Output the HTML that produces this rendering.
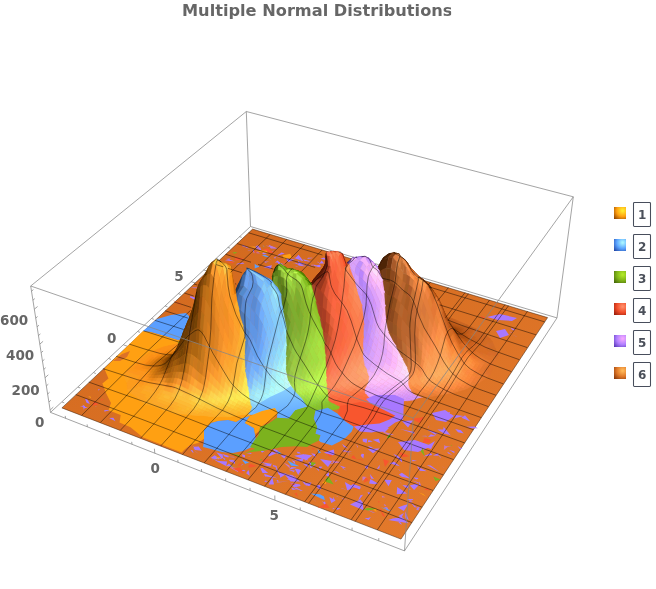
<!DOCTYPE html>
<html><head><meta charset="utf-8"><title>Multiple Normal Distributions</title>
<style>
html,body{margin:0;padding:0;background:#fff}
svg{display:block}
text{font-family:"DejaVu Sans","Liberation Sans",sans-serif;font-weight:bold;fill:#666}
.m{fill:none;stroke:#000;stroke-opacity:.75;stroke-width:.6;stroke-linejoin:round}
.b{fill:none;stroke:#858585;stroke-width:.75}
.s path{stroke-width:.5;stroke-linejoin:round}
</style></head><body>
<svg width="656" height="589" viewBox="0 0 656 589">
<rect width="656" height="589" fill="#fff"/>
<path class="b" d="M50.5 412.4 L404.5 550.9 M404.5 550.9 L557.0 317.9 M557.0 317.9 L250.5 226.5 M250.5 226.5 L50.5 412.4 M50.5 412.4 L30.7 286.0 M250.5 226.5 L246.3 111.5 M557.0 317.9 L573.3 196.8 M30.7 286.0 L246.3 111.5 M246.3 111.5 L573.3 196.8"/>
<path class="b" d="M65.6 418.4 l-0.4 -2.5 M62.0 402.0 l2.3 0.9 M87.4 426.9 l-0.3 -2.5 M78.0 387.1 l2.3 0.9 M109.5 435.6 l-0.3 -2.5 M93.5 372.6 l2.3 0.9 M132.0 444.3 l-0.3 -2.5 M108.6 358.5 l2.4 0.9 M154.8 453.3 l-0.4 -4.6 M123.3 344.8 l4.3 1.5 M178.0 462.3 l-0.2 -2.5 M137.6 331.5 l2.4 0.8 M201.6 471.5 l-0.2 -2.5 M151.5 318.5 l2.4 0.8 M225.7 480.9 l-0.1 -2.5 M165.0 305.9 l2.4 0.8 M250.1 490.4 l-0.1 -2.5 M178.2 293.6 l2.4 0.8 M274.9 500.1 l-0.1 -4.6 M191.0 281.6 l4.4 1.4 M300.2 510.0 l-0.0 -2.5 M203.6 269.9 l2.4 0.8 M325.9 520.0 l0.0 -2.5 M215.8 258.5 l2.4 0.7 M352.0 530.2 l0.1 -2.5 M227.7 247.4 l2.4 0.7 M378.7 540.6 l0.1 -2.5 M239.3 236.6 l2.4 0.7 M50.2 410.0 l3.1 -2.9 M49.0 402.0 l1.8 -1.7 M47.7 394.0 l1.8 -1.7 M46.4 385.9 l1.9 -1.7 M45.1 377.7 l3.2 -2.9 M43.8 369.4 l1.9 -1.7 M42.5 361.1 l1.9 -1.7 M41.2 352.6 l1.9 -1.6 M39.8 344.1 l3.3 -2.8 M38.5 335.5 l1.9 -1.6 M37.1 326.8 l1.9 -1.6 M35.7 318.1 l1.9 -1.6 M34.3 309.2 l3.3 -2.7 M32.9 300.2 l1.9 -1.6 M31.5 291.2 l1.9 -1.6"/>
<defs><linearGradient id="fg" gradientUnits="userSpaceOnUse" x1="252" y1="229" x2="400" y2="540"><stop offset="0" stop-color="#d36a1f"/><stop offset="1" stop-color="#e3792b"/></linearGradient></defs><path fill="url(#fg)" stroke="#3a1c06" stroke-width=".5" stroke-linejoin="round" d="M61.9 407.9 401.0 539.1 547.6 317.6 252.6 229.1 Z"/>
<path fill="#a878ff" d="M333.3 496.7 333.1 501.0 335.2 500.7ZM419.5 507.5 419.1 506.5 416.0 509.2 418.3 510.5ZM400.1 482.0 400.0 482.3 402.4 484.9ZM334.9 508.3 332.8 507.9 332.7 509.6ZM315.9 464.0 308.4 461.8 310.7 468.4ZM288.4 466.5 288.2 466.0 287.6 465.9 285.1 464.5ZM416.9 466.3 419.8 470.7 426.8 471.3ZM271.8 463.6 262.7 464.9 270.6 466.5ZM411.2 489.7 408.4 488.3 409.0 489.6ZM363.1 494.8 360.4 495.2 358.2 500.2 360.2 498.6ZM337.4 496.1 336.1 496.0 337.9 496.8 338.6 498.6ZM387.1 507.3 383.9 507.2 386.2 508.8 388.4 509.5ZM413.2 501.6 409.6 501.2 408.1 503.2ZM477.9 428.2 474.4 426.6 466.4 426.7 471.9 428.2ZM355.9 443.9 358.0 446.8 357.9 448.0ZM414.6 433.7 413.9 431.7 408.0 430.7 399.4 428.8ZM321.5 488.3 319.9 487.0 316.8 487.8ZM400.3 522.3 397.5 521.2 400.7 524.2 402.1 524.6ZM371.2 493.0 367.4 492.0 367.8 492.8 368.7 494.4ZM378.0 483.6 370.3 479.0 369.1 483.4 374.6 484.3ZM335.7 500.4 329.2 497.1 331.0 502.3 331.4 503.0ZM329.0 472.1 325.7 475.1 328.8 477.1ZM339.6 460.1 340.9 460.4 342.8 461.1ZM399.9 466.3 394.3 461.7 389.3 463.3ZM384.9 504.2 383.6 505.0 386.2 506.3ZM391.8 480.1 384.2 479.7 388.5 486.3ZM368.5 464.8 364.6 467.1 367.3 469.3ZM438.3 453.0 433.0 455.4 438.7 455.3ZM342.0 443.8 343.9 447.1 348.2 448.4ZM408.6 523.2 402.2 517.3 392.7 518.5 388.2 519.9ZM267.7 481.4 265.8 480.5 264.4 481.2 265.0 481.9ZM377.5 460.0 376.9 459.6 378.1 461.1ZM322.7 466.8 319.8 466.6 318.7 466.9 320.2 469.1ZM317.0 496.6 322.4 498.8 323.3 499.5ZM454.5 451.5 448.9 449.7 455.6 454.0 454.4 453.2ZM403.9 513.1 398.4 516.0 401.4 518.1ZM407.1 493.6 397.2 487.0 396.7 494.3ZM300.6 485.9 300.0 484.6 290.0 482.8 294.2 487.4ZM429.7 424.6 428.4 427.5 427.7 428.1ZM410.7 502.2 414.5 507.3 417.5 506.9 419.1 508.9ZM365.3 508.9 372.7 512.4 375.5 512.9ZM462.5 449.1 458.9 446.8 457.5 446.0 459.6 448.8ZM353.8 487.0 344.8 482.1 347.2 490.2 351.6 488.7ZM405.3 511.3 405.4 517.3 405.6 518.3 408.8 519.9ZM413.4 499.7 412.6 498.9 406.6 499.1 410.3 500.7ZM437.9 454.5 439.1 455.4 440.5 457.0 440.9 458.6ZM442.3 425.3 443.6 427.0 442.8 432.1 450.8 435.5ZM362.8 502.6 360.3 499.5 350.0 504.4 363.6 510.2ZM348.3 451.5 348.4 455.0 348.8 455.7ZM448.5 452.2 447.2 452.1 448.2 453.5 452.2 455.1ZM432.4 455.0 430.6 453.1 423.3 456.5ZM305.2 482.7 305.0 482.3 301.9 481.0 306.8 486.5ZM401.9 472.7 398.8 474.4 401.8 476.8 410.8 478.7ZM272.2 477.3 268.5 484.5 273.7 484.4 273.9 483.8ZM382.6 449.5 382.9 450.2 382.3 450.5ZM264.5 451.0 260.8 451.1 262.0 452.8ZM228.5 455.8 222.4 454.1 224.5 456.4 228.5 457.4ZM448.9 433.5 448.1 432.0 442.5 432.9 447.5 434.5ZM330.2 463.8 331.6 463.3 333.3 463.5ZM465.0 415.3 464.4 415.7 461.5 417.7 470.3 421.6ZM326.0 504.1 321.9 501.1 326.1 506.8ZM298.2 483.4 288.1 479.1 286.5 479.1ZM302.7 490.3 299.9 489.8 299.7 490.8ZM341.8 450.4 343.7 450.5 352.5 454.0ZM427.3 436.5 426.0 435.7 421.0 435.9ZM364.0 454.0 361.7 453.7 360.7 455.8 363.4 458.4ZM247.3 460.3 246.6 459.4 245.8 459.4ZM337.7 480.5 335.3 480.5 335.2 481.7ZM352.1 451.9 347.7 451.3 343.9 449.9 343.3 452.0ZM378.8 438.8 372.6 439.8 380.2 443.3ZM325.1 501.6 324.5 501.4 323.8 503.6 326.0 505.3ZM409.1 485.7 402.3 484.9 406.5 488.2 407.8 487.8ZM444.4 467.6 444.2 467.3 441.3 466.4ZM340.7 508.4 336.4 507.5 336.7 510.0ZM417.8 479.0 418.5 477.9 412.9 477.3 416.2 479.4ZM417.1 460.9 412.1 459.7 412.7 460.0 411.6 461.3ZM369.9 473.9 371.0 478.6 374.0 479.0ZM346.8 470.7 342.0 468.2 346.2 467.6 339.5 465.6ZM245.1 455.2 242.1 454.2 242.5 456.6 244.9 457.6ZM304.3 454.1 294.0 455.8 303.3 459.2 308.2 460.4ZM397.6 468.4 398.1 469.0 399.4 470.6 400.3 470.6ZM419.6 481.2 419.0 484.6 421.1 486.6ZM373.1 447.4 367.8 445.7 370.0 448.1 371.3 447.9ZM233.8 467.7 231.4 465.4 226.1 466.0ZM333.8 449.5 323.9 452.4 330.9 455.8 334.6 454.6ZM227.2 461.4 215.9 460.7 226.1 466.1ZM291.2 487.5 292.7 490.0 295.7 489.4 295.4 489.1ZM276.4 453.3 272.0 451.8 268.1 455.0 268.9 456.4ZM264.5 456.8 263.4 456.5 270.8 459.6ZM320.0 485.1 316.5 485.6 317.3 488.0 320.9 489.4ZM401.9 459.5 397.4 455.5 393.3 454.1 402.2 462.5ZM288.3 481.5 276.0 482.1 277.6 482.6ZM385.9 501.8 385.7 501.4 385.3 502.2ZM430.7 465.5 426.8 465.1 440.0 472.3ZM412.3 480.4 419.0 483.4 418.3 482.3ZM348.1 490.8 341.9 487.9 340.9 487.9ZM273.0 465.0 272.9 466.2 276.7 467.3 276.7 466.1ZM437.6 435.8 434.2 435.3 432.4 435.2ZM296.2 487.4 294.8 488.7 302.9 490.9ZM367.3 438.8 362.6 438.7 362.8 441.5 366.6 442.9ZM333.5 507.0 335.5 506.9 337.4 506.4ZM370.9 517.0 367.9 518.1 364.5 518.0 368.7 519.9ZM286.9 456.5 282.8 455.8 283.0 456.5 284.2 456.8ZM435.4 436.0 430.9 434.2 428.0 437.1ZM372.8 441.6 371.6 440.9 368.5 440.0 367.7 442.2ZM439.5 433.8 426.7 429.4 436.5 435.6 435.0 433.6ZM220.2 459.1 214.7 455.3 210.6 457.9 215.7 459.3ZM346.9 499.8 345.6 499.4 346.3 499.9ZM408.1 504.3 404.0 505.3 397.8 507.4 403.8 511.1ZM311.5 482.6 303.3 483.7 308.4 485.9 310.0 485.8ZM315.1 500.8 311.4 497.8 316.9 502.5ZM340.3 474.1 337.0 471.5 336.0 471.4 332.9 471.2ZM360.8 486.7 353.2 484.0 350.1 486.0 359.9 489.4ZM451.3 446.5 445.5 446.0 447.4 447.6 444.5 447.1ZM279.5 481.1 278.0 480.9 270.8 480.4ZM460.9 430.2 455.2 428.9 458.0 432.3 463.8 433.6ZM418.9 485.0 416.3 483.7 409.9 485.4 414.1 490.1ZM286.7 455.1 280.5 455.5 284.3 458.4ZM445.2 432.8 443.7 429.4 437.3 429.4 444.8 433.9ZM463.9 416.1 454.6 415.1 455.6 416.9 452.4 418.7ZM346.2 500.1 344.1 499.1 342.9 498.3 341.6 498.4ZM379.8 464.8 376.7 469.3 379.4 468.3ZM278.3 480.6 277.2 480.0 276.6 480.5 278.5 482.8ZM292.6 475.3 284.3 474.1 290.7 481.6 300.1 481.5ZM237.6 265.1 238.0 265.6 241.2 267.5 242.7 268.8ZM230.1 258.9 231.0 258.8 224.0 257.4ZM269.1 261.3 266.0 261.7 263.6 261.0 265.6 262.7ZM229.3 280.5 228.6 279.6 225.3 277.5 220.2 279.5ZM277.7 248.5 268.4 244.8 270.8 248.5ZM302.2 263.8 300.6 263.2 297.9 266.2ZM207.9 281.0 205.5 280.1 200.7 281.2ZM291.3 264.3 294.4 265.5 297.0 267.1 298.0 267.1ZM235.2 261.5 229.7 259.7 229.3 258.9 225.0 260.3ZM243.1 245.3 241.6 246.1 247.3 247.2ZM268.1 266.7 266.0 266.4 264.6 266.4 271.2 268.8ZM190.4 296.2 189.8 297.2 195.4 300.0 197.2 298.9ZM320.3 264.8 313.5 265.8 319.8 267.3 320.6 267.1ZM277.3 260.4 277.6 262.5 278.2 263.8 284.9 266.2ZM201.2 287.5 190.8 287.6 194.6 288.3ZM270.9 267.3 272.1 265.3 263.2 266.9 270.1 268.8ZM272.1 260.4 270.1 259.0 267.9 257.9ZM201.0 293.4 202.0 293.4 200.2 294.9ZM325.1 268.5 324.9 267.4 323.1 267.6ZM327.4 260.2 324.0 257.4 320.4 258.8ZM275.8 256.5 273.5 258.0 275.4 258.4ZM297.8 260.6 298.9 264.5 302.0 264.2ZM317.3 261.6 319.3 262.8 317.9 262.7ZM189.9 296.1 191.1 297.5 195.7 297.6ZM277.4 260.5 275.0 262.7 278.0 262.2ZM271.7 266.4 270.7 267.3 270.0 267.7 270.9 268.5ZM306.7 264.2 299.9 262.5 299.0 263.6 301.4 264.5ZM251.5 250.3 247.2 250.6 248.9 250.8ZM244.6 263.5 242.9 262.5 237.0 263.7 235.9 264.4ZM228.8 275.4 223.0 274.6 227.8 276.0ZM284.9 264.0 281.8 263.0 278.9 262.7ZM299.2 263.7 295.7 264.3 299.2 264.5ZM294.4 262.4 299.6 265.8 306.7 266.4ZM260.5 248.0 256.1 248.6 257.7 249.3 261.3 250.3ZM254.6 252.4 253.8 249.7 252.7 250.1 254.0 253.5ZM272.7 259.5 275.3 260.5 277.3 261.3ZM246.4 246.8 245.3 247.3 249.7 248.8ZM295.0 259.3 286.5 258.9 287.2 260.4 288.4 262.0ZM280.7 257.8 277.5 256.7 275.7 256.7ZM319.2 267.6 315.1 265.0 312.0 264.8ZM309.5 266.3 306.2 264.0 306.1 264.7 310.8 267.3ZM300.5 264.1 298.8 263.5 291.8 264.0ZM284.9 256.7 286.9 259.7 292.7 261.4ZM324.2 263.5 321.7 260.4 318.5 264.5 320.4 263.6ZM260.0 253.5 257.3 251.8 257.1 251.5 255.8 253.1ZM267.1 254.0 263.5 252.2 262.1 254.1ZM298.5 254.7 295.6 257.7 293.2 257.7 303.5 261.2ZM284.7 253.4 281.6 252.6 276.4 256.1ZM300.1 259.8 298.9 257.6 302.3 262.5ZM274.2 250.4 273.5 250.8 272.6 251.0 270.2 253.0ZM258.8 246.1 257.2 245.4 255.0 247.3 258.6 247.7ZM311.6 261.6 303.1 259.3 304.5 261.0ZM312.7 257.9 312.2 257.8 308.1 257.8 307.2 259.1ZM260.0 248.3 261.1 247.7 255.4 247.0 253.2 246.8ZM306.7 260.7 307.6 261.6 314.1 264.3 316.9 265.7ZM256.9 249.6 257.1 248.5 255.7 248.7 254.7 248.1ZM258.1 249.1 259.2 248.4 257.9 248.4ZM113.3 417.7 109.1 418.0 115.5 421.3ZM87.4 399.6 85.1 398.9 86.6 402.7 89.9 403.9ZM96.4 405.9 95.1 406.3 96.1 406.5ZM85.2 406.3 82.6 404.8 83.9 410.1ZM111.3 409.7 104.2 410.2 104.5 411.5 104.0 411.8ZM100.2 389.4 98.2 389.2 97.9 390.6ZM75.6 404.2 76.0 403.7 75.2 404.9ZM88.5 408.2 82.9 405.8 79.8 405.9ZM193.2 446.1 194.8 450.1 200.0 450.6ZM220.5 462.2 211.4 458.0 218.8 462.6ZM198.7 446.5 194.1 446.7 193.5 448.5 201.9 450.9ZM212.4 456.6 212.2 457.8 212.8 462.0ZM192.2 449.9 190.6 450.2 192.9 452.7 193.6 452.4ZM196.7 452.6 191.6 447.9 199.1 454.3ZM231.2 465.8 229.0 463.5 225.8 466.3ZM221.3 458.5 221.5 457.3 217.9 460.0ZM245.5 470.6 243.1 469.8 241.7 470.8 244.7 471.3ZM286.8 473.8 279.2 472.5 280.2 477.8ZM265.8 452.9 262.2 450.7 256.0 447.8ZM269.6 463.5 260.5 462.1 261.4 462.4 270.2 465.6ZM315.1 453.9 311.2 453.3 313.8 456.0 315.9 456.9ZM303.4 458.5 293.5 460.1 298.4 460.9 302.4 461.7ZM268.6 468.4 265.3 468.9 266.0 469.2ZM264.1 473.8 265.0 476.5 265.9 476.5 277.5 478.2ZM319.3 471.5 318.3 468.7 316.0 468.3ZM235.1 457.5 233.4 456.8 232.1 456.7 226.6 456.8ZM262.6 467.9 260.3 468.3 262.6 473.0 268.1 473.0ZM222.6 454.6 216.3 452.2 221.9 458.7 223.0 457.3ZM251.0 456.9 249.2 456.5 247.0 456.5ZM251.3 454.1 251.3 453.1 246.3 452.8 246.1 453.1ZM294.6 461.2 291.5 460.3 295.5 464.4ZM277.6 450.3 272.0 448.6 277.9 454.6ZM300.9 453.5 299.2 452.0 296.7 451.8 297.7 453.5ZM288.5 469.7 293.8 471.9 294.9 470.5ZM308.2 464.9 306.8 464.2 303.1 464.1 308.6 467.7ZM275.9 465.4 275.6 467.5 278.7 474.5 280.3 475.4ZM249.2 471.8 248.3 470.1 246.2 473.3 249.6 475.7ZM225.5 459.1 221.5 456.4 224.6 460.0ZM301.0 470.3 298.1 469.0 294.7 468.7 298.2 475.1ZM312.4 455.6 304.9 454.2 305.2 460.8ZM243.8 464.6 241.6 464.4 241.2 465.4ZM296.8 467.5 291.5 467.0 289.2 469.3 291.0 469.3ZM312.5 456.6 313.2 458.4 314.1 459.1ZM235.2 460.0 229.3 459.7 228.9 460.3 230.9 462.0ZM235.1 460.9 231.2 461.8 232.5 462.2 234.8 464.0ZM499.0 320.3 497.0 320.7 497.1 321.5 497.8 321.5ZM515.6 329.8 511.5 328.1 510.6 328.3 513.2 330.4ZM484.0 390.5 483.6 390.9 483.6 391.4ZM517.5 336.4 515.9 335.9 512.1 335.5ZM487.0 317.0 500.0 314.0 517.0 318.0 512.0 321.0 498.0 320.0ZM496.0 331.0 505.0 329.0 509.0 335.0 500.0 338.0ZM432.0 413.0 445.0 410.0 454.0 416.0 446.0 422.0 436.0 420.0ZM398.0 442.0 415.0 440.0 432.0 446.0 418.0 452.0 404.0 450.0ZM402.0 421.0 413.0 420.6 408.0 427.6ZM425.0 447.0 435.0 441.0 431.0 449.0ZM443.0 414.0 450.0 412.0 449.0 420.0ZM367.6 449.0 379.5 448.4 373.0 453.3ZM320.0 459.0 332.0 461.0 328.0 467.0ZM359.6 424.6 389.0 428.0 385.0 432.0 360.0 431.0Z"/>
<path fill="#c878c0" d="M289.7 474.0 293.4 477.0 295.6 475.9 295.9 477.0ZM447.5 446.9 444.1 444.9 444.3 445.8 443.8 450.0ZM366.9 477.1 362.4 476.5 362.5 480.7 362.1 481.3ZM394.0 434.4 380.9 430.9 388.9 435.6ZM283.4 462.5 289.5 465.5 290.0 468.4ZM385.5 497.3 382.8 496.1 381.9 495.7 382.0 497.5ZM239.8 468.2 229.3 467.2 237.9 472.1ZM266.2 250.1 265.7 249.7 263.4 251.7 264.7 252.1ZM272.8 248.0 275.9 248.2 272.0 246.6 265.3 245.5ZM238.4 258.6 237.2 258.5 235.8 258.5ZM245.9 245.5 243.8 245.2 241.8 244.7ZM311.7 262.7 312.0 263.7 311.3 265.9 312.7 266.5ZM191.5 446.8 184.9 445.9 184.4 446.4ZM264.4 474.5 264.1 476.2 263.5 476.4ZM341.3 462.3 331.8 460.2 333.5 462.3 330.3 463.8ZM509.1 331.9 510.2 331.8 514.1 332.9ZM494.2 317.2 493.2 317.0 493.2 317.2 497.9 319.4Z"/>
<path fill="#7cb21e" d="M273.1 473.0 272.8 472.9 271.0 473.1ZM450.7 445.5 451.1 444.8 452.6 445.5ZM422.8 447.7 420.7 451.2 424.7 456.3ZM390.5 433.4 388.2 435.5 386.8 438.2 389.6 438.1ZM240.4 456.8 238.4 454.8 229.1 453.0ZM440.7 479.5 433.2 476.6 435.5 480.9ZM377.2 508.8 367.7 507.7 363.4 509.5 368.1 510.5ZM328.4 476.2 324.0 481.2 333.7 484.4ZM237.5 252.3 232.3 252.3 234.6 253.7ZM232.6 465.4 230.9 466.0 232.5 467.3ZM316.1 462.8 310.7 461.9 311.6 467.1 312.8 465.9ZM263.7 459.7 261.1 458.9 258.8 461.0Z"/>
<path fill="#f8562e" d="M430.4 490.6 426.2 487.7 424.3 489.8ZM363.1 460.4 363.4 460.0 361.8 459.5 353.4 458.4ZM382.1 509.4 379.7 509.2 380.0 511.8ZM332.5 455.0 326.3 453.4 330.8 457.6 330.5 457.3ZM256.8 466.0 250.0 463.7 248.1 466.3 249.4 467.7ZM398.7 431.4 394.4 428.1 394.2 428.6ZM379.9 502.1 378.3 500.9 378.1 502.4 378.9 502.2ZM312.9 448.0 311.8 448.0 312.7 449.6 314.9 450.3ZM353.4 454.9 351.1 457.4 352.8 458.5 356.5 458.9ZM430.9 439.5 424.5 438.1 422.8 443.1 429.7 442.7ZM296.2 492.0 296.1 493.3 294.4 493.5 298.0 496.9ZM414.0 434.2 412.1 433.4 412.5 435.6 413.6 435.8ZM419.1 442.1 419.1 442.4 419.5 442.5ZM379.6 507.9 382.5 515.5 385.8 517.5ZM358.1 482.2 351.7 483.3 353.1 483.7ZM326.3 503.5 317.5 507.5 329.5 507.9ZM369.0 480.2 365.9 477.0 363.6 482.7 366.5 481.5ZM412.4 504.9 413.6 505.3 414.5 506.1 417.6 506.5ZM361.5 489.7 354.9 488.3 352.4 489.0ZM288.7 483.1 293.4 485.3 295.4 483.9ZM367.5 476.0 369.7 478.8 370.8 478.3ZM409.3 456.2 398.7 451.6 398.7 451.8 402.2 457.3ZM259.7 253.6 257.2 252.3 254.2 250.9 253.6 252.0ZM246.8 269.5 245.0 268.6 245.4 268.0 244.3 268.1ZM233.5 263.5 233.2 262.5 234.7 262.1 223.7 261.4ZM244.3 258.8 235.0 257.0 235.6 260.6ZM172.2 300.1 180.1 303.6 181.4 305.2ZM285.9 261.8 285.2 261.4 281.0 261.5 285.2 262.9ZM243.8 270.9 242.2 270.5 242.1 270.0ZM227.1 274.8 223.7 276.2 227.1 278.9ZM267.6 248.3 261.7 249.9 267.1 252.3 274.4 253.5ZM98.8 404.3 93.8 401.5 92.4 405.7ZM86.2 389.3 87.4 390.6 88.6 391.8ZM113.3 400.9 113.0 401.0 111.3 401.6 113.4 402.1ZM108.4 389.0 109.7 388.5 105.9 389.8ZM103.6 399.4 102.1 398.9 101.8 398.8 100.8 400.7ZM216.5 462.2 211.0 459.9 210.1 460.0ZM239.9 467.4 232.5 468.4 244.0 473.9ZM270.7 459.4 261.3 459.2 264.5 461.9 264.1 462.4ZM241.8 464.5 239.6 463.2 237.7 466.1ZM215.3 454.1 216.6 453.8 209.9 450.8ZM291.3 464.6 291.4 464.2 291.7 464.9ZM269.1 450.6 268.3 449.8 263.8 448.8 263.3 449.0ZM300.4 461.2 299.9 467.0 299.3 465.8ZM480.9 315.8 481.4 317.3 484.5 318.4 486.9 318.5ZM411.0 419.0 424.0 417.0 420.0 423.0ZM383.0 459.0 389.0 461.0 385.0 467.0Z"/>
<path fill="#ffa012" d="M376.1 508.7 373.2 509.6 376.5 512.1ZM426.2 496.7 423.1 494.1 418.5 492.3ZM315.6 465.4 308.1 465.1 308.8 465.9ZM278.8 481.4 278.8 481.9 280.5 482.2ZM326.0 479.7 322.1 483.1 326.1 483.9ZM255.8 247.7 255.1 246.7 254.4 246.6 247.6 247.0ZM291.7 257.7 290.3 253.8 282.5 255.4 283.9 259.0ZM268.1 253.2 266.7 250.8 262.1 250.5 256.8 251.3ZM90.9 396.9 90.1 396.6 88.1 396.6 90.8 398.0ZM225.5 466.9 228.8 466.4 230.7 467.0 232.3 466.8ZM162.1 438.3 152.6 441.0 160.5 442.2 161.3 442.7ZM221.8 456.7 215.9 457.5 217.3 458.8ZM497.8 322.0 494.9 322.1 494.7 323.5Z"/>
<path fill="#5b9fff" d="M317.7 449.0 318.1 453.3 321.1 452.8ZM324.0 496.4 320.0 494.2 310.5 493.6 324.8 500.3ZM380.5 506.9 388.1 510.7 391.6 510.5ZM287.3 460.6 291.2 465.8 299.4 466.3ZM259.8 266.5 256.2 265.0 254.7 263.8 254.7 268.4ZM263.0 246.2 264.2 246.3 261.8 244.6 264.7 247.1ZM326.2 271.2 322.6 269.6 324.2 272.1ZM216.1 269.5 211.6 270.6 211.4 270.9ZM265.1 254.7 261.9 255.1 264.7 256.4 270.0 257.5ZM241.6 459.2 244.9 463.4 244.9 464.0 249.1 462.6ZM281.8 453.5 277.2 450.8 278.5 453.9Z"/>
<path fill="#ffa012" d="M105.0 368.0 143.0 331.0 151.0 332.0 165.0 336.0 178.0 340.0 230.0 360.0 262.0 400.0 250.0 416.0 243.0 418.0 236.0 422.0 228.0 420.0 218.0 421.0 211.0 423.0 204.0 430.0 205.0 438.0 198.0 443.0 190.0 445.0 184.0 450.0 181.7 452.5 142.7 437.3 130.5 427.3 119.5 422.4 120.7 415.0 108.5 410.2 111.0 402.9 106.0 393.0 102.4 383.4 108.5 378.5 104.9 370.0 Z"/>
<path fill="#dc7228" d="M113.0 361.0 122.0 354.0 130.0 351.0 127.0 357.0 120.0 361.0 Z"/>
<path fill="#5b9fff" d="M143.0 331.0 157.0 319.0 171.0 315.0 186.0 313.0 190.0 317.0 192.0 330.0 186.0 338.0 178.0 340.0 165.0 336.0 151.0 332.0 Z"/>
<path fill="#5b9fff" d="M262.0 395.0 330.0 395.0 328.0 408.0 315.5 410.2 307.0 407.0 295.0 410.0 289.0 418.6 277.0 417.7 278.0 413.0 275.0 408.0 262.0 411.0 Z"/>

<g class="s">
<path fill="#c0601e" stroke="#c0601e" d="M442.8 316.9 445.9 317.8 446.5 316.9 443.2 316.4ZM445.9 317.8 448.9 318.7 449.6 317.7 446.5 316.9ZM448.9 318.7 451.9 319.7 452.6 318.7 449.6 317.7Z"/>
<path fill="#c6601e" stroke="#c6601e" d="M451.9 319.7 454.8 320.8 455.5 319.8 452.6 318.7Z"/>
<path fill="#c66624" stroke="#c66624" d="M454.8 320.8 457.7 321.9 458.4 321 455.5 319.8Z"/>
<path fill="#cc6624" stroke="#cc6624" d="M457.7 321.9 460.7 322.9 461.2 322.2 458.4 321ZM460.7 322.9 463.6 323.9 463.9 323.5 461.2 322.2ZM463.6 323.9 466.6 324.9 466.7 324.8 463.9 323.5Z"/>
<path fill="#c66624" stroke="#c66624" d="M466.6 324.9 467.9 325.4 466.7 324.8Z"/>
<path fill="#c05a1e" stroke="#c05a1e" d="M442 318.1 445.1 319 445.9 317.8 442.8 316.9ZM445.1 319 448.2 319.9 448.9 318.7 445.9 317.8Z"/>
<path fill="#c0601e" stroke="#c0601e" d="M448.2 319.9 451.1 320.9 451.9 319.7 448.9 318.7Z"/>
<path fill="#c6601e" stroke="#c6601e" d="M451.1 320.9 454 322 454.8 320.8 451.9 319.7ZM454 322 456.8 323.2 457.7 321.9 454.8 320.8Z"/>
<path fill="#c66624" stroke="#c66624" d="M456.8 323.2 459.7 324.3 460.7 322.9 457.7 321.9ZM459.7 324.3 462.6 325.4 463.6 323.9 460.7 322.9ZM462.6 325.4 465.6 326.4 466.6 324.9 463.6 323.9Z"/>
<path fill="#c6601e" stroke="#c6601e" d="M465.6 326.4 468.6 327.4 469.5 326.1 467.9 325.4 466.6 324.9ZM468.6 327.4 471.6 328.4 472.4 327.3 469.5 326.1Z"/>
<path fill="#c66624" stroke="#c66624" d="M471.6 328.4 474.5 329.5 475.3 328.5 472.4 327.3Z"/>
<path fill="#cc6624" stroke="#cc6624" d="M474.5 329.5 477.5 330.5 478.2 329.7 475.3 328.5ZM477.5 330.5 480.6 331.6 480.9 331.2 478.2 329.7ZM480.6 331.6 482.1 332.1 480.9 331.2Z"/>
<path fill="#ba5a18" stroke="#ba5a18" d="M444.6 320 447.5 321 448.2 319.9 445.1 319Z"/>
<path fill="#ba5a1e" stroke="#ba5a1e" d="M447.5 321 450.4 322 451.1 320.9 448.2 319.9Z"/>
<path fill="#c0601e" stroke="#c0601e" d="M450.4 322 453.3 323.1 454 322 451.1 320.9Z"/>
<path fill="#c6601e" stroke="#c6601e" d="M453.3 323.1 456.1 324.4 456.8 323.2 454 322ZM456.1 324.4 458.8 325.6 459.7 324.3 456.8 323.2ZM458.8 325.6 461.7 326.7 462.6 325.4 459.7 324.3Z"/>
<path fill="#c0601e" stroke="#c0601e" d="M461.7 326.7 464.6 327.7 465.6 326.4 462.6 325.4ZM464.6 327.7 467.6 328.7 468.6 327.4 465.6 326.4Z"/>
<path fill="#c6601e" stroke="#c6601e" d="M467.6 328.7 470.5 329.8 471.6 328.4 468.6 327.4ZM470.5 329.8 473.5 330.9 474.5 329.5 471.6 328.4Z"/>
<path fill="#cc6624" stroke="#cc6624" d="M473.5 330.9 476.4 332.1 477.5 330.5 474.5 329.5ZM476.4 332.1 479.4 333.2 480.6 331.6 477.5 330.5ZM479.4 333.2 482.4 334.3 483.3 333 482.1 332.1 480.6 331.6ZM482.4 334.3 485.4 335.3 485.7 335 483.3 333ZM485.4 335.3 486.5 335.7 485.7 335Z"/>
<path fill="#ba5a18" stroke="#ba5a18" d="M446.4 322.1 449.3 323.2 450.4 322 447.5 321ZM449.3 323.2 452.2 324.3 453.3 323.1 450.4 322Z"/>
<path fill="#c05a18" stroke="#c05a18" d="M452.2 324.3 455.1 325.5 456.1 324.4 453.3 323.1ZM455.1 325.5 458 326.7 458.8 325.6 456.1 324.4Z"/>
<path fill="#ba5a18" stroke="#ba5a18" d="M458 326.7 460.9 327.8 461.7 326.7 458.8 325.6ZM460.9 327.8 463.8 328.9 464.6 327.7 461.7 326.7Z"/>
<path fill="#c05a1e" stroke="#c05a1e" d="M463.8 328.9 466.7 330 467.6 328.7 464.6 327.7Z"/>
<path fill="#c0601e" stroke="#c0601e" d="M466.7 330 469.6 331.1 470.5 329.8 467.6 328.7Z"/>
<path fill="#c6601e" stroke="#c6601e" d="M469.6 331.1 472.5 332.3 473.5 330.9 470.5 329.8Z"/>
<path fill="#cc6624" stroke="#cc6624" d="M472.5 332.3 475.3 333.5 476.4 332.1 473.5 330.9ZM475.3 333.5 478.2 334.8 479.4 333.2 476.4 332.1ZM478.2 334.8 481.2 335.9 482.4 334.3 479.4 333.2ZM481.2 335.9 484.2 337 485.4 335.3 482.4 334.3ZM484.2 337 487.3 338.1 488.1 337 486.5 335.7 485.4 335.3Z"/>
<path fill="#d26624" stroke="#d26624" d="M487.3 338.1 490.4 339.2 490.4 339.1 488.1 337ZM490.4 339.2 490.5 339.2 490.4 339.1Z"/>
<path fill="#b45418" stroke="#b45418" d="M448.1 324.2 451 325.4 452.2 324.3 449.3 323.2ZM451 325.4 453.9 326.5 455.1 325.5 452.2 324.3Z"/>
<path fill="#b45412" stroke="#b45412" d="M453.9 326.5 456.8 327.6 458 326.7 455.1 325.5ZM456.8 327.6 459.7 328.8 460.9 327.8 458 326.7Z"/>
<path fill="#b45418" stroke="#b45418" d="M459.7 328.8 462.6 330 463.8 328.9 460.9 327.8Z"/>
<path fill="#ba5a18" stroke="#ba5a18" d="M462.6 330 465.6 331.2 466.7 330 463.8 328.9Z"/>
<path fill="#c05a1e" stroke="#c05a1e" d="M465.6 331.2 468.5 332.4 469.6 331.1 466.7 330Z"/>
<path fill="#c6601e" stroke="#c6601e" d="M468.5 332.4 471.4 333.6 472.5 332.3 469.6 331.1Z"/>
<path fill="#cc661e" stroke="#cc661e" d="M471.4 333.6 474.3 334.9 475.3 333.5 472.5 332.3Z"/>
<path fill="#cc6624" stroke="#cc6624" d="M474.3 334.9 477.1 336.2 478.2 334.8 475.3 333.5ZM477.1 336.2 480.1 337.4 481.2 335.9 478.2 334.8ZM480.1 337.4 483 338.6 484.2 337 481.2 335.9ZM483 338.6 486.1 339.7 487.3 338.1 484.2 337Z"/>
<path fill="#d26624" stroke="#d26624" d="M486.1 339.7 489.1 340.8 490.4 339.2 487.3 338.1Z"/>
<path fill="#d26c24" stroke="#d26c24" d="M489.1 340.8 492.2 342 492.4 341.7 490.5 339.2 490.4 339.2ZM492.2 342 492.5 342.1 492.4 341.7Z"/>
<path fill="#a84e12" stroke="#a84e12" d="M449.9 326.1 452.8 327.2 453.9 326.5 451 325.4ZM452.8 327.2 455.7 328.3 456.8 327.6 453.9 326.5ZM455.7 328.3 458.6 329.5 459.7 328.8 456.8 327.6Z"/>
<path fill="#ae4e12" stroke="#ae4e12" d="M458.6 329.5 461.5 330.8 462.6 330 459.7 328.8Z"/>
<path fill="#b45418" stroke="#b45418" d="M461.5 330.8 464.4 332.2 465.6 331.2 462.6 330Z"/>
<path fill="#c05a18" stroke="#c05a18" d="M464.4 332.2 467.3 333.6 468.5 332.4 465.6 331.2Z"/>
<path fill="#c6601e" stroke="#c6601e" d="M467.3 333.6 470.2 335 471.4 333.6 468.5 332.4Z"/>
<path fill="#cc661e" stroke="#cc661e" d="M470.2 335 473.1 336.3 474.3 334.9 471.4 333.6ZM473.1 336.3 476.1 337.6 477.1 336.2 474.3 334.9Z"/>
<path fill="#cc6624" stroke="#cc6624" d="M476.1 337.6 479 338.9 480.1 337.4 477.1 336.2ZM479 338.9 481.9 340.2 483 338.6 480.1 337.4ZM481.9 340.2 484.9 341.3 486.1 339.7 483 338.6Z"/>
<path fill="#d26c24" stroke="#d26c24" d="M484.9 341.3 487.9 342.5 489.1 340.8 486.1 339.7ZM487.9 342.5 491 343.6 492.2 342 489.1 340.8Z"/>
<path fill="#d26c2a" stroke="#d26c2a" d="M491 343.6 493.6 344.7 492.5 342.1 492.2 342Z"/>
<path fill="#96420c" stroke="#96420c" d="M448.7 326.4 451.7 327.5 452.8 327.2 449.9 326.1ZM451.7 327.5 454.6 328.6 455.7 328.3 452.8 327.2Z"/>
<path fill="#9c480c" stroke="#9c480c" d="M454.6 328.6 457.5 329.9 458.6 329.5 455.7 328.3Z"/>
<path fill="#a84e12" stroke="#a84e12" d="M457.5 329.9 460.4 331.4 461.5 330.8 458.6 329.5Z"/>
<path fill="#b45412" stroke="#b45412" d="M460.4 331.4 463.3 333 464.4 332.2 461.5 330.8Z"/>
<path fill="#ba5a18" stroke="#ba5a18" d="M463.3 333 466.1 334.7 467.3 333.6 464.4 332.2Z"/>
<path fill="#c6601e" stroke="#c6601e" d="M466.1 334.7 469 336.2 470.2 335 467.3 333.6ZM469 336.2 471.9 337.6 473.1 336.3 470.2 335ZM471.9 337.6 474.9 338.9 476.1 337.6 473.1 336.3Z"/>
<path fill="#cc661e" stroke="#cc661e" d="M474.9 338.9 477.8 340.3 479 338.9 476.1 337.6Z"/>
<path fill="#cc6624" stroke="#cc6624" d="M477.8 340.3 480.8 341.6 481.9 340.2 479 338.9Z"/>
<path fill="#d26624" stroke="#d26624" d="M480.8 341.6 483.7 342.9 484.9 341.3 481.9 340.2Z"/>
<path fill="#d26c24" stroke="#d26c24" d="M483.7 342.9 486.7 344.2 487.9 342.5 484.9 341.3Z"/>
<path fill="#d26c2a" stroke="#d26c2a" d="M486.7 344.2 489.7 345.3 491 343.6 487.9 342.5ZM489.7 345.3 492.8 346.5 493.8 345.2 493.6 344.7 491 343.6ZM492.8 346.5 494.6 347.2 493.8 345.2Z"/>
<path fill="#8a3c0c" stroke="#8a3c0c" d="M450.5 327.3 453.5 328.6 454.6 328.6 451.7 327.5Z"/>
<path fill="#96420c" stroke="#96420c" d="M453.5 328.6 456.4 330 457.5 329.9 454.6 328.6Z"/>
<path fill="#a2480c" stroke="#a2480c" d="M456.4 330 459.3 331.7 460.4 331.4 457.5 329.9Z"/>
<path fill="#ae4e12" stroke="#ae4e12" d="M459.3 331.7 462.1 333.6 463.3 333 460.4 331.4Z"/>
<path fill="#ba5412" stroke="#ba5412" d="M462.1 333.6 465 335.4 466.1 334.7 463.3 333Z"/>
<path fill="#c05a18" stroke="#c05a18" d="M465 335.4 467.9 337.2 469 336.2 466.1 334.7Z"/>
<path fill="#c6601e" stroke="#c6601e" d="M467.9 337.2 470.8 338.7 471.9 337.6 469 336.2ZM470.8 338.7 473.7 340.2 474.9 338.9 471.9 337.6ZM473.7 340.2 476.6 341.6 477.8 340.3 474.9 338.9Z"/>
<path fill="#cc661e" stroke="#cc661e" d="M476.6 341.6 479.6 343 480.8 341.6 477.8 340.3Z"/>
<path fill="#d26624" stroke="#d26624" d="M479.6 343 482.5 344.5 483.7 342.9 480.8 341.6Z"/>
<path fill="#d26c24" stroke="#d26c24" d="M482.5 344.5 485.4 345.8 486.7 344.2 483.7 342.9Z"/>
<path fill="#d86c2a" stroke="#d86c2a" d="M485.4 345.8 488.5 347.1 489.7 345.3 486.7 344.2Z"/>
<path fill="#d26c2a" stroke="#d26c2a" d="M488.5 347.1 491.5 348.3 492.8 346.5 489.7 345.3Z"/>
<path fill="#d26c24" stroke="#d26c24" d="M491.5 348.3 494.7 349.4 495.3 348.6 494.6 347.2 492.8 346.5ZM494.7 349.4 496.1 349.9 495.3 348.6Z"/>
<path fill="#843c0c" stroke="#843c0c" d="M449.4 326.5 452.3 328.2 453.5 328.6 450.5 327.3Z"/>
<path fill="#90420c" stroke="#90420c" d="M452.3 328.2 455.2 330 456.4 330 453.5 328.6Z"/>
<path fill="#a2480c" stroke="#a2480c" d="M455.2 330 458.1 331.8 459.3 331.7 456.4 330Z"/>
<path fill="#ae4e12" stroke="#ae4e12" d="M458.1 331.8 461 333.8 462.1 333.6 459.3 331.7Z"/>
<path fill="#b45412" stroke="#b45412" d="M461 333.8 463.9 335.9 465 335.4 462.1 333.6Z"/>
<path fill="#ba5412" stroke="#ba5412" d="M463.9 335.9 466.7 337.9 467.9 337.2 465 335.4Z"/>
<path fill="#c05a18" stroke="#c05a18" d="M466.7 337.9 469.6 339.7 470.8 338.7 467.9 337.2Z"/>
<path fill="#c66018" stroke="#c66018" d="M469.6 339.7 472.5 341.3 473.7 340.2 470.8 338.7Z"/>
<path fill="#c6601e" stroke="#c6601e" d="M472.5 341.3 475.4 342.9 476.6 341.6 473.7 340.2Z"/>
<path fill="#cc661e" stroke="#cc661e" d="M475.4 342.9 478.4 344.4 479.6 343 476.6 341.6Z"/>
<path fill="#d26c24" stroke="#d26c24" d="M478.4 344.4 481.3 346 482.5 344.5 479.6 343Z"/>
<path fill="#d86c24" stroke="#d86c24" d="M481.3 346 484.3 347.4 485.4 345.8 482.5 344.5Z"/>
<path fill="#d86c2a" stroke="#d86c2a" d="M484.3 347.4 487.2 348.8 488.5 347.1 485.4 345.8Z"/>
<path fill="#d26c2a" stroke="#d26c2a" d="M487.2 348.8 490.3 350 491.5 348.3 488.5 347.1Z"/>
<path fill="#d26c24" stroke="#d26c24" d="M490.3 350 493.4 351.1 494.7 349.4 491.5 348.3ZM493.4 351.1 496.5 352.3 497 351.6 496.1 349.9 494.7 349.4ZM496.5 352.3 497.6 352.7 497 351.6Z"/>
<path fill="#90420c" stroke="#90420c" d="M451.2 327.2 454.1 329.6 455.2 330 452.3 328.2Z"/>
<path fill="#a2480c" stroke="#a2480c" d="M454.1 329.6 457 331.8 458.1 331.8 455.2 330Z"/>
<path fill="#a84e12" stroke="#a84e12" d="M457 331.8 459.9 334 461 333.8 458.1 331.8Z"/>
<path fill="#ae4e12" stroke="#ae4e12" d="M459.9 334 462.8 336.2 463.9 335.9 461 333.8ZM462.8 336.2 465.6 338.3 466.7 337.9 463.9 335.9Z"/>
<path fill="#b45412" stroke="#b45412" d="M465.6 338.3 468.5 340.4 469.6 339.7 466.7 337.9Z"/>
<path fill="#c05a18" stroke="#c05a18" d="M468.5 340.4 471.3 342.3 472.5 341.3 469.6 339.7Z"/>
<path fill="#cc601e" stroke="#cc601e" d="M471.3 342.3 474.2 344.1 475.4 342.9 472.5 341.3Z"/>
<path fill="#d26624" stroke="#d26624" d="M474.2 344.1 477.2 345.7 478.4 344.4 475.4 342.9Z"/>
<path fill="#d26c24" stroke="#d26c24" d="M477.2 345.7 480.1 347.4 481.3 346 478.4 344.4Z"/>
<path fill="#d86c24" stroke="#d86c24" d="M480.1 347.4 483.1 349 484.3 347.4 481.3 346ZM483.1 349 486 350.4 487.2 348.8 484.3 347.4Z"/>
<path fill="#d26c24" stroke="#d26c24" d="M486 350.4 489 351.7 490.3 350 487.2 348.8ZM489 351.7 492.1 352.9 493.4 351.1 490.3 350Z"/>
<path fill="#d26c2a" stroke="#d26c2a" d="M492.1 352.9 495.3 354.1 496.5 352.3 493.4 351.1ZM495.3 354.1 498.2 355.2 497.6 352.7 496.5 352.3Z"/>
<path fill="#90420c" stroke="#90420c" d="M450.1 325.7 453 328.8 454.1 329.6 451.2 327.2Z"/>
<path fill="#9c480c" stroke="#9c480c" d="M453 328.8 455.9 331.6 457 331.8 454.1 329.6Z"/>
<path fill="#a84e12" stroke="#a84e12" d="M455.9 331.6 458.8 334 459.9 334 457 331.8ZM458.8 334 461.6 336.2 462.8 336.2 459.9 334Z"/>
<path fill="#ae4e12" stroke="#ae4e12" d="M461.6 336.2 464.5 338.5 465.6 338.3 462.8 336.2Z"/>
<path fill="#b45412" stroke="#b45412" d="M464.5 338.5 467.3 340.8 468.5 340.4 465.6 338.3Z"/>
<path fill="#c05a18" stroke="#c05a18" d="M467.3 340.8 470.2 343.1 471.3 342.3 468.5 340.4Z"/>
<path fill="#cc601e" stroke="#cc601e" d="M470.2 343.1 473.1 345.2 474.2 344.1 471.3 342.3Z"/>
<path fill="#d26624" stroke="#d26624" d="M473.1 345.2 475.9 347.1 477.2 345.7 474.2 344.1Z"/>
<path fill="#d86c24" stroke="#d86c24" d="M475.9 347.1 478.9 348.8 480.1 347.4 477.2 345.7ZM478.9 348.8 481.8 350.4 483.1 349 480.1 347.4ZM481.8 350.4 484.8 352 486 350.4 483.1 349ZM484.8 352 487.8 353.4 489 351.7 486 350.4Z"/>
<path fill="#d86c2a" stroke="#d86c2a" d="M487.8 353.4 490.9 354.7 492.1 352.9 489 351.7ZM490.9 354.7 494 355.9 495.3 354.1 492.1 352.9ZM494 355.9 497.2 357.1 498.1 355.8 498.2 355.2 495.3 354.1Z"/>
<path fill="#d8722a" stroke="#d8722a" d="M497.2 357.1 497.8 357.3 498.1 355.8Z"/>
<path fill="#96420c" stroke="#96420c" d="M451.9 327.5 454.8 330.8 455.9 331.6 453 328.8Z"/>
<path fill="#a2480c" stroke="#a2480c" d="M454.8 330.8 457.7 333.6 458.8 334 455.9 331.6Z"/>
<path fill="#a84812" stroke="#a84812" d="M457.7 333.6 460.5 336.1 461.6 336.2 458.8 334Z"/>
<path fill="#a84e12" stroke="#a84e12" d="M460.5 336.1 463.4 338.5 464.5 338.5 461.6 336.2Z"/>
<path fill="#b45412" stroke="#b45412" d="M463.4 338.5 466.2 341.1 467.3 340.8 464.5 338.5Z"/>
<path fill="#ba5a18" stroke="#ba5a18" d="M466.2 341.1 469 343.7 470.2 343.1 467.3 340.8Z"/>
<path fill="#cc601e" stroke="#cc601e" d="M469 343.7 471.9 346.2 473.1 345.2 470.2 343.1Z"/>
<path fill="#d86c24" stroke="#d86c24" d="M471.9 346.2 474.7 348.3 475.9 347.1 473.1 345.2ZM474.7 348.3 477.6 350.2 478.9 348.8 475.9 347.1ZM477.6 350.2 480.6 351.9 481.8 350.4 478.9 348.8ZM480.6 351.9 483.6 353.5 484.8 352 481.8 350.4ZM483.6 353.5 486.6 355 487.8 353.4 484.8 352Z"/>
<path fill="#d86c2a" stroke="#d86c2a" d="M486.6 355 489.6 356.4 490.9 354.7 487.8 353.4Z"/>
<path fill="#d8722a" stroke="#d8722a" d="M489.6 356.4 492.7 357.7 494 355.9 490.9 354.7ZM492.7 357.7 495.9 359 497.2 357.1 494 355.9ZM495.9 359 496.7 359.3 497.8 357.3 497.2 357.1Z"/>
<path fill="#90420c" stroke="#90420c" d="M450.8 325.8 453.7 329.5 454.8 330.8 451.9 327.5Z"/>
<path fill="#96420c" stroke="#96420c" d="M453.7 329.5 456.6 332.8 457.7 333.6 454.8 330.8Z"/>
<path fill="#a2480c" stroke="#a2480c" d="M456.6 332.8 459.4 335.8 460.5 336.1 457.7 333.6Z"/>
<path fill="#ae4e12" stroke="#ae4e12" d="M459.4 335.8 462.3 338.6 463.4 338.5 460.5 336.1Z"/>
<path fill="#ba5412" stroke="#ba5412" d="M462.3 338.6 465.1 341.4 466.2 341.1 463.4 338.5Z"/>
<path fill="#c05a18" stroke="#c05a18" d="M465.1 341.4 467.9 344.3 469 343.7 466.2 341.1Z"/>
<path fill="#cc601e" stroke="#cc601e" d="M467.9 344.3 470.7 347.1 471.9 346.2 469 343.7Z"/>
<path fill="#d26624" stroke="#d26624" d="M470.7 347.1 473.5 349.5 474.7 348.3 471.9 346.2Z"/>
<path fill="#d86c24" stroke="#d86c24" d="M473.5 349.5 476.4 351.6 477.6 350.2 474.7 348.3ZM476.4 351.6 479.4 353.4 480.6 351.9 477.6 350.2Z"/>
<path fill="#d86c2a" stroke="#d86c2a" d="M479.4 353.4 482.3 355 483.6 353.5 480.6 351.9Z"/>
<path fill="#d8722a" stroke="#d8722a" d="M482.3 355 485.3 356.6 486.6 355 483.6 353.5Z"/>
<path fill="#de722a" stroke="#de722a" d="M485.3 356.6 488.3 358.1 489.6 356.4 486.6 355ZM488.3 358.1 491.4 359.6 492.7 357.7 489.6 356.4ZM491.4 359.6 494.6 360.9 495.9 359 492.7 357.7ZM494.6 360.9 495.2 361.1 496.7 359.3 495.9 359Z"/>
<path fill="#8a3c0c" stroke="#8a3c0c" d="M449.7 323.8 452.6 327.6 453.7 329.5 450.8 325.8Z"/>
<path fill="#90420c" stroke="#90420c" d="M452.6 327.6 455.5 331.5 456.6 332.8 453.7 329.5Z"/>
<path fill="#9c480c" stroke="#9c480c" d="M455.5 331.5 458.3 335.2 459.4 335.8 456.6 332.8Z"/>
<path fill="#ae4e12" stroke="#ae4e12" d="M458.3 335.2 461.2 338.6 462.3 338.6 459.4 335.8Z"/>
<path fill="#c05a18" stroke="#c05a18" d="M461.2 338.6 464 341.8 465.1 341.4 462.3 338.6Z"/>
<path fill="#cc601e" stroke="#cc601e" d="M464 341.8 466.7 344.9 467.9 344.3 465.1 341.4Z"/>
<path fill="#cc661e" stroke="#cc661e" d="M466.7 344.9 469.5 347.9 470.7 347.1 467.9 344.3Z"/>
<path fill="#d2661e" stroke="#d2661e" d="M469.5 347.9 472.3 350.6 473.5 349.5 470.7 347.1Z"/>
<path fill="#d86c24" stroke="#d86c24" d="M472.3 350.6 475.2 352.9 476.4 351.6 473.5 349.5Z"/>
<path fill="#de722a" stroke="#de722a" d="M475.2 352.9 478.1 354.9 479.4 353.4 476.4 351.6ZM478.1 354.9 481.1 356.6 482.3 355 479.4 353.4ZM481.1 356.6 484.1 358.3 485.3 356.6 482.3 355ZM484.1 358.3 487.1 359.9 488.3 358.1 485.3 356.6ZM487.1 359.9 490.1 361.4 491.4 359.6 488.3 358.1ZM490.1 361.4 493.3 362.8 494.6 360.9 491.4 359.6ZM493.3 362.8 493.8 363 495.2 361.1 494.6 360.9Z"/>
<path fill="#8a3c0c" stroke="#8a3c0c" d="M448.6 321.7 451.5 325.6 452.6 327.6 449.7 323.8Z"/>
<path fill="#90420c" stroke="#90420c" d="M451.5 325.6 454.4 329.9 455.5 331.5 452.6 327.6Z"/>
<path fill="#9c480c" stroke="#9c480c" d="M454.4 329.9 457.3 334.5 458.3 335.2 455.5 331.5Z"/>
<path fill="#b45412" stroke="#b45412" d="M457.3 334.5 460 338.7 461.2 338.6 458.3 335.2Z"/>
<path fill="#c66018" stroke="#c66018" d="M460 338.7 462.8 342.5 464 341.8 461.2 338.6Z"/>
<path fill="#d8661e" stroke="#d8661e" d="M462.8 342.5 465.6 345.8 466.7 344.9 464 341.8Z"/>
<path fill="#d86c24" stroke="#d86c24" d="M465.6 345.8 468.4 348.8 469.5 347.9 466.7 344.9ZM468.4 348.8 471.2 351.6 472.3 350.6 469.5 347.9Z"/>
<path fill="#de6c24" stroke="#de6c24" d="M471.2 351.6 474 354.2 475.2 352.9 472.3 350.6Z"/>
<path fill="#de722a" stroke="#de722a" d="M474 354.2 476.9 356.4 478.1 354.9 475.2 352.9Z"/>
<path fill="#e4782a" stroke="#e4782a" d="M476.9 356.4 479.8 358.3 481.1 356.6 478.1 354.9Z"/>
<path fill="#e47830" stroke="#e47830" d="M479.8 358.3 482.8 360 484.1 358.3 481.1 356.6ZM482.8 360 485.8 361.7 487.1 359.9 484.1 358.3ZM485.8 361.7 488.8 363.2 490.1 361.4 487.1 359.9Z"/>
<path fill="#de722a" stroke="#de722a" d="M488.8 363.2 492 364.6 493.3 362.8 490.1 361.4ZM492 364.6 492.9 365 493.8 363 493.3 362.8Z"/>
<path fill="#843c0c" stroke="#843c0c" d="M444.4 314.5 447.4 319.3 448.6 321.7 445.6 317.7Z"/>
<path fill="#8a3c0c" stroke="#8a3c0c" d="M447.4 319.3 450.4 323.7 451.5 325.6 448.6 321.7Z"/>
<path fill="#96420c" stroke="#96420c" d="M450.4 323.7 453.3 328.4 454.4 329.9 451.5 325.6Z"/>
<path fill="#a2480c" stroke="#a2480c" d="M453.3 328.4 456.2 333.7 457.3 334.5 454.4 329.9Z"/>
<path fill="#b45412" stroke="#b45412" d="M456.2 333.7 458.9 338.8 460 338.7 457.3 334.5Z"/>
<path fill="#cc601e" stroke="#cc601e" d="M458.9 338.8 461.6 343.2 462.8 342.5 460 338.7Z"/>
<path fill="#de6c24" stroke="#de6c24" d="M461.6 343.2 464.4 346.8 465.6 345.8 462.8 342.5Z"/>
<path fill="#e4722a" stroke="#e4722a" d="M464.4 346.8 467.2 349.9 468.4 348.8 465.6 345.8Z"/>
<path fill="#de7224" stroke="#de7224" d="M467.2 349.9 469.9 352.8 471.2 351.6 468.4 348.8ZM469.9 352.8 472.8 355.4 474 354.2 471.2 351.6Z"/>
<path fill="#e4782a" stroke="#e4782a" d="M472.8 355.4 475.6 357.9 476.9 356.4 474 354.2Z"/>
<path fill="#ea7830" stroke="#ea7830" d="M475.6 357.9 478.5 360 479.8 358.3 476.9 356.4Z"/>
<path fill="#ea7e30" stroke="#ea7e30" d="M478.5 360 481.5 361.8 482.8 360 479.8 358.3Z"/>
<path fill="#ea7830" stroke="#ea7830" d="M481.5 361.8 484.5 363.5 485.8 361.7 482.8 360Z"/>
<path fill="#e47830" stroke="#e47830" d="M484.5 363.5 487.5 365.1 488.8 363.2 485.8 361.7Z"/>
<path fill="#de722a" stroke="#de722a" d="M487.5 365.1 490.7 366.5 492 364.6 488.8 363.2ZM490.7 366.5 492.4 367.2 492.9 365 492 364.6Z"/>
<path fill="#723006" stroke="#723006" d="M426.7 283 430.8 287.6 432.2 290.8 428.9 287.1Z"/>
<path fill="#843c0c" stroke="#843c0c" d="M430.8 287.6 434.1 292.5 435.3 295.8 432.2 290.8Z"/>
<path fill="#7e360c" stroke="#7e360c" d="M434.1 292.5 437.2 298 438.4 302 435.3 295.8ZM443.3 310.6 446.3 316.6 447.4 319.3 444.4 314.5Z"/>
<path fill="#90420c" stroke="#90420c" d="M446.3 316.6 449.3 322.2 450.4 323.7 447.4 319.3Z"/>
<path fill="#a24812" stroke="#a24812" d="M449.3 322.2 452.2 327.6 453.3 328.4 450.4 323.7Z"/>
<path fill="#ae5412" stroke="#ae5412" d="M452.2 327.6 455 333.3 456.2 333.7 453.3 328.4Z"/>
<path fill="#ba5418" stroke="#ba5418" d="M455 333.3 457.8 338.9 458.9 338.8 456.2 333.7Z"/>
<path fill="#c6601e" stroke="#c6601e" d="M457.8 338.9 460.5 343.9 461.6 343.2 458.9 338.8Z"/>
<path fill="#de6c24" stroke="#de6c24" d="M460.5 343.9 463.2 348 464.4 346.8 461.6 343.2Z"/>
<path fill="#ea782a" stroke="#ea782a" d="M463.2 348 465.9 351.3 467.2 349.9 464.4 346.8Z"/>
<path fill="#ea7830" stroke="#ea7830" d="M465.9 351.3 468.7 354.1 469.9 352.8 467.2 349.9ZM468.7 354.1 471.5 356.9 472.8 355.4 469.9 352.8Z"/>
<path fill="#f07830" stroke="#f07830" d="M471.5 356.9 474.4 359.4 475.6 357.9 472.8 355.4Z"/>
<path fill="#f07e30" stroke="#f07e30" d="M474.4 359.4 477.3 361.7 478.5 360 475.6 357.9Z"/>
<path fill="#f07e36" stroke="#f07e36" d="M477.3 361.7 480.2 363.7 481.5 361.8 478.5 360Z"/>
<path fill="#ea7e36" stroke="#ea7e36" d="M480.2 363.7 483.2 365.4 484.5 363.5 481.5 361.8Z"/>
<path fill="#e47830" stroke="#e47830" d="M483.2 365.4 486.2 366.9 487.5 365.1 484.5 363.5Z"/>
<path fill="#de722a" stroke="#de722a" d="M486.2 366.9 489.4 368.3 490.7 366.5 487.5 365.1ZM489.4 368.3 492 369.4 492.4 367.2 490.7 366.5Z"/>
<path fill="#723006" stroke="#723006" d="M417.9 276.2 424 280.1 426.7 283 421.9 279.4Z"/>
<path fill="#843c0c" stroke="#843c0c" d="M424 280.1 429.1 285.2 430.8 287.6 426.7 283Z"/>
<path fill="#90420c" stroke="#90420c" d="M429.1 285.2 432.8 290.3 434.1 292.5 430.8 287.6Z"/>
<path fill="#8a3c0c" stroke="#8a3c0c" d="M432.8 290.3 435.9 295 437.2 298 434.1 292.5Z"/>
<path fill="#7e360c" stroke="#7e360c" d="M435.9 295 439 300.1 440.2 304.1 437.2 298ZM439 300.1 442.1 306.6 443.3 310.6 440.2 304.1Z"/>
<path fill="#843c0c" stroke="#843c0c" d="M442.1 306.6 445.1 313.9 446.3 316.6 443.3 310.6Z"/>
<path fill="#96420c" stroke="#96420c" d="M445.1 313.9 448.1 321 449.3 322.2 446.3 316.6Z"/>
<path fill="#b45412" stroke="#b45412" d="M448.1 321 451 327.5 452.2 327.6 449.3 322.2Z"/>
<path fill="#c05a18" stroke="#c05a18" d="M451 327.5 453.9 333.6 455 333.3 452.2 327.6Z"/>
<path fill="#c6601e" stroke="#c6601e" d="M453.9 333.6 456.6 339.4 457.8 338.9 455 333.3Z"/>
<path fill="#cc601e" stroke="#cc601e" d="M456.6 339.4 459.3 344.6 460.5 343.9 457.8 338.9Z"/>
<path fill="#d86c24" stroke="#d86c24" d="M459.3 344.6 462 349.1 463.2 348 460.5 343.9Z"/>
<path fill="#ea7830" stroke="#ea7830" d="M462 349.1 464.7 352.7 465.9 351.3 463.2 348Z"/>
<path fill="#f68436" stroke="#f68436" d="M464.7 352.7 467.4 355.8 468.7 354.1 465.9 351.3Z"/>
<path fill="#fc8436" stroke="#fc8436" d="M467.4 355.8 470.2 358.5 471.5 356.9 468.7 354.1Z"/>
<path fill="#f68436" stroke="#f68436" d="M470.2 358.5 473.1 361.1 474.4 359.4 471.5 356.9ZM473.1 361.1 476 363.5 477.3 361.7 474.4 359.4ZM476 363.5 478.9 365.6 480.2 363.7 477.3 361.7Z"/>
<path fill="#f07e36" stroke="#f07e36" d="M478.9 365.6 481.9 367.3 483.2 365.4 480.2 363.7Z"/>
<path fill="#e47830" stroke="#e47830" d="M481.9 367.3 484.9 368.8 486.2 366.9 483.2 365.4Z"/>
<path fill="#de722a" stroke="#de722a" d="M484.9 368.8 488.1 370.2 489.4 368.3 486.2 366.9ZM488.1 370.2 491.2 371.5 491.7 370.9 492 369.4 489.4 368.3Z"/>
<path fill="#d8722a" stroke="#d8722a" d="M491.2 371.5 491.6 371.6 491.7 370.9Z"/>
<path fill="#5a2406" stroke="#5a2406" d="M409.9 267.1 412.5 269.5 414.4 272.5 412.2 271.3Z"/>
<path fill="#78360c" stroke="#78360c" d="M412.5 269.5 416 273.6 417.9 276.2 414.4 272.5Z"/>
<path fill="#8a3c0c" stroke="#8a3c0c" d="M416 273.6 421.2 278.3 424 280.1 417.9 276.2Z"/>
<path fill="#90420c" stroke="#90420c" d="M421.2 278.3 427.3 283 429.1 285.2 424 280.1Z"/>
<path fill="#96420c" stroke="#96420c" d="M427.3 283 431.4 288.4 432.8 290.3 429.1 285.2ZM431.4 288.4 434.7 293 435.9 295 432.8 290.3Z"/>
<path fill="#90420c" stroke="#90420c" d="M434.7 293 437.8 297.7 439 300.1 435.9 295ZM437.8 297.7 440.9 303.8 442.1 306.6 439 300.1Z"/>
<path fill="#96420c" stroke="#96420c" d="M440.9 303.8 443.9 311.8 445.1 313.9 442.1 306.6Z"/>
<path fill="#a24812" stroke="#a24812" d="M443.9 311.8 446.9 320.3 448.1 321 445.1 313.9Z"/>
<path fill="#ba5a18" stroke="#ba5a18" d="M446.9 320.3 449.8 328.1 451 327.5 448.1 321Z"/>
<path fill="#d26624" stroke="#d26624" d="M449.8 328.1 452.7 334.7 453.9 333.6 451 327.5Z"/>
<path fill="#d86c24" stroke="#d86c24" d="M452.7 334.7 455.4 340.4 456.6 339.4 453.9 333.6ZM455.4 340.4 458.1 345.6 459.3 344.6 456.6 339.4ZM458.1 345.6 460.8 350.2 462 349.1 459.3 344.6Z"/>
<path fill="#ea782a" stroke="#ea782a" d="M460.8 350.2 463.4 354.2 464.7 352.7 462 349.1Z"/>
<path fill="#fc8436" stroke="#fc8436" d="M463.4 354.2 466.2 357.6 467.4 355.8 464.7 352.7Z"/>
<path fill="#fc903c" stroke="#fc903c" d="M466.2 357.6 468.9 360.5 470.2 358.5 467.4 355.8ZM468.9 360.5 471.8 363.1 473.1 361.1 470.2 358.5Z"/>
<path fill="#fc8a3c" stroke="#fc8a3c" d="M471.8 363.1 474.7 365.4 476 363.5 473.1 361.1Z"/>
<path fill="#f68436" stroke="#f68436" d="M474.7 365.4 477.6 367.4 478.9 365.6 476 363.5Z"/>
<path fill="#f07e36" stroke="#f07e36" d="M477.6 367.4 480.6 369.2 481.9 367.3 478.9 365.6Z"/>
<path fill="#e47830" stroke="#e47830" d="M480.6 369.2 483.6 370.7 484.9 368.8 481.9 367.3Z"/>
<path fill="#de7230" stroke="#de7230" d="M483.6 370.7 486.8 372.1 488.1 370.2 484.9 368.8Z"/>
<path fill="#de722a" stroke="#de722a" d="M486.8 372.1 489.9 373.4 491.2 371.5 488.1 370.2ZM489.9 373.4 490.7 373.7 491.6 371.6 491.2 371.5Z"/>
<path fill="#542406" stroke="#542406" d="M405.4 260.3 408.3 264.2 409.9 267.1 408 265.7Z"/>
<path fill="#8a3c0c" stroke="#8a3c0c" d="M408.3 264.2 411.4 268.6 412.5 269.5 409.9 267.1Z"/>
<path fill="#c05a18" stroke="#c05a18" d="M411.4 268.6 415 273.2 416 273.6 412.5 269.5Z"/>
<path fill="#ae4e12" stroke="#ae4e12" d="M415 273.2 419.3 277.4 421.2 278.3 416 273.6Z"/>
<path fill="#9c480c" stroke="#9c480c" d="M419.3 277.4 425.3 281.3 427.3 283 421.2 278.3Z"/>
<path fill="#90420c" stroke="#90420c" d="M425.3 281.3 429.9 286.5 431.4 288.4 427.3 283Z"/>
<path fill="#9c480c" stroke="#9c480c" d="M429.9 286.5 433.4 291.9 434.7 293 431.4 288.4Z"/>
<path fill="#ae4e12" stroke="#ae4e12" d="M433.4 291.9 436.5 297.1 437.8 297.7 434.7 293Z"/>
<path fill="#b45418" stroke="#b45418" d="M436.5 297.1 439.6 303.4 440.9 303.8 437.8 297.7ZM439.6 303.4 442.7 311.4 443.9 311.8 440.9 303.8ZM442.7 311.4 445.7 320.5 446.9 320.3 443.9 311.8Z"/>
<path fill="#c05a1e" stroke="#c05a1e" d="M445.7 320.5 448.6 329.1 449.8 328.1 446.9 320.3Z"/>
<path fill="#d26c24" stroke="#d26c24" d="M448.6 329.1 451.5 336.3 452.7 334.7 449.8 328.1Z"/>
<path fill="#e4782a" stroke="#e4782a" d="M451.5 336.3 454.2 342 455.4 340.4 452.7 334.7Z"/>
<path fill="#ea7830" stroke="#ea7830" d="M454.2 342 456.9 347 458.1 345.6 455.4 340.4Z"/>
<path fill="#e4782a" stroke="#e4782a" d="M456.9 347 459.5 351.6 460.8 350.2 458.1 345.6Z"/>
<path fill="#ea7830" stroke="#ea7830" d="M459.5 351.6 462.2 355.9 463.4 354.2 460.8 350.2Z"/>
<path fill="#fc8436" stroke="#fc8436" d="M462.2 355.9 464.8 359.5 466.2 357.6 463.4 354.2Z"/>
<path fill="#fc9042" stroke="#fc9042" d="M464.8 359.5 467.6 362.6 468.9 360.5 466.2 357.6Z"/>
<path fill="#fc9642" stroke="#fc9642" d="M467.6 362.6 470.4 365.1 471.8 363.1 468.9 360.5Z"/>
<path fill="#fc9042" stroke="#fc9042" d="M470.4 365.1 473.3 367.3 474.7 365.4 471.8 363.1Z"/>
<path fill="#f68436" stroke="#f68436" d="M473.3 367.3 476.3 369.3 477.6 367.4 474.7 365.4Z"/>
<path fill="#f07e36" stroke="#f07e36" d="M476.3 369.3 479.3 371.1 480.6 369.2 477.6 367.4Z"/>
<path fill="#e47830" stroke="#e47830" d="M479.3 371.1 482.3 372.6 483.6 370.7 480.6 369.2ZM482.3 372.6 485.4 374 486.8 372.1 483.6 370.7Z"/>
<path fill="#de7230" stroke="#de7230" d="M485.4 374 488.6 375.4 489.9 373.4 486.8 372.1ZM488.6 375.4 489.2 375.6 490.7 373.7 489.9 373.4Z"/>
<path fill="#421e06" stroke="#421e06" d="M398 254.3 394.5 253.1 401.5 257.6 401.2 257.7Z"/>
<path fill="#5a2406" stroke="#5a2406" d="M394.5 253.1 400.4 256.3 405.4 260.3 401.5 257.6Z"/>
<path fill="#7e3606" stroke="#7e3606" d="M400.4 256.3 407.1 262.4 408.3 264.2 405.4 260.3Z"/>
<path fill="#ae5412" stroke="#ae5412" d="M407.1 262.4 410.9 268.9 411.4 268.6 408.3 264.2Z"/>
<path fill="#ea7830" stroke="#ea7830" d="M410.9 268.9 414.7 274.1 415 273.2 411.4 268.6ZM414.7 274.1 418.6 277.5 419.3 277.4 415 273.2Z"/>
<path fill="#ba5418" stroke="#ba5418" d="M418.6 277.5 423.6 280.5 425.3 281.3 419.3 277.4Z"/>
<path fill="#9c480c" stroke="#9c480c" d="M423.6 280.5 428.4 285.1 429.9 286.5 425.3 281.3Z"/>
<path fill="#a84e12" stroke="#a84e12" d="M428.4 285.1 432.1 291.4 433.4 291.9 429.9 286.5Z"/>
<path fill="#c6601e" stroke="#c6601e" d="M432.1 291.4 435.3 298.3 436.5 297.1 433.4 291.9Z"/>
<path fill="#e47830" stroke="#e47830" d="M435.3 298.3 438.3 305.5 439.6 303.4 436.5 297.1Z"/>
<path fill="#d8722a" stroke="#d8722a" d="M438.3 305.5 441.4 313.4 442.7 311.4 439.6 303.4Z"/>
<path fill="#cc6624" stroke="#cc6624" d="M441.4 313.4 444.4 322.1 445.7 320.5 442.7 311.4ZM444.4 322.1 447.4 330.6 448.6 329.1 445.7 320.5Z"/>
<path fill="#d26c24" stroke="#d26c24" d="M447.4 330.6 450.2 338.1 451.5 336.3 448.6 329.1Z"/>
<path fill="#ea7830" stroke="#ea7830" d="M450.2 338.1 453 344 454.2 342 451.5 336.3Z"/>
<path fill="#f68436" stroke="#f68436" d="M453 344 455.6 349 456.9 347 454.2 342ZM455.6 349 458.2 353.5 459.5 351.6 456.9 347ZM458.2 353.5 460.9 357.7 462.2 355.9 459.5 351.6Z"/>
<path fill="#fc8a3c" stroke="#fc8a3c" d="M460.9 357.7 463.5 361.5 464.8 359.5 462.2 355.9Z"/>
<path fill="#fc9042" stroke="#fc9042" d="M463.5 361.5 466.2 364.7 467.6 362.6 464.8 359.5Z"/>
<path fill="#fc9648" stroke="#fc9648" d="M466.2 364.7 469.1 367.3 470.4 365.1 467.6 362.6Z"/>
<path fill="#fc9042" stroke="#fc9042" d="M469.1 367.3 472 369.4 473.3 367.3 470.4 365.1Z"/>
<path fill="#fc843c" stroke="#fc843c" d="M472 369.4 475 371.3 476.3 369.3 473.3 367.3Z"/>
<path fill="#f07e36" stroke="#f07e36" d="M475 371.3 478 373 479.3 371.1 476.3 369.3Z"/>
<path fill="#ea7830" stroke="#ea7830" d="M478 373 481 374.6 482.3 372.6 479.3 371.1Z"/>
<path fill="#e47830" stroke="#e47830" d="M481 374.6 484.1 376 485.4 374 482.3 372.6ZM484.1 376 487 377.3 487.8 376.6 488.6 375.4 485.4 374Z"/>
<path fill="#de7230" stroke="#de7230" d="M489.2 375.6 488.6 375.4 487.8 376.6Z"/>
<path fill="#421e06" stroke="#421e06" d="M399 254.4 399.1 253.9 398 254.3 399.8 256.1Z"/>
<path fill="#602a06" stroke="#602a06" d="M399.1 253.9 394.1 252.8 394.5 253.1 398 254.3Z"/>
<path fill="#ae4e12" stroke="#ae4e12" d="M394.1 252.8 398.9 255.7 400.4 256.3 394.5 253.1ZM398.9 255.7 406.4 262 407.1 262.4 400.4 256.3Z"/>
<path fill="#b45a18" stroke="#b45a18" d="M406.4 262 410.4 269.4 410.9 268.9 407.1 262.4Z"/>
<path fill="#de722a" stroke="#de722a" d="M410.4 269.4 414.6 275.1 414.7 274.1 410.9 268.9Z"/>
<path fill="#fc9648" stroke="#fc9648" d="M414.6 275.1 418.8 278.2 418.6 277.5 414.7 274.1Z"/>
<path fill="#fc843c" stroke="#fc843c" d="M418.8 278.2 422.8 281 423.6 280.5 418.6 277.5Z"/>
<path fill="#cc601e" stroke="#cc601e" d="M422.8 281 427.2 285.3 428.4 285.1 423.6 280.5Z"/>
<path fill="#c0601e" stroke="#c0601e" d="M427.2 285.3 430.9 292.3 432.1 291.4 428.4 285.1Z"/>
<path fill="#d26c24" stroke="#d26c24" d="M430.9 292.3 434 301 435.3 298.3 432.1 291.4Z"/>
<path fill="#ea7e36" stroke="#ea7e36" d="M434 301 437 309.6 438.3 305.5 435.3 298.3Z"/>
<path fill="#f0843c" stroke="#f0843c" d="M437 309.6 440.1 317.7 441.4 313.4 438.3 305.5Z"/>
<path fill="#ea7e36" stroke="#ea7e36" d="M440.1 317.7 443.2 325.4 444.4 322.1 441.4 313.4Z"/>
<path fill="#de7230" stroke="#de7230" d="M443.2 325.4 446.2 333 447.4 330.6 444.4 322.1Z"/>
<path fill="#de722a" stroke="#de722a" d="M446.2 333 449 340.1 450.2 338.1 447.4 330.6Z"/>
<path fill="#ea7830" stroke="#ea7830" d="M449 340.1 451.7 346.3 453 344 450.2 338.1Z"/>
<path fill="#fc8a3c" stroke="#fc8a3c" d="M451.7 346.3 454.3 351.4 455.6 349 453 344Z"/>
<path fill="#fc9042" stroke="#fc9042" d="M454.3 351.4 456.9 355.8 458.2 353.5 455.6 349ZM456.9 355.8 459.5 359.9 460.9 357.7 458.2 353.5ZM459.5 359.9 462.1 363.7 463.5 361.5 460.9 357.7ZM462.1 363.7 464.9 366.9 466.2 364.7 463.5 361.5Z"/>
<path fill="#fc9642" stroke="#fc9642" d="M464.9 366.9 467.7 369.4 469.1 367.3 466.2 364.7Z"/>
<path fill="#fc9042" stroke="#fc9042" d="M467.7 369.4 470.6 371.5 472 369.4 469.1 367.3Z"/>
<path fill="#fc8a3c" stroke="#fc8a3c" d="M470.6 371.5 473.6 373.3 475 371.3 472 369.4Z"/>
<path fill="#f07e36" stroke="#f07e36" d="M473.6 373.3 476.7 375 478 373 475 371.3Z"/>
<path fill="#ea7e36" stroke="#ea7e36" d="M476.7 375 479.7 376.5 481 374.6 478 373Z"/>
<path fill="#e47830" stroke="#e47830" d="M479.7 376.5 482.8 378 484.1 376 481 374.6ZM482.8 378 484.8 378.9 487 377.3 484.1 376Z"/>
<path fill="#361800" stroke="#361800" d="M377.8 269.7 379.6 264.9 381.3 263.6 378.9 272.2 378 271.8Z"/>
<path fill="#3c1800" stroke="#3c1800" d="M379.6 264.9 383.7 257.4 385.7 256.9 381.3 263.6ZM383.7 257.4 389.4 253.6 391 254.6 385.7 256.9Z"/>
<path fill="#421e00" stroke="#421e00" d="M389.4 253.6 394.2 252.8 395.6 254.3 391 254.6Z"/>
<path fill="#4e2406" stroke="#4e2406" d="M394.2 252.8 397.8 253.7 399 254.4 395.6 254.3Z"/>
<path fill="#6c3006" stroke="#6c3006" d="M397.8 253.7 399.9 255 399.1 253.9 399 254.4Z"/>
<path fill="#ae6024" stroke="#ae6024" d="M399.9 255 399.9 256.2 394.1 252.8 399.1 253.9Z"/>
<path fill="#fca25a" stroke="#fca25a" d="M399.9 256.2 402.6 258.8 398.9 255.7 394.1 252.8Z"/>
<path fill="#f0843c" stroke="#f0843c" d="M402.6 258.8 406.4 263.7 406.4 262 398.9 255.7Z"/>
<path fill="#cc6624" stroke="#cc6624" d="M406.4 263.7 410 270.3 410.4 269.4 406.4 262Z"/>
<path fill="#d26624" stroke="#d26624" d="M410 270.3 414.5 275.9 414.6 275.1 410.4 269.4Z"/>
<path fill="#fc8a42" stroke="#fc8a42" d="M414.5 275.9 418.9 279.7 418.8 278.2 414.6 275.1Z"/>
<path fill="#fcae5a" stroke="#fcae5a" d="M418.9 279.7 422.6 283.4 422.8 281 418.8 278.2Z"/>
<path fill="#fc9c4e" stroke="#fc9c4e" d="M422.6 283.4 426.3 288.1 427.2 285.3 422.8 281Z"/>
<path fill="#ea7e36" stroke="#ea7e36" d="M426.3 288.1 429.6 295.6 430.9 292.3 427.2 285.3Z"/>
<path fill="#de7230" stroke="#de7230" d="M429.6 295.6 432.6 305.2 434 301 430.9 292.3Z"/>
<path fill="#e47836" stroke="#e47836" d="M432.6 305.2 435.6 314.9 437 309.6 434 301Z"/>
<path fill="#f0843c" stroke="#f0843c" d="M435.6 314.9 438.8 323.2 440.1 317.7 437 309.6Z"/>
<path fill="#f68a42" stroke="#f68a42" d="M438.8 323.2 441.9 330.1 443.2 325.4 440.1 317.7ZM441.9 330.1 444.9 336.5 446.2 333 443.2 325.4Z"/>
<path fill="#f07e36" stroke="#f07e36" d="M444.9 336.5 447.7 342.8 449 340.1 446.2 333ZM447.7 342.8 450.4 348.8 451.7 346.3 449 340.1Z"/>
<path fill="#fc8a3c" stroke="#fc8a3c" d="M450.4 348.8 452.9 354.1 454.3 351.4 451.7 346.3Z"/>
<path fill="#fc9648" stroke="#fc9648" d="M452.9 354.1 455.5 358.6 456.9 355.8 454.3 351.4Z"/>
<path fill="#fc9c4e" stroke="#fc9c4e" d="M455.5 358.6 458.1 362.5 459.5 359.9 456.9 355.8Z"/>
<path fill="#fc9c48" stroke="#fc9c48" d="M458.1 362.5 460.7 366 462.1 363.7 459.5 359.9Z"/>
<path fill="#fc9648" stroke="#fc9648" d="M460.7 366 463.5 369 464.9 366.9 462.1 363.7Z"/>
<path fill="#fc9042" stroke="#fc9042" d="M463.5 369 466.3 371.5 467.7 369.4 464.9 366.9Z"/>
<path fill="#fc8a42" stroke="#fc8a42" d="M466.3 371.5 469.3 373.6 470.6 371.5 467.7 369.4Z"/>
<path fill="#fc8a3c" stroke="#fc8a3c" d="M469.3 373.6 472.3 375.4 473.6 373.3 470.6 371.5Z"/>
<path fill="#f08436" stroke="#f08436" d="M472.3 375.4 475.3 377.1 476.7 375 473.6 373.3Z"/>
<path fill="#f07e36" stroke="#f07e36" d="M475.3 377.1 478.3 378.6 479.7 376.5 476.7 375Z"/>
<path fill="#ea7e30" stroke="#ea7e30" d="M478.3 378.6 481.4 380.1 482.8 378 479.7 376.5Z"/>
<path fill="#e47830" stroke="#e47830" d="M481.4 380.1 482.5 380.6 484.8 378.9 482.8 378Z"/>
<path fill="#604284" stroke="#604284" d="M374 264.4 375.8 265.2 376.7 268.1 374.3 267.4Z"/>
<path fill="#7854ae" stroke="#7854ae" d="M375.8 265.2 378 267.4 377.7 269.3 376.7 268.1Z"/>
<path fill="#3c1800" stroke="#3c1800" d="M378 267.5 378.2 267.2 379.6 264.9 377.8 269.7ZM378.2 267.2 381.5 260.7 383.7 257.4 379.6 264.9Z"/>
<path fill="#421e00" stroke="#421e00" d="M381.5 260.7 386.8 255 389.4 253.6 383.7 257.4Z"/>
<path fill="#481e06" stroke="#481e06" d="M386.8 255 392 253.3 394.2 252.8 389.4 253.6Z"/>
<path fill="#7e3c0c" stroke="#7e3c0c" d="M392 253.3 396 254.3 397.8 253.7 394.2 252.8Z"/>
<path fill="#fc9654" stroke="#fc9654" d="M396 254.3 398.8 257.1 399.9 255 397.8 253.7Z"/>
<path fill="#de7e42" stroke="#de7e42" d="M398.8 257.1 401.3 260.8 399.9 256.2 399.9 255Z"/>
<path fill="#cc7236" stroke="#cc7236" d="M401.3 260.8 404 264.4 402.6 258.8 399.9 256.2Z"/>
<path fill="#ea8a48" stroke="#ea8a48" d="M404 264.4 406.7 268.1 406.4 263.7 402.6 258.8Z"/>
<path fill="#fc9048" stroke="#fc9048" d="M406.7 268.1 410 272.6 410 270.3 406.4 263.7Z"/>
<path fill="#e47830" stroke="#e47830" d="M410 272.6 414.2 277.2 414.5 275.9 410 270.3Z"/>
<path fill="#f08436" stroke="#f08436" d="M414.2 277.2 418.4 282.3 418.9 279.7 414.5 275.9Z"/>
<path fill="#fc9c54" stroke="#fc9c54" d="M418.4 282.3 421.9 288 422.6 283.4 418.9 279.7Z"/>
<path fill="#fc964e" stroke="#fc964e" d="M421.9 288 425.1 294.1 426.3 288.1 422.6 283.4Z"/>
<path fill="#f08442" stroke="#f08442" d="M425.1 294.1 428.1 301.8 429.6 295.6 426.3 288.1Z"/>
<path fill="#e47e36" stroke="#e47e36" d="M428.1 301.8 431.1 311.1 432.6 305.2 429.6 295.6Z"/>
<path fill="#e47836" stroke="#e47836" d="M431.1 311.1 434.3 320.7 435.6 314.9 432.6 305.2Z"/>
<path fill="#ea843c" stroke="#ea843c" d="M434.3 320.7 437.5 329 438.8 323.2 435.6 314.9Z"/>
<path fill="#fc9048" stroke="#fc9048" d="M437.5 329 440.7 335.5 441.9 330.1 438.8 323.2Z"/>
<path fill="#fc964e" stroke="#fc964e" d="M440.7 335.5 443.6 341 444.9 336.5 441.9 330.1Z"/>
<path fill="#fc9648" stroke="#fc9648" d="M443.6 341 446.4 346.3 447.7 342.8 444.9 336.5Z"/>
<path fill="#fc9042" stroke="#fc9042" d="M446.4 346.3 449.1 351.8 450.4 348.8 447.7 342.8ZM449.1 351.8 451.5 357 452.9 354.1 450.4 348.8Z"/>
<path fill="#fc9c48" stroke="#fc9c48" d="M451.5 357 454 361.6 455.5 358.6 452.9 354.1Z"/>
<path fill="#fca254" stroke="#fca254" d="M454 361.6 456.6 365.4 458.1 362.5 455.5 358.6ZM456.6 365.4 459.3 368.5 460.7 366 458.1 362.5Z"/>
<path fill="#fc9c4e" stroke="#fc9c4e" d="M459.3 368.5 462.1 371.2 463.5 369 460.7 366Z"/>
<path fill="#fc9042" stroke="#fc9042" d="M462.1 371.2 464.9 373.7 466.3 371.5 463.5 369Z"/>
<path fill="#fc8a42" stroke="#fc8a42" d="M464.9 373.7 467.9 375.8 469.3 373.6 466.3 371.5Z"/>
<path fill="#fc8a3c" stroke="#fc8a3c" d="M467.9 375.8 470.9 377.6 472.3 375.4 469.3 373.6Z"/>
<path fill="#f6843c" stroke="#f6843c" d="M470.9 377.6 473.9 379.2 475.3 377.1 472.3 375.4Z"/>
<path fill="#f07e36" stroke="#f07e36" d="M473.9 379.2 476.9 380.7 478.3 378.6 475.3 377.1Z"/>
<path fill="#ea7e36" stroke="#ea7e36" d="M476.9 380.7 480 382.2 480.1 382.1 481.4 380.1 478.3 378.6Z"/>
<path fill="#e47830" stroke="#e47830" d="M482.5 380.6 481.4 380.1 480.1 382.1Z"/>
<path fill="#60428a" stroke="#60428a" d="M370.6 260.3 373.2 262.1 374 264.4 371.7 264.4Z"/>
<path fill="#845ac0" stroke="#845ac0" d="M373.2 262.1 375.2 264.6 375.8 265.2 374 264.4Z"/>
<path fill="#9666d8" stroke="#9666d8" d="M375.2 264.6 376.8 265.7 378 267.4 378 267.4 375.8 265.2Z"/>
<path fill="#3c1800" stroke="#3c1800" d="M378.1 267.5 378.2 267.2 378 267.5Z"/>
<path fill="#a26ce4" stroke="#a26ce4" d="M376.8 265.7 378.3 267.7 378 267.4Z"/>
<path fill="#421e06" stroke="#421e06" d="M378.4 268.2 380 265.8 381.5 260.7 378.2 267.2 378.1 267.5Z"/>
<path fill="#481e06" stroke="#481e06" d="M380 265.8 383.7 260.1 386.8 255 381.5 260.7Z"/>
<path fill="#4e2406" stroke="#4e2406" d="M383.7 260.1 388.6 256.9 392 253.3 386.8 255Z"/>
<path fill="#844218" stroke="#844218" d="M388.6 256.9 393 257.6 396 254.3 392 253.3Z"/>
<path fill="#de7e42" stroke="#de7e42" d="M393 257.6 396.6 262 398.8 257.1 396 254.3Z"/>
<path fill="#d87e3c" stroke="#d87e3c" d="M396.6 262 400.3 268.2 401.3 260.8 398.8 257.1Z"/>
<path fill="#c06c30" stroke="#c06c30" d="M400.3 268.2 403.7 272.7 404 264.4 401.3 260.8Z"/>
<path fill="#ba6630" stroke="#ba6630" d="M403.7 272.7 407 275.1 406.7 268.1 404 264.4Z"/>
<path fill="#de7e42" stroke="#de7e42" d="M407 275.1 410.2 277.2 410 272.6 406.7 268.1Z"/>
<path fill="#fc964e" stroke="#fc964e" d="M410.2 277.2 413.9 280.7 414.2 277.2 410 272.6Z"/>
<path fill="#f68a42" stroke="#f68a42" d="M413.9 280.7 417.4 286.7 418.4 282.3 414.2 277.2ZM417.4 286.7 420.4 294.5 421.9 288 418.4 282.3Z"/>
<path fill="#ea8442" stroke="#ea8442" d="M420.4 294.5 423.3 302.5 425.1 294.1 421.9 288Z"/>
<path fill="#e47e3c" stroke="#e47e3c" d="M423.3 302.5 426.4 310.5 428.1 301.8 425.1 294.1ZM426.4 310.5 429.6 318.7 431.1 311.1 428.1 301.8ZM429.6 318.7 433 327 434.3 320.7 431.1 311.1Z"/>
<path fill="#f08442" stroke="#f08442" d="M433 327 436.3 334.6 437.5 329 434.3 320.7Z"/>
<path fill="#fc9048" stroke="#fc9048" d="M436.3 334.6 439.5 340.9 440.7 335.5 437.5 329Z"/>
<path fill="#fc9c54" stroke="#fc9c54" d="M439.5 340.9 442.3 346 443.6 341 440.7 335.5Z"/>
<path fill="#fca254" stroke="#fca254" d="M442.3 346 445.1 350.7 446.4 346.3 443.6 341Z"/>
<path fill="#fc9c4e" stroke="#fc9c4e" d="M445.1 350.7 447.6 355.5 449.1 351.8 446.4 346.3Z"/>
<path fill="#fc964e" stroke="#fc964e" d="M447.6 355.5 450.1 360.3 451.5 357 449.1 351.8Z"/>
<path fill="#fc9c4e" stroke="#fc9c4e" d="M450.1 360.3 452.5 364.6 454 361.6 451.5 357Z"/>
<path fill="#fca254" stroke="#fca254" d="M452.5 364.6 455.1 368.2 456.6 365.4 454 361.6Z"/>
<path fill="#fca854" stroke="#fca854" d="M455.1 368.2 457.8 371.2 459.3 368.5 456.6 365.4Z"/>
<path fill="#fca24e" stroke="#fca24e" d="M457.8 371.2 460.6 373.6 462.1 371.2 459.3 368.5Z"/>
<path fill="#fc9648" stroke="#fc9648" d="M460.6 373.6 463.5 375.9 464.9 373.7 462.1 371.2Z"/>
<path fill="#fc9042" stroke="#fc9042" d="M463.5 375.9 466.5 377.9 467.9 375.8 464.9 373.7Z"/>
<path fill="#fc8a3c" stroke="#fc8a3c" d="M466.5 377.9 469.5 379.8 470.9 377.6 467.9 375.8Z"/>
<path fill="#f6843c" stroke="#f6843c" d="M469.5 379.8 472.4 381.4 473.9 379.2 470.9 377.6Z"/>
<path fill="#f07e36" stroke="#f07e36" d="M472.4 381.4 475.5 382.9 476.9 380.7 473.9 379.2Z"/>
<path fill="#ea7e36" stroke="#ea7e36" d="M475.5 382.9 477.1 383.6 480 382.2 476.9 380.7Z"/>
<path fill="#5a3c7e" stroke="#5a3c7e" d="M365.8 257.1 369 258.1 370.6 260.3 367.3 260Z"/>
<path fill="#9060d2" stroke="#9060d2" d="M369 258.1 372 261.9 373.2 262.1 370.6 260.3Z"/>
<path fill="#e49cfc" stroke="#e49cfc" d="M372 261.9 374 265.5 375.2 264.6 373.2 262.1Z"/>
<path fill="#de9cfc" stroke="#de9cfc" d="M374 265.5 375.7 266.4 376.8 265.7 375.2 264.6Z"/>
<path fill="#c084fc" stroke="#c084fc" d="M375.7 266.4 378.9 270 379.3 270.2 378.3 267.7 376.8 265.7Z"/>
<path fill="#481e06" stroke="#481e06" d="M379.4 270.4 380 265.8 378.4 268.2Z"/>
<path fill="#c68afc" stroke="#c68afc" d="M378.9 270 379.8 271.4 379.3 270.2Z"/>
<path fill="#4e2406" stroke="#4e2406" d="M379.9 271.6 382.6 269.7 383.7 260.1 380 265.8 379.4 270.4ZM382.6 269.7 386.6 268 388.6 256.9 383.7 260.1Z"/>
<path fill="#723612" stroke="#723612" d="M386.6 268 391 268.8 393 257.6 388.6 256.9Z"/>
<path fill="#a85a2a" stroke="#a85a2a" d="M391 268.8 395.4 272.7 396.6 262 393 257.6Z"/>
<path fill="#c67236" stroke="#c67236" d="M395.4 272.7 399.2 277.5 400.3 268.2 396.6 262ZM399.2 277.5 402.7 281.5 403.7 272.7 400.3 268.2Z"/>
<path fill="#ae602a" stroke="#ae602a" d="M402.7 281.5 406 283.8 407 275.1 403.7 272.7Z"/>
<path fill="#a85a2a" stroke="#a85a2a" d="M406 283.8 409.4 285.2 410.2 277.2 407 275.1Z"/>
<path fill="#d2783c" stroke="#d2783c" d="M409.4 285.2 412.7 288.1 413.9 280.7 410.2 277.2Z"/>
<path fill="#ea8442" stroke="#ea8442" d="M412.7 288.1 415.7 294 417.4 286.7 413.9 280.7Z"/>
<path fill="#e47e3c" stroke="#e47e3c" d="M415.7 294 418.5 302.6 420.4 294.5 417.4 286.7Z"/>
<path fill="#de7e3c" stroke="#de7e3c" d="M418.5 302.6 421.5 311.9 423.3 302.5 420.4 294.5Z"/>
<path fill="#d8783c" stroke="#d8783c" d="M421.5 311.9 424.9 320.1 426.4 310.5 423.3 302.5Z"/>
<path fill="#de7e3c" stroke="#de7e3c" d="M424.9 320.1 428.4 327.2 429.6 318.7 426.4 310.5Z"/>
<path fill="#ea8442" stroke="#ea8442" d="M428.4 327.2 431.9 333.7 433 327 429.6 318.7Z"/>
<path fill="#f68a48" stroke="#f68a48" d="M431.9 333.7 435.2 340.1 436.3 334.6 433 327Z"/>
<path fill="#fc9648" stroke="#fc9648" d="M435.2 340.1 438.2 345.9 439.5 340.9 436.3 334.6Z"/>
<path fill="#fc9c54" stroke="#fc9c54" d="M438.2 345.9 441 351.1 442.3 346 439.5 340.9Z"/>
<path fill="#fca254" stroke="#fca254" d="M441 351.1 443.6 355.6 445.1 350.7 442.3 346Z"/>
<path fill="#fca25a" stroke="#fca25a" d="M443.6 355.6 446.1 359.8 447.6 355.5 445.1 350.7Z"/>
<path fill="#fca254" stroke="#fca254" d="M446.1 359.8 448.5 363.9 450.1 360.3 447.6 355.5ZM448.5 363.9 451 367.8 452.5 364.6 450.1 360.3Z"/>
<path fill="#fca854" stroke="#fca854" d="M451 367.8 453.5 371.1 455.1 368.2 452.5 364.6ZM453.5 371.1 456.3 373.8 457.8 371.2 455.1 368.2Z"/>
<path fill="#fca254" stroke="#fca254" d="M456.3 373.8 459.1 376.1 460.6 373.6 457.8 371.2Z"/>
<path fill="#fc9648" stroke="#fc9648" d="M459.1 376.1 462 378.2 463.5 375.9 460.6 373.6Z"/>
<path fill="#fc9042" stroke="#fc9042" d="M462 378.2 465 380.1 466.5 377.9 463.5 375.9Z"/>
<path fill="#fc8a3c" stroke="#fc8a3c" d="M465 380.1 468.1 382 469.5 379.8 466.5 377.9Z"/>
<path fill="#f6843c" stroke="#f6843c" d="M468.1 382 471 383.6 472.4 381.4 469.5 379.8Z"/>
<path fill="#ea7e36" stroke="#ea7e36" d="M471 383.6 473.8 385 474.4 384.7 475.5 382.9 472.4 381.4ZM477.1 383.6 475.5 382.9 474.4 384.7Z"/>
<path fill="#36244e" stroke="#36244e" d="M357.2 258.1 361.6 256.5 362.9 257.7 357.8 260Z"/>
<path fill="#54367e" stroke="#54367e" d="M361.6 256.5 365.2 256.4 365.8 257.1 362.9 257.7Z"/>
<path fill="#8a5ac6" stroke="#8a5ac6" d="M365.2 256.4 367.3 257.8 369 258.1 365.8 257.1Z"/>
<path fill="#c07efc" stroke="#c07efc" d="M367.3 257.8 370.7 262.9 372 261.9 369 258.1Z"/>
<path fill="#fcc6fc" stroke="#fcc6fc" d="M370.7 262.9 372.5 267.3 374 265.5 372 261.9Z"/>
<path fill="#fce4fc" stroke="#fce4fc" d="M372.5 267.3 374.5 268.9 375.7 266.4 374 265.5Z"/>
<path fill="#fcc6fc" stroke="#fcc6fc" d="M374.5 268.9 377.7 271.8 378.9 270 375.7 266.4Z"/>
<path fill="#e4a2fc" stroke="#e4a2fc" d="M377.7 271.8 382.7 279.7 382.8 279.6 379.8 271.4 378.9 270Z"/>
<path fill="#6c3612" stroke="#6c3612" d="M382.8 279.7 382.6 269.7 379.9 271.6Z"/>
<path fill="#eaa8fc" stroke="#eaa8fc" d="M382.7 279.7 383.1 280.7 382.8 279.6Z"/>
<path fill="#723c18" stroke="#723c18" d="M383.1 280.8 386.4 281.9 386.6 268 382.6 269.7 382.8 279.7Z"/>
<path fill="#723c12" stroke="#723c12" d="M386.4 281.9 390 283 391 268.8 386.6 268Z"/>
<path fill="#8a481e" stroke="#8a481e" d="M390 283 393.7 284.5 395.4 272.7 391 268.8Z"/>
<path fill="#ae602a" stroke="#ae602a" d="M393.7 284.5 397.1 287.1 399.2 277.5 395.4 272.7Z"/>
<path fill="#c06c30" stroke="#c06c30" d="M397.1 287.1 400.3 290.3 402.7 281.5 399.2 277.5Z"/>
<path fill="#ba6630" stroke="#ba6630" d="M400.3 290.3 403.6 293.3 406 283.8 402.7 281.5Z"/>
<path fill="#a25a24" stroke="#a25a24" d="M403.6 293.3 406.9 295.8 409.4 285.2 406 283.8Z"/>
<path fill="#ae5a2a" stroke="#ae5a2a" d="M406.9 295.8 410.2 299 412.7 288.1 409.4 285.2Z"/>
<path fill="#c67236" stroke="#c67236" d="M410.2 299 413.3 304.5 415.7 294 412.7 288.1Z"/>
<path fill="#d8783c" stroke="#d8783c" d="M413.3 304.5 416.4 312.4 418.5 302.6 415.7 294ZM416.4 312.4 420 321.3 421.5 311.9 418.5 302.6Z"/>
<path fill="#de7e3c" stroke="#de7e3c" d="M420 321.3 423.8 329.3 424.9 320.1 421.5 311.9ZM423.8 329.3 427.5 335.6 428.4 327.2 424.9 320.1Z"/>
<path fill="#ea8442" stroke="#ea8442" d="M427.5 335.6 431 340.8 431.9 333.7 428.4 327.2Z"/>
<path fill="#fc904e" stroke="#fc904e" d="M431 340.8 434.1 345.8 435.2 340.1 431.9 333.7Z"/>
<path fill="#fc964e" stroke="#fc964e" d="M434.1 345.8 437 350.9 438.2 345.9 435.2 340.1Z"/>
<path fill="#fc9c54" stroke="#fc9c54" d="M437 350.9 439.6 355.9 441 351.1 438.2 345.9Z"/>
<path fill="#fca25a" stroke="#fca25a" d="M439.6 355.9 442 360.4 443.6 355.6 441 351.1Z"/>
<path fill="#fca85a" stroke="#fca85a" d="M442 360.4 444.4 364.3 446.1 359.8 443.6 355.6Z"/>
<path fill="#fcae60" stroke="#fcae60" d="M444.4 364.3 446.8 367.8 448.5 363.9 446.1 359.8Z"/>
<path fill="#fcae5a" stroke="#fcae5a" d="M446.8 367.8 449.3 371 451 367.8 448.5 363.9Z"/>
<path fill="#fca85a" stroke="#fca85a" d="M449.3 371 451.9 373.9 453.5 371.1 451 367.8Z"/>
<path fill="#fca254" stroke="#fca254" d="M451.9 373.9 454.7 376.5 456.3 373.8 453.5 371.1Z"/>
<path fill="#fc9c4e" stroke="#fc9c4e" d="M454.7 376.5 457.6 378.7 459.1 376.1 456.3 373.8Z"/>
<path fill="#fc9648" stroke="#fc9648" d="M457.6 378.7 460.6 380.6 462 378.2 459.1 376.1Z"/>
<path fill="#fc9042" stroke="#fc9042" d="M460.6 380.6 463.6 382.5 465 380.1 462 378.2Z"/>
<path fill="#fc8a3c" stroke="#fc8a3c" d="M463.6 382.5 466.6 384.2 468.1 382 465 380.1Z"/>
<path fill="#f0843c" stroke="#f0843c" d="M466.6 384.2 469.5 385.8 471 383.6 468.1 382Z"/>
<path fill="#ea7e36" stroke="#ea7e36" d="M469.5 385.8 471 386.5 473.8 385 471 383.6Z"/>
<path fill="#36244e" stroke="#36244e" d="M353.1 259.8 356.3 257.2 357.2 258.1 351.3 262.1Z"/>
<path fill="#48306c" stroke="#48306c" d="M356.3 257.2 359.6 256.8 361.6 256.5 357.2 258.1Z"/>
<path fill="#9666d2" stroke="#9666d2" d="M359.6 256.8 363.2 257.5 365.2 256.4 361.6 256.5Z"/>
<path fill="#eaa8fc" stroke="#eaa8fc" d="M363.2 257.5 365.7 259.2 367.3 257.8 365.2 256.4Z"/>
<path fill="#d296fc" stroke="#d296fc" d="M365.7 259.2 369.1 264.6 370.7 262.9 367.3 257.8Z"/>
<path fill="#f6aefc" stroke="#f6aefc" d="M369.1 264.6 370.8 269.8 372.5 267.3 370.7 262.9Z"/>
<path fill="#fcdefc" stroke="#fcdefc" d="M370.8 269.8 373.5 273.3 374.5 268.9 372.5 267.3ZM373.5 273.3 377.2 277.2 377.7 271.8 374.5 268.9Z"/>
<path fill="#fcccfc" stroke="#fcccfc" d="M377.2 277.2 381.2 283.4 382.7 279.7 377.7 271.8Z"/>
<path fill="#f6aefc" stroke="#f6aefc" d="M381.2 283.4 384.2 291.3 384.6 290.7 383.1 280.7 382.7 279.7Z"/>
<path fill="#84481e" stroke="#84481e" d="M384.6 290.9 386.4 281.9 383.1 280.8Z"/>
<path fill="#f6aefc" stroke="#f6aefc" d="M384.2 291.3 384.7 293.1 384.6 290.7Z"/>
<path fill="#84481e" stroke="#84481e" d="M384.7 293.3 387.2 295.1 390 283 386.4 281.9 384.6 290.9Z"/>
<path fill="#7e4218" stroke="#7e4218" d="M387.2 295.1 390.6 296.4 393.7 284.5 390 283Z"/>
<path fill="#90481e" stroke="#90481e" d="M390.6 296.4 394.1 297.7 397.1 287.1 393.7 284.5Z"/>
<path fill="#a85a2a" stroke="#a85a2a" d="M394.1 297.7 397.5 299.9 400.3 290.3 397.1 287.1Z"/>
<path fill="#ba6630" stroke="#ba6630" d="M397.5 299.9 400.8 303.4 403.6 293.3 400.3 290.3Z"/>
<path fill="#ae602a" stroke="#ae602a" d="M400.8 303.4 404.2 307.5 406.9 295.8 403.6 293.3Z"/>
<path fill="#a85a24" stroke="#a85a24" d="M404.2 307.5 407.6 311.9 410.2 299 406.9 295.8Z"/>
<path fill="#b4602a" stroke="#b4602a" d="M407.6 311.9 411.2 317 413.3 304.5 410.2 299Z"/>
<path fill="#c66c36" stroke="#c66c36" d="M411.2 317 415 323.4 416.4 312.4 413.3 304.5Z"/>
<path fill="#d8783c" stroke="#d8783c" d="M415 323.4 419 330.6 420 321.3 416.4 312.4Z"/>
<path fill="#de7e3c" stroke="#de7e3c" d="M419 330.6 423.1 337.5 423.8 329.3 420 321.3Z"/>
<path fill="#ea8442" stroke="#ea8442" d="M423.1 337.5 426.8 343.2 427.5 335.6 423.8 329.3Z"/>
<path fill="#f08a48" stroke="#f08a48" d="M426.8 343.2 430.1 347.7 431 340.8 427.5 335.6Z"/>
<path fill="#fc904e" stroke="#fc904e" d="M430.1 347.7 433 351.8 434.1 345.8 431 340.8Z"/>
<path fill="#fc9c54" stroke="#fc9c54" d="M433 351.8 435.7 356.1 437 350.9 434.1 345.8ZM435.7 356.1 438 360.7 439.6 355.9 437 350.9Z"/>
<path fill="#fca25a" stroke="#fca25a" d="M438 360.7 440.3 364.9 442 360.4 439.6 355.9Z"/>
<path fill="#fca860" stroke="#fca860" d="M440.3 364.9 442.6 368.6 444.4 364.3 442 360.4Z"/>
<path fill="#fcae60" stroke="#fcae60" d="M442.6 368.6 445 371.6 446.8 367.8 444.4 364.3ZM445 371.6 447.6 374.3 449.3 371 446.8 367.8Z"/>
<path fill="#fcae5a" stroke="#fcae5a" d="M447.6 374.3 450.3 376.8 451.9 373.9 449.3 371Z"/>
<path fill="#fca254" stroke="#fca254" d="M450.3 376.8 453.1 379.1 454.7 376.5 451.9 373.9Z"/>
<path fill="#fc9c4e" stroke="#fc9c4e" d="M453.1 379.1 456 381.2 457.6 378.7 454.7 376.5Z"/>
<path fill="#fc9648" stroke="#fc9648" d="M456 381.2 459 383.1 460.6 380.6 457.6 378.7Z"/>
<path fill="#fc9042" stroke="#fc9042" d="M459 383.1 462.1 384.8 463.6 382.5 460.6 380.6Z"/>
<path fill="#f68a3c" stroke="#f68a3c" d="M462.1 384.8 465 386.4 466.6 384.2 463.6 382.5Z"/>
<path fill="#f07e36" stroke="#f07e36" d="M465 386.4 468.1 388 469.5 385.8 466.6 384.2Z"/>
<path fill="#ea7e36" stroke="#ea7e36" d="M468.1 388 468.1 388 471 386.5 469.5 385.8Z"/>
<path fill="#36244e" stroke="#36244e" d="M351 261.2 353.4 257.4 353.1 259.8 349.5 264.4Z"/>
<path fill="#4e3072" stroke="#4e3072" d="M353.4 257.4 355 257.4 356.3 257.2 353.1 259.8Z"/>
<path fill="#a26ce4" stroke="#a26ce4" d="M355 257.4 356.9 258.8 359.6 256.8 356.3 257.2Z"/>
<path fill="#cc96fc" stroke="#cc96fc" d="M356.9 258.8 359.8 260.4 363.2 257.5 359.6 256.8Z"/>
<path fill="#f6b4fc" stroke="#f6b4fc" d="M359.8 260.4 363.4 262.9 365.7 259.2 363.2 257.5ZM363.4 262.9 366.6 267.4 369.1 264.6 365.7 259.2Z"/>
<path fill="#eaa8fc" stroke="#eaa8fc" d="M366.6 267.4 369.2 272.9 370.8 269.8 369.1 264.6Z"/>
<path fill="#fcc6fc" stroke="#fcc6fc" d="M369.2 272.9 372.6 278.7 373.5 273.3 370.8 269.8ZM372.6 278.7 376.3 284.2 377.2 277.2 373.5 273.3Z"/>
<path fill="#fcc0fc" stroke="#fcc0fc" d="M376.3 284.2 379.6 289.7 381.2 283.4 377.2 277.2Z"/>
<path fill="#fcbafc" stroke="#fcbafc" d="M379.6 289.7 382.3 296.6 384.2 291.3 381.2 283.4Z"/>
<path fill="#f6b4fc" stroke="#f6b4fc" d="M382.3 296.6 385.1 305.2 385.3 304.5 384.7 293.1 384.2 291.3Z"/>
<path fill="#8a4e24" stroke="#8a4e24" d="M385.3 304.7 387.2 295.1 384.7 293.3Z"/>
<path fill="#f6b4fc" stroke="#f6b4fc" d="M385.1 305.2 385.5 306.5 385.3 304.5Z"/>
<path fill="#84481e" stroke="#84481e" d="M385.5 306.6 388.2 308.3 390.6 296.4 387.2 295.1 385.3 304.7Z"/>
<path fill="#7e4218" stroke="#7e4218" d="M388.2 308.3 391.5 309.4 394.1 297.7 390.6 296.4Z"/>
<path fill="#904e1e" stroke="#904e1e" d="M391.5 309.4 395 311 397.5 299.9 394.1 297.7Z"/>
<path fill="#ae602a" stroke="#ae602a" d="M395 311 398.5 314.4 400.8 303.4 397.5 299.9Z"/>
<path fill="#b46630" stroke="#b46630" d="M398.5 314.4 402.1 319.3 404.2 307.5 400.8 303.4Z"/>
<path fill="#b4602a" stroke="#b4602a" d="M402.1 319.3 406.1 324.6 407.6 311.9 404.2 307.5Z"/>
<path fill="#ae602a" stroke="#ae602a" d="M406.1 324.6 410.3 329.6 411.2 317 407.6 311.9Z"/>
<path fill="#ba6630" stroke="#ba6630" d="M410.3 329.6 414.5 334.6 415 323.4 411.2 317Z"/>
<path fill="#d27236" stroke="#d27236" d="M414.5 334.6 418.7 339.7 419 330.6 415 323.4Z"/>
<path fill="#e48442" stroke="#e48442" d="M418.7 339.7 422.6 345 423.1 337.5 419 330.6Z"/>
<path fill="#f08a48" stroke="#f08a48" d="M422.6 345 426.1 349.9 426.8 343.2 423.1 337.5Z"/>
<path fill="#fc904e" stroke="#fc904e" d="M426.1 349.9 429.1 354.1 430.1 347.7 426.8 343.2Z"/>
<path fill="#fc964e" stroke="#fc964e" d="M429.1 354.1 431.7 357.8 433 351.8 430.1 347.7Z"/>
<path fill="#fc9c54" stroke="#fc9c54" d="M431.7 357.8 434.1 361.5 435.7 356.1 433 351.8Z"/>
<path fill="#fca25a" stroke="#fca25a" d="M434.1 361.5 436.3 365.4 438 360.7 435.7 356.1Z"/>
<path fill="#fca85a" stroke="#fca85a" d="M436.3 365.4 438.4 369.2 440.3 364.9 438 360.7Z"/>
<path fill="#fcae60" stroke="#fcae60" d="M438.4 369.2 440.7 372.5 442.6 368.6 440.3 364.9ZM440.7 372.5 443.1 375.3 445 371.6 442.6 368.6ZM443.1 375.3 445.8 377.6 447.6 374.3 445 371.6Z"/>
<path fill="#fca85a" stroke="#fca85a" d="M445.8 377.6 448.6 379.7 450.3 376.8 447.6 374.3Z"/>
<path fill="#fca254" stroke="#fca254" d="M448.6 379.7 451.5 381.8 453.1 379.1 450.3 376.8Z"/>
<path fill="#fc9c4e" stroke="#fc9c4e" d="M451.5 381.8 454.5 383.8 456 381.2 453.1 379.1Z"/>
<path fill="#fc9048" stroke="#fc9048" d="M454.5 383.8 457.5 385.6 459 383.1 456 381.2Z"/>
<path fill="#fc8a42" stroke="#fc8a42" d="M457.5 385.6 460.5 387.2 462.1 384.8 459 383.1Z"/>
<path fill="#f6843c" stroke="#f6843c" d="M460.5 387.2 463.5 388.7 465 386.4 462.1 384.8Z"/>
<path fill="#ea7e36" stroke="#ea7e36" d="M463.5 388.7 465 389.4 468 388 468.1 388 465 386.4ZM468.1 388 468.1 388 468 388Z"/>
<path fill="#36244e" stroke="#36244e" d="M342.3 266.8 348.9 261.2 351 261.2 344.3 267Z"/>
<path fill="#4e3072" stroke="#4e3072" d="M348.9 261.2 352.3 258.1 353.4 257.4 351 261.2Z"/>
<path fill="#a872f0" stroke="#a872f0" d="M352.3 258.1 353.2 259.7 355 257.4 353.4 257.4Z"/>
<path fill="#f0b4fc" stroke="#f0b4fc" d="M353.2 259.7 352.9 262.3 356.9 258.8 355 257.4Z"/>
<path fill="#d8a2fc" stroke="#d8a2fc" d="M352.9 262.3 356.2 266 359.8 260.4 356.9 258.8Z"/>
<path fill="#c090fc" stroke="#c090fc" d="M356.2 266 360.4 269.1 363.4 262.9 359.8 260.4Z"/>
<path fill="#e4a8fc" stroke="#e4a8fc" d="M360.4 269.1 364.2 272.4 366.6 267.4 363.4 262.9Z"/>
<path fill="#f6b4fc" stroke="#f6b4fc" d="M364.2 272.4 367.8 277.3 369.2 272.9 366.6 267.4Z"/>
<path fill="#f0aefc" stroke="#f0aefc" d="M367.8 277.3 371.6 284.1 372.6 278.7 369.2 272.9Z"/>
<path fill="#f6b4fc" stroke="#f6b4fc" d="M371.6 284.1 375.1 291.2 376.3 284.2 372.6 278.7Z"/>
<path fill="#eaaefc" stroke="#eaaefc" d="M375.1 291.2 378 297.7 379.6 289.7 376.3 284.2ZM378 297.7 380.7 304.2 382.3 296.6 379.6 289.7Z"/>
<path fill="#f6b4fc" stroke="#f6b4fc" d="M380.7 304.2 383.4 311.5 385.1 305.2 382.3 296.6Z"/>
<path fill="#fcbafc" stroke="#fcbafc" d="M383.4 311.5 386.2 319.2 385.5 306.5 385.1 305.2Z"/>
<path fill="#8a4e24" stroke="#8a4e24" d="M386.2 319.2 386.3 319.3 388.2 308.3 385.5 306.6Z"/>
<path fill="#84421e" stroke="#84421e" d="M386.3 319.3 389.6 321.2 391.5 309.4 388.2 308.3Z"/>
<path fill="#8a481e" stroke="#8a481e" d="M389.6 321.2 393.2 323.1 395 311 391.5 309.4Z"/>
<path fill="#9c5424" stroke="#9c5424" d="M393.2 323.1 397 326.1 398.5 314.4 395 311Z"/>
<path fill="#b4602a" stroke="#b4602a" d="M397 326.1 401.3 330.6 402.1 319.3 398.5 314.4Z"/>
<path fill="#ba6630" stroke="#ba6630" d="M401.3 330.6 406 335.8 406.1 324.6 402.1 319.3ZM406 335.8 410.6 340.8 410.3 329.6 406.1 324.6ZM410.6 340.8 414.9 344.9 414.5 334.6 410.3 329.6Z"/>
<path fill="#c66c36" stroke="#c66c36" d="M414.9 344.9 418.7 348.5 418.7 339.7 414.5 334.6Z"/>
<path fill="#de7e42" stroke="#de7e42" d="M418.7 348.5 422.2 352.1 422.6 345 418.7 339.7Z"/>
<path fill="#f6904e" stroke="#f6904e" d="M422.2 352.1 425.3 356 426.1 349.9 422.6 345Z"/>
<path fill="#fc9654" stroke="#fc9654" d="M425.3 356 427.9 359.9 429.1 354.1 426.1 349.9Z"/>
<path fill="#fc9c54" stroke="#fc9c54" d="M427.9 359.9 430.2 363.5 431.7 357.8 429.1 354.1ZM430.2 363.5 432.3 366.8 434.1 361.5 431.7 357.8Z"/>
<path fill="#fca25a" stroke="#fca25a" d="M432.3 366.8 434.3 370 436.3 365.4 434.1 361.5Z"/>
<path fill="#fca860" stroke="#fca860" d="M434.3 370 436.4 373.2 438.4 369.2 436.3 365.4Z"/>
<path fill="#fcae60" stroke="#fcae60" d="M436.4 373.2 438.7 376.1 440.7 372.5 438.4 369.2ZM438.7 376.1 441.2 378.6 443.1 375.3 440.7 372.5Z"/>
<path fill="#fca85a" stroke="#fca85a" d="M441.2 378.6 444 380.8 445.8 377.6 443.1 375.3Z"/>
<path fill="#fca254" stroke="#fca254" d="M444 380.8 446.9 382.7 448.6 379.7 445.8 377.6Z"/>
<path fill="#fc9c4e" stroke="#fc9c4e" d="M446.9 382.7 449.8 384.5 451.5 381.8 448.6 379.7Z"/>
<path fill="#fc9648" stroke="#fc9648" d="M449.8 384.5 452.9 386.3 454.5 383.8 451.5 381.8Z"/>
<path fill="#fc9042" stroke="#fc9042" d="M452.9 386.3 455.9 388 457.5 385.6 454.5 383.8Z"/>
<path fill="#f6843c" stroke="#f6843c" d="M455.9 388 458.9 389.6 460.5 387.2 457.5 385.6Z"/>
<path fill="#ea7e36" stroke="#ea7e36" d="M458.9 389.6 461.1 390.6 462.6 390.1 463.5 388.7 460.5 387.2ZM465 389.4 463.5 388.7 462.6 390.1Z"/>
<path fill="#3c2454" stroke="#3c2454" d="M346.6 265 348.9 261.2 342.3 266.8 342.1 267Z"/>
<path fill="#a23018" stroke="#a23018" d="M345.5 262.6 349.5 265.1 349.5 265.1 346.4 265.4Z"/>
<path fill="#5a3c84" stroke="#5a3c84" d="M349.6 265 352.3 258.1 348.9 261.2 346.6 265Z"/>
<path fill="#fc7842" stroke="#fc7842" d="M349.5 265.1 348.5 264 348.6 263.9 349.5 265.1Z"/>
<path fill="#eab4fc" stroke="#eab4fc" d="M348.6 263.9 353.2 259.7 352.3 258.1 349.6 265Z"/>
<path fill="#fc844e" stroke="#fc844e" d="M348.5 264 350 267.3 350 267.3 348.6 263.9Z"/>
<path fill="#d8a2fc" stroke="#d8a2fc" d="M350 267.3 352.9 262.3 353.2 259.7 348.6 263.9Z"/>
<path fill="#fc7242" stroke="#fc7242" d="M350 267.3 350.1 267.5 350 267.3Z"/>
<path fill="#d8a2fc" stroke="#d8a2fc" d="M350.1 267.5 354.7 273 356.2 266 352.9 262.3 350 267.3Z"/>
<path fill="#c090fc" stroke="#c090fc" d="M354.7 273 359.1 277 360.4 269.1 356.2 266Z"/>
<path fill="#ba84fc" stroke="#ba84fc" d="M359.1 277 363 279.8 364.2 272.4 360.4 269.1Z"/>
<path fill="#dea2fc" stroke="#dea2fc" d="M363 279.8 366.9 283.8 367.8 277.3 364.2 272.4Z"/>
<path fill="#e4a8fc" stroke="#e4a8fc" d="M366.9 283.8 370.6 290.3 371.6 284.1 367.8 277.3Z"/>
<path fill="#dea2fc" stroke="#dea2fc" d="M370.6 290.3 373.9 298.3 375.1 291.2 371.6 284.1ZM373.9 298.3 376.6 306.2 378 297.7 375.1 291.2ZM376.6 306.2 379.2 312.9 380.7 304.2 378 297.7Z"/>
<path fill="#eaaefc" stroke="#eaaefc" d="M379.2 312.9 381.8 319.1 383.4 311.5 380.7 304.2Z"/>
<path fill="#fcbafc" stroke="#fcbafc" d="M381.8 319.1 384.8 325.3 386.2 319.7 386.2 319.2 383.4 311.5Z"/>
<path fill="#904e24" stroke="#904e24" d="M386.2 319.7 386.3 319.3 386.2 319.2Z"/>
<path fill="#fcc6fc" stroke="#fcc6fc" d="M384.8 325.3 388.6 331.8 388.6 331.7 386.2 319.7Z"/>
<path fill="#904e24" stroke="#904e24" d="M388.6 331.7 389.6 321.2 386.3 319.3 386.2 319.7Z"/>
<path fill="#fcccfc" stroke="#fcccfc" d="M388.6 331.8 388.7 332 388.6 331.7Z"/>
<path fill="#904e24" stroke="#904e24" d="M388.7 332 392.8 334.3 393.2 323.1 389.6 321.2 388.6 331.7Z"/>
<path fill="#965424" stroke="#965424" d="M392.8 334.3 397.3 337.1 397 326.1 393.2 323.1Z"/>
<path fill="#ae602a" stroke="#ae602a" d="M397.3 337.1 402 341 401.3 330.6 397 326.1Z"/>
<path fill="#ba6630" stroke="#ba6630" d="M402 341 406.7 345.6 406 335.8 401.3 330.6Z"/>
<path fill="#c06c36" stroke="#c06c36" d="M406.7 345.6 411.3 350.1 410.6 340.8 406 335.8Z"/>
<path fill="#c66c36" stroke="#c66c36" d="M411.3 350.1 415.3 353.7 414.9 344.9 410.6 340.8Z"/>
<path fill="#c67236" stroke="#c67236" d="M415.3 353.7 418.7 356.4 418.7 348.5 414.9 344.9Z"/>
<path fill="#d87e3c" stroke="#d87e3c" d="M418.7 356.4 421.7 359 422.2 352.1 418.7 348.5Z"/>
<path fill="#f6904e" stroke="#f6904e" d="M421.7 359 424.3 361.9 425.3 356 422.2 352.1Z"/>
<path fill="#fc9c54" stroke="#fc9c54" d="M424.3 361.9 426.4 365.3 427.9 359.9 425.3 356Z"/>
<path fill="#fca25a" stroke="#fca25a" d="M426.4 365.3 428.3 368.6 430.2 363.5 427.9 359.9ZM428.3 368.6 430.1 371.7 432.3 366.8 430.2 363.5Z"/>
<path fill="#fca85a" stroke="#fca85a" d="M430.1 371.7 432.1 374.5 434.3 370 432.3 366.8Z"/>
<path fill="#fcae60" stroke="#fcae60" d="M432.1 374.5 434.3 377 436.4 373.2 434.3 370ZM434.3 377 436.7 379.5 438.7 376.1 436.4 373.2Z"/>
<path fill="#fca85a" stroke="#fca85a" d="M436.7 379.5 439.3 381.7 441.2 378.6 438.7 376.1Z"/>
<path fill="#fca254" stroke="#fca254" d="M439.3 381.7 442.1 383.7 444 380.8 441.2 378.6Z"/>
<path fill="#fc9c4e" stroke="#fc9c4e" d="M442.1 383.7 445.1 385.5 446.9 382.7 444 380.8Z"/>
<path fill="#fc964e" stroke="#fc964e" d="M445.1 385.5 448.1 387.2 449.8 384.5 446.9 382.7Z"/>
<path fill="#fc9048" stroke="#fc9048" d="M448.1 387.2 451.2 388.8 452.9 386.3 449.8 384.5Z"/>
<path fill="#fc8a42" stroke="#fc8a42" d="M451.2 388.8 454.2 390.4 455.9 388 452.9 386.3Z"/>
<path fill="#f08436" stroke="#f08436" d="M454.2 390.4 457.1 391.7 457.5 391.6 458.9 389.6 455.9 388Z"/>
<path fill="#ea7e36" stroke="#ea7e36" d="M461.1 390.6 458.9 389.6 457.5 391.6Z"/>
<path fill="#7e2412" stroke="#7e2412" d="M339.3 252.3 342.9 254.3 345.5 262.6 340.3 257.5Z"/>
<path fill="#d84218" stroke="#d84218" d="M342.9 254.3 347.5 266.1 349.5 265.1 345.5 262.6Z"/>
<path fill="#fc965a" stroke="#fc965a" d="M347.5 266.1 345.9 267.6 348.5 264 349.5 265.1Z"/>
<path fill="#fc9660" stroke="#fc9660" d="M345.9 267.6 349 272.1 350 267.3 348.5 264Z"/>
<path fill="#fc7e4e" stroke="#fc7e4e" d="M349 272.1 354.4 279.6 354.4 279.2 350.1 267.5 350 267.3Z"/>
<path fill="#d29cfc" stroke="#d29cfc" d="M354.5 279.4 354.7 273 350.1 267.5Z"/>
<path fill="#fc7e4e" stroke="#fc7e4e" d="M354.4 279.6 354.7 280.2 354.4 279.2Z"/>
<path fill="#d29cfc" stroke="#d29cfc" d="M354.8 280.2 359 284.7 359.1 277 354.7 273 354.5 279.4Z"/>
<path fill="#b484f6" stroke="#b484f6" d="M359 284.7 362.9 288.4 363 279.8 359.1 277Z"/>
<path fill="#ba8afc" stroke="#ba8afc" d="M362.9 288.4 366.5 292.3 366.9 283.8 363 279.8Z"/>
<path fill="#cc96fc" stroke="#cc96fc" d="M366.5 292.3 369.8 298.1 370.6 290.3 366.9 283.8ZM369.8 298.1 372.7 305.9 373.9 298.3 370.6 290.3Z"/>
<path fill="#d296fc" stroke="#d296fc" d="M372.7 305.9 375.2 314.3 376.6 306.2 373.9 298.3Z"/>
<path fill="#d8a2fc" stroke="#d8a2fc" d="M375.2 314.3 377.5 321.4 379.2 312.9 376.6 306.2Z"/>
<path fill="#e4a8fc" stroke="#e4a8fc" d="M377.5 321.4 380.3 327.1 381.8 319.1 379.2 312.9Z"/>
<path fill="#f6b4fc" stroke="#f6b4fc" d="M380.3 327.1 383.7 332 384.8 325.3 381.8 319.1Z"/>
<path fill="#fcc6fc" stroke="#fcc6fc" d="M383.7 332 388.1 336.9 388.6 331.8 384.8 325.3Z"/>
<path fill="#fcccfc" stroke="#fcccfc" d="M388.1 336.9 393.3 342.5 393.4 341 388.7 332 388.6 331.8Z"/>
<path fill="#965424" stroke="#965424" d="M393.5 341.2 392.8 334.3 388.7 332Z"/>
<path fill="#fcccfc" stroke="#fcccfc" d="M393.3 342.5 396.2 345.9 393.4 341Z"/>
<path fill="#9c542a" stroke="#9c542a" d="M396.2 345.9 398.2 347.4 397.3 337.1 392.8 334.3 393.5 341.2Z"/>
<path fill="#a85a2a" stroke="#a85a2a" d="M398.2 347.4 402.8 350.8 402 341 397.3 337.1Z"/>
<path fill="#ba6c36" stroke="#ba6c36" d="M402.8 350.8 407.4 354.4 406.7 345.6 402 341Z"/>
<path fill="#cc723c" stroke="#cc723c" d="M407.4 354.4 411.7 357.8 411.3 350.1 406.7 345.6Z"/>
<path fill="#d2783c" stroke="#d2783c" d="M411.7 357.8 415.3 360.8 415.3 353.7 411.3 350.1ZM415.3 360.8 418.3 363.2 418.7 356.4 415.3 353.7Z"/>
<path fill="#d87e3c" stroke="#d87e3c" d="M418.3 363.2 420.7 365.3 421.7 359 418.7 356.4Z"/>
<path fill="#f08a48" stroke="#f08a48" d="M420.7 365.3 422.8 367.6 424.3 361.9 421.7 359Z"/>
<path fill="#fc9c54" stroke="#fc9c54" d="M422.8 367.6 424.5 370.4 426.4 365.3 424.3 361.9Z"/>
<path fill="#fca25a" stroke="#fca25a" d="M424.5 370.4 426 373.3 428.3 368.6 426.4 365.3Z"/>
<path fill="#fca85a" stroke="#fca85a" d="M426 373.3 427.7 376.1 430.1 371.7 428.3 368.6Z"/>
<path fill="#fca860" stroke="#fca860" d="M427.7 376.1 429.7 378.5 432.1 374.5 430.1 371.7ZM429.7 378.5 432.1 380.6 434.3 377 432.1 374.5Z"/>
<path fill="#fca85a" stroke="#fca85a" d="M432.1 380.6 434.6 382.7 436.7 379.5 434.3 377Z"/>
<path fill="#fca254" stroke="#fca254" d="M434.6 382.7 437.4 384.6 439.3 381.7 436.7 379.5Z"/>
<path fill="#fc9c4e" stroke="#fc9c4e" d="M437.4 384.6 440.3 386.5 442.1 383.7 439.3 381.7Z"/>
<path fill="#fc9648" stroke="#fc9648" d="M440.3 386.5 443.3 388.2 445.1 385.5 442.1 383.7Z"/>
<path fill="#fc9042" stroke="#fc9042" d="M443.3 388.2 446.4 389.8 448.1 387.2 445.1 385.5Z"/>
<path fill="#fc8a42" stroke="#fc8a42" d="M446.4 389.8 449.5 391.3 451.2 388.8 448.1 387.2Z"/>
<path fill="#f0843c" stroke="#f0843c" d="M449.5 391.3 452.6 392.7 454.2 390.4 451.2 388.8Z"/>
<path fill="#ea7e36" stroke="#ea7e36" d="M452.6 392.7 453.1 392.9 457.1 391.7 454.2 390.4Z"/>
<path fill="#5a1e0c" stroke="#5a1e0c" d="M332.2 253.1 333.4 251.4 335.6 252.9 333.8 255.6Z"/>
<path fill="#7e2412" stroke="#7e2412" d="M333.4 251.4 337.1 251.5 339.3 252.3 335.6 252.9Z"/>
<path fill="#c63c18" stroke="#c63c18" d="M337.1 251.5 340.8 253.4 342.9 254.3 339.3 252.3Z"/>
<path fill="#fc542a" stroke="#fc542a" d="M340.8 253.4 344.2 267.1 347.5 266.1 342.9 254.3Z"/>
<path fill="#fc7e48" stroke="#fc7e48" d="M344.2 267.1 344.6 272.6 345.9 267.6 347.5 266.1Z"/>
<path fill="#fc8a5a" stroke="#fc8a5a" d="M344.6 272.6 349.2 279.3 349 272.1 345.9 267.6ZM349.2 279.3 354.1 285.6 354.4 279.6 349 272.1Z"/>
<path fill="#fc8454" stroke="#fc8454" d="M354.1 285.6 357.3 289.9 354.7 280.2 354.4 279.6Z"/>
<path fill="#cc9cfc" stroke="#cc9cfc" d="M357.3 290 358.7 291.7 359 284.7 354.8 280.2Z"/>
<path fill="#c690fc" stroke="#c690fc" d="M358.7 291.7 362.7 296.7 362.9 288.4 359 284.7Z"/>
<path fill="#b484f0" stroke="#b484f0" d="M362.7 296.7 366 301.8 366.5 292.3 362.9 288.4Z"/>
<path fill="#ba84fc" stroke="#ba84fc" d="M366 301.8 368.9 307.4 369.8 298.1 366.5 292.3Z"/>
<path fill="#c690fc" stroke="#c690fc" d="M368.9 307.4 371.3 314.3 372.7 305.9 369.8 298.1Z"/>
<path fill="#cc96fc" stroke="#cc96fc" d="M371.3 314.3 373.5 321.9 375.2 314.3 372.7 305.9Z"/>
<path fill="#d89cfc" stroke="#d89cfc" d="M373.5 321.9 376 328.9 377.5 321.4 375.2 314.3Z"/>
<path fill="#e4a8fc" stroke="#e4a8fc" d="M376 328.9 379.3 334.4 380.3 327.1 377.5 321.4Z"/>
<path fill="#eaaefc" stroke="#eaaefc" d="M379.3 334.4 383.3 338.8 383.7 332 380.3 327.1Z"/>
<path fill="#f6bafc" stroke="#f6bafc" d="M383.3 338.8 387.8 343.1 388.1 336.9 383.7 332Z"/>
<path fill="#fcc0fc" stroke="#fcc0fc" d="M387.8 343.1 392.8 348.3 393.3 342.5 388.1 336.9Z"/>
<path fill="#fcc6fc" stroke="#fcc6fc" d="M392.8 348.3 398.1 354.1 398.4 350.6 396.2 345.9 393.3 342.5Z"/>
<path fill="#a25a30" stroke="#a25a30" d="M398.5 350.8 398.2 347.4 396.2 345.9Z"/>
<path fill="#fcd2fc" stroke="#fcd2fc" d="M398.1 354.1 403 359.1 398.4 350.6Z"/>
<path fill="#a86030" stroke="#a86030" d="M403 359.1 403.4 359.3 402.8 350.8 398.2 347.4 398.5 350.8Z"/>
<path fill="#ba6c36" stroke="#ba6c36" d="M403.4 359.3 407.9 361.8 407.4 354.4 402.8 350.8Z"/>
<path fill="#d27842" stroke="#d27842" d="M407.9 361.8 411.8 364.2 411.7 357.8 407.4 354.4Z"/>
<path fill="#e48448" stroke="#e48448" d="M411.8 364.2 415 366.5 415.3 360.8 411.7 357.8Z"/>
<path fill="#ea8a48" stroke="#ea8a48" d="M415 366.5 417.3 368.8 418.3 363.2 415.3 360.8Z"/>
<path fill="#e48448" stroke="#e48448" d="M417.3 368.8 419.1 370.9 420.7 365.3 418.3 363.2Z"/>
<path fill="#f08a48" stroke="#f08a48" d="M419.1 370.9 420.6 372.9 422.8 367.6 420.7 365.3Z"/>
<path fill="#fc9654" stroke="#fc9654" d="M420.6 372.9 422 375.2 424.5 370.4 422.8 367.6Z"/>
<path fill="#fca25a" stroke="#fca25a" d="M422 375.2 423.5 377.6 426 373.3 424.5 370.4Z"/>
<path fill="#fca860" stroke="#fca860" d="M423.5 377.6 425.2 379.9 427.7 376.1 426 373.3ZM425.2 379.9 427.3 382.1 429.7 378.5 427.7 376.1Z"/>
<path fill="#fca25a" stroke="#fca25a" d="M427.3 382.1 429.8 384 432.1 380.6 429.7 378.5Z"/>
<path fill="#fca254" stroke="#fca254" d="M429.8 384 432.5 385.7 434.6 382.7 432.1 380.6Z"/>
<path fill="#fc9c4e" stroke="#fc9c4e" d="M432.5 385.7 435.4 387.4 437.4 384.6 434.6 382.7Z"/>
<path fill="#fc9648" stroke="#fc9648" d="M435.4 387.4 438.4 389.1 440.3 386.5 437.4 384.6Z"/>
<path fill="#fc9042" stroke="#fc9042" d="M438.4 389.1 441.5 390.7 443.3 388.2 440.3 386.5Z"/>
<path fill="#f68a42" stroke="#f68a42" d="M441.5 390.7 444.7 392.3 446.4 389.8 443.3 388.2Z"/>
<path fill="#f0843c" stroke="#f0843c" d="M444.7 392.3 447.8 393.6 447.9 393.6 449.5 391.3 446.4 389.8Z"/>
<path fill="#ea7e36" stroke="#ea7e36" d="M452.4 393 452.6 392.7 449.5 391.3 447.9 393.6ZM453.1 392.9 452.6 392.7 452.4 393Z"/>
<path fill="#541806" stroke="#541806" d="M315.5 278.1 319.5 272.7 321.7 271 317.2 277.9Z"/>
<path fill="#5a1806" stroke="#5a1806" d="M319.5 272.7 323.9 267 325.8 265.1 321.7 271ZM323.9 267 326.5 260.7 328 261 325.8 265.1Z"/>
<path fill="#601e0c" stroke="#601e0c" d="M328.7 253 330.7 251.6 332.2 253.1 331.1 256.5Z"/>
<path fill="#78240c" stroke="#78240c" d="M330.7 251.6 332.5 251.6 333.4 251.4 332.2 253.1Z"/>
<path fill="#e44e2a" stroke="#e44e2a" d="M332.5 251.6 335.5 252.9 337.1 251.5 333.4 251.4Z"/>
<path fill="#fc8454" stroke="#fc8454" d="M335.5 252.9 338.6 257.2 340.8 253.4 337.1 251.5Z"/>
<path fill="#fc663c" stroke="#fc663c" d="M338.6 257.2 341.4 269.7 344.2 267.1 340.8 253.4Z"/>
<path fill="#fc6c3c" stroke="#fc6c3c" d="M341.4 269.7 344.2 278.1 344.6 272.6 344.2 267.1Z"/>
<path fill="#fc7e4e" stroke="#fc7e4e" d="M344.2 278.1 349.2 286.4 349.2 279.3 344.6 272.6Z"/>
<path fill="#fc845a" stroke="#fc845a" d="M349.2 286.4 353.9 292.6 354.1 285.6 349.2 279.3Z"/>
<path fill="#fc905a" stroke="#fc905a" d="M353.9 292.6 358.2 298 358.6 294.2 357.3 289.9 354.1 285.6Z"/>
<path fill="#c696fc" stroke="#c696fc" d="M358.6 294.3 358.7 291.7 357.3 290Z"/>
<path fill="#fc8a5a" stroke="#fc8a5a" d="M358.2 298 361.8 304.8 361.9 304.4 358.6 294.2Z"/>
<path fill="#c090fc" stroke="#c090fc" d="M361.9 304.5 362.7 296.7 358.7 291.7 358.6 294.3Z"/>
<path fill="#fc8454" stroke="#fc8454" d="M361.8 304.8 362.2 305.8 361.9 304.4Z"/>
<path fill="#ba8af6" stroke="#ba8af6" d="M362.2 305.8 364.8 311.5 366 301.8 362.7 296.7 361.9 304.5Z"/>
<path fill="#ae7ef0" stroke="#ae7ef0" d="M364.8 311.5 367.2 317.5 368.9 307.4 366 301.8Z"/>
<path fill="#ba8afc" stroke="#ba8afc" d="M367.2 317.5 369.4 323.3 371.3 314.3 368.9 307.4Z"/>
<path fill="#c690fc" stroke="#c690fc" d="M369.4 323.3 371.8 329.4 373.5 321.9 371.3 314.3Z"/>
<path fill="#d29cfc" stroke="#d29cfc" d="M371.8 329.4 374.7 335.5 376 328.9 373.5 321.9Z"/>
<path fill="#dea8fc" stroke="#dea8fc" d="M374.7 335.5 378.4 340.9 379.3 334.4 376 328.9Z"/>
<path fill="#e4a8fc" stroke="#e4a8fc" d="M378.4 340.9 382.6 345.6 383.3 338.8 379.3 334.4Z"/>
<path fill="#eaaefc" stroke="#eaaefc" d="M382.6 345.6 387.3 350 387.8 343.1 383.3 338.8Z"/>
<path fill="#f6b4fc" stroke="#f6b4fc" d="M387.3 350 392.4 354.7 392.8 348.3 387.8 343.1Z"/>
<path fill="#fcc0fc" stroke="#fcc0fc" d="M392.4 354.7 397.7 359.6 398.1 354.1 392.8 348.3Z"/>
<path fill="#fcd2fc" stroke="#fcd2fc" d="M397.7 359.6 403.1 364.2 403.4 360 403 359.1 398.1 354.1Z"/>
<path fill="#b46636" stroke="#b46636" d="M403.4 360 403.4 359.3 403 359.1Z"/>
<path fill="#fcdefc" stroke="#fcdefc" d="M403.1 364.2 407.4 367.6 403.4 360Z"/>
<path fill="#c0723c" stroke="#c0723c" d="M407.4 367.6 407.8 367.8 407.9 361.8 403.4 359.3 403.4 360Z"/>
<path fill="#d27e42" stroke="#d27e42" d="M407.8 367.8 411.4 369.6 411.8 364.2 407.9 361.8Z"/>
<path fill="#ea8a4e" stroke="#ea8a4e" d="M411.4 369.6 413.9 371.5 415 366.5 411.8 364.2Z"/>
<path fill="#f6904e" stroke="#f6904e" d="M413.9 371.5 415.5 373.5 417.3 368.8 415 366.5Z"/>
<path fill="#f6964e" stroke="#f6964e" d="M415.5 373.5 416.7 375.6 419.1 370.9 417.3 368.8Z"/>
<path fill="#fc964e" stroke="#fc964e" d="M416.7 375.6 417.8 377.6 420.6 372.9 419.1 370.9Z"/>
<path fill="#fc9654" stroke="#fc9654" d="M417.8 377.6 419.1 379.5 422 375.2 420.6 372.9Z"/>
<path fill="#fca25a" stroke="#fca25a" d="M419.1 379.5 420.6 381.5 423.5 377.6 422 375.2Z"/>
<path fill="#fca85a" stroke="#fca85a" d="M420.6 381.5 422.6 383.4 425.2 379.9 423.5 377.6Z"/>
<path fill="#fca25a" stroke="#fca25a" d="M422.6 383.4 424.9 385.3 427.3 382.1 425.2 379.9Z"/>
<path fill="#fc9c54" stroke="#fc9c54" d="M424.9 385.3 427.5 387 429.8 384 427.3 382.1Z"/>
<path fill="#fc964e" stroke="#fc964e" d="M427.5 387 430.4 388.6 432.5 385.7 429.8 384Z"/>
<path fill="#fc9048" stroke="#fc9048" d="M430.4 388.6 433.4 390.1 435.4 387.4 432.5 385.7Z"/>
<path fill="#fc9042" stroke="#fc9042" d="M433.4 390.1 436.6 391.6 438.4 389.1 435.4 387.4Z"/>
<path fill="#f68a42" stroke="#f68a42" d="M436.6 391.6 439.8 393.2 441.5 390.7 438.4 389.1Z"/>
<path fill="#f0843c" stroke="#f0843c" d="M439.8 393.2 442.8 394.5 443.2 394.4 444.7 392.3 441.5 390.7Z"/>
<path fill="#ea7e36" stroke="#ea7e36" d="M447.8 393.6 444.7 392.3 443.2 394.4Z"/>
<path fill="#421206" stroke="#421206" d="M305.5 287 311 284.1 312.5 284.2 307 287.2Z"/>
<path fill="#4e1206" stroke="#4e1206" d="M311 284.1 313.8 279.1 315.5 278.1 312.5 284.2Z"/>
<path fill="#541806" stroke="#541806" d="M313.8 279.1 317.2 275.3 319.5 272.7 315.5 278.1Z"/>
<path fill="#5a1806" stroke="#5a1806" d="M317.2 275.3 321.5 270.5 323.9 267 319.5 272.7ZM321.5 270.5 325.6 263.9 326.5 260.7 323.9 267ZM325.6 263.9 325.8 256 327.1 255.6 326.5 260.7Z"/>
<path fill="#661e0c" stroke="#661e0c" d="M325.8 256 326.7 251.9 328.7 253 327.1 255.6Z"/>
<path fill="#8a240c" stroke="#8a240c" d="M326.7 251.9 329.6 252.1 330.7 251.6 328.7 253Z"/>
<path fill="#fc6036" stroke="#fc6036" d="M329.6 252.1 332.6 254.9 332.5 251.6 330.7 251.6Z"/>
<path fill="#fc8454" stroke="#fc8454" d="M332.6 254.9 335.2 259.4 335.5 252.9 332.5 251.6Z"/>
<path fill="#fc784e" stroke="#fc784e" d="M335.2 259.4 337.8 267.1 338.6 257.2 335.5 252.9Z"/>
<path fill="#fc7248" stroke="#fc7248" d="M337.8 267.1 339.9 275 341.4 269.7 338.6 257.2Z"/>
<path fill="#fc6c42" stroke="#fc6c42" d="M339.9 275 343.7 283.6 344.2 278.1 341.4 269.7Z"/>
<path fill="#fc7248" stroke="#fc7248" d="M343.7 283.6 348.6 292.4 349.2 286.4 344.2 278.1Z"/>
<path fill="#fc8454" stroke="#fc8454" d="M348.6 292.4 353.2 299.5 353.9 292.6 349.2 286.4Z"/>
<path fill="#fc8a5a" stroke="#fc8a5a" d="M353.2 299.5 357 305.2 358.2 298 353.9 292.6ZM357 305.2 360.3 311.4 361.8 304.8 358.2 298Z"/>
<path fill="#fc8454" stroke="#fc8454" d="M360.3 311.4 362.8 319.1 363.8 316.2 362.2 305.8 361.8 304.8Z"/>
<path fill="#b484f0" stroke="#b484f0" d="M363.8 316.4 364.8 311.5 362.2 305.8Z"/>
<path fill="#fc7e4e" stroke="#fc7e4e" d="M362.8 319.1 364.1 324.8 363.8 316.2Z"/>
<path fill="#b484f0" stroke="#b484f0" d="M364.1 325 364.8 326.9 367.2 317.5 364.8 311.5 363.8 316.4ZM364.8 326.9 367.2 332.2 369.4 323.3 367.2 317.5Z"/>
<path fill="#c090fc" stroke="#c090fc" d="M367.2 332.2 370 337 371.8 329.4 369.4 323.3Z"/>
<path fill="#d29cfc" stroke="#d29cfc" d="M370 337 373.2 341.9 374.7 335.5 371.8 329.4Z"/>
<path fill="#dea2fc" stroke="#dea2fc" d="M373.2 341.9 377.1 347.1 378.4 340.9 374.7 335.5Z"/>
<path fill="#e4a8fc" stroke="#e4a8fc" d="M377.1 347.1 381.5 352.1 382.6 345.6 378.4 340.9ZM381.5 352.1 386.5 356.7 387.3 350 382.6 345.6Z"/>
<path fill="#f0aefc" stroke="#f0aefc" d="M386.5 356.7 391.7 360.9 392.4 354.7 387.3 350Z"/>
<path fill="#fcbafc" stroke="#fcbafc" d="M391.7 360.9 397 364.8 397.7 359.6 392.4 354.7Z"/>
<path fill="#fcccfc" stroke="#fcccfc" d="M397 364.8 402.1 368.5 403.1 364.2 397.7 359.6Z"/>
<path fill="#fcdefc" stroke="#fcdefc" d="M402.1 368.5 406.6 371.7 407.7 368.6 407.4 367.6 403.1 364.2Z"/>
<path fill="#c67842" stroke="#c67842" d="M407.7 368.7 407.8 367.8 407.4 367.6Z"/>
<path fill="#fceafc" stroke="#fceafc" d="M406.6 371.7 409.4 374 407.7 368.6Z"/>
<path fill="#d87e48" stroke="#d87e48" d="M409.4 374 409.8 374.2 411.4 369.6 407.8 367.8 407.7 368.7Z"/>
<path fill="#ea8a4e" stroke="#ea8a4e" d="M409.8 374.2 411.7 375.9 413.9 371.5 411.4 369.6Z"/>
<path fill="#fc9654" stroke="#fc9654" d="M411.7 375.9 412.9 377.7 415.5 373.5 413.9 371.5Z"/>
<path fill="#fc9c54" stroke="#fc9c54" d="M412.9 377.7 413.8 379.7 416.7 375.6 415.5 373.5ZM413.8 379.7 414.7 381.6 417.8 377.6 416.7 375.6ZM414.7 381.6 415.9 383.4 419.1 379.5 417.8 377.6ZM415.9 383.4 417.7 385 420.6 381.5 419.1 379.5ZM417.7 385 419.9 386.6 422.6 383.4 420.6 381.5Z"/>
<path fill="#fc9c4e" stroke="#fc9c4e" d="M419.9 386.6 422.5 388.2 424.9 385.3 422.6 383.4Z"/>
<path fill="#fc9648" stroke="#fc9648" d="M422.5 388.2 425.3 389.8 427.5 387 424.9 385.3Z"/>
<path fill="#fc9042" stroke="#fc9042" d="M425.3 389.8 428.3 391.3 430.4 388.6 427.5 387Z"/>
<path fill="#fc8a42" stroke="#fc8a42" d="M428.3 391.3 431.6 392.7 433.4 390.1 430.4 388.6Z"/>
<path fill="#f6843c" stroke="#f6843c" d="M431.6 392.7 434.9 394.1 436.6 391.6 433.4 390.1Z"/>
<path fill="#f0843c" stroke="#f0843c" d="M434.9 394.1 438.2 395.5 439.8 393.2 436.6 391.6Z"/>
<path fill="#ea7e36" stroke="#ea7e36" d="M438.2 395.5 438.3 395.6 442.8 394.5 439.8 393.2Z"/>
<path fill="#481206" stroke="#481206" d="M306.9 285.4 308.2 284.8 311 284.1 305.5 287 304.5 287.5Z"/>
<path fill="#4e1206" stroke="#4e1206" d="M308.2 284.8 312.4 281.9 313.8 279.1 311 284.1Z"/>
<path fill="#601806" stroke="#601806" d="M312.4 281.9 315.2 278.2 317.2 275.3 313.8 279.1Z"/>
<path fill="#5a1806" stroke="#5a1806" d="M315.2 278.2 318.9 274.4 321.5 270.5 317.2 275.3ZM318.9 274.4 323.5 268.8 325.6 263.9 321.5 270.5ZM323.5 268.8 326.6 261.5 325.8 256 325.6 263.9Z"/>
<path fill="#6c1e0c" stroke="#6c1e0c" d="M326.6 261.5 327.1 255.9 326.7 251.9 325.8 256Z"/>
<path fill="#fc7248" stroke="#fc7248" d="M327.1 255.9 329.8 256.6 329.6 252.1 326.7 251.9Z"/>
<path fill="#fc8a60" stroke="#fc8a60" d="M329.8 256.6 332.8 262.5 332.6 254.9 329.6 252.1Z"/>
<path fill="#fc7248" stroke="#fc7248" d="M332.8 262.5 334.6 270.3 335.2 259.4 332.6 254.9Z"/>
<path fill="#fc6642" stroke="#fc6642" d="M334.6 270.3 336.3 276.9 337.8 267.1 335.2 259.4Z"/>
<path fill="#fc6c42" stroke="#fc6c42" d="M336.3 276.9 339 282.9 339.9 275 337.8 267.1Z"/>
<path fill="#fc7248" stroke="#fc7248" d="M339 282.9 343 290 343.7 283.6 339.9 275ZM343 290 347.6 298 348.6 292.4 343.7 283.6Z"/>
<path fill="#fc7e4e" stroke="#fc7e4e" d="M347.6 298 351.9 305.9 353.2 299.5 348.6 292.4Z"/>
<path fill="#fc8454" stroke="#fc8454" d="M351.9 305.9 355.4 312.9 357 305.2 353.2 299.5ZM355.4 312.9 358.2 319.4 360.3 311.4 357 305.2Z"/>
<path fill="#fc7e54" stroke="#fc7e54" d="M358.2 319.4 360.5 326.3 362.8 319.1 360.3 311.4Z"/>
<path fill="#fc7e4e" stroke="#fc7e4e" d="M360.5 326.3 362.5 333.8 364 329.6 364.1 324.8 362.8 319.1Z"/>
<path fill="#b484f0" stroke="#b484f0" d="M364 329.8 364.8 326.9 364.1 325Z"/>
<path fill="#fc8454" stroke="#fc8454" d="M362.5 333.8 363.8 338.3 364 329.6Z"/>
<path fill="#b48af6" stroke="#b48af6" d="M363.8 338.4 364.9 340.3 367.2 332.2 364.8 326.9 364 329.8Z"/>
<path fill="#c08afc" stroke="#c08afc" d="M364.9 340.3 367.9 344.5 370 337 367.2 332.2Z"/>
<path fill="#cc96fc" stroke="#cc96fc" d="M367.9 344.5 371.4 348.7 373.2 341.9 370 337Z"/>
<path fill="#dea2fc" stroke="#dea2fc" d="M371.4 348.7 375.4 353.3 377.1 347.1 373.2 341.9Z"/>
<path fill="#e4a8fc" stroke="#e4a8fc" d="M375.4 353.3 380 358.1 381.5 352.1 377.1 347.1Z"/>
<path fill="#eaaefc" stroke="#eaaefc" d="M380 358.1 385.1 362.6 386.5 356.7 381.5 352.1Z"/>
<path fill="#f0aefc" stroke="#f0aefc" d="M385.1 362.6 390.4 366.5 391.7 360.9 386.5 356.7Z"/>
<path fill="#fcbafc" stroke="#fcbafc" d="M390.4 366.5 395.4 369.7 397 364.8 391.7 360.9Z"/>
<path fill="#fcccfc" stroke="#fcccfc" d="M395.4 369.7 400.1 372.6 402.1 368.5 397 364.8Z"/>
<path fill="#fcd8fc" stroke="#fcd8fc" d="M400.1 372.6 404.1 375.2 406.6 371.7 402.1 368.5Z"/>
<path fill="#fcdefc" stroke="#fcdefc" d="M404.1 375.2 406.8 377.6 409.2 375.1 409.4 374 406.6 371.7Z"/>
<path fill="#e48448" stroke="#e48448" d="M409.2 375.1 409.8 374.2 409.4 374Z"/>
<path fill="#fcd8fc" stroke="#fcd8fc" d="M406.8 377.6 408.4 379.8 408.8 379.4 409.2 375.1Z"/>
<path fill="#ea8a4e" stroke="#ea8a4e" d="M408.8 379.4 411.7 375.9 409.8 374.2 409.2 375.1Z"/>
<path fill="#fcd2fc" stroke="#fcd2fc" d="M408.4 379.8 408.9 380.6 408.8 379.4Z"/>
<path fill="#fc9654" stroke="#fc9654" d="M408.9 380.5 409.6 381.5 412.9 377.7 411.7 375.9 408.8 379.4Z"/>
<path fill="#fc9c54" stroke="#fc9c54" d="M409.6 381.5 410.6 383.3 413.8 379.7 412.9 377.7ZM410.6 383.3 411.5 385.1 414.7 381.6 413.8 379.7ZM411.5 385.1 412.9 386.7 415.9 383.4 414.7 381.6Z"/>
<path fill="#fc964e" stroke="#fc964e" d="M412.9 386.7 414.9 388.2 417.7 385 415.9 383.4Z"/>
<path fill="#fc9048" stroke="#fc9048" d="M414.9 388.2 417.4 389.6 419.9 386.6 417.7 385ZM417.4 389.6 420.2 391 422.5 388.2 419.9 386.6Z"/>
<path fill="#fc8a42" stroke="#fc8a42" d="M420.2 391 423.2 392.4 425.3 389.8 422.5 388.2Z"/>
<path fill="#f68a3c" stroke="#f68a3c" d="M423.2 392.4 426.6 393.8 428.3 391.3 425.3 389.8Z"/>
<path fill="#f0843c" stroke="#f0843c" d="M426.6 393.8 429.9 395.2 431.6 392.7 428.3 391.3Z"/>
<path fill="#ea7e36" stroke="#ea7e36" d="M429.9 395.2 432.5 396.2 433.6 396.1 434.9 394.1 431.6 392.7ZM438.2 395.6 438.2 395.5 434.9 394.1 433.6 396.1ZM438.3 395.6 438.2 395.5 438.2 395.6Z"/>
<path fill="#4e1206" stroke="#4e1206" d="M310.6 284.8 312.4 281.9 308.2 284.8 307.7 285Z"/>
<path fill="#5a1806" stroke="#5a1806" d="M310.9 284.9 313.7 282.1 315.2 278.2 312.4 281.9 310.6 284.8ZM313.7 282.1 316.7 278.2 318.9 274.4 315.2 278.2ZM316.7 278.2 320.5 274.2 323.5 268.8 318.9 274.4ZM320.5 274.2 324.8 269.6 326.6 261.5 323.5 268.8Z"/>
<path fill="#661e0c" stroke="#661e0c" d="M324.8 269.6 328.1 266 327.1 255.9 326.6 261.5Z"/>
<path fill="#c6482a" stroke="#c6482a" d="M328.1 266 330.2 266.7 329.8 256.6 327.1 255.9Z"/>
<path fill="#fc6c48" stroke="#fc6c48" d="M330.2 266.7 331.3 272.3 332.8 262.5 329.8 256.6Z"/>
<path fill="#fc6642" stroke="#fc6642" d="M331.3 272.3 332.2 279.8 334.6 270.3 332.8 262.5Z"/>
<path fill="#f6603c" stroke="#f6603c" d="M332.2 279.8 334.5 286.7 336.3 276.9 334.6 270.3ZM334.5 286.7 338.1 292.4 339 282.9 336.3 276.9Z"/>
<path fill="#fc6c48" stroke="#fc6c48" d="M338.1 292.4 342.1 297.8 343 290 339 282.9Z"/>
<path fill="#fc784e" stroke="#fc784e" d="M342.1 297.8 346.3 304.3 347.6 298 343 290Z"/>
<path fill="#fc7848" stroke="#fc7848" d="M346.3 304.3 350.2 312.2 351.9 305.9 347.6 298Z"/>
<path fill="#fc7e4e" stroke="#fc7e4e" d="M350.2 312.2 353.3 320.3 355.4 312.9 351.9 305.9ZM353.3 320.3 355.7 327.6 358.2 319.4 355.4 312.9ZM355.7 327.6 357.9 334.2 360.5 326.3 358.2 319.4Z"/>
<path fill="#fc7e54" stroke="#fc7e54" d="M357.9 334.2 360.1 340.6 362.5 333.8 360.5 326.3Z"/>
<path fill="#fc8454" stroke="#fc8454" d="M360.1 340.6 362.5 347 363.4 344.7 363.8 338.3 362.5 333.8Z"/>
<path fill="#c08afc" stroke="#c08afc" d="M363.4 344.9 364.9 340.3 363.8 338.4Z"/>
<path fill="#fc905a" stroke="#fc905a" d="M362.5 347 363.4 349.1 363.4 344.7Z"/>
<path fill="#c090fc" stroke="#c090fc" d="M363.4 349.1 365.5 351.7 367.9 344.5 364.9 340.3 363.4 344.9Z"/>
<path fill="#c696fc" stroke="#c696fc" d="M365.5 351.7 369.1 355.4 371.4 348.7 367.9 344.5Z"/>
<path fill="#d8a2fc" stroke="#d8a2fc" d="M369.1 355.4 373.3 359.4 375.4 353.3 371.4 348.7Z"/>
<path fill="#e4a8fc" stroke="#e4a8fc" d="M373.3 359.4 378.1 363.6 380 358.1 375.4 353.3Z"/>
<path fill="#eaaefc" stroke="#eaaefc" d="M378.1 363.6 383.2 367.7 385.1 362.6 380 358.1Z"/>
<path fill="#f6bafc" stroke="#f6bafc" d="M383.2 367.7 388.2 371.3 390.4 366.5 385.1 362.6Z"/>
<path fill="#fcc0fc" stroke="#fcc0fc" d="M388.2 371.3 392.8 374.1 395.4 369.7 390.4 366.5Z"/>
<path fill="#fcccfc" stroke="#fcccfc" d="M392.8 374.1 397 376.4 400.1 372.6 395.4 369.7Z"/>
<path fill="#fcd2fc" stroke="#fcd2fc" d="M397 376.4 400.6 378.5 404.1 375.2 400.1 372.6ZM400.6 378.5 403.3 380.6 406.8 377.6 404.1 375.2Z"/>
<path fill="#fcccfc" stroke="#fcccfc" d="M403.3 380.6 405.1 382.7 408.4 379.8 406.8 377.6ZM405.1 382.7 406.4 384.5 408.6 382.5 408.9 380.6 408.4 379.8Z"/>
<path fill="#fc9654" stroke="#fc9654" d="M408.6 382.6 409.6 381.5 408.9 380.5Z"/>
<path fill="#fcc6fc" stroke="#fcc6fc" d="M406.4 384.5 407.5 386.3 408.9 385 408.6 382.5Z"/>
<path fill="#fc9654" stroke="#fc9654" d="M408.9 385 410.6 383.3 409.6 381.5 408.6 382.6Z"/>
<path fill="#fcbafc" stroke="#fcbafc" d="M407.5 386.3 408.7 388 409.6 387.1 408.9 385Z"/>
<path fill="#fc964e" stroke="#fc964e" d="M409.5 387.1 411.5 385.1 410.6 383.3 408.9 385Z"/>
<path fill="#fcb4fc" stroke="#fcb4fc" d="M408.7 388 410.1 389.6 410.4 389.3 409.6 387.1Z"/>
<path fill="#fc9048" stroke="#fc9048" d="M410.4 389.3 412.9 386.7 411.5 385.1 409.5 387.1Z"/>
<path fill="#f6aefc" stroke="#f6aefc" d="M410.1 389.6 410.9 390.2 410.4 389.3Z"/>
<path fill="#f68a42" stroke="#f68a42" d="M410.9 390.2 412.3 391 414.9 388.2 412.9 386.7 410.4 389.3Z"/>
<path fill="#f08442" stroke="#f08442" d="M412.3 391 415.1 392.3 417.4 389.6 414.9 388.2Z"/>
<path fill="#f0843c" stroke="#f0843c" d="M415.1 392.3 418.3 393.6 420.2 391 417.4 389.6ZM418.3 393.6 421.6 394.9 423.2 392.4 420.2 391Z"/>
<path fill="#ea7e3c" stroke="#ea7e3c" d="M421.6 394.9 425 396.2 426.6 393.8 423.2 392.4Z"/>
<path fill="#ea7e36" stroke="#ea7e36" d="M425 396.2 426.3 396.7 429.2 396.4 429.9 395.2 426.6 393.8ZM432.5 396.2 429.9 395.2 429.2 396.4Z"/>
<path fill="#365a00" stroke="#365a00" d="M301 272.4 307.3 278.9 310.5 284.5 305.3 279Z"/>
<path fill="#426c00" stroke="#426c00" d="M307.3 278.9 311.8 284.7 311.8 284.8 310.9 284.9 310.5 284.5Z"/>
<path fill="#541806" stroke="#541806" d="M311.8 284.8 313.7 282.1 310.9 284.9Z"/>
<path fill="#487200" stroke="#487200" d="M311.8 284.7 311.9 284.7 311.8 284.8Z"/>
<path fill="#5a1806" stroke="#5a1806" d="M312 284.7 314.4 282.6 316.7 278.2 313.7 282.1 311.8 284.8Z"/>
<path fill="#601e0c" stroke="#601e0c" d="M314.4 282.6 317.4 280 320.5 274.2 316.7 278.2ZM317.4 280 320.7 278.3 324.8 269.6 320.5 274.2Z"/>
<path fill="#722412" stroke="#722412" d="M320.7 278.3 323.7 277.4 328.1 266 324.8 269.6Z"/>
<path fill="#a2361e" stroke="#a2361e" d="M323.7 277.4 325.9 278.4 330.2 266.7 328.1 266Z"/>
<path fill="#d25430" stroke="#d25430" d="M325.9 278.4 327.3 282.4 331.3 272.3 330.2 266.7Z"/>
<path fill="#f0603c" stroke="#f0603c" d="M327.3 282.4 329.5 289.1 332.2 279.8 331.3 272.3Z"/>
<path fill="#f6603c" stroke="#f6603c" d="M329.5 289.1 333 296.4 334.5 286.7 332.2 279.8ZM333 296.4 337 302.1 338.1 292.4 334.5 286.7Z"/>
<path fill="#fc6642" stroke="#fc6642" d="M337 302.1 341 306.8 342.1 297.8 338.1 292.4Z"/>
<path fill="#fc7248" stroke="#fc7248" d="M341 306.8 344.8 312.1 346.3 304.3 342.1 297.8Z"/>
<path fill="#fc784e" stroke="#fc784e" d="M344.8 312.1 348.3 319.2 350.2 312.2 346.3 304.3Z"/>
<path fill="#fc7248" stroke="#fc7248" d="M348.3 319.2 351 327.4 353.3 320.3 350.2 312.2Z"/>
<path fill="#fc784e" stroke="#fc784e" d="M351 327.4 353.1 335.4 355.7 327.6 353.3 320.3Z"/>
<path fill="#fc7e4e" stroke="#fc7e4e" d="M353.1 335.4 355.1 342.1 357.9 334.2 355.7 327.6Z"/>
<path fill="#fc7e54" stroke="#fc7e54" d="M355.1 342.1 357.4 347.7 360.1 340.6 357.9 334.2Z"/>
<path fill="#fc8a5a" stroke="#fc8a5a" d="M357.4 347.7 360 352.9 362.5 347 360.1 340.6Z"/>
<path fill="#fc9660" stroke="#fc9660" d="M360 352.9 362.9 357.9 363.4 357 363.4 349.1 362.5 347Z"/>
<path fill="#c696fc" stroke="#c696fc" d="M363.4 357 365.5 351.7 363.4 349.1Z"/>
<path fill="#fc9c66" stroke="#fc9c66" d="M362.9 357.9 363.8 359.2 363.4 357Z"/>
<path fill="#cc9cfc" stroke="#cc9cfc" d="M363.8 359.2 366.6 361.8 369.1 355.4 365.5 351.7 363.4 357Z"/>
<path fill="#d8a2fc" stroke="#d8a2fc" d="M366.6 361.8 371 365.3 373.3 359.4 369.1 355.4Z"/>
<path fill="#e4a8fc" stroke="#e4a8fc" d="M371 365.3 375.9 368.8 378.1 363.6 373.3 359.4Z"/>
<path fill="#f0b4fc" stroke="#f0b4fc" d="M375.9 368.8 380.8 372.2 383.2 367.7 378.1 363.6Z"/>
<path fill="#fcc0fc" stroke="#fcc0fc" d="M380.8 372.2 385.3 375.3 388.2 371.3 383.2 367.7Z"/>
<path fill="#fcc6fc" stroke="#fcc6fc" d="M385.3 375.3 389.5 377.9 392.8 374.1 388.2 371.3ZM389.5 377.9 393.3 380 397 376.4 392.8 374.1ZM393.3 380 396.7 381.8 400.6 378.5 397 376.4ZM396.7 381.8 399.5 383.6 403.3 380.6 400.6 378.5ZM399.5 383.6 401.6 385.5 405.1 382.7 403.3 380.6Z"/>
<path fill="#fcc0fc" stroke="#fcc0fc" d="M401.6 385.5 403.2 387.3 406.4 384.5 405.1 382.7Z"/>
<path fill="#fcbafc" stroke="#fcbafc" d="M403.2 387.3 404.7 389 407.5 386.3 406.4 384.5Z"/>
<path fill="#f6b4fc" stroke="#f6b4fc" d="M404.7 389 406.2 390.5 408.7 388 407.5 386.3Z"/>
<path fill="#f0aefc" stroke="#f0aefc" d="M406.2 390.5 407.9 392 410.1 389.6 408.7 388Z"/>
<path fill="#eaa8fc" stroke="#eaa8fc" d="M407.9 392 410.3 393.3 411.7 391.7 410.9 390.2 410.1 389.6Z"/>
<path fill="#f0843c" stroke="#f0843c" d="M411.7 391.7 412.3 391 410.9 390.2Z"/>
<path fill="#de9cfc" stroke="#de9cfc" d="M410.3 393.3 413.4 394.7 414 393.9 411.7 391.7Z"/>
<path fill="#ea7e3c" stroke="#ea7e3c" d="M414.1 393.9 415.1 392.3 412.3 391 411.7 391.7Z"/>
<path fill="#d89cfc" stroke="#d89cfc" d="M413.4 394.7 416.7 396 417 395.6 414 393.9Z"/>
<path fill="#ea7e36" stroke="#ea7e36" d="M417 395.6 418.3 393.6 415.1 392.3 414.1 393.9Z"/>
<path fill="#d896fc" stroke="#d896fc" d="M416.7 396 420.1 397.2 420.4 396.8 417 395.6Z"/>
<path fill="#ea7e36" stroke="#ea7e36" d="M420.4 396.8 421.6 394.9 418.3 393.6 417 395.6Z"/>
<path fill="#d896fc" stroke="#d896fc" d="M420.1 397.2 420.4 397.3 422.8 397 420.4 396.8Z"/>
<path fill="#e47e36" stroke="#e47e36" d="M424.6 396.9 425 396.2 421.6 394.9 420.4 396.8 422.4 397ZM426.3 396.7 425 396.2 424.6 396.9Z"/>
<path fill="#2a4800" stroke="#2a4800" d="M291.8 269.5 295 270 296.9 271.6 293.6 271.9Z"/>
<path fill="#365a00" stroke="#365a00" d="M295 270 298.6 271.1 301 272.4 296.9 271.6Z"/>
<path fill="#426c00" stroke="#426c00" d="M298.6 271.1 303.1 273.4 307.3 278.9 301 272.4Z"/>
<path fill="#487800" stroke="#487800" d="M303.1 273.4 310.2 282.8 311.8 284.7 307.3 278.9Z"/>
<path fill="#4e7800" stroke="#4e7800" d="M310.2 282.8 312 284.6 312 284.4 311.9 284.7 311.8 284.7Z"/>
<path fill="#5a180c" stroke="#5a180c" d="M312.1 284.3 314.4 282.6 312 284.7Z"/>
<path fill="#548400" stroke="#548400" d="M312 284.6 311.9 284.5 312 284.4Z"/>
<path fill="#782a18" stroke="#782a18" d="M311.9 284.4 312.2 284.4 317.4 280 314.4 282.6 312.1 284.3Z"/>
<path fill="#90361e" stroke="#90361e" d="M312.2 284.4 314.8 285.5 320.7 278.3 317.4 280Z"/>
<path fill="#90301e" stroke="#90301e" d="M314.8 285.5 317.6 288 323.7 277.4 320.7 278.3Z"/>
<path fill="#96361e" stroke="#96361e" d="M317.6 288 320.7 290.9 325.9 278.4 323.7 277.4Z"/>
<path fill="#b44224" stroke="#b44224" d="M320.7 290.9 324 294.7 327.3 282.4 325.9 278.4Z"/>
<path fill="#d85436" stroke="#d85436" d="M324 294.7 327.7 299.8 329.5 289.1 327.3 282.4Z"/>
<path fill="#f0603c" stroke="#f0603c" d="M327.7 299.8 331.7 305.7 333 296.4 329.5 289.1Z"/>
<path fill="#fc6642" stroke="#fc6642" d="M331.7 305.7 335.7 311.4 337 302.1 333 296.4Z"/>
<path fill="#f6663c" stroke="#f6663c" d="M335.7 311.4 339.5 316.3 341 306.8 337 302.1Z"/>
<path fill="#fc6642" stroke="#fc6642" d="M339.5 316.3 343.1 321.3 344.8 312.1 341 306.8Z"/>
<path fill="#fc6c48" stroke="#fc6c48" d="M343.1 321.3 346.1 327.5 348.3 319.2 344.8 312.1Z"/>
<path fill="#fc7248" stroke="#fc7248" d="M346.1 327.5 348.5 334.9 351 327.4 348.3 319.2ZM348.5 334.9 350.4 342.5 353.1 335.4 351 327.4Z"/>
<path fill="#fc7e4e" stroke="#fc7e4e" d="M350.4 342.5 352.3 349.2 355.1 342.1 353.1 335.4Z"/>
<path fill="#fc8454" stroke="#fc8454" d="M352.3 349.2 354.6 354.5 357.4 347.7 355.1 342.1Z"/>
<path fill="#fc8a5a" stroke="#fc8a5a" d="M354.6 354.5 357.3 358.9 360 352.9 357.4 347.7Z"/>
<path fill="#fc9666" stroke="#fc9666" d="M357.3 358.9 360.4 363 362.9 357.9 360 352.9Z"/>
<path fill="#fc9c6c" stroke="#fc9c6c" d="M360.4 363 364.3 367.1 365 365.5 363.8 359.2 362.9 357.9Z"/>
<path fill="#d2a2fc" stroke="#d2a2fc" d="M365 365.6 366.6 361.8 363.8 359.2Z"/>
<path fill="#fca26c" stroke="#fca26c" d="M364.3 367.1 367 369.5 365 365.5Z"/>
<path fill="#d8a2fc" stroke="#d8a2fc" d="M367 369.5 368.9 370.7 371 365.3 366.6 361.8 365 365.6Z"/>
<path fill="#e4aefc" stroke="#e4aefc" d="M368.9 370.7 373.5 373.6 375.9 368.8 371 365.3Z"/>
<path fill="#f6bafc" stroke="#f6bafc" d="M373.5 373.6 378 376.3 380.8 372.2 375.9 368.8Z"/>
<path fill="#fcc6fc" stroke="#fcc6fc" d="M378 376.3 382.1 378.9 385.3 375.3 380.8 372.2ZM382.1 378.9 385.9 381.2 389.5 377.9 385.3 375.3Z"/>
<path fill="#fcc0fc" stroke="#fcc0fc" d="M385.9 381.2 389.5 383.2 393.3 380 389.5 377.9ZM389.5 383.2 392.8 384.9 396.7 381.8 393.3 380Z"/>
<path fill="#fcbafc" stroke="#fcbafc" d="M392.8 384.9 395.7 386.6 399.5 383.6 396.7 381.8ZM395.7 386.6 398.1 388.2 401.6 385.5 399.5 383.6Z"/>
<path fill="#fcb4fc" stroke="#fcb4fc" d="M398.1 388.2 400.1 389.9 403.2 387.3 401.6 385.5Z"/>
<path fill="#f6aefc" stroke="#f6aefc" d="M400.1 389.9 401.9 391.5 404.7 389 403.2 387.3Z"/>
<path fill="#eaa8fc" stroke="#eaa8fc" d="M401.9 391.5 403.7 393 406.2 390.5 404.7 389Z"/>
<path fill="#e4a2fc" stroke="#e4a2fc" d="M403.7 393 405.9 394.3 407.9 392 406.2 390.5Z"/>
<path fill="#de9cfc" stroke="#de9cfc" d="M405.9 394.3 408.7 395.6 410.3 393.3 407.9 392Z"/>
<path fill="#d89cfc" stroke="#d89cfc" d="M408.7 395.6 411.8 396.9 413.4 394.7 410.3 393.3Z"/>
<path fill="#d896fc" stroke="#d896fc" d="M411.8 396.9 415.2 398.1 416.7 396 413.4 394.7Z"/>
<path fill="#d296fc" stroke="#d296fc" d="M415.2 398.1 416.4 398.6 420 397.4 420.1 397.2 416.7 396Z"/>
<path fill="#d896fc" stroke="#d896fc" d="M420.4 397.3 420.1 397.2 420 397.4Z"/>
<path fill="#2a4200" stroke="#2a4200" d="M287.4 269.1 290.1 268.6 291.8 269.5 289.1 271.2Z"/>
<path fill="#3c6000" stroke="#3c6000" d="M290.1 268.6 293.2 269.2 295 270 291.8 269.5Z"/>
<path fill="#4e7e00" stroke="#4e7e00" d="M293.2 269.2 296.5 270.9 298.6 271.1 295 270Z"/>
<path fill="#4e7800" stroke="#4e7800" d="M296.5 270.9 300.4 271.9 303.1 273.4 298.6 271.1Z"/>
<path fill="#4e7e00" stroke="#4e7e00" d="M300.4 271.9 306.8 278.8 310.2 282.8 303.1 273.4Z"/>
<path fill="#5a9006" stroke="#5a9006" d="M306.8 278.8 310.9 285.2 312 284.6 310.2 282.8Z"/>
<path fill="#72a80c" stroke="#72a80c" d="M310.9 285.2 310.6 285.6 312 284.8 311.9 284.5 312 284.6Z"/>
<path fill="#903624" stroke="#903624" d="M311.9 284.8 312.2 284.4 311.9 284.4Z"/>
<path fill="#7eba18" stroke="#7eba18" d="M310.6 285.6 312.6 291.2 313.4 290.5 312 284.8Z"/>
<path fill="#a2422a" stroke="#a2422a" d="M313.4 291 314.8 285.5 312.2 284.4 311.9 284.8Z"/>
<path fill="#7eb418" stroke="#7eb418" d="M312.6 291.2 315.9 300.8 315.9 300.8 313.4 290.5Z"/>
<path fill="#a2422a" stroke="#a2422a" d="M315.9 300.8 317.6 288 314.8 285.5 313.4 291Z"/>
<path fill="#78b418" stroke="#78b418" d="M315.9 300.8 316.1 301.5 315.9 300.8Z"/>
<path fill="#a23c24" stroke="#a23c24" d="M316.1 301.6 319.3 305.2 320.7 290.9 317.6 288 315.9 300.8ZM319.3 305.2 322.9 308.1 324 294.7 320.7 290.9Z"/>
<path fill="#ba482a" stroke="#ba482a" d="M322.9 308.1 326.7 311.1 327.7 299.8 324 294.7Z"/>
<path fill="#de5a36" stroke="#de5a36" d="M326.7 311.1 330.6 315.1 331.7 305.7 327.7 299.8Z"/>
<path fill="#f66642" stroke="#f66642" d="M330.6 315.1 334.4 320.1 335.7 311.4 331.7 305.7Z"/>
<path fill="#fc6642" stroke="#fc6642" d="M334.4 320.1 338 325.5 339.5 316.3 335.7 311.4Z"/>
<path fill="#f6663c" stroke="#f6663c" d="M338 325.5 341.1 330.9 343.1 321.3 339.5 316.3Z"/>
<path fill="#fc6642" stroke="#fc6642" d="M341.1 330.9 343.7 336.6 346.1 327.5 343.1 321.3Z"/>
<path fill="#fc6c48" stroke="#fc6c48" d="M343.7 336.6 345.8 342.8 348.5 334.9 346.1 327.5Z"/>
<path fill="#fc7248" stroke="#fc7248" d="M345.8 342.8 347.7 349.4 350.4 342.5 348.5 334.9Z"/>
<path fill="#fc7e4e" stroke="#fc7e4e" d="M347.7 349.4 349.6 355.5 352.3 349.2 350.4 342.5Z"/>
<path fill="#fc8a5a" stroke="#fc8a5a" d="M349.6 355.5 352 360.5 354.6 354.5 352.3 349.2Z"/>
<path fill="#fc9060" stroke="#fc9060" d="M352 360.5 354.8 364.6 357.3 358.9 354.6 354.5Z"/>
<path fill="#fc9666" stroke="#fc9666" d="M354.8 364.6 358.2 368.1 360.4 363 357.3 358.9Z"/>
<path fill="#fca26c" stroke="#fca26c" d="M358.2 368.1 362.2 371.6 364.3 367.1 360.4 363Z"/>
<path fill="#fca872" stroke="#fca872" d="M362.2 371.6 366.6 375 368 372.6 367 369.5 364.3 367.1Z"/>
<path fill="#e4aefc" stroke="#e4aefc" d="M367.9 372.7 368.9 370.7 367 369.5Z"/>
<path fill="#fca872" stroke="#fca872" d="M366.6 375 369.3 377 368 372.6Z"/>
<path fill="#f0b4fc" stroke="#f0b4fc" d="M369.3 377 370.8 377.9 373.5 373.6 368.9 370.7 367.9 372.7Z"/>
<path fill="#fcc0fc" stroke="#fcc0fc" d="M370.8 377.9 375 380.1 378 376.3 373.5 373.6Z"/>
<path fill="#fcc6fc" stroke="#fcc6fc" d="M375 380.1 378.8 382.2 382.1 378.9 378 376.3Z"/>
<path fill="#fcc0fc" stroke="#fcc0fc" d="M378.8 382.2 382.3 384.2 385.9 381.2 382.1 378.9Z"/>
<path fill="#fcbafc" stroke="#fcbafc" d="M382.3 384.2 385.7 386.1 389.5 383.2 385.9 381.2Z"/>
<path fill="#f6bafc" stroke="#f6bafc" d="M385.7 386.1 388.9 387.8 392.8 384.9 389.5 383.2Z"/>
<path fill="#f6b4fc" stroke="#f6b4fc" d="M388.9 387.8 391.9 389.4 395.7 386.6 392.8 384.9ZM391.9 389.4 394.6 391 398.1 388.2 395.7 386.6Z"/>
<path fill="#f0aefc" stroke="#f0aefc" d="M394.6 391 397 392.5 400.1 389.9 398.1 388.2Z"/>
<path fill="#eaa8fc" stroke="#eaa8fc" d="M397 392.5 399.2 394 401.9 391.5 400.1 389.9Z"/>
<path fill="#e4a2fc" stroke="#e4a2fc" d="M399.2 394 401.5 395.3 403.7 393 401.9 391.5Z"/>
<path fill="#de9cfc" stroke="#de9cfc" d="M401.5 395.3 404.2 396.6 405.9 394.3 403.7 393Z"/>
<path fill="#d896fc" stroke="#d896fc" d="M404.2 396.6 407.1 397.8 408.7 395.6 405.9 394.3Z"/>
<path fill="#d296fc" stroke="#d296fc" d="M407.1 397.8 410.3 399 411.8 396.9 408.7 395.6ZM410.3 399 412.9 400 414.2 399.5 415.2 398.1 411.8 396.9ZM416.4 398.6 415.2 398.1 414.2 399.5Z"/>
<path fill="#2a4200" stroke="#2a4200" d="M282.5 266.1 285.6 267.3 287.4 269.1 284.7 270.1Z"/>
<path fill="#3c6000" stroke="#3c6000" d="M285.6 267.3 288.5 269.2 290.1 268.6 287.4 269.1Z"/>
<path fill="#669612" stroke="#669612" d="M288.5 269.2 291.4 270.6 293.2 269.2 290.1 268.6Z"/>
<path fill="#96d230" stroke="#96d230" d="M291.4 270.6 294.5 271.6 296.5 270.9 293.2 269.2Z"/>
<path fill="#6ca20c" stroke="#6ca20c" d="M294.5 271.6 298.2 272.1 300.4 271.9 296.5 270.9Z"/>
<path fill="#5a9006" stroke="#5a9006" d="M298.2 272.1 303.7 276.6 306.8 278.8 300.4 271.9Z"/>
<path fill="#6ca80c" stroke="#6ca80c" d="M303.7 276.6 308.7 285.6 310.9 285.2 306.8 278.8Z"/>
<path fill="#a2de30" stroke="#a2de30" d="M308.7 285.6 308.8 288.8 310.6 285.6 310.9 285.2Z"/>
<path fill="#a2e436" stroke="#a2e436" d="M308.8 288.8 311.1 295.7 312.6 291.2 310.6 285.6Z"/>
<path fill="#8ac62a" stroke="#8ac62a" d="M311.1 295.7 314.4 304.5 315.9 300.8 312.6 291.2Z"/>
<path fill="#84ba1e" stroke="#84ba1e" d="M314.4 304.5 318.5 314.7 318.9 313.6 316.1 301.5 315.9 300.8Z"/>
<path fill="#a2422a" stroke="#a2422a" d="M318.9 314 319.3 305.2 316.1 301.6Z"/>
<path fill="#84c01e" stroke="#84c01e" d="M318.5 314.7 320.2 318.3 318.9 313.6Z"/>
<path fill="#a23c24" stroke="#a23c24" d="M320.2 318.4 322.6 320.3 322.9 308.1 319.3 305.2 318.9 314Z"/>
<path fill="#a83c24" stroke="#a83c24" d="M322.6 320.3 326.1 322.4 326.7 311.1 322.9 308.1Z"/>
<path fill="#c0482a" stroke="#c0482a" d="M326.1 322.4 329.7 324.9 330.6 315.1 326.7 311.1Z"/>
<path fill="#e4603c" stroke="#e4603c" d="M329.7 324.9 333.1 329 334.4 320.1 330.6 315.1Z"/>
<path fill="#f66642" stroke="#f66642" d="M333.1 329 336.2 334.4 338 325.5 334.4 320.1ZM336.2 334.4 338.7 340.2 341.1 330.9 338 325.5ZM338.7 340.2 340.9 345.7 343.7 336.6 341.1 330.9Z"/>
<path fill="#fc6c42" stroke="#fc6c42" d="M340.9 345.7 342.9 351 345.8 342.8 343.7 336.6Z"/>
<path fill="#fc724e" stroke="#fc724e" d="M342.9 351 344.9 356.2 347.7 349.4 345.8 342.8Z"/>
<path fill="#fc7e54" stroke="#fc7e54" d="M344.9 356.2 347.1 361.3 349.6 355.5 347.7 349.4Z"/>
<path fill="#fc8a60" stroke="#fc8a60" d="M347.1 361.3 349.6 365.9 352 360.5 349.6 355.5Z"/>
<path fill="#fc9666" stroke="#fc9666" d="M349.6 365.9 352.6 369.7 354.8 364.6 352 360.5Z"/>
<path fill="#fc9c6c" stroke="#fc9c6c" d="M352.6 369.7 356.1 373 358.2 368.1 354.8 364.6Z"/>
<path fill="#fca26c" stroke="#fca26c" d="M356.1 373 359.9 376 362.2 371.6 358.2 368.1Z"/>
<path fill="#fca272" stroke="#fca272" d="M359.9 376 363.9 378.9 366.6 375 362.2 371.6ZM363.9 378.9 367.9 381.6 368.8 380.5 369.3 377 366.6 375Z"/>
<path fill="#f6bafc" stroke="#f6bafc" d="M368.8 380.5 370.8 377.9 369.3 377Z"/>
<path fill="#fca26c" stroke="#fca26c" d="M367.9 381.6 368.7 382.1 368.8 380.5Z"/>
<path fill="#fcc0fc" stroke="#fcc0fc" d="M368.7 382.1 371.7 383.6 375 380.1 370.8 377.9 368.8 380.5ZM371.7 383.6 375.2 385.4 378.8 382.2 375 380.1Z"/>
<path fill="#fcbafc" stroke="#fcbafc" d="M375.2 385.4 378.6 387.1 382.3 384.2 378.8 382.2Z"/>
<path fill="#f6b4fc" stroke="#f6b4fc" d="M378.6 387.1 381.9 388.9 385.7 386.1 382.3 384.2Z"/>
<path fill="#f0b4fc" stroke="#f0b4fc" d="M381.9 388.9 385.2 390.6 388.9 387.8 385.7 386.1Z"/>
<path fill="#f0aefc" stroke="#f0aefc" d="M385.2 390.6 388.3 392.2 391.9 389.4 388.9 387.8Z"/>
<path fill="#eaa8fc" stroke="#eaa8fc" d="M388.3 392.2 391.2 393.6 394.6 391 391.9 389.4ZM391.2 393.6 394 395 397 392.5 394.6 391Z"/>
<path fill="#e4a2fc" stroke="#e4a2fc" d="M394 395 396.7 396.3 399.2 394 397 392.5Z"/>
<path fill="#d89cfc" stroke="#d89cfc" d="M396.7 396.3 399.5 397.6 401.5 395.3 399.2 394Z"/>
<path fill="#d896fc" stroke="#d896fc" d="M399.5 397.6 402.5 398.9 404.2 396.6 401.5 395.3Z"/>
<path fill="#d296fc" stroke="#d296fc" d="M402.5 398.9 405.6 400.1 407.1 397.8 404.2 396.6Z"/>
<path fill="#d290fc" stroke="#d290fc" d="M405.6 400.1 407.4 400.7 409.2 400.6 410.3 399 407.1 397.8ZM412.9 400 410.3 399 409.2 400.6Z"/>
<path fill="#1e3000" stroke="#1e3000" d="M275.7 270.8 277.3 265.5 279.6 267.3 277.9 271.9Z"/>
<path fill="#2a4200" stroke="#2a4200" d="M277.3 265.5 280.4 263.9 282.5 266.1 279.6 267.3Z"/>
<path fill="#3c6000" stroke="#3c6000" d="M280.4 263.9 283.8 266.3 285.6 267.3 282.5 266.1Z"/>
<path fill="#669c0c" stroke="#669c0c" d="M283.8 266.3 287 270.1 288.5 269.2 285.6 267.3Z"/>
<path fill="#aef048" stroke="#aef048" d="M287 270.1 290.1 272.7 291.4 270.6 288.5 269.2Z"/>
<path fill="#96cc3c" stroke="#96cc3c" d="M290.1 272.7 293.2 273.5 294.5 271.6 291.4 270.6Z"/>
<path fill="#bafc4e" stroke="#bafc4e" d="M293.2 273.5 296.7 274 298.2 272.1 294.5 271.6Z"/>
<path fill="#90d22a" stroke="#90d22a" d="M296.7 274 302 278.6 303.7 276.6 298.2 272.1Z"/>
<path fill="#84c024" stroke="#84c024" d="M302 278.6 305.9 287.1 308.7 285.6 303.7 276.6Z"/>
<path fill="#96d230" stroke="#96d230" d="M305.9 287.1 307 293.9 308.8 288.8 308.7 285.6Z"/>
<path fill="#9cd236" stroke="#9cd236" d="M307 293.9 309.8 302.4 311.1 295.7 308.8 288.8Z"/>
<path fill="#96cc30" stroke="#96cc30" d="M309.8 302.4 313.3 310.8 314.4 304.5 311.1 295.7Z"/>
<path fill="#90c62a" stroke="#90c62a" d="M313.3 310.8 317.6 319.7 318.5 314.7 314.4 304.5Z"/>
<path fill="#8ac624" stroke="#8ac624" d="M317.6 319.7 321.8 328.7 322.2 327.7 320.2 318.3 318.5 314.7Z"/>
<path fill="#a2422a" stroke="#a2422a" d="M322.2 327.9 322.6 320.3 320.2 318.4Z"/>
<path fill="#90cc24" stroke="#90cc24" d="M321.8 328.7 323 331.2 322.2 327.7Z"/>
<path fill="#a23c24" stroke="#a23c24" d="M323 331.2 325.3 332.7 326.1 322.4 322.6 320.3 322.2 327.9Z"/>
<path fill="#ae4224" stroke="#ae4224" d="M325.3 332.7 328.5 334.8 329.7 324.9 326.1 322.4Z"/>
<path fill="#d25430" stroke="#d25430" d="M328.5 334.8 331.4 338.2 333.1 329 329.7 324.9Z"/>
<path fill="#ea603c" stroke="#ea603c" d="M331.4 338.2 333.9 343.1 336.2 334.4 333.1 329Z"/>
<path fill="#f66642" stroke="#f66642" d="M333.9 343.1 336 348.8 338.7 340.2 336.2 334.4Z"/>
<path fill="#fc6642" stroke="#fc6642" d="M336 348.8 337.9 354.1 340.9 345.7 338.7 340.2Z"/>
<path fill="#fc6c48" stroke="#fc6c48" d="M337.9 354.1 340 358.7 342.9 351 340.9 345.7Z"/>
<path fill="#fc784e" stroke="#fc784e" d="M340 358.7 342.2 362.8 344.9 356.2 342.9 351Z"/>
<path fill="#fc845a" stroke="#fc845a" d="M342.2 362.8 344.6 366.8 347.1 361.3 344.9 356.2Z"/>
<path fill="#fc9060" stroke="#fc9060" d="M344.6 366.8 347.3 370.7 349.6 365.9 347.1 361.3Z"/>
<path fill="#fc9666" stroke="#fc9666" d="M347.3 370.7 350.2 374.3 352.6 369.7 349.6 365.9Z"/>
<path fill="#fc9c6c" stroke="#fc9c6c" d="M350.2 374.3 353.5 377.4 356.1 373 352.6 369.7ZM353.5 377.4 357.1 380.1 359.9 376 356.1 373Z"/>
<path fill="#fca26c" stroke="#fca26c" d="M357.1 380.1 360.9 382.5 363.9 378.9 359.9 376Z"/>
<path fill="#fc9c6c" stroke="#fc9c6c" d="M360.9 382.5 364.7 384.8 367.9 381.6 363.9 378.9Z"/>
<path fill="#fc9c66" stroke="#fc9c66" d="M364.7 384.8 366.8 386.1 368.7 382.1 367.9 381.6Z"/>
<path fill="#f6bafc" stroke="#f6bafc" d="M366.8 386.1 368.2 386.7 371.7 383.6 368.7 382.1Z"/>
<path fill="#f6b4fc" stroke="#f6b4fc" d="M368.2 386.7 371.6 388.4 375.2 385.4 371.7 383.6Z"/>
<path fill="#f0b4fc" stroke="#f0b4fc" d="M371.6 388.4 374.9 390 378.6 387.1 375.2 385.4Z"/>
<path fill="#f0aefc" stroke="#f0aefc" d="M374.9 390 378.2 391.6 381.9 388.9 378.6 387.1ZM378.2 391.6 381.5 393.2 385.2 390.6 381.9 388.9Z"/>
<path fill="#eaa8fc" stroke="#eaa8fc" d="M381.5 393.2 384.8 394.8 388.3 392.2 385.2 390.6Z"/>
<path fill="#e4a2fc" stroke="#e4a2fc" d="M384.8 394.8 388.1 396.1 391.2 393.6 388.3 392.2Z"/>
<path fill="#dea2fc" stroke="#dea2fc" d="M388.1 396.1 391.4 397.4 394 395 391.2 393.6Z"/>
<path fill="#d89cfc" stroke="#d89cfc" d="M391.4 397.4 394.5 398.6 396.7 396.3 394 395Z"/>
<path fill="#d896fc" stroke="#d896fc" d="M394.5 398.6 397.7 399.8 399.5 397.6 396.7 396.3Z"/>
<path fill="#d296fc" stroke="#d296fc" d="M397.7 399.8 400.9 401 402.5 398.9 399.5 397.6Z"/>
<path fill="#d290fc" stroke="#d290fc" d="M400.9 401 401.2 401.2 405.2 400.7 405.6 400.1 402.5 398.9ZM407.4 400.7 405.6 400.1 405.2 400.7Z"/>
<path fill="#1e3000" stroke="#1e3000" d="M273.9 276.2 274.1 271.4 275.7 270.8 275.6 276.8Z"/>
<path fill="#243600" stroke="#243600" d="M274.1 271.4 275.7 267 277.3 265.5 275.7 270.8Z"/>
<path fill="#365400" stroke="#365400" d="M275.7 267 278.6 265.1 280.4 263.9 277.3 265.5Z"/>
<path fill="#78b418" stroke="#78b418" d="M278.6 265.1 282.1 267 283.8 266.3 280.4 263.9Z"/>
<path fill="#78b41e" stroke="#78b41e" d="M282.1 267 285.6 271.3 287 270.1 283.8 266.3Z"/>
<path fill="#a8e43c" stroke="#a8e43c" d="M285.6 271.3 289.1 275.2 290.1 272.7 287 270.1Z"/>
<path fill="#a8e448" stroke="#a8e448" d="M289.1 275.2 292.7 277.5 293.2 273.5 290.1 272.7Z"/>
<path fill="#90c636" stroke="#90c636" d="M292.7 277.5 296.4 279.4 296.7 274 293.2 273.5Z"/>
<path fill="#aeea4e" stroke="#aeea4e" d="M296.4 279.4 300.8 284.2 302 278.6 296.7 274Z"/>
<path fill="#96d236" stroke="#96d236" d="M300.8 284.2 303.4 291.3 305.9 287.1 302 278.6Z"/>
<path fill="#8ac030" stroke="#8ac030" d="M303.4 291.3 305.6 300.4 307 293.9 305.9 287.1Z"/>
<path fill="#90c630" stroke="#90c630" d="M305.6 300.4 308.8 310.1 309.8 302.4 307 293.9ZM308.8 310.1 312.7 318.6 313.3 310.8 309.8 302.4Z"/>
<path fill="#96cc36" stroke="#96cc36" d="M312.7 318.6 316.7 326.1 317.6 319.7 313.3 310.8Z"/>
<path fill="#96d230" stroke="#96d230" d="M316.7 326.1 320.5 333.1 321.8 328.7 317.6 319.7Z"/>
<path fill="#96d22a" stroke="#96d22a" d="M320.5 333.1 323.7 340 324.3 338.9 323 331.2 321.8 328.7Z"/>
<path fill="#a8422a" stroke="#a8422a" d="M324.2 339.1 325.3 332.7 323 331.2Z"/>
<path fill="#9cde30" stroke="#9cde30" d="M323.7 340 324.8 342.9 324.3 338.9Z"/>
<path fill="#ae482a" stroke="#ae482a" d="M324.8 342.8 326.4 344.4 328.5 334.8 325.3 332.7 324.2 339.1Z"/>
<path fill="#c04e30" stroke="#c04e30" d="M326.4 344.4 328.8 347.7 331.4 338.2 328.5 334.8Z"/>
<path fill="#de5a3c" stroke="#de5a3c" d="M328.8 347.7 331.1 351.9 333.9 343.1 331.4 338.2Z"/>
<path fill="#f06642" stroke="#f06642" d="M331.1 351.9 333.1 356.7 336 348.8 333.9 343.1Z"/>
<path fill="#fc6c48" stroke="#fc6c48" d="M333.1 356.7 335.1 361.5 337.9 354.1 336 348.8Z"/>
<path fill="#fc724e" stroke="#fc724e" d="M335.1 361.5 337.3 365.6 340 358.7 337.9 354.1Z"/>
<path fill="#fc784e" stroke="#fc784e" d="M337.3 365.6 339.6 369.1 342.2 362.8 340 358.7Z"/>
<path fill="#fc845a" stroke="#fc845a" d="M339.6 369.1 342.1 372.2 344.6 366.8 342.2 362.8Z"/>
<path fill="#fc9066" stroke="#fc9066" d="M342.1 372.2 344.8 375.4 347.3 370.7 344.6 366.8Z"/>
<path fill="#fc9666" stroke="#fc9666" d="M344.8 375.4 347.6 378.5 350.2 374.3 347.3 370.7Z"/>
<path fill="#fc9c6c" stroke="#fc9c6c" d="M347.6 378.5 350.7 381.4 353.5 377.4 350.2 374.3ZM350.7 381.4 354 383.9 357.1 380.1 353.5 377.4ZM354 383.9 357.6 386 360.9 382.5 357.1 380.1Z"/>
<path fill="#fc9666" stroke="#fc9666" d="M357.6 386 361.2 387.9 364.7 384.8 360.9 382.5Z"/>
<path fill="#fc8a5a" stroke="#fc8a5a" d="M361.2 387.9 364.6 389.6 365.1 389.2 366.8 386.1 364.7 384.8Z"/>
<path fill="#f0aefc" stroke="#f0aefc" d="M365.1 389.2 368.2 386.7 366.8 386.1Z"/>
<path fill="#fc8454" stroke="#fc8454" d="M364.6 389.6 365.1 389.9 365.1 389.2Z"/>
<path fill="#eaaefc" stroke="#eaaefc" d="M365.1 389.9 367.9 391.2 371.6 388.4 368.2 386.7 365.1 389.2Z"/>
<path fill="#eaa8fc" stroke="#eaa8fc" d="M367.9 391.2 371.2 392.7 374.9 390 371.6 388.4ZM371.2 392.7 374.6 394.2 378.2 391.6 374.9 390ZM374.6 394.2 378 395.8 381.5 393.2 378.2 391.6Z"/>
<path fill="#fc6c42" stroke="#fc6c42" d="M379.8 396.4 381.9 397.1 384 395.3Z"/>
<path fill="#e4a2fc" stroke="#e4a2fc" d="M378 395.8 379.8 396.4 384 395.3 384.8 394.8 381.5 393.2Z"/>
<path fill="#fc6c42" stroke="#fc6c42" d="M381.9 397.1 385.7 398.4 386.9 397.2 384 395.3Z"/>
<path fill="#dea2fc" stroke="#dea2fc" d="M386.9 397.2 388.1 396.1 384.8 394.8 384 395.3Z"/>
<path fill="#fc663c" stroke="#fc663c" d="M385.7 398.4 388.1 399.3 386.9 397.2Z"/>
<path fill="#d896fc" stroke="#d896fc" d="M388.1 399.3 389.3 399.7 391.4 397.4 388.1 396.1 386.9 397.2Z"/>
<path fill="#d296fc" stroke="#d296fc" d="M389.3 399.7 392.7 400.9 394.5 398.6 391.4 397.4Z"/>
<path fill="#d290fc" stroke="#d290fc" d="M392.7 400.9 395.9 402 396 402 397.7 399.8 394.5 398.6ZM400.8 401.2 400.9 401 397.7 399.8 396 402ZM401.2 401.2 400.9 401 400.8 401.2Z"/>
<path fill="#1e3600" stroke="#1e3600" d="M272.9 281.2 272.4 276.5 273.9 276.2 273.7 280.7Z"/>
<path fill="#243c00" stroke="#243c00" d="M272.4 276.5 273.3 273.4 274.1 271.4 273.9 276.2Z"/>
<path fill="#304800" stroke="#304800" d="M273.3 273.4 275.3 271.2 275.7 267 274.1 271.4Z"/>
<path fill="#42600c" stroke="#42600c" d="M275.3 271.2 278 270 278.6 265.1 275.7 267Z"/>
<path fill="#9cd242" stroke="#9cd242" d="M278 270 281.1 270.7 282.1 267 278.6 265.1Z"/>
<path fill="#a8e448" stroke="#a8e448" d="M281.1 270.7 284.5 273.7 285.6 271.3 282.1 267Z"/>
<path fill="#96d236" stroke="#96d236" d="M284.5 273.7 288.3 278.1 289.1 275.2 285.6 271.3Z"/>
<path fill="#b4f04e" stroke="#b4f04e" d="M288.3 278.1 292.4 282.8 292.7 277.5 289.1 275.2Z"/>
<path fill="#90c63c" stroke="#90c63c" d="M292.4 282.8 296 287.3 296.4 279.4 292.7 277.5Z"/>
<path fill="#8aba36" stroke="#8aba36" d="M296 287.3 299.1 292.1 300.8 284.2 296.4 279.4Z"/>
<path fill="#90c036" stroke="#90c036" d="M299.1 292.1 301.5 298.9 303.4 291.3 300.8 284.2Z"/>
<path fill="#8aba30" stroke="#8aba30" d="M301.5 298.9 304.4 308.1 305.6 300.4 303.4 291.3ZM304.4 308.1 308 317.8 308.8 310.1 305.6 300.4Z"/>
<path fill="#90c630" stroke="#90c630" d="M308 317.8 311.9 326.3 312.7 318.6 308.8 310.1Z"/>
<path fill="#96cc36" stroke="#96cc36" d="M311.9 326.3 315.5 332.9 316.7 326.1 312.7 318.6Z"/>
<path fill="#a2de3c" stroke="#a2de3c" d="M315.5 332.9 318.9 338.4 320.5 333.1 316.7 326.1Z"/>
<path fill="#a2e43c" stroke="#a2e43c" d="M318.9 338.4 321.7 344.1 323.7 340 320.5 333.1Z"/>
<path fill="#a2de36" stroke="#a2de36" d="M321.7 344.1 323.9 350.4 325.1 348.3 324.8 342.9 323.7 340Z"/>
<path fill="#b44830" stroke="#b44830" d="M325.1 348.5 326.4 344.4 324.8 342.8Z"/>
<path fill="#a8e436" stroke="#a8e436" d="M323.9 350.4 325.8 356.6 325.1 348.3Z"/>
<path fill="#c04e36" stroke="#c04e36" d="M325.8 356.6 325.8 356.7 328.8 347.7 326.4 344.4 325.1 348.5Z"/>
<path fill="#d25a3c" stroke="#d25a3c" d="M325.8 356.7 328.1 360.2 331.1 351.9 328.8 347.7Z"/>
<path fill="#ea6642" stroke="#ea6642" d="M328.1 360.2 330.3 364.1 333.1 356.7 331.1 351.9Z"/>
<path fill="#fc724e" stroke="#fc724e" d="M330.3 364.1 332.5 368 335.1 361.5 333.1 356.7Z"/>
<path fill="#fc7854" stroke="#fc7854" d="M332.5 368 334.7 371.6 337.3 365.6 335.1 361.5Z"/>
<path fill="#fc7e5a" stroke="#fc7e5a" d="M334.7 371.6 337 374.6 339.6 369.1 337.3 365.6Z"/>
<path fill="#fc845a" stroke="#fc845a" d="M337 374.6 339.5 377.3 342.1 372.2 339.6 369.1Z"/>
<path fill="#fc9066" stroke="#fc9066" d="M339.5 377.3 342.1 379.9 344.8 375.4 342.1 372.2Z"/>
<path fill="#fc9666" stroke="#fc9666" d="M342.1 379.9 344.8 382.4 347.6 378.5 344.8 375.4Z"/>
<path fill="#fc966c" stroke="#fc966c" d="M344.8 382.4 347.7 385 350.7 381.4 347.6 378.5Z"/>
<path fill="#fc9666" stroke="#fc9666" d="M347.7 385 350.8 387.2 354 383.9 350.7 381.4Z"/>
<path fill="#fc9060" stroke="#fc9060" d="M350.8 387.2 354.2 389.1 357.6 386 354 383.9Z"/>
<path fill="#fc8a5a" stroke="#fc8a5a" d="M354.2 389.1 357.7 390.7 361.2 387.9 357.6 386Z"/>
<path fill="#fc8454" stroke="#fc8454" d="M357.7 390.7 361.1 392.3 364.6 389.6 361.2 387.9Z"/>
<path fill="#fc784e" stroke="#fc784e" d="M361.1 392.3 364.4 393.9 365.4 393.2 365.1 389.9 364.6 389.6Z"/>
<path fill="#e4a8fc" stroke="#e4a8fc" d="M365.4 393.2 367.9 391.2 365.1 389.9Z"/>
<path fill="#fc7248" stroke="#fc7248" d="M364.4 393.9 367.1 395.1 365.4 393.2Z"/>
<path fill="#e4a2fc" stroke="#e4a2fc" d="M367.1 395.1 367.7 395.4 371.2 392.7 367.9 391.2 365.4 393.2ZM367.7 395.4 371.1 396.8 374.6 394.2 371.2 392.7ZM371.1 396.8 375.5 398.1 378 395.8 374.6 394.2Z"/>
<path fill="#fc6c42" stroke="#fc6c42" d="M378 398.9 379.7 399.4 381.9 397.1 379.8 396.4Z"/>
<path fill="#de9cfc" stroke="#de9cfc" d="M375.5 398.1 378 398.9 379.8 396.4 378 395.8Z"/>
<path fill="#fc663c" stroke="#fc663c" d="M379.7 399.4 383.7 400.6 385.7 398.4 381.9 397.1ZM383.7 400.6 387.5 401.9 388.2 401 388.1 399.3 385.7 398.4Z"/>
<path fill="#d296fc" stroke="#d296fc" d="M388.2 401 389.3 399.7 388.1 399.3Z"/>
<path fill="#fc6036" stroke="#fc6036" d="M387.5 401.9 388 402 388.4 401.9 388.2 401Z"/>
<path fill="#cc90fc" stroke="#cc90fc" d="M391.8 402 392.7 400.9 389.3 399.7 388.2 401 388.4 401.9ZM395.9 402 392.7 400.9 391.8 402Z"/>
<path fill="#243c00" stroke="#243c00" d="M270.5 283.1 272.8 279.2 272.4 276.5 272.9 281.2Z"/>
<path fill="#365406" stroke="#365406" d="M272.8 279.2 273.9 277 273.3 273.4 272.4 276.5Z"/>
<path fill="#60841e" stroke="#60841e" d="M273.9 277 276 276.6 275.3 271.2 273.3 273.4Z"/>
<path fill="#5a7e18" stroke="#5a7e18" d="M276 276.6 278.3 276.6 278 270 275.3 271.2Z"/>
<path fill="#608a1e" stroke="#608a1e" d="M278.3 276.6 280.9 276.9 281.1 270.7 278 270Z"/>
<path fill="#90c03c" stroke="#90c03c" d="M280.9 276.9 284 278.4 284.5 273.7 281.1 270.7Z"/>
<path fill="#a8de48" stroke="#a8de48" d="M284 278.4 287.8 282.4 288.3 278.1 284.5 273.7Z"/>
<path fill="#9cd842" stroke="#9cd842" d="M287.8 282.4 291.8 288.7 292.4 282.8 288.3 278.1Z"/>
<path fill="#96cc3c" stroke="#96cc3c" d="M291.8 288.7 294.9 295.6 296 287.3 292.4 282.8Z"/>
<path fill="#7eae30" stroke="#7eae30" d="M294.9 295.6 297.4 302 299.1 292.1 296 287.3ZM297.4 302 300.2 308.9 301.5 298.9 299.1 292.1Z"/>
<path fill="#84b430" stroke="#84b430" d="M300.2 308.9 303.5 316.8 304.4 308.1 301.5 298.9Z"/>
<path fill="#8aba30" stroke="#8aba30" d="M303.5 316.8 307.1 325.5 308 317.8 304.4 308.1Z"/>
<path fill="#90c636" stroke="#90c636" d="M307.1 325.5 310.6 333.3 311.9 326.3 308 317.8Z"/>
<path fill="#9cd23c" stroke="#9cd23c" d="M310.6 333.3 313.8 339.4 315.5 332.9 311.9 326.3Z"/>
<path fill="#a2de42" stroke="#a2de42" d="M313.8 339.4 316.8 344.4 318.9 338.4 315.5 332.9Z"/>
<path fill="#a8e442" stroke="#a8e442" d="M316.8 344.4 319.4 349.4 321.7 344.1 318.9 338.4Z"/>
<path fill="#a8e43c" stroke="#a8e43c" d="M319.4 349.4 321.6 355.1 323.9 350.4 321.7 344.1ZM321.6 355.1 323.5 361.1 325.8 356.7 325.8 356.6 323.9 350.4Z"/>
<path fill="#c05436" stroke="#c05436" d="M325.8 356.8 325.8 356.7 325.8 356.6Z"/>
<path fill="#aef042" stroke="#aef042" d="M323.5 361.1 325.5 366.8 326.2 365.4 325.8 356.7Z"/>
<path fill="#c65a3c" stroke="#c65a3c" d="M326.2 365.5 328.1 360.2 325.8 356.7 325.8 356.8Z"/>
<path fill="#bafc48" stroke="#bafc48" d="M325.5 366.8 326.6 369.5 326.2 365.4Z"/>
<path fill="#de6648" stroke="#de6648" d="M326.6 369.3 327.7 370.8 330.3 364.1 328.1 360.2 326.2 365.5Z"/>
<path fill="#fc724e" stroke="#fc724e" d="M327.7 370.8 330 373.8 332.5 368 330.3 364.1Z"/>
<path fill="#fc7e5a" stroke="#fc7e5a" d="M330 373.8 332.3 376.7 334.7 371.6 332.5 368Z"/>
<path fill="#fc8460" stroke="#fc8460" d="M332.3 376.7 334.5 379.5 337 374.6 334.7 371.6Z"/>
<path fill="#fc8a60" stroke="#fc8a60" d="M334.5 379.5 336.8 381.9 339.5 377.3 337 374.6Z"/>
<path fill="#fc9066" stroke="#fc9066" d="M336.8 381.9 339.2 384 342.1 379.9 339.5 377.3Z"/>
<path fill="#fc9666" stroke="#fc9666" d="M339.2 384 341.8 386.1 344.8 382.4 342.1 379.9ZM341.8 386.1 344.6 388.2 347.7 385 344.8 382.4Z"/>
<path fill="#fc9060" stroke="#fc9060" d="M344.6 388.2 347.6 390.2 350.8 387.2 347.7 385Z"/>
<path fill="#fc8a5a" stroke="#fc8a5a" d="M347.6 390.2 350.9 391.9 354.2 389.1 350.8 387.2Z"/>
<path fill="#fc7e4e" stroke="#fc7e4e" d="M350.9 391.9 354.3 393.4 357.7 390.7 354.2 389.1Z"/>
<path fill="#fc7848" stroke="#fc7848" d="M354.3 393.4 357.8 394.9 361.1 392.3 357.7 390.7Z"/>
<path fill="#fc7248" stroke="#fc7248" d="M357.8 394.9 361.2 396.3 364.4 393.9 361.1 392.3Z"/>
<path fill="#fc7242" stroke="#fc7242" d="M361.2 396.3 364.7 397.8 367.4 395.6 367.1 395.1 364.4 393.9Z"/>
<path fill="#dea2fc" stroke="#dea2fc" d="M367.4 395.6 367.7 395.4 367.1 395.1Z"/>
<path fill="#fc6c42" stroke="#fc6c42" d="M364.7 397.8 369.4 399.2 370.3 398 367.4 395.6Z"/>
<path fill="#dea2fc" stroke="#dea2fc" d="M370.3 398 371.1 396.8 367.7 395.4 367.4 395.6Z"/>
<path fill="#fc6c42" stroke="#fc6c42" d="M369.4 399.2 373.1 400.2 370.3 398Z"/>
<path fill="#d89cfc" stroke="#d89cfc" d="M373.1 400.2 373.9 400.4 375.5 398.1 371.1 396.8 370.3 398Z"/>
<path fill="#fc663c" stroke="#fc663c" d="M379 400.4 379.7 399.4 378 398.9Z"/>
<path fill="#d896fc" stroke="#d896fc" d="M373.9 400.4 378 401.7 379 400.4 378 398.9 375.5 398.1Z"/>
<path fill="#fc663c" stroke="#fc663c" d="M382.3 402.5 383.7 400.6 379.7 399.4 379 400.4Z"/>
<path fill="#d296fc" stroke="#d296fc" d="M378 401.7 382.1 402.9 382.3 402.5 379 400.4Z"/>
<path fill="#fc6636" stroke="#fc6636" d="M387.2 402.3 387.5 401.9 383.7 400.6 382.3 402.5 383.2 403Z"/>
<path fill="#cc90fc" stroke="#cc90fc" d="M382.1 402.9 382.7 403.1 383.1 403 382.3 402.5Z"/>
<path fill="#fc6036" stroke="#fc6036" d="M388 402 387.5 401.9 387.2 402.3Z"/>
<path fill="#243c00" stroke="#243c00" d="M267.3 287.2 271.1 283.3 272.8 279.2 270.5 283.1Z"/>
<path fill="#426012" stroke="#426012" d="M271.1 283.3 273.1 281.6 273.9 277 272.8 279.2Z"/>
<path fill="#78a230" stroke="#78a230" d="M273.1 281.6 274.1 281.6 276 276.6 273.9 277Z"/>
<path fill="#6c962a" stroke="#6c962a" d="M274.1 281.6 277.6 283.5 278.3 276.6 276 276.6Z"/>
<path fill="#5a7e1e" stroke="#5a7e1e" d="M277.6 283.5 281.3 285.1 280.9 276.9 278.3 276.6Z"/>
<path fill="#60841e" stroke="#60841e" d="M281.3 285.1 284.6 286.4 284 278.4 280.9 276.9Z"/>
<path fill="#84b436" stroke="#84b436" d="M284.6 286.4 287.9 289.6 287.8 282.4 284 278.4Z"/>
<path fill="#90c63c" stroke="#90c63c" d="M287.9 289.6 290.8 296 291.8 288.7 287.8 282.4Z"/>
<path fill="#8aba36" stroke="#8aba36" d="M290.8 296 293.2 304.1 294.9 295.6 291.8 288.7Z"/>
<path fill="#84ae30" stroke="#84ae30" d="M293.2 304.1 296.1 312.2 297.4 302 294.9 295.6Z"/>
<path fill="#78a82a" stroke="#78a82a" d="M296.1 312.2 299.3 319.6 300.2 308.9 297.4 302Z"/>
<path fill="#7eae30" stroke="#7eae30" d="M299.3 319.6 302.4 326.4 303.5 316.8 300.2 308.9Z"/>
<path fill="#8aba36" stroke="#8aba36" d="M302.4 326.4 305.6 333.1 307.1 325.5 303.5 316.8Z"/>
<path fill="#90c636" stroke="#90c636" d="M305.6 333.1 308.8 339.7 310.6 333.3 307.1 325.5Z"/>
<path fill="#9cd83c" stroke="#9cd83c" d="M308.8 339.7 311.7 345.6 313.8 339.4 310.6 333.3Z"/>
<path fill="#a2de42" stroke="#a2de42" d="M311.7 345.6 314.4 350.8 316.8 344.4 313.8 339.4Z"/>
<path fill="#a8de42" stroke="#a8de42" d="M314.4 350.8 316.9 355.6 319.4 349.4 316.8 344.4Z"/>
<path fill="#a8e442" stroke="#a8e442" d="M316.9 355.6 319.2 360.6 321.6 355.1 319.4 349.4ZM319.2 360.6 321.3 366 323.5 361.1 321.6 355.1Z"/>
<path fill="#aef042" stroke="#aef042" d="M321.3 366 323.4 371.2 325.5 366.8 323.5 361.1Z"/>
<path fill="#bafc48" stroke="#bafc48" d="M323.4 371.2 325.5 375.8 326.5 373.8 326.6 369.5 325.5 366.8Z"/>
<path fill="#e46c48" stroke="#e46c48" d="M326.5 373.9 327.7 370.8 326.6 369.3Z"/>
<path fill="#c6fc4e" stroke="#c6fc4e" d="M325.5 375.8 326.9 378.2 326.5 373.8Z"/>
<path fill="#fc7254" stroke="#fc7254" d="M326.9 378.1 327.7 379 330 373.8 327.7 370.8 326.5 373.9Z"/>
<path fill="#fc845a" stroke="#fc845a" d="M327.7 379 329.9 381.3 332.3 376.7 330 373.8Z"/>
<path fill="#fc8a60" stroke="#fc8a60" d="M329.9 381.3 332.1 383.7 334.5 379.5 332.3 376.7ZM332.1 383.7 334.2 385.9 336.8 381.9 334.5 379.5Z"/>
<path fill="#fc9060" stroke="#fc9060" d="M334.2 385.9 336.4 387.8 339.2 384 336.8 381.9ZM336.4 387.8 338.8 389.6 341.8 386.1 339.2 384Z"/>
<path fill="#fc8a60" stroke="#fc8a60" d="M338.8 389.6 341.6 391.3 344.6 388.2 341.8 386.1Z"/>
<path fill="#fc845a" stroke="#fc845a" d="M341.6 391.3 344.6 392.9 347.6 390.2 344.6 388.2Z"/>
<path fill="#fc7e4e" stroke="#fc7e4e" d="M344.6 392.9 347.8 394.5 350.9 391.9 347.6 390.2Z"/>
<path fill="#fc7848" stroke="#fc7848" d="M347.8 394.5 351.2 396 354.3 393.4 350.9 391.9Z"/>
<path fill="#fc7242" stroke="#fc7242" d="M351.2 396 354.7 397.4 357.8 394.9 354.3 393.4Z"/>
<path fill="#fc6c42" stroke="#fc6c42" d="M354.7 397.4 358.6 398.7 361.2 396.3 357.8 394.9ZM358.6 398.7 363.3 400.1 364.7 397.8 361.2 396.3Z"/>
<path fill="#fc6c3c" stroke="#fc6c3c" d="M363.3 400.1 368 401.4 369.4 399.2 364.7 397.8Z"/>
<path fill="#fc663c" stroke="#fc663c" d="M368 401.4 372.6 402.7 373.4 401.2 373.1 400.2 369.4 399.2Z"/>
<path fill="#d896fc" stroke="#d896fc" d="M373.4 401.2 373.9 400.4 373.1 400.2Z"/>
<path fill="#fc663c" stroke="#fc663c" d="M372.6 402.7 373.8 403 373.4 401.2Z"/>
<path fill="#d296fc" stroke="#d296fc" d="M373.8 403 376.4 403.8 376.7 403.8 378 401.7 373.9 400.4 373.4 401.2Z"/>
<path fill="#d290fc" stroke="#d290fc" d="M381.7 403.3 382.1 402.9 378 401.7 376.7 403.8Z"/>
<path fill="#cc90fc" stroke="#cc90fc" d="M382.7 403.1 382.1 402.9 381.7 403.3Z"/>
<path fill="#3c540c" stroke="#3c540c" d="M271.7 283.2 273.1 281.6 271.1 283.3 269.9 284.8Z"/>
<path fill="#42669c" stroke="#42669c" d="M272.8 281.9 272.6 282.2 273.6 284 271.7 283.2Z"/>
<path fill="#66902a" stroke="#66902a" d="M273.7 284.2 274.1 281.6 273.1 281.6 271.7 283.2Z"/>
<path fill="#548ad8" stroke="#548ad8" d="M272.6 282.2 277.2 287.4 278.6 288.9 273.6 284Z"/>
<path fill="#72962a" stroke="#72962a" d="M278.7 289.2 277.6 283.5 274.1 281.6 273.7 284.2Z"/>
<path fill="#5a96ea" stroke="#5a96ea" d="M277.2 287.4 281.4 295 278.6 288.9Z"/>
<path fill="#60841e" stroke="#60841e" d="M281.4 295.1 281.7 295.3 281.3 285.1 277.6 283.5 278.7 289.2Z"/>
<path fill="#547818" stroke="#547818" d="M281.7 295.3 284.1 297.2 284.6 286.4 281.3 285.1Z"/>
<path fill="#608a24" stroke="#608a24" d="M284.1 297.2 286.4 299.9 287.9 289.6 284.6 286.4Z"/>
<path fill="#7ea830" stroke="#7ea830" d="M286.4 299.9 288.8 305.1 290.8 296 287.9 289.6Z"/>
<path fill="#7eae30" stroke="#7eae30" d="M288.8 305.1 291.8 312.9 293.2 304.1 290.8 296ZM291.8 312.9 294.9 321.7 296.1 312.2 293.2 304.1ZM294.9 321.7 297.8 329.6 299.3 319.6 296.1 312.2ZM297.8 329.6 300.7 335.8 302.4 326.4 299.3 319.6Z"/>
<path fill="#8aba36" stroke="#8aba36" d="M300.7 335.8 303.7 340.9 305.6 333.1 302.4 326.4Z"/>
<path fill="#96cc3c" stroke="#96cc3c" d="M303.7 340.9 306.6 346.1 308.8 339.7 305.6 333.1Z"/>
<path fill="#9cd842" stroke="#9cd842" d="M306.6 346.1 309.4 351.6 311.7 345.6 308.8 339.7Z"/>
<path fill="#a2de42" stroke="#a2de42" d="M309.4 351.6 311.9 356.9 314.4 350.8 311.7 345.6ZM311.9 356.9 314.4 361.9 316.9 355.6 314.4 350.8ZM314.4 361.9 316.8 366.6 319.2 360.6 316.9 355.6Z"/>
<path fill="#aee448" stroke="#aee448" d="M316.8 366.6 319.2 371.2 321.3 366 319.2 360.6Z"/>
<path fill="#b4f048" stroke="#b4f048" d="M319.2 371.2 321.4 375.6 323.4 371.2 321.3 366Z"/>
<path fill="#c0fc4e" stroke="#c0fc4e" d="M321.4 375.6 323.5 379.6 325.5 375.8 323.4 371.2Z"/>
<path fill="#c6fc54" stroke="#c6fc54" d="M323.5 379.6 325.6 383 326.7 381.1 326.9 378.2 325.5 375.8Z"/>
<path fill="#fc785a" stroke="#fc785a" d="M326.7 381.1 327.7 379 326.9 378.1Z"/>
<path fill="#c6fc54" stroke="#c6fc54" d="M325.6 383 327.2 385 326.7 381.1Z"/>
<path fill="#fc845a" stroke="#fc845a" d="M327.2 385 327.7 385.5 329.9 381.3 327.7 379 326.7 381.1Z"/>
<path fill="#fc8a60" stroke="#fc8a60" d="M327.7 385.5 329.7 387.5 332.1 383.7 329.9 381.3ZM329.7 387.5 331.6 389.4 334.2 385.9 332.1 383.7ZM331.6 389.4 333.6 391.1 336.4 387.8 334.2 385.9Z"/>
<path fill="#fc845a" stroke="#fc845a" d="M333.6 391.1 335.9 392.7 338.8 389.6 336.4 387.8Z"/>
<path fill="#fc7e54" stroke="#fc7e54" d="M335.9 392.7 338.6 394.1 341.6 391.3 338.8 389.6Z"/>
<path fill="#fc784e" stroke="#fc784e" d="M338.6 394.1 341.6 395.5 344.6 392.9 341.6 391.3Z"/>
<path fill="#fc7248" stroke="#fc7248" d="M341.6 395.5 344.9 397 347.8 394.5 344.6 392.9Z"/>
<path fill="#fc6c42" stroke="#fc6c42" d="M344.9 397 348.3 398.4 351.2 396 347.8 394.5ZM348.3 398.4 352.9 399.7 354.7 397.4 351.2 396Z"/>
<path fill="#fc6c3c" stroke="#fc6c3c" d="M352.9 399.7 357.7 401 358.6 398.7 354.7 397.4Z"/>
<path fill="#fc663c" stroke="#fc663c" d="M357.7 401 362.4 402.3 363.3 400.1 358.6 398.7ZM362.4 402.3 367 403.6 368 401.4 363.3 400.1ZM367 403.6 370.2 404.5 371.8 404.1 372.6 402.7 368 401.4ZM373.8 403.7 373.8 403 372.6 402.7 371.8 404.1Z"/>
<path fill="#cc90fc" stroke="#cc90fc" d="M376.4 403.8 373.8 403 373.8 403.7Z"/>
<path fill="#365a90" stroke="#365a90" d="M260 274.1 270.5 279.7 272.8 281.9 270 281.5Z"/>
<path fill="#548ade" stroke="#548ade" d="M270.5 279.7 272.5 282.2 272.6 282.2 272.8 281.9Z"/>
<path fill="#66a8fc" stroke="#66a8fc" d="M272.5 282.2 274.6 286.1 277.2 287.4 272.6 282.2Z"/>
<path fill="#60a2fc" stroke="#60a2fc" d="M274.6 286.1 280.1 294.2 281.6 295.8 281.4 295 277.2 287.4Z"/>
<path fill="#5a7e1e" stroke="#5a7e1e" d="M281.6 295.8 281.7 295.3 281.4 295.1Z"/>
<path fill="#66aefc" stroke="#66aefc" d="M280.1 294.2 281.4 303.3 282 303.5 281.6 295.8Z"/>
<path fill="#5a781e" stroke="#5a781e" d="M282 303.7 284.1 297.2 281.7 295.3 281.6 295.8Z"/>
<path fill="#72bafc" stroke="#72bafc" d="M281.4 303.3 283.4 310.5 282 303.5Z"/>
<path fill="#5a7e1e" stroke="#5a7e1e" d="M283.4 310.4 284.1 311.2 286.4 299.9 284.1 297.2 282 303.7Z"/>
<path fill="#669024" stroke="#669024" d="M284.1 311.2 287.3 315.8 288.8 305.1 286.4 299.9Z"/>
<path fill="#78a230" stroke="#78a230" d="M287.3 315.8 290.4 322.5 291.8 312.9 288.8 305.1Z"/>
<path fill="#7ea830" stroke="#7ea830" d="M290.4 322.5 293 330.7 294.9 321.7 291.8 312.9Z"/>
<path fill="#84ae36" stroke="#84ae36" d="M293 330.7 295.7 338.3 297.8 329.6 294.9 321.7Z"/>
<path fill="#84b436" stroke="#84b436" d="M295.7 338.3 298.5 344.1 300.7 335.8 297.8 329.6Z"/>
<path fill="#8aba36" stroke="#8aba36" d="M298.5 344.1 301.4 348.6 303.7 340.9 300.7 335.8Z"/>
<path fill="#96c63c" stroke="#96c63c" d="M301.4 348.6 304.3 352.9 306.6 346.1 303.7 340.9Z"/>
<path fill="#9cd242" stroke="#9cd242" d="M304.3 352.9 307 357.7 309.4 351.6 306.6 346.1Z"/>
<path fill="#a2d842" stroke="#a2d842" d="M307 357.7 309.7 362.9 311.9 356.9 309.4 351.6Z"/>
<path fill="#a2de42" stroke="#a2de42" d="M309.7 362.9 312.2 368 314.4 361.9 311.9 356.9Z"/>
<path fill="#a8de48" stroke="#a8de48" d="M312.2 368 314.8 372.5 316.8 366.6 314.4 361.9Z"/>
<path fill="#aeea48" stroke="#aeea48" d="M314.8 372.5 317.2 376.4 319.2 371.2 316.8 366.6Z"/>
<path fill="#baf64e" stroke="#baf64e" d="M317.2 376.4 319.5 380 321.4 375.6 319.2 371.2Z"/>
<path fill="#c0fc54" stroke="#c0fc54" d="M319.5 380 321.6 383.3 323.5 379.6 321.4 375.6Z"/>
<path fill="#c6fc54" stroke="#c6fc54" d="M321.6 383.3 323.6 386.2 325.6 383 323.5 379.6Z"/>
<path fill="#c0fc4e" stroke="#c0fc4e" d="M323.6 386.2 325.6 388.7 327.1 386.5 327.2 385 325.6 383Z"/>
<path fill="#fc845a" stroke="#fc845a" d="M327.1 386.5 327.7 385.5 327.2 385Z"/>
<path fill="#bafc48" stroke="#bafc48" d="M325.6 388.7 327.4 390.8 327.7 390.4 327.1 386.5Z"/>
<path fill="#fc845a" stroke="#fc845a" d="M327.7 390.4 329.7 387.5 327.7 385.5 327.1 386.5Z"/>
<path fill="#b4f648" stroke="#b4f648" d="M327.4 390.8 328.2 391.7 327.7 390.4Z"/>
<path fill="#fc845a" stroke="#fc845a" d="M328.2 391.6 329.1 392.5 331.6 389.4 329.7 387.5 327.7 390.4Z"/>
<path fill="#fc7e54" stroke="#fc7e54" d="M329.1 392.5 331 394.1 333.6 391.1 331.6 389.4Z"/>
<path fill="#fc7e4e" stroke="#fc7e4e" d="M331 394.1 333.1 395.5 335.9 392.7 333.6 391.1Z"/>
<path fill="#fc7848" stroke="#fc7848" d="M333.1 395.5 335.8 396.8 338.6 394.1 335.9 392.7Z"/>
<path fill="#fc7248" stroke="#fc7248" d="M335.8 396.8 338.8 398.1 341.6 395.5 338.6 394.1Z"/>
<path fill="#fc6c42" stroke="#fc6c42" d="M338.8 398.1 342.1 399.4 344.9 397 341.6 395.5Z"/>
<path fill="#fc6c3c" stroke="#fc6c3c" d="M342.1 399.4 346.7 400.7 348.3 398.4 344.9 397Z"/>
<path fill="#fc663c" stroke="#fc663c" d="M346.7 400.7 352.1 402 352.9 399.7 348.3 398.4ZM352.1 402 357.1 403.3 357.7 401 352.9 399.7ZM357.1 403.3 361.7 404.5 362.4 402.3 357.7 401ZM361.7 404.5 364.7 405.4 366.3 405.2 367 403.6 362.4 402.3Z"/>
<path fill="#fc6036" stroke="#fc6036" d="M370.2 404.5 367 403.6 366.3 405.2Z"/>
<path fill="#72a81e" stroke="#72a81e" d="M179 341.9 180.2 342.2 182 340.4 180.8 340Z"/>
<path fill="#243c60" stroke="#243c60" d="M247.5 269.2 248.7 268.8 253.6 272 252.5 272.8Z"/>
<path fill="#30548a" stroke="#30548a" d="M248.7 268.8 253.7 271 260 274.1 253.6 272Z"/>
<path fill="#487ecc" stroke="#487ecc" d="M253.7 271 266 277.7 270.5 279.7 260 274.1Z"/>
<path fill="#66a8fc" stroke="#66a8fc" d="M266 277.7 271.2 283.4 272.5 282.2 270.5 279.7Z"/>
<path fill="#84d2fc" stroke="#84d2fc" d="M271.2 283.4 273.5 288.3 274.6 286.1 272.5 282.2ZM273.5 288.3 278 295.7 280.1 294.2 274.6 286.1Z"/>
<path fill="#78c0fc" stroke="#78c0fc" d="M278 295.7 279.5 304.5 281.4 303.3 280.1 294.2Z"/>
<path fill="#78c6fc" stroke="#78c6fc" d="M279.5 304.5 282.5 314.6 283.9 312.6 283.4 310.5 281.4 303.3Z"/>
<path fill="#5a7e1e" stroke="#5a7e1e" d="M283.9 312.7 284.1 311.2 283.4 310.4Z"/>
<path fill="#8ad8fc" stroke="#8ad8fc" d="M282.5 314.6 285.6 325.3 286.2 324 283.9 312.6Z"/>
<path fill="#608424" stroke="#608424" d="M286.2 324.1 287.3 315.8 284.1 311.2 283.9 312.7Z"/>
<path fill="#96e4fc" stroke="#96e4fc" d="M285.6 325.3 286.8 330.7 286.2 324Z"/>
<path fill="#6c902a" stroke="#6c902a" d="M286.8 330.5 288.1 333.3 290.4 322.5 287.3 315.8 286.2 324.1Z"/>
<path fill="#78a830" stroke="#78a830" d="M288.1 333.3 290.7 339.6 293 330.7 290.4 322.5Z"/>
<path fill="#84b436" stroke="#84b436" d="M290.7 339.6 293.4 345.8 295.7 338.3 293 330.7Z"/>
<path fill="#90c03c" stroke="#90c03c" d="M293.4 345.8 296.3 351.3 298.5 344.1 295.7 338.3ZM296.3 351.3 299.1 355.7 301.4 348.6 298.5 344.1Z"/>
<path fill="#90c63c" stroke="#90c63c" d="M299.1 355.7 302 359.8 304.3 352.9 301.4 348.6Z"/>
<path fill="#9ccc42" stroke="#9ccc42" d="M302 359.8 304.8 364.1 307 357.7 304.3 352.9Z"/>
<path fill="#a2d842" stroke="#a2d842" d="M304.8 364.1 307.6 368.8 309.7 362.9 307 357.7Z"/>
<path fill="#a8de48" stroke="#a8de48" d="M307.6 368.8 310.4 373.6 312.2 368 309.7 362.9Z"/>
<path fill="#aee448" stroke="#aee448" d="M310.4 373.6 313 377.8 314.8 372.5 312.2 368Z"/>
<path fill="#b4f04e" stroke="#b4f04e" d="M313 377.8 315.4 381.2 317.2 376.4 314.8 372.5Z"/>
<path fill="#bafc54" stroke="#bafc54" d="M315.4 381.2 317.7 384.1 319.5 380 317.2 376.4Z"/>
<path fill="#c0fc54" stroke="#c0fc54" d="M317.7 384.1 319.8 386.7 321.6 383.3 319.5 380ZM319.8 386.7 321.7 389.2 323.6 386.2 321.6 383.3Z"/>
<path fill="#bafc4e" stroke="#bafc4e" d="M321.7 389.2 323.5 391.5 325.6 388.7 323.6 386.2Z"/>
<path fill="#b4f648" stroke="#b4f648" d="M323.5 391.5 325.2 393.5 327.4 390.8 325.6 388.7Z"/>
<path fill="#aef042" stroke="#aef042" d="M325.2 393.5 326.8 395.2 328.3 393.5 328.2 391.7 327.4 390.8Z"/>
<path fill="#fc7e54" stroke="#fc7e54" d="M328.3 393.5 329.1 392.5 328.2 391.6Z"/>
<path fill="#a2e43c" stroke="#a2e43c" d="M326.8 395.2 328.5 396.7 328.6 396.6 328.3 393.5Z"/>
<path fill="#fc784e" stroke="#fc784e" d="M328.6 396.6 331 394.1 329.1 392.5 328.3 393.5Z"/>
<path fill="#9cde36" stroke="#9cde36" d="M328.5 396.7 328.7 396.8 328.6 396.6Z"/>
<path fill="#fc7248" stroke="#fc7248" d="M328.7 396.8 330.6 398.1 333.1 395.5 331 394.1 328.6 396.6Z"/>
<path fill="#fc6c42" stroke="#fc6c42" d="M330.6 398.1 333.1 399.3 335.8 396.8 333.1 395.5ZM333.1 399.3 336.9 400.5 338.8 398.1 335.8 396.8Z"/>
<path fill="#fc663c" stroke="#fc663c" d="M336.9 400.5 341.4 401.7 342.1 399.4 338.8 398.1ZM341.4 401.7 346.3 402.9 346.7 400.7 342.1 399.4ZM346.3 402.9 351.4 404.2 352.1 402 346.7 400.7ZM351.4 404.2 356.5 405.5 357.1 403.3 352.1 402Z"/>
<path fill="#fc6036" stroke="#fc6036" d="M356.5 405.5 358.6 406 361.4 405.7 361.7 404.5 357.1 403.3ZM364.7 405.4 361.7 404.5 361.4 405.7Z"/>
<path fill="#fc9018" stroke="#fc9018" d="M176.8 343.6 178.3 344 179.3 343.1 177.8 343.3Z"/>
<path fill="#72a81e" stroke="#72a81e" d="M177.8 343.3 179.3 343.1 180.2 342.2 179 341.9Z"/>
<path fill="#fc9018" stroke="#fc9018" d="M178.3 344 181.1 344.7 182.6 343.5 179.3 343.1Z"/>
<path fill="#72a81e" stroke="#72a81e" d="M182.6 343.5 183 343.1 180.2 342.2 179.3 343.1Z"/>
<path fill="#243c60" stroke="#243c60" d="M248 269.4 246.7 268.1 247.5 269.2 250.2 272.2Z"/>
<path fill="#365a90" stroke="#365a90" d="M246.7 268.1 247.5 268.9 248.7 268.8 247.5 269.2Z"/>
<path fill="#6cb4fc" stroke="#6cb4fc" d="M247.5 268.9 252 271.3 253.7 271 248.7 268.8Z"/>
<path fill="#60a2fc" stroke="#60a2fc" d="M252 271.3 264 278.3 266 277.7 253.7 271Z"/>
<path fill="#6cb4fc" stroke="#6cb4fc" d="M264 278.3 269.2 285.5 271.2 283.4 266 277.7Z"/>
<path fill="#8ad8fc" stroke="#8ad8fc" d="M269.2 285.5 272.3 292.5 273.5 288.3 271.2 283.4Z"/>
<path fill="#9ceafc" stroke="#9ceafc" d="M272.3 292.5 275.4 300.2 278 295.7 273.5 288.3Z"/>
<path fill="#90defc" stroke="#90defc" d="M275.4 300.2 277.4 308.7 279.5 304.5 278 295.7Z"/>
<path fill="#84ccfc" stroke="#84ccfc" d="M277.4 308.7 280.8 318.9 282.5 314.6 279.5 304.5Z"/>
<path fill="#84d2fc" stroke="#84d2fc" d="M280.8 318.9 283.4 330.7 285.6 325.3 282.5 314.6Z"/>
<path fill="#96e4fc" stroke="#96e4fc" d="M283.4 330.7 285.6 341.7 286.7 338.6 286.8 330.7 285.6 325.3Z"/>
<path fill="#6c902a" stroke="#6c902a" d="M286.7 338.7 288.1 333.3 286.8 330.5Z"/>
<path fill="#9cf0fc" stroke="#9cf0fc" d="M285.6 341.7 286.9 346.3 286.7 338.6Z"/>
<path fill="#729c30" stroke="#729c30" d="M286.9 346 288.3 348.2 290.7 339.6 288.1 333.3 286.7 338.7Z"/>
<path fill="#84b43c" stroke="#84b43c" d="M288.3 348.2 291.2 352.8 293.4 345.8 290.7 339.6Z"/>
<path fill="#90c642" stroke="#90c642" d="M291.2 352.8 294.1 357.6 296.3 351.3 293.4 345.8Z"/>
<path fill="#96cc42" stroke="#96cc42" d="M294.1 357.6 296.9 362.2 299.1 355.7 296.3 351.3Z"/>
<path fill="#96c642" stroke="#96c642" d="M296.9 362.2 299.9 366.4 302 359.8 299.1 355.7Z"/>
<path fill="#96cc42" stroke="#96cc42" d="M299.9 366.4 302.9 370.5 304.8 364.1 302 359.8Z"/>
<path fill="#a2d842" stroke="#a2d842" d="M302.9 370.5 305.9 374.6 307.6 368.8 304.8 364.1Z"/>
<path fill="#a8e448" stroke="#a8e448" d="M305.9 374.6 308.8 378.6 310.4 373.6 307.6 368.8Z"/>
<path fill="#b4f04e" stroke="#b4f04e" d="M308.8 378.6 311.4 382.3 313 377.8 310.4 373.6Z"/>
<path fill="#baf654" stroke="#baf654" d="M311.4 382.3 313.8 385.4 315.4 381.2 313 377.8Z"/>
<path fill="#c0fc54" stroke="#c0fc54" d="M313.8 385.4 316 387.9 317.7 384.1 315.4 381.2ZM316 387.9 318 390.1 319.8 386.7 317.7 384.1Z"/>
<path fill="#bafc4e" stroke="#bafc4e" d="M318 390.1 319.9 392.2 321.7 389.2 319.8 386.7Z"/>
<path fill="#b4f648" stroke="#b4f648" d="M319.9 392.2 321.6 394.2 323.5 391.5 321.7 389.2Z"/>
<path fill="#aeea42" stroke="#aeea42" d="M321.6 394.2 323.2 396.1 325.2 393.5 323.5 391.5Z"/>
<path fill="#a8e43c" stroke="#a8e43c" d="M323.2 396.1 324.8 397.7 326.8 395.2 325.2 393.5Z"/>
<path fill="#9cde36" stroke="#9cde36" d="M324.8 397.7 326.4 399.1 328.5 396.7 326.8 395.2Z"/>
<path fill="#9cd836" stroke="#9cd836" d="M326.4 399.1 328.6 400.3 328.7 396.8 328.5 396.7Z"/>
<path fill="#fc6642" stroke="#fc6642" d="M328.5 400.3 328.8 400.4 330.6 398.1 328.7 396.8Z"/>
<path fill="#fc663c" stroke="#fc663c" d="M328.8 400.4 333 401.6 333.1 399.3 330.6 398.1ZM333 401.6 337.3 402.8 336.9 400.5 333.1 399.3ZM337.3 402.8 341.7 403.9 341.4 401.7 336.9 400.5ZM341.7 403.9 346.2 405.2 346.3 402.9 341.4 401.7ZM346.2 405.2 351 406.4 351.4 404.2 346.3 402.9Z"/>
<path fill="#fc6036" stroke="#fc6036" d="M351 406.4 353.6 407.1 356.2 406.5 356.5 405.5 351.4 404.2ZM358.6 406 356.5 405.5 356.2 406.5Z"/>
<path fill="#fc9018" stroke="#fc9018" d="M173.2 344.8 173.6 344.9 173.9 344.6ZM173.6 344.9 176.4 345.7 178.3 344 176.8 343.6 173.9 344.6ZM176.4 345.7 179.3 346.4 181.1 344.7 178.3 344Z"/>
<path fill="#18304e" stroke="#18304e" d="M241.2 281.3 244.8 272.5 247 275.5 243.5 285.1Z"/>
<path fill="#1e365a" stroke="#1e365a" d="M244.8 272.5 247 269.6 248 269.4 247 275.5Z"/>
<path fill="#2a4e7e" stroke="#2a4e7e" d="M247 269.6 248.6 269.9 246.7 268.1 248 269.4Z"/>
<path fill="#5484c6" stroke="#5484c6" d="M248.6 269.9 250.7 271.9 247.5 268.9 246.7 268.1Z"/>
<path fill="#90d8fc" stroke="#90d8fc" d="M250.7 271.9 255.5 275.4 252 271.3 247.5 268.9Z"/>
<path fill="#8ad2fc" stroke="#8ad2fc" d="M255.5 275.4 264.1 282.2 264 278.3 252 271.3Z"/>
<path fill="#78c0fc" stroke="#78c0fc" d="M264.1 282.2 267 289 269.2 285.5 264 278.3Z"/>
<path fill="#84ccfc" stroke="#84ccfc" d="M267 289 270 297.9 272.3 292.5 269.2 285.5Z"/>
<path fill="#90d8fc" stroke="#90d8fc" d="M270 297.9 272.5 306.9 275.4 300.2 272.3 292.5ZM272.5 306.9 275.5 315.8 277.4 308.7 275.4 300.2Z"/>
<path fill="#8ad2fc" stroke="#8ad2fc" d="M275.5 315.8 278.7 325.8 280.8 318.9 277.4 308.7Z"/>
<path fill="#84ccfc" stroke="#84ccfc" d="M278.7 325.8 281.1 337.1 283.4 330.7 280.8 318.9Z"/>
<path fill="#90d8fc" stroke="#90d8fc" d="M281.1 337.1 283.5 347.6 285.6 341.7 283.4 330.7Z"/>
<path fill="#a2f0fc" stroke="#a2f0fc" d="M283.5 347.6 286.1 356.1 286.4 355.3 286.9 346.3 285.6 341.7Z"/>
<path fill="#729c30" stroke="#729c30" d="M286.4 355.3 288.3 348.2 286.9 346Z"/>
<path fill="#a8fcfc" stroke="#a8fcfc" d="M286.1 356.1 286.4 356.9 286.4 355.3Z"/>
<path fill="#7ea836" stroke="#7ea836" d="M286.4 356.8 289.1 359.8 291.2 352.8 288.3 348.2 286.4 355.3Z"/>
<path fill="#90c042" stroke="#90c042" d="M289.1 359.8 292 363.8 294.1 357.6 291.2 352.8Z"/>
<path fill="#9ccc42" stroke="#9ccc42" d="M292 363.8 295 368.2 296.9 362.2 294.1 357.6Z"/>
<path fill="#9ccc48" stroke="#9ccc48" d="M295 368.2 298.2 372.5 299.9 366.4 296.9 362.2Z"/>
<path fill="#9cd248" stroke="#9cd248" d="M298.2 372.5 301.5 376.4 302.9 370.5 299.9 366.4Z"/>
<path fill="#a2d848" stroke="#a2d848" d="M301.5 376.4 304.7 380 305.9 374.6 302.9 370.5Z"/>
<path fill="#aeea4e" stroke="#aeea4e" d="M304.7 380 307.6 383.3 308.8 378.6 305.9 374.6Z"/>
<path fill="#baf654" stroke="#baf654" d="M307.6 383.3 310.1 386.3 311.4 382.3 308.8 378.6Z"/>
<path fill="#c0fc54" stroke="#c0fc54" d="M310.1 386.3 312.4 389 313.8 385.4 311.4 382.3Z"/>
<path fill="#bafc54" stroke="#bafc54" d="M312.4 389 314.4 391.2 316 387.9 313.8 385.4Z"/>
<path fill="#b4f64e" stroke="#b4f64e" d="M314.4 391.2 316.4 393.2 318 390.1 316 387.9Z"/>
<path fill="#b4f048" stroke="#b4f048" d="M316.4 393.2 318.2 395 319.9 392.2 318 390.1Z"/>
<path fill="#aeea42" stroke="#aeea42" d="M318.2 395 319.9 396.8 321.6 394.2 319.9 392.2Z"/>
<path fill="#a8e43c" stroke="#a8e43c" d="M319.9 396.8 321.4 398.5 323.2 396.1 321.6 394.2Z"/>
<path fill="#a2de36" stroke="#a2de36" d="M321.4 398.5 323 400.1 324.8 397.7 323.2 396.1Z"/>
<path fill="#96d230" stroke="#96d230" d="M323 400.1 325.1 401.4 326.4 399.1 324.8 397.7Z"/>
<path fill="#90cc30" stroke="#90cc30" d="M325.1 401.4 329 402.6 328.8 400.7 328.6 400.3 326.4 399.1Z"/>
<path fill="#fc663c" stroke="#fc663c" d="M328.9 400.7 328.8 400.4 328.5 400.3Z"/>
<path fill="#8ac62a" stroke="#8ac62a" d="M329 402.6 333.1 403.8 333.1 403.5 328.8 400.7Z"/>
<path fill="#fc603c" stroke="#fc603c" d="M333.2 403.5 333 401.6 328.8 400.4 328.9 400.7Z"/>
<path fill="#8ac02a" stroke="#8ac02a" d="M333.1 403.8 335.3 404.4 333.1 403.5Z"/>
<path fill="#fc6036" stroke="#fc6036" d="M335.4 404.4 337.6 405 337.3 402.8 333 401.6 333.2 403.5ZM337.6 405 342.1 406.2 341.7 403.9 337.3 402.8ZM342.1 406.2 346.4 407.4 346.2 405.2 341.7 403.9ZM346.4 407.4 347 407.6 350.8 407.5 351 406.4 346.2 405.2ZM353.6 407.1 351 406.4 350.8 407.5Z"/>
<path fill="#fc9018" stroke="#fc9018" d="M168.8 345.8 168.8 345.8 168.9 345.7ZM168.8 345.8 171.7 346.6 173.6 344.9 173.2 344.8 168.9 345.7ZM171.7 346.6 174.5 347.4 176.4 345.7 173.6 344.9Z"/>
<path fill="#fc8a18" stroke="#fc8a18" d="M174.5 347.4 177.4 348 179.3 346.4 176.4 345.7Z"/>
<path fill="#f68a12" stroke="#f68a12" d="M177.4 348 180.2 348.7 182.1 347.1 179.3 346.4Z"/>
<path fill="#18304e" stroke="#18304e" d="M233.7 294.4 238.5 284.1 241.2 281.3 236.3 293.9Z"/>
<path fill="#1e365a" stroke="#1e365a" d="M238.5 284.1 242.8 275.2 244.8 272.5 241.2 281.3Z"/>
<path fill="#305a90" stroke="#305a90" d="M242.8 275.2 246.1 274.3 247 269.6 244.8 272.5Z"/>
<path fill="#6ca8f6" stroke="#6ca8f6" d="M246.1 274.3 249.7 278 248.6 269.9 247 269.6Z"/>
<path fill="#6096de" stroke="#6096de" d="M249.7 278 253.8 282.2 250.7 271.9 248.6 269.9Z"/>
<path fill="#6096e4" stroke="#6096e4" d="M253.8 282.2 258 285.6 255.5 275.4 250.7 271.9Z"/>
<path fill="#78bafc" stroke="#78bafc" d="M258 285.6 261.5 289.3 264.1 282.2 255.5 275.4Z"/>
<path fill="#84ccfc" stroke="#84ccfc" d="M261.5 289.3 264.3 295.2 267 289 264.1 282.2Z"/>
<path fill="#7ec6fc" stroke="#7ec6fc" d="M264.3 295.2 267.1 304.5 270 297.9 267 289Z"/>
<path fill="#84c6fc" stroke="#84c6fc" d="M267.1 304.5 270.2 314.9 272.5 306.9 270 297.9Z"/>
<path fill="#84ccfc" stroke="#84ccfc" d="M270.2 314.9 273.6 325 275.5 315.8 272.5 306.9ZM273.6 325 276.4 334.9 278.7 325.8 275.5 315.8Z"/>
<path fill="#8ad2fc" stroke="#8ad2fc" d="M276.4 334.9 278.8 344.6 281.1 337.1 278.7 325.8Z"/>
<path fill="#90d8fc" stroke="#90d8fc" d="M278.8 344.6 281.3 353.7 283.5 347.6 281.1 337.1Z"/>
<path fill="#9ceafc" stroke="#9ceafc" d="M281.3 353.7 284.1 361.4 286.1 356.1 283.5 347.6Z"/>
<path fill="#aefcfc" stroke="#aefcfc" d="M284.1 361.4 286.4 366.3 286.4 356.9 286.1 356.1Z"/>
<path fill="#7ea836" stroke="#7ea836" d="M286.4 366.1 287.1 366.8 289.1 359.8 286.4 356.8Z"/>
<path fill="#8aba3c" stroke="#8aba3c" d="M287.1 366.8 290.1 370.1 292 363.8 289.1 359.8Z"/>
<path fill="#9ccc48" stroke="#9ccc48" d="M290.1 370.1 293.4 373.9 295 368.2 292 363.8Z"/>
<path fill="#a2d248" stroke="#a2d248" d="M293.4 373.9 297 378 298.2 372.5 295 368.2Z"/>
<path fill="#a2d84e" stroke="#a2d84e" d="M297 378 300.7 381.6 301.5 376.4 298.2 372.5Z"/>
<path fill="#aee44e" stroke="#aee44e" d="M300.7 381.6 303.8 384.7 304.7 380 301.5 376.4Z"/>
<path fill="#b4f054" stroke="#b4f054" d="M303.8 384.7 306.6 387.4 307.6 383.3 304.7 380Z"/>
<path fill="#baf654" stroke="#baf654" d="M306.6 387.4 309 389.9 310.1 386.3 307.6 383.3Z"/>
<path fill="#bafc54" stroke="#bafc54" d="M309 389.9 311.1 392.1 312.4 389 310.1 386.3Z"/>
<path fill="#b4f64e" stroke="#b4f64e" d="M311.1 392.1 313.1 394.2 314.4 391.2 312.4 389Z"/>
<path fill="#aeea48" stroke="#aeea48" d="M313.1 394.2 314.9 396.1 316.4 393.2 314.4 391.2Z"/>
<path fill="#a8e442" stroke="#a8e442" d="M314.9 396.1 316.6 397.8 318.2 395 316.4 393.2ZM316.6 397.8 318.3 399.4 319.9 396.8 318.2 395Z"/>
<path fill="#a2de3c" stroke="#a2de3c" d="M318.3 399.4 319.9 400.9 321.4 398.5 319.9 396.8Z"/>
<path fill="#9cd236" stroke="#9cd236" d="M319.9 400.9 321.5 402.4 323 400.1 321.4 398.5Z"/>
<path fill="#90cc30" stroke="#90cc30" d="M321.5 402.4 325.4 403.6 325.1 401.4 323 400.1Z"/>
<path fill="#8ac62a" stroke="#8ac62a" d="M325.4 403.6 329.2 404.8 329 402.6 325.1 401.4Z"/>
<path fill="#8ac02a" stroke="#8ac02a" d="M329.2 404.8 333 406 333.1 403.8 329 402.6ZM333 406 337.1 407.2 337.6 405.3 335.3 404.4 333.1 403.8Z"/>
<path fill="#fc6036" stroke="#fc6036" d="M337.6 405.3 337.6 405 335.4 404.4Z"/>
<path fill="#84c024" stroke="#84c024" d="M337.1 407.2 340.8 408.1 342 407.7 342.1 407.4 337.6 405.3Z"/>
<path fill="#fc6036" stroke="#fc6036" d="M342.2 407.4 342.1 406.2 337.6 405 337.6 405.3Z"/>
<path fill="#84c024" stroke="#84c024" d="M342.4 407.6 342.1 407.4 342 407.7Z"/>
<path fill="#fc6036" stroke="#fc6036" d="M346.4 407.6 346.4 407.4 342.1 406.2 342.2 407.4 342.3 407.5ZM347 407.6 346.4 407.4 346.4 407.6Z"/>
<path fill="#fc9018" stroke="#fc9018" d="M164.4 346.7 166.9 347.4 168.8 345.8 168.8 345.8ZM166.9 347.4 169.8 348.2 171.7 346.6 168.8 345.8ZM169.8 348.2 172.6 349 174.5 347.4 171.7 346.6Z"/>
<path fill="#f68a18" stroke="#f68a18" d="M172.6 349 175.5 349.7 177.4 348 174.5 347.4Z"/>
<path fill="#ea8412" stroke="#ea8412" d="M175.5 349.7 178.3 350.2 180.2 348.7 177.4 348Z"/>
<path fill="#183054" stroke="#183054" d="M234.7 293.9 235.7 293.4 238.5 284.1 233.7 294.4 232.5 294.6Z"/>
<path fill="#1e3c60" stroke="#1e3c60" d="M235.7 293.4 239.9 286.9 242.8 275.2 238.5 284.1Z"/>
<path fill="#426ca8" stroke="#426ca8" d="M239.9 286.9 243.9 286.3 246.1 274.3 242.8 275.2Z"/>
<path fill="#6ca2f0" stroke="#6ca2f0" d="M243.9 286.3 247.3 289.6 249.7 278 246.1 274.3Z"/>
<path fill="#669cea" stroke="#669cea" d="M247.3 289.6 250.4 292.7 253.8 282.2 249.7 278Z"/>
<path fill="#5a90d8" stroke="#5a90d8" d="M250.4 292.7 253.9 295.8 258 285.6 253.8 282.2Z"/>
<path fill="#6096de" stroke="#6096de" d="M253.9 295.8 257.5 299.3 261.5 289.3 258 285.6Z"/>
<path fill="#72aefc" stroke="#72aefc" d="M257.5 299.3 261.1 304.9 264.3 295.2 261.5 289.3Z"/>
<path fill="#7ec0fc" stroke="#7ec0fc" d="M261.1 304.9 264.6 313.5 267.1 304.5 264.3 295.2ZM264.6 313.5 268.3 324.1 270.2 314.9 267.1 304.5ZM268.3 324.1 271.4 334.9 273.6 325 270.2 314.9Z"/>
<path fill="#84c6fc" stroke="#84c6fc" d="M271.4 334.9 273.9 344.4 276.4 334.9 273.6 325Z"/>
<path fill="#8accfc" stroke="#8accfc" d="M273.9 344.4 276.5 352.6 278.8 344.6 276.4 334.9Z"/>
<path fill="#90defc" stroke="#90defc" d="M276.5 352.6 279.3 359.9 281.3 353.7 278.8 344.6Z"/>
<path fill="#9ceafc" stroke="#9ceafc" d="M279.3 359.9 282.3 366.6 284.1 361.4 281.3 353.7Z"/>
<path fill="#b4fcfc" stroke="#b4fcfc" d="M282.3 366.6 285.5 372.4 286.3 369.7 286.4 366.3 284.1 361.4Z"/>
<path fill="#7ea836" stroke="#7ea836" d="M286.3 369.8 287.1 366.8 286.4 366.1Z"/>
<path fill="#c0fcfc" stroke="#c0fcfc" d="M285.5 372.4 287.2 375 286.3 369.7Z"/>
<path fill="#8ab43c" stroke="#8ab43c" d="M287.2 374.8 288.8 376.2 290.1 370.1 287.1 366.8 286.3 369.8Z"/>
<path fill="#96c648" stroke="#96c648" d="M288.8 376.2 292.5 379.4 293.4 373.9 290.1 370.1Z"/>
<path fill="#a2d84e" stroke="#a2d84e" d="M292.5 379.4 296.6 382.8 297 378 293.4 373.9Z"/>
<path fill="#aee454" stroke="#aee454" d="M296.6 382.8 300.2 386.1 300.7 381.6 297 378Z"/>
<path fill="#b4f054" stroke="#b4f054" d="M300.2 386.1 303.2 388.8 303.8 384.7 300.7 381.6Z"/>
<path fill="#baf054" stroke="#baf054" d="M303.2 388.8 305.7 391.1 306.6 387.4 303.8 384.7Z"/>
<path fill="#b4f054" stroke="#b4f054" d="M305.7 391.1 307.9 393.1 309 389.9 306.6 387.4Z"/>
<path fill="#b4f04e" stroke="#b4f04e" d="M307.9 393.1 309.9 395.1 311.1 392.1 309 389.9Z"/>
<path fill="#aeea48" stroke="#aeea48" d="M309.9 395.1 311.8 397 313.1 394.2 311.1 392.1Z"/>
<path fill="#a8e442" stroke="#a8e442" d="M311.8 397 313.6 398.8 314.9 396.1 313.1 394.2Z"/>
<path fill="#a2de3c" stroke="#a2de3c" d="M313.6 398.8 315.3 400.4 316.6 397.8 314.9 396.1Z"/>
<path fill="#9cd83c" stroke="#9cd83c" d="M315.3 400.4 316.9 401.9 318.3 399.4 316.6 397.8Z"/>
<path fill="#96d236" stroke="#96d236" d="M316.9 401.9 318.6 403.3 319.9 400.9 318.3 399.4Z"/>
<path fill="#90cc30" stroke="#90cc30" d="M318.6 403.3 321.8 404.5 321.5 402.4 319.9 400.9Z"/>
<path fill="#90c62a" stroke="#90c62a" d="M321.8 404.5 325.3 405.8 325.4 403.6 321.5 402.4Z"/>
<path fill="#8ac02a" stroke="#8ac02a" d="M325.3 405.8 329.1 407 329.2 404.8 325.4 403.6ZM329.1 407 332.9 408.1 333 406 329.2 404.8Z"/>
<path fill="#84c024" stroke="#84c024" d="M332.9 408.1 336.4 409.2 336.9 409.1 337.1 407.2 333 406ZM340.8 408.1 337.1 407.2 336.9 409.1Z"/>
<path fill="#fc9018" stroke="#fc9018" d="M160.8 348 162.2 348.4 163.8 346.9ZM162.2 348.4 165 349.1 166.9 347.4 164.4 346.7 163.8 346.9ZM165 349.1 167.9 349.9 169.8 348.2 166.9 347.4ZM167.9 349.9 170.7 350.6 172.6 349 169.8 348.2Z"/>
<path fill="#f68a12" stroke="#f68a12" d="M170.7 350.6 173.6 351.3 175.5 349.7 172.6 349Z"/>
<path fill="#e47e12" stroke="#e47e12" d="M173.6 351.3 176.4 351.8 178.3 350.2 175.5 349.7Z"/>
<path fill="#7e480c" stroke="#7e480c" d="M231.4 271.7 233.2 282.1 235.2 293.9 234.7 293.9 232 289Z"/>
<path fill="#1e365a" stroke="#1e365a" d="M235.2 293.9 235.7 293.4 234.7 293.9Z"/>
<path fill="#b4660c" stroke="#b4660c" d="M233.2 282.1 236.1 294.1 236.4 294 235.2 293.9Z"/>
<path fill="#243c60" stroke="#243c60" d="M236.4 294 239.9 286.9 235.7 293.4 235.2 293.9Z"/>
<path fill="#ea8412" stroke="#ea8412" d="M236.1 294.1 236.5 294.2 236.4 294Z"/>
<path fill="#3c6096" stroke="#3c6096" d="M236.5 294.1 238.9 294.3 243.9 286.3 239.9 286.9 236.4 294Z"/>
<path fill="#548acc" stroke="#548acc" d="M238.9 294.3 242.7 296.9 247.3 289.6 243.9 286.3Z"/>
<path fill="#6096e4" stroke="#6096e4" d="M242.7 296.9 246.7 302.2 250.4 292.7 247.3 289.6Z"/>
<path fill="#6090de" stroke="#6090de" d="M246.7 302.2 250.8 307.9 253.9 295.8 250.4 292.7Z"/>
<path fill="#5a8ad2" stroke="#5a8ad2" d="M250.8 307.9 255 312.7 257.5 299.3 253.9 295.8Z"/>
<path fill="#6096e4" stroke="#6096e4" d="M255 312.7 259 317.9 261.1 304.9 257.5 299.3Z"/>
<path fill="#72aefc" stroke="#72aefc" d="M259 317.9 263 325.1 264.6 313.5 261.1 304.9Z"/>
<path fill="#78bafc" stroke="#78bafc" d="M263 325.1 266.4 334.5 268.3 324.1 264.6 313.5Z"/>
<path fill="#7ec0fc" stroke="#7ec0fc" d="M266.4 334.5 269 344.5 271.4 334.9 268.3 324.1Z"/>
<path fill="#84c6fc" stroke="#84c6fc" d="M269 344.5 271.6 353.4 273.9 344.4 271.4 334.9Z"/>
<path fill="#8ad2fc" stroke="#8ad2fc" d="M271.6 353.4 274.4 360.5 276.5 352.6 273.9 344.4Z"/>
<path fill="#96defc" stroke="#96defc" d="M274.4 360.5 277.6 366.4 279.3 359.9 276.5 352.6Z"/>
<path fill="#a2f0fc" stroke="#a2f0fc" d="M277.6 366.4 280.9 371.9 282.3 366.6 279.3 359.9Z"/>
<path fill="#aefcfc" stroke="#aefcfc" d="M280.9 371.9 284.4 377 285.5 372.4 282.3 366.6Z"/>
<path fill="#c0fcfc" stroke="#c0fcfc" d="M284.4 377 288.4 381.6 288.4 380.5 287.2 375 285.5 372.4Z"/>
<path fill="#90ba42" stroke="#90ba42" d="M288.4 380.5 288.8 376.2 287.2 374.8Z"/>
<path fill="#ccfcfc" stroke="#ccfcfc" d="M288.4 381.6 289.7 382.7 288.4 380.5Z"/>
<path fill="#96c648" stroke="#96c648" d="M289.6 382.6 292.8 384.6 292.5 379.4 288.8 376.2 288.4 380.5Z"/>
<path fill="#a8de4e" stroke="#a8de4e" d="M292.8 384.6 296.8 387.3 296.6 382.8 292.5 379.4Z"/>
<path fill="#b4ea54" stroke="#b4ea54" d="M296.8 387.3 299.9 389.9 300.2 386.1 296.6 382.8Z"/>
<path fill="#baf054" stroke="#baf054" d="M299.9 389.9 302.5 392.3 303.2 388.8 300.2 386.1Z"/>
<path fill="#b4f04e" stroke="#b4f04e" d="M302.5 392.3 304.8 394.4 305.7 391.1 303.2 388.8Z"/>
<path fill="#aeea48" stroke="#aeea48" d="M304.8 394.4 306.9 396.2 307.9 393.1 305.7 391.1Z"/>
<path fill="#a8e442" stroke="#a8e442" d="M306.9 396.2 308.8 397.9 309.9 395.1 307.9 393.1ZM308.8 397.9 310.6 399.6 311.8 397 309.9 395.1Z"/>
<path fill="#a2de3c" stroke="#a2de3c" d="M310.6 399.6 312.4 401.3 313.6 398.8 311.8 397Z"/>
<path fill="#9cd836" stroke="#9cd836" d="M312.4 401.3 314.1 402.9 315.3 400.4 313.6 398.8Z"/>
<path fill="#96d236" stroke="#96d236" d="M314.1 402.9 316.2 404.3 316.9 401.9 315.3 400.4Z"/>
<path fill="#90cc30" stroke="#90cc30" d="M316.2 404.3 319 405.5 318.6 403.3 316.9 401.9Z"/>
<path fill="#90c62a" stroke="#90c62a" d="M319 405.5 321.9 406.7 321.8 404.5 318.6 403.3Z"/>
<path fill="#8ac02a" stroke="#8ac02a" d="M321.9 406.7 325.1 407.9 325.3 405.8 321.8 404.5ZM325.1 407.9 328.8 409.1 329.1 407 325.3 405.8Z"/>
<path fill="#84c024" stroke="#84c024" d="M328.8 409.1 331.6 410 332.7 409.7 332.9 408.1 329.1 407ZM336.4 409.2 332.9 408.1 332.7 409.7Z"/>
<path fill="#fc9018" stroke="#fc9018" d="M157.2 349.2 157.5 349.3 157.7 349.1ZM157.5 349.3 160.3 350.1 162.2 348.4 160.8 348 157.7 349.1ZM160.3 350.1 163.1 350.8 165 349.1 162.2 348.4ZM163.1 350.8 166 351.6 167.9 349.9 165 349.1Z"/>
<path fill="#f68a12" stroke="#f68a12" d="M166 351.6 168.8 352.2 170.7 350.6 167.9 349.9Z"/>
<path fill="#ea8412" stroke="#ea8412" d="M168.8 352.2 171.6 352.8 173.6 351.3 170.7 350.6Z"/>
<path fill="#d8780c" stroke="#d8780c" d="M171.6 352.8 174.4 353.2 176.4 351.8 173.6 351.3Z"/>
<path fill="#542a00" stroke="#542a00" d="M224.2 266.2 228.2 264.4 229.1 269.6 225.4 272.2Z"/>
<path fill="#6c3c06" stroke="#6c3c06" d="M228.2 264.4 230.9 266.1 231.4 271.7 229.1 269.6Z"/>
<path fill="#a25a06" stroke="#a25a06" d="M230.9 266.1 231.7 274.6 233.2 282.1 231.4 271.7Z"/>
<path fill="#d2720c" stroke="#d2720c" d="M231.7 274.6 234.2 294.2 236.1 294.1 233.2 282.1Z"/>
<path fill="#fc9618" stroke="#fc9618" d="M234.2 294.2 236.4 301.3 237.5 300 236.5 294.2 236.1 294.1Z"/>
<path fill="#3c6096" stroke="#3c6096" d="M237.5 300.2 238.9 294.3 236.5 294.1Z"/>
<path fill="#fca824" stroke="#fca824" d="M236.4 301.3 239.4 309.9 237.5 300Z"/>
<path fill="#4872ae" stroke="#4872ae" d="M239.3 309.5 241.1 310.9 242.7 296.9 238.9 294.3 237.5 300.2Z"/>
<path fill="#5a8ad2" stroke="#5a8ad2" d="M241.1 310.9 245.5 315.3 246.7 302.2 242.7 296.9Z"/>
<path fill="#6096de" stroke="#6096de" d="M245.5 315.3 250 320.7 250.8 307.9 246.7 302.2Z"/>
<path fill="#6090de" stroke="#6090de" d="M250 320.7 254.3 326.2 255 312.7 250.8 307.9Z"/>
<path fill="#5a90de" stroke="#5a90de" d="M254.3 326.2 258.1 331.7 259 317.9 255 312.7Z"/>
<path fill="#669cea" stroke="#669cea" d="M258.1 331.7 261.3 338 263 325.1 259 317.9Z"/>
<path fill="#72aefc" stroke="#72aefc" d="M261.3 338 264 345.6 266.4 334.5 263 325.1Z"/>
<path fill="#7ebafc" stroke="#7ebafc" d="M264 345.6 266.6 353.8 269 344.5 266.4 334.5Z"/>
<path fill="#84c6fc" stroke="#84c6fc" d="M266.6 353.8 269.5 361.4 271.6 353.4 269 344.5Z"/>
<path fill="#90d2fc" stroke="#90d2fc" d="M269.5 361.4 272.8 367.7 274.4 360.5 271.6 353.4Z"/>
<path fill="#9ce4fc" stroke="#9ce4fc" d="M272.8 367.7 276.3 372.8 277.6 366.4 274.4 360.5Z"/>
<path fill="#a8f6fc" stroke="#a8f6fc" d="M276.3 372.8 280.1 377.3 280.9 371.9 277.6 366.4Z"/>
<path fill="#b4fcfc" stroke="#b4fcfc" d="M280.1 377.3 284.2 381.7 284.4 377 280.9 371.9Z"/>
<path fill="#c0fcfc" stroke="#c0fcfc" d="M284.2 381.7 289.1 385.7 288.4 381.6 284.4 377Z"/>
<path fill="#c6fcfc" stroke="#c6fcfc" d="M289.1 385.7 293.3 388.8 289.7 382.7 288.4 381.6Z"/>
<path fill="#a2d84e" stroke="#a2d84e" d="M293.3 388.8 293.8 389.1 292.8 384.6 289.6 382.6Z"/>
<path fill="#aee454" stroke="#aee454" d="M293.8 389.1 296.8 391.3 296.8 387.3 292.8 384.6Z"/>
<path fill="#b4f054" stroke="#b4f054" d="M296.8 391.3 299.4 393.4 299.9 389.9 296.8 387.3Z"/>
<path fill="#b4f04e" stroke="#b4f04e" d="M299.4 393.4 301.7 395.4 302.5 392.3 299.9 389.9Z"/>
<path fill="#aeea48" stroke="#aeea48" d="M301.7 395.4 303.9 397.3 304.8 394.4 302.5 392.3Z"/>
<path fill="#a8de42" stroke="#a8de42" d="M303.9 397.3 305.8 399 306.9 396.2 304.8 394.4Z"/>
<path fill="#a2de3c" stroke="#a2de3c" d="M305.8 399 307.7 400.6 308.8 397.9 306.9 396.2Z"/>
<path fill="#9cd83c" stroke="#9cd83c" d="M307.7 400.6 309.5 402.2 310.6 399.6 308.8 397.9Z"/>
<path fill="#9cd836" stroke="#9cd836" d="M309.5 402.2 311.2 403.7 312.4 401.3 310.6 399.6Z"/>
<path fill="#96d236" stroke="#96d236" d="M311.2 403.7 313.3 405.2 314.1 402.9 312.4 401.3Z"/>
<path fill="#90cc30" stroke="#90cc30" d="M313.3 405.2 316.1 406.5 316.2 404.3 314.1 402.9Z"/>
<path fill="#8ac62a" stroke="#8ac62a" d="M316.1 406.5 318.9 407.7 319 405.5 316.2 404.3Z"/>
<path fill="#8ac02a" stroke="#8ac02a" d="M318.9 407.7 321.8 408.9 321.9 406.7 319 405.5Z"/>
<path fill="#84c02a" stroke="#84c02a" d="M321.8 408.9 324.8 410.1 325.1 407.9 321.9 406.7Z"/>
<path fill="#84c024" stroke="#84c024" d="M324.8 410.1 327.6 411.1 328.4 410.9 328.8 409.1 325.1 407.9ZM331.6 410 328.8 409.1 328.4 410.9Z"/>
<path fill="#fc9618" stroke="#fc9618" d="M153.3 350.4 155.5 351 157.5 349.3 157.2 349.2Z"/>
<path fill="#fc9018" stroke="#fc9018" d="M155.5 351 158.4 351.8 160.3 350.1 157.5 349.3ZM158.4 351.8 161.2 352.6 163.1 350.8 160.3 350.1Z"/>
<path fill="#fc8a18" stroke="#fc8a18" d="M161.2 352.6 164 353.3 166 351.6 163.1 350.8Z"/>
<path fill="#f08412" stroke="#f08412" d="M164 353.3 166.9 353.8 168.8 352.2 166 351.6Z"/>
<path fill="#e47e0c" stroke="#e47e0c" d="M166.9 353.8 169.7 354.3 171.6 352.8 168.8 352.2Z"/>
<path fill="#cc6c0c" stroke="#cc6c0c" d="M169.7 354.3 172.5 354.4 174.4 353.2 171.6 352.8Z"/>
<path fill="#b46006" stroke="#b46006" d="M172.5 354.4 175.3 354.1 177.2 353.1 174.4 353.2Z"/>
<path fill="#5a3000" stroke="#5a3000" d="M216.7 261.4 221.1 261.9 224.2 266.2 220 269Z"/>
<path fill="#783c00" stroke="#783c00" d="M221.1 261.9 225.9 263.7 228.2 264.4 224.2 266.2Z"/>
<path fill="#fc9612" stroke="#fc9612" d="M225.9 263.7 228.8 267.5 230.9 266.1 228.2 264.4Z"/>
<path fill="#fc9c1e" stroke="#fc9c1e" d="M228.8 267.5 229.1 277.7 231.7 274.6 230.9 266.1Z"/>
<path fill="#fc9018" stroke="#fc9018" d="M229.1 277.7 231.3 294.8 234.2 294.2 231.7 274.6Z"/>
<path fill="#fc961e" stroke="#fc961e" d="M231.3 294.8 234.7 306.4 236.4 301.3 234.2 294.2Z"/>
<path fill="#fcae2a" stroke="#fcae2a" d="M234.7 306.4 241 321.4 241.3 318.6 239.4 309.9 236.4 301.3Z"/>
<path fill="#426ca8" stroke="#426ca8" d="M241.4 318.8 241.1 310.9 239.3 309.5Z"/>
<path fill="#fcba30" stroke="#fcba30" d="M241 321.4 243.7 326.7 241.3 318.6Z"/>
<path fill="#4e78b4" stroke="#4e78b4" d="M243.6 326.3 245.8 328.1 245.5 315.3 241.1 310.9 241.4 318.8Z"/>
<path fill="#5a90d8" stroke="#5a90d8" d="M245.8 328.1 249.8 332.6 250 320.7 245.5 315.3Z"/>
<path fill="#6096e4" stroke="#6096e4" d="M249.8 332.6 253.2 338.4 254.3 326.2 250 320.7ZM253.2 338.4 256 344.6 258.1 331.7 254.3 326.2Z"/>
<path fill="#669cea" stroke="#669cea" d="M256 344.6 258.7 350.6 261.3 338 258.1 331.7Z"/>
<path fill="#6ca8fc" stroke="#6ca8fc" d="M258.7 350.6 261.5 356.5 264 345.6 261.3 338Z"/>
<path fill="#78bafc" stroke="#78bafc" d="M261.5 356.5 264.6 362.7 266.6 353.8 264 345.6Z"/>
<path fill="#84ccfc" stroke="#84ccfc" d="M264.6 362.7 268 368.7 269.5 361.4 266.6 353.8Z"/>
<path fill="#96d8fc" stroke="#96d8fc" d="M268 368.7 271.8 374.2 272.8 367.7 269.5 361.4Z"/>
<path fill="#a2eafc" stroke="#a2eafc" d="M271.8 374.2 275.8 378.7 276.3 372.8 272.8 367.7Z"/>
<path fill="#a8f6fc" stroke="#a8f6fc" d="M275.8 378.7 280 382.7 280.1 377.3 276.3 372.8Z"/>
<path fill="#b4fcfc" stroke="#b4fcfc" d="M280 382.7 284.5 386.3 284.2 381.7 280.1 377.3Z"/>
<path fill="#bafcfc" stroke="#bafcfc" d="M284.5 386.3 289.2 389.8 289.1 385.7 284.2 381.7Z"/>
<path fill="#c0fcfc" stroke="#c0fcfc" d="M289.2 389.8 293.1 392.8 293.7 390.8 293.3 388.8 289.1 385.7Z"/>
<path fill="#a8de4e" stroke="#a8de4e" d="M293.7 390.9 293.8 389.1 293.3 388.8Z"/>
<path fill="#c0fcfc" stroke="#c0fcfc" d="M293.1 392.8 294.1 393.7 293.7 390.8Z"/>
<path fill="#aee44e" stroke="#aee44e" d="M294.1 393.6 296 394.9 296.8 391.3 293.8 389.1 293.7 390.9ZM296 394.9 298.5 396.6 299.4 393.4 296.8 391.3Z"/>
<path fill="#a8e448" stroke="#a8e448" d="M298.5 396.6 300.7 398.3 301.7 395.4 299.4 393.4Z"/>
<path fill="#a2de42" stroke="#a2de42" d="M300.7 398.3 302.8 400 303.9 397.3 301.7 395.4Z"/>
<path fill="#9cd83c" stroke="#9cd83c" d="M302.8 400 304.7 401.6 305.8 399 303.9 397.3Z"/>
<path fill="#9cd236" stroke="#9cd236" d="M304.7 401.6 306.6 403.2 307.7 400.6 305.8 399Z"/>
<path fill="#96d236" stroke="#96d236" d="M306.6 403.2 308.4 404.6 309.5 402.2 307.7 400.6Z"/>
<path fill="#96cc36" stroke="#96cc36" d="M308.4 404.6 310.3 406 311.2 403.7 309.5 402.2Z"/>
<path fill="#90cc30" stroke="#90cc30" d="M310.3 406 312.7 407.4 313.3 405.2 311.2 403.7Z"/>
<path fill="#8ac62a" stroke="#8ac62a" d="M312.7 407.4 315.4 408.7 316.1 406.5 313.3 405.2Z"/>
<path fill="#8ac02a" stroke="#8ac02a" d="M315.4 408.7 318.4 409.9 318.9 407.7 316.1 406.5Z"/>
<path fill="#84c02a" stroke="#84c02a" d="M318.4 409.9 321.4 411.1 321.8 408.9 318.9 407.7Z"/>
<path fill="#84ba24" stroke="#84ba24" d="M321.4 411.1 321.7 411.2 324.6 411.4 324.8 410.1 321.8 408.9ZM327.6 411.1 324.8 410.1 324.6 411.4Z"/>
<path fill="#fc9618" stroke="#fc9618" d="M150.2 351.8 150.8 352 151.8 351ZM150.8 352 153.6 352.8 155.5 351 153.3 350.4 151.8 351Z"/>
<path fill="#fc9018" stroke="#fc9018" d="M153.6 352.8 156.4 353.6 158.4 351.8 155.5 351ZM156.4 353.6 159.3 354.4 161.2 352.6 158.4 351.8Z"/>
<path fill="#f68a18" stroke="#f68a18" d="M159.3 354.4 162.1 355 164 353.3 161.2 352.6Z"/>
<path fill="#ea8412" stroke="#ea8412" d="M162.1 355 164.9 355.5 166.9 353.8 164 353.3Z"/>
<path fill="#d2720c" stroke="#d2720c" d="M164.9 355.5 167.7 355.7 169.7 354.3 166.9 353.8Z"/>
<path fill="#ba6606" stroke="#ba6606" d="M167.7 355.7 170.5 355.6 172.5 354.4 169.7 354.3Z"/>
<path fill="#a85a00" stroke="#a85a00" d="M170.5 355.6 173.3 355 175.3 354.1 172.5 354.4Z"/>
<path fill="#542a00" stroke="#542a00" d="M207.9 269.5 211.8 262.5 213.8 264.2 210.5 269.8Z"/>
<path fill="#663600" stroke="#663600" d="M211.8 262.5 216.4 259.2 216.7 261.4 213.8 264.2Z"/>
<path fill="#844800" stroke="#844800" d="M216.4 259.2 218 260.6 221.1 261.9 216.7 261.4Z"/>
<path fill="#fcb42a" stroke="#fcb42a" d="M218 260.6 222.7 267.8 225.9 263.7 221.1 261.9Z"/>
<path fill="#fcc648" stroke="#fcc648" d="M222.7 267.8 224.6 276.7 228.8 267.5 225.9 263.7Z"/>
<path fill="#fca830" stroke="#fca830" d="M224.6 276.7 226.4 290.7 229.1 277.7 228.8 267.5Z"/>
<path fill="#fc9c2a" stroke="#fc9c2a" d="M226.4 290.7 228.8 299.8 231.3 294.8 229.1 277.7Z"/>
<path fill="#fc9c24" stroke="#fc9c24" d="M228.8 299.8 233.9 314.3 234.7 306.4 231.3 294.8Z"/>
<path fill="#fca22a" stroke="#fca22a" d="M233.9 314.3 240.4 328.2 241 321.4 234.7 306.4Z"/>
<path fill="#fcba36" stroke="#fcba36" d="M240.4 328.2 245 339.5 245.4 338.3 243.7 326.7 241 321.4Z"/>
<path fill="#4872b4" stroke="#4872b4" d="M245.4 338.3 245.8 328.1 243.6 326.3Z"/>
<path fill="#fccc3c" stroke="#fccc3c" d="M245 339.5 245.6 341.3 245.4 338.3Z"/>
<path fill="#5484c6" stroke="#5484c6" d="M245.6 341 248 344.3 249.8 332.6 245.8 328.1 245.4 338.3Z"/>
<path fill="#6696e4" stroke="#6696e4" d="M248 344.3 250.7 349.7 253.2 338.4 249.8 332.6Z"/>
<path fill="#66a2f0" stroke="#66a2f0" d="M250.7 349.7 253.3 355.8 256 344.6 253.2 338.4ZM253.3 355.8 256.3 361.5 258.7 350.6 256 344.6Z"/>
<path fill="#6ca8fc" stroke="#6ca8fc" d="M256.3 361.5 259.6 366.5 261.5 356.5 258.7 350.6Z"/>
<path fill="#78bafc" stroke="#78bafc" d="M259.6 366.5 263.2 371.1 264.6 362.7 261.5 356.5Z"/>
<path fill="#8accfc" stroke="#8accfc" d="M263.2 371.1 267.1 375.6 268 368.7 264.6 362.7Z"/>
<path fill="#9cdefc" stroke="#9cdefc" d="M267.1 375.6 271.2 380 271.8 374.2 268 368.7Z"/>
<path fill="#a8f0fc" stroke="#a8f0fc" d="M271.2 380 275.5 384.1 275.8 378.7 271.8 374.2Z"/>
<path fill="#aefcfc" stroke="#aefcfc" d="M275.5 384.1 279.9 387.6 280 382.7 275.8 378.7Z"/>
<path fill="#b4fcfc" stroke="#b4fcfc" d="M279.9 387.6 284.2 390.7 284.5 386.3 280 382.7Z"/>
<path fill="#bafcfc" stroke="#bafcfc" d="M284.2 390.7 288.3 393.6 289.2 389.8 284.5 386.3ZM288.3 393.6 291.8 396.1 293.1 392.8 289.2 389.8ZM291.8 396.1 293.5 397.4 294.1 393.7 293.1 392.8Z"/>
<path fill="#a2de48" stroke="#a2de48" d="M293.5 397.4 294.7 398.1 296 394.9 294.1 393.6Z"/>
<path fill="#a2d842" stroke="#a2d842" d="M294.7 398.1 297.2 399.6 298.5 396.6 296 394.9Z"/>
<path fill="#9cd83c" stroke="#9cd83c" d="M297.2 399.6 299.5 401 300.7 398.3 298.5 396.6ZM299.5 401 301.6 402.5 302.8 400 300.7 398.3Z"/>
<path fill="#96d236" stroke="#96d236" d="M301.6 402.5 303.6 404.1 304.7 401.6 302.8 400ZM303.6 404.1 305.5 405.6 306.6 403.2 304.7 401.6Z"/>
<path fill="#90cc30" stroke="#90cc30" d="M305.5 405.6 307.2 407 308.4 404.6 306.6 403.2Z"/>
<path fill="#90c630" stroke="#90c630" d="M307.2 407 309.3 408.3 310.3 406 308.4 404.6Z"/>
<path fill="#8ac62a" stroke="#8ac62a" d="M309.3 408.3 311.8 409.6 312.7 407.4 310.3 406Z"/>
<path fill="#8ac02a" stroke="#8ac02a" d="M311.8 409.6 314.5 410.8 315.4 408.7 312.7 407.4Z"/>
<path fill="#84c024" stroke="#84c024" d="M314.5 410.8 316.8 411.8 317.8 411.5 318.4 409.9 315.4 408.7Z"/>
<path fill="#84ba24" stroke="#84ba24" d="M321.4 411.2 321.4 411.1 318.4 409.9 317.8 411.5ZM321.7 411.2 321.4 411.1 321.4 411.2Z"/>
<path fill="#fc9618" stroke="#fc9618" d="M147.7 353.5 148.8 353.8 150.8 352 150.2 351.8ZM148.8 353.8 151.7 354.6 153.6 352.8 150.8 352ZM151.7 354.6 154.5 355.4 156.4 353.6 153.6 352.8Z"/>
<path fill="#fc9018" stroke="#fc9018" d="M154.5 355.4 157.3 356.1 159.3 354.4 156.4 353.6Z"/>
<path fill="#f68a12" stroke="#f68a12" d="M157.3 356.1 160.2 356.7 162.1 355 159.3 354.4Z"/>
<path fill="#de7e12" stroke="#de7e12" d="M160.2 356.7 163 357.1 164.9 355.5 162.1 355Z"/>
<path fill="#c66c0c" stroke="#c66c0c" d="M163 357.1 165.8 357.1 167.7 355.7 164.9 355.5Z"/>
<path fill="#b46006" stroke="#b46006" d="M165.8 357.1 168.5 356.7 170.5 355.6 167.7 355.7Z"/>
<path fill="#9c5400" stroke="#9c5400" d="M168.5 356.7 171.3 355.9 173.3 355 170.5 355.6Z"/>
<path fill="#8a4800" stroke="#8a4800" d="M171.3 355.9 174 354.6 176 353.9 173.3 355Z"/>
<path fill="#542a00" stroke="#542a00" d="M198.6 285.5 201 280.4 203.1 280.4 200.8 286.2Z"/>
<path fill="#603000" stroke="#603000" d="M201 280.4 203.5 276.6 205.5 275.2 203.1 280.4ZM203.5 276.6 206 272.3 207.9 269.5 205.5 275.2Z"/>
<path fill="#663600" stroke="#663600" d="M206 272.3 208.7 266.8 211.8 262.5 207.9 269.5Z"/>
<path fill="#904e06" stroke="#904e06" d="M208.7 266.8 213 263 216.4 259.2 211.8 262.5Z"/>
<path fill="#fcd248" stroke="#fcd248" d="M213 263 216.1 266.5 218 260.6 216.4 259.2Z"/>
<path fill="#fcb436" stroke="#fcb436" d="M216.1 266.5 219.4 277.4 222.7 267.8 218 260.6Z"/>
<path fill="#fca230" stroke="#fca230" d="M219.4 277.4 221.4 291.2 224.6 276.7 222.7 267.8Z"/>
<path fill="#f6962a" stroke="#f6962a" d="M221.4 291.2 224 301.1 226.4 290.7 224.6 276.7Z"/>
<path fill="#fc962a" stroke="#fc962a" d="M224 301.1 228.3 312 228.8 299.8 226.4 290.7Z"/>
<path fill="#fc9c2a" stroke="#fc9c2a" d="M228.3 312 234 324.2 233.9 314.3 228.8 299.8Z"/>
<path fill="#fca22a" stroke="#fca22a" d="M234 324.2 239.5 335.9 240.4 328.2 233.9 314.3Z"/>
<path fill="#fcb430" stroke="#fcb430" d="M239.5 335.9 242.7 346.6 245 339.5 240.4 328.2Z"/>
<path fill="#fcc63c" stroke="#fcc63c" d="M242.7 346.6 245 355.6 245.6 341.3 245 339.5Z"/>
<path fill="#5484c6" stroke="#5484c6" d="M245 355.5 245.1 355.6 248 344.3 245.6 341Z"/>
<path fill="#6090d8" stroke="#6090d8" d="M245.1 355.6 247.9 360.1 250.7 349.7 248 344.3Z"/>
<path fill="#6ca2f0" stroke="#6ca2f0" d="M247.9 360.1 251.1 365.4 253.3 355.8 250.7 349.7Z"/>
<path fill="#72aefc" stroke="#72aefc" d="M251.1 365.4 254.7 370.6 256.3 361.5 253.3 355.8ZM254.7 370.6 258.5 374.9 259.6 366.5 256.3 361.5Z"/>
<path fill="#7ebafc" stroke="#7ebafc" d="M258.5 374.9 262.4 378.6 263.2 371.1 259.6 366.5Z"/>
<path fill="#8ad2fc" stroke="#8ad2fc" d="M262.4 378.6 266.4 382 267.1 375.6 263.2 371.1Z"/>
<path fill="#9ce4fc" stroke="#9ce4fc" d="M266.4 382 270.6 385.5 271.2 380 267.1 375.6Z"/>
<path fill="#a8f6fc" stroke="#a8f6fc" d="M270.6 385.5 274.9 388.9 275.5 384.1 271.2 380Z"/>
<path fill="#b4fcfc" stroke="#b4fcfc" d="M274.9 388.9 279.1 392 279.9 387.6 275.5 384.1ZM279.1 392 283.2 394.7 284.2 390.7 279.9 387.6Z"/>
<path fill="#bafcfc" stroke="#bafcfc" d="M283.2 394.7 286.9 397.1 288.3 393.6 284.2 390.7Z"/>
<path fill="#b4fcfc" stroke="#b4fcfc" d="M286.9 397.1 290.2 399.2 291.8 396.1 288.3 393.6Z"/>
<path fill="#aefcfc" stroke="#aefcfc" d="M290.2 399.2 292.2 400.4 293.5 397.4 291.8 396.1Z"/>
<path fill="#9cd23c" stroke="#9cd23c" d="M292.2 400.4 293.1 400.9 294.7 398.1 293.5 397.4Z"/>
<path fill="#96d236" stroke="#96d236" d="M293.1 400.9 295.7 402.3 297.2 399.6 294.7 398.1Z"/>
<path fill="#96cc36" stroke="#96cc36" d="M295.7 402.3 298.1 403.7 299.5 401 297.2 399.6ZM298.1 403.7 300.3 405.1 301.6 402.5 299.5 401ZM300.3 405.1 302.2 406.5 303.6 404.1 301.6 402.5Z"/>
<path fill="#90cc30" stroke="#90cc30" d="M302.2 406.5 303.8 407.9 305.5 405.6 303.6 404.1Z"/>
<path fill="#90c630" stroke="#90c630" d="M303.8 407.9 305.7 409.3 307.2 407 305.5 405.6Z"/>
<path fill="#8ac02a" stroke="#8ac02a" d="M305.7 409.3 308.1 410.6 309.3 408.3 307.2 407ZM308.1 410.6 310.6 411.8 311.8 409.6 309.3 408.3Z"/>
<path fill="#84ba24" stroke="#84ba24" d="M310.6 411.8 312.8 412.8 313.6 412.7 314.5 410.8 311.8 409.6ZM316.8 411.8 314.5 410.8 313.6 412.7Z"/>
<path fill="#fc9618" stroke="#fc9618" d="M145.4 355.3 146.9 355.7 148.8 353.8 147.7 353.5ZM146.9 355.7 149.7 356.4 151.7 354.6 148.8 353.8Z"/>
<path fill="#fc9018" stroke="#fc9018" d="M149.7 356.4 152.5 357.2 154.5 355.4 151.7 354.6ZM152.5 357.2 155.4 357.9 157.3 356.1 154.5 355.4Z"/>
<path fill="#f08412" stroke="#f08412" d="M155.4 357.9 158.2 358.4 160.2 356.7 157.3 356.1Z"/>
<path fill="#d8780c" stroke="#d8780c" d="M158.2 358.4 161 358.7 163 357.1 160.2 356.7Z"/>
<path fill="#c06606" stroke="#c06606" d="M161 358.7 163.8 358.6 165.8 357.1 163 357.1Z"/>
<path fill="#a85a06" stroke="#a85a06" d="M163.8 358.6 166.6 358 168.5 356.7 165.8 357.1Z"/>
<path fill="#964e00" stroke="#964e00" d="M166.6 358 169.3 356.9 171.3 355.9 168.5 356.7Z"/>
<path fill="#8a4800" stroke="#8a4800" d="M169.3 356.9 172 355.5 174 354.6 171.3 355.9Z"/>
<path fill="#783c00" stroke="#783c00" d="M172 355.5 174.7 353.6 176.7 352.6 174 354.6Z"/>
<path fill="#542a00" stroke="#542a00" d="M190.1 317.5 192.9 308.2 195 304.8 192.2 316ZM192.9 308.2 195.4 298.4 196.8 293.8 195 304.8Z"/>
<path fill="#5a3000" stroke="#5a3000" d="M195.4 298.4 197.1 289.6 198.6 285.5 196.8 293.8Z"/>
<path fill="#663600" stroke="#663600" d="M197.1 289.6 199.3 283.6 201 280.4 198.6 285.5Z"/>
<path fill="#6c3c00" stroke="#6c3c00" d="M199.3 283.6 201.9 280 203.5 276.6 201 280.4ZM201.9 280 204.6 277.1 206 272.3 203.5 276.6ZM204.6 277.1 207.5 274.6 208.7 266.8 206 272.3Z"/>
<path fill="#90540c" stroke="#90540c" d="M207.5 274.6 210.8 273.9 213 263 208.7 266.8Z"/>
<path fill="#fc9c30" stroke="#fc9c30" d="M210.8 273.9 214.1 278.6 216.1 266.5 213 263ZM214.1 278.6 216.8 290.5 219.4 277.4 216.1 266.5Z"/>
<path fill="#f6962a" stroke="#f6962a" d="M216.8 290.5 219.7 303.2 221.4 291.2 219.4 277.4Z"/>
<path fill="#f0902a" stroke="#f0902a" d="M219.7 303.2 224 315.3 224 301.1 221.4 291.2Z"/>
<path fill="#f09024" stroke="#f09024" d="M224 315.3 229.1 326 228.3 312 224 301.1Z"/>
<path fill="#fc962a" stroke="#fc962a" d="M229.1 326 233.9 335.4 234 324.2 228.3 312Z"/>
<path fill="#fca230" stroke="#fca230" d="M233.9 335.4 237.5 344.7 239.5 335.9 234 324.2Z"/>
<path fill="#fcae30" stroke="#fcae30" d="M237.5 344.7 240.1 354.1 242.7 346.6 239.5 335.9Z"/>
<path fill="#fcc63c" stroke="#fcc63c" d="M240.1 354.1 242.7 362.7 245 355.9 245 355.6 242.7 346.6Z"/>
<path fill="#5484c6" stroke="#5484c6" d="M245 356 245.1 355.6 245 355.5Z"/>
<path fill="#fcd242" stroke="#fcd242" d="M242.7 362.7 245.6 369.2 245 355.9Z"/>
<path fill="#6090d8" stroke="#6090d8" d="M245.6 369.1 246.1 369.6 247.9 360.1 245.1 355.6 245 356Z"/>
<path fill="#6ca2f0" stroke="#6ca2f0" d="M246.1 369.6 249.7 373.8 251.1 365.4 247.9 360.1Z"/>
<path fill="#78b4fc" stroke="#78b4fc" d="M249.7 373.8 253.6 378 254.7 370.6 251.1 365.4Z"/>
<path fill="#84c0fc" stroke="#84c0fc" d="M253.6 378 257.7 381.8 258.5 374.9 254.7 370.6Z"/>
<path fill="#8accfc" stroke="#8accfc" d="M257.7 381.8 261.7 384.9 262.4 378.6 258.5 374.9Z"/>
<path fill="#90d8fc" stroke="#90d8fc" d="M261.7 384.9 265.8 387.7 266.4 382 262.4 378.6Z"/>
<path fill="#a2eafc" stroke="#a2eafc" d="M265.8 387.7 269.8 390.5 270.6 385.5 266.4 382Z"/>
<path fill="#aefcfc" stroke="#aefcfc" d="M269.8 390.5 273.9 393.3 274.9 388.9 270.6 385.5Z"/>
<path fill="#b4fcfc" stroke="#b4fcfc" d="M273.9 393.3 277.9 395.9 279.1 392 274.9 388.9ZM277.9 395.9 281.7 398.3 283.2 394.7 279.1 392Z"/>
<path fill="#aefcfc" stroke="#aefcfc" d="M281.7 398.3 285.2 400.3 286.9 397.1 283.2 394.7Z"/>
<path fill="#a8fcfc" stroke="#a8fcfc" d="M285.2 400.3 288.5 402 290.2 399.2 286.9 397.1Z"/>
<path fill="#a2f0fc" stroke="#a2f0fc" d="M288.5 402 290.1 402.9 292.2 400.4 290.2 399.2Z"/>
<path fill="#90cc36" stroke="#90cc36" d="M290.1 402.9 291.4 403.5 293.1 400.9 292.2 400.4Z"/>
<path fill="#90c630" stroke="#90c630" d="M291.4 403.5 294.1 404.9 295.7 402.3 293.1 400.9ZM294.1 404.9 296.5 406.2 298.1 403.7 295.7 402.3ZM296.5 406.2 298.3 407.5 300.3 405.1 298.1 403.7ZM298.3 407.5 300 408.9 302.2 406.5 300.3 405.1ZM300 408.9 301.9 410.2 303.8 407.9 302.2 406.5Z"/>
<path fill="#8ac02a" stroke="#8ac02a" d="M301.9 410.2 304.1 411.5 305.7 409.3 303.8 407.9ZM304.1 411.5 306.6 412.8 308.1 410.6 305.7 409.3Z"/>
<path fill="#84ba24" stroke="#84ba24" d="M306.6 412.8 306.9 412.9 310 412.9 310.6 411.8 308.1 410.6ZM312.8 412.8 310.6 411.8 310 412.9Z"/>
<path fill="#fc961e" stroke="#fc961e" d="M143.1 357 144.9 357.5 146.9 355.7 145.4 355.3Z"/>
<path fill="#fc9618" stroke="#fc9618" d="M144.9 357.5 147.8 358.3 149.7 356.4 146.9 355.7Z"/>
<path fill="#fc9018" stroke="#fc9018" d="M147.8 358.3 150.6 359 152.5 357.2 149.7 356.4Z"/>
<path fill="#f68a18" stroke="#f68a18" d="M150.6 359 153.4 359.6 155.4 357.9 152.5 357.2Z"/>
<path fill="#ea8412" stroke="#ea8412" d="M153.4 359.6 156.2 360.1 158.2 358.4 155.4 357.9Z"/>
<path fill="#d2720c" stroke="#d2720c" d="M156.2 360.1 159.1 360.3 161 358.7 158.2 358.4Z"/>
<path fill="#ba6606" stroke="#ba6606" d="M159.1 360.3 161.8 360.1 163.8 358.6 161 358.7Z"/>
<path fill="#a85a06" stroke="#a85a06" d="M161.8 360.1 164.6 359.5 166.6 358 163.8 358.6Z"/>
<path fill="#964e00" stroke="#964e00" d="M164.6 359.5 167.3 358.3 169.3 356.9 166.6 358Z"/>
<path fill="#844800" stroke="#844800" d="M167.3 358.3 170 356.8 172 355.5 169.3 356.9Z"/>
<path fill="#784200" stroke="#784200" d="M170 356.8 172.7 354.8 174.7 353.6 172 355.5Z"/>
<path fill="#6c3600" stroke="#6c3600" d="M172.7 354.8 175.4 352.2 177.3 350.7 174.7 353.6Z"/>
<path fill="#543000" stroke="#543000" d="M185.4 327.7 188.1 320.7 190.1 317.5 187.4 325.9Z"/>
<path fill="#5a3000" stroke="#5a3000" d="M188.1 320.7 190.9 313.8 192.9 308.2 190.1 317.5ZM190.9 313.8 193.8 306.3 195.4 298.4 192.9 308.2Z"/>
<path fill="#603000" stroke="#603000" d="M193.8 306.3 196.3 298.2 197.1 289.6 195.4 298.4Z"/>
<path fill="#663600" stroke="#663600" d="M196.3 298.2 198.3 291.1 199.3 283.6 197.1 289.6Z"/>
<path fill="#723c06" stroke="#723c06" d="M198.3 291.1 200.7 286.7 201.9 280 199.3 283.6Z"/>
<path fill="#84480c" stroke="#84480c" d="M200.7 286.7 203.5 285.2 204.6 277.1 201.9 280Z"/>
<path fill="#90540c" stroke="#90540c" d="M203.5 285.2 206.4 285.7 207.5 274.6 204.6 277.1Z"/>
<path fill="#a86012" stroke="#a86012" d="M206.4 285.7 209.4 288.5 210.8 273.9 207.5 274.6Z"/>
<path fill="#cc781e" stroke="#cc781e" d="M209.4 288.5 212.4 294.8 214.1 278.6 210.8 273.9Z"/>
<path fill="#ea8a24" stroke="#ea8a24" d="M212.4 294.8 215.4 304.6 216.8 290.5 214.1 278.6Z"/>
<path fill="#f09024" stroke="#f09024" d="M215.4 304.6 219.5 316.8 219.7 303.2 216.8 290.5Z"/>
<path fill="#f0902a" stroke="#f0902a" d="M219.5 316.8 224.3 329 224 315.3 219.7 303.2Z"/>
<path fill="#f6902a" stroke="#f6902a" d="M224.3 329 228.7 338.9 229.1 326 224 315.3Z"/>
<path fill="#f6962a" stroke="#f6962a" d="M228.7 338.9 232.1 346.9 233.9 335.4 229.1 326Z"/>
<path fill="#fca230" stroke="#fca230" d="M232.1 346.9 235 354.4 237.5 344.7 233.9 335.4Z"/>
<path fill="#fcae36" stroke="#fcae36" d="M235 354.4 237.8 362.1 240.1 354.1 237.5 344.7Z"/>
<path fill="#fcba36" stroke="#fcba36" d="M237.8 362.1 241 369.7 242.7 362.7 240.1 354.1Z"/>
<path fill="#fcd242" stroke="#fcd242" d="M241 369.7 244.8 376.4 245.8 371.8 245.6 369.2 242.7 362.7Z"/>
<path fill="#6696de" stroke="#6696de" d="M245.8 371.9 246.1 369.6 245.6 369.1Z"/>
<path fill="#fcde4e" stroke="#fcde4e" d="M244.8 376.4 247.3 379.9 245.8 371.8Z"/>
<path fill="#72a8f0" stroke="#72a8f0" d="M247.3 379.8 248.8 381 249.7 373.8 246.1 369.6 245.8 371.9Z"/>
<path fill="#7ebafc" stroke="#7ebafc" d="M248.8 381 252.8 384.3 253.6 378 249.7 373.8Z"/>
<path fill="#90d2fc" stroke="#90d2fc" d="M252.8 384.3 256.8 387.4 257.7 381.8 253.6 378Z"/>
<path fill="#96defc" stroke="#96defc" d="M256.8 387.4 260.8 390.2 261.7 384.9 257.7 381.8Z"/>
<path fill="#9ce4fc" stroke="#9ce4fc" d="M260.8 390.2 264.8 392.7 265.8 387.7 261.7 384.9Z"/>
<path fill="#a2f0fc" stroke="#a2f0fc" d="M264.8 392.7 268.7 395 269.8 390.5 265.8 387.7Z"/>
<path fill="#aefcfc" stroke="#aefcfc" d="M268.7 395 272.6 397.2 273.9 393.3 269.8 390.5ZM272.6 397.2 276.3 399.4 277.9 395.9 273.9 393.3ZM276.3 399.4 280 401.4 281.7 398.3 277.9 395.9Z"/>
<path fill="#a2f6fc" stroke="#a2f6fc" d="M280 401.4 283.4 403.1 285.2 400.3 281.7 398.3Z"/>
<path fill="#96eafc" stroke="#96eafc" d="M283.4 403.1 286.5 404.6 286.7 404.6 288.5 402 285.2 400.3Z"/>
<path fill="#8ac030" stroke="#8ac030" d="M286.5 404.6 286.6 404.7 286.7 404.5Z"/>
<path fill="#96e4fc" stroke="#96e4fc" d="M290.1 402.9 288.5 402 286.7 404.6Z"/>
<path fill="#8ac630" stroke="#8ac630" d="M286.6 404.7 289.6 406 291.4 403.5 290.1 402.9 286.7 404.5ZM289.6 406 291.5 407.3 294.1 404.9 291.4 403.5ZM291.5 407.3 293.4 408.6 296.5 406.2 294.1 404.9ZM293.4 408.6 295.5 409.9 298.3 407.5 296.5 406.2Z"/>
<path fill="#8ac02a" stroke="#8ac02a" d="M295.5 409.9 297.6 411.2 300 408.9 298.3 407.5ZM297.6 411.2 299.9 412.5 301.9 410.2 300 408.9Z"/>
<path fill="#84c02a" stroke="#84c02a" d="M299.9 412.5 302.2 413.7 302.4 413.6 304.1 411.5 301.9 410.2Z"/>
<path fill="#84ba2a" stroke="#84ba2a" d="M306.5 413 306.6 412.8 304.1 411.5 302.4 413.6Z"/>
<path fill="#84ba24" stroke="#84ba24" d="M306.9 412.9 306.6 412.8 306.5 413Z"/>
<path fill="#fc961e" stroke="#fc961e" d="M140.4 358.6 143 359.4 144.9 357.5 143.1 357Z"/>
<path fill="#fc9618" stroke="#fc9618" d="M143 359.4 145.8 360.2 147.8 358.3 144.9 357.5Z"/>
<path fill="#fc9018" stroke="#fc9018" d="M145.8 360.2 148.7 360.9 150.6 359 147.8 358.3Z"/>
<path fill="#f08a12" stroke="#f08a12" d="M148.7 360.9 151.5 361.4 153.4 359.6 150.6 359Z"/>
<path fill="#e47e12" stroke="#e47e12" d="M151.5 361.4 154.3 361.8 156.2 360.1 153.4 359.6Z"/>
<path fill="#cc720c" stroke="#cc720c" d="M154.3 361.8 157.1 361.9 159.1 360.3 156.2 360.1Z"/>
<path fill="#ba6606" stroke="#ba6606" d="M157.1 361.9 159.9 361.8 161.8 360.1 159.1 360.3Z"/>
<path fill="#a85a06" stroke="#a85a06" d="M159.9 361.8 162.6 361.3 164.6 359.5 161.8 360.1Z"/>
<path fill="#964e06" stroke="#964e06" d="M162.6 361.3 165.4 360.2 167.3 358.3 164.6 359.5Z"/>
<path fill="#8a4800" stroke="#8a4800" d="M165.4 360.2 168.1 358.6 170 356.8 167.3 358.3Z"/>
<path fill="#7e4200" stroke="#7e4200" d="M168.1 358.6 170.7 356.5 172.7 354.8 170 356.8Z"/>
<path fill="#723c00" stroke="#723c00" d="M170.7 356.5 173.4 353.9 175.4 352.2 172.7 354.8Z"/>
<path fill="#663600" stroke="#663600" d="M173.4 353.9 176 350.3 177.9 348.2 175.4 352.2Z"/>
<path fill="#603000" stroke="#603000" d="M176 350.3 178.5 345.3 180.4 342.4 177.9 348.2Z"/>
<path fill="#5a3000" stroke="#5a3000" d="M178.5 345.3 181 338.7 182.9 335.2 180.4 342.4ZM181 338.7 183.5 331.8 185.4 327.7 182.9 335.2Z"/>
<path fill="#603000" stroke="#603000" d="M183.5 331.8 186.2 325.7 188.1 320.7 185.4 327.7Z"/>
<path fill="#663600" stroke="#663600" d="M186.2 325.7 189 320.6 190.9 313.8 188.1 320.7ZM189 320.6 191.9 315.5 193.8 306.3 190.9 313.8Z"/>
<path fill="#603600" stroke="#603600" d="M191.9 315.5 194.8 309.2 196.3 298.2 193.8 306.3ZM194.8 309.2 197.6 302.5 198.3 291.1 196.3 298.2Z"/>
<path fill="#663606" stroke="#663606" d="M197.6 302.5 200 297.6 200.7 286.7 198.3 291.1Z"/>
<path fill="#90540c" stroke="#90540c" d="M200 297.6 202.7 296.8 203.5 285.2 200.7 286.7Z"/>
<path fill="#ba6c18" stroke="#ba6c18" d="M202.7 296.8 205.6 299.9 206.4 285.7 203.5 285.2Z"/>
<path fill="#c07218" stroke="#c07218" d="M205.6 299.9 208.5 305.5 209.4 288.5 206.4 285.7Z"/>
<path fill="#c67218" stroke="#c67218" d="M208.5 305.5 211.6 312.4 212.4 294.8 209.4 288.5Z"/>
<path fill="#d87e1e" stroke="#d87e1e" d="M211.6 312.4 215.2 321 215.4 304.6 212.4 294.8Z"/>
<path fill="#ea8a24" stroke="#ea8a24" d="M215.2 321 219.4 331 219.5 316.8 215.4 304.6Z"/>
<path fill="#f6902a" stroke="#f6902a" d="M219.4 331 223.5 341.2 224.3 329 219.5 316.8Z"/>
<path fill="#fc962a" stroke="#fc962a" d="M223.5 341.2 226.9 350.2 228.7 338.9 224.3 329Z"/>
<path fill="#fc9c2a" stroke="#fc9c2a" d="M226.9 350.2 229.9 357.6 232.1 346.9 228.7 338.9Z"/>
<path fill="#fca230" stroke="#fca230" d="M229.9 357.6 232.8 364 235 354.4 232.1 346.9Z"/>
<path fill="#fcae36" stroke="#fcae36" d="M232.8 364 236.1 370.3 237.8 362.1 235 354.4Z"/>
<path fill="#fcba3c" stroke="#fcba3c" d="M236.1 370.3 239.7 376.6 241 369.7 237.8 362.1Z"/>
<path fill="#fccc42" stroke="#fccc42" d="M239.7 376.6 243.7 382.3 244.8 376.4 241 369.7Z"/>
<path fill="#fcea54" stroke="#fcea54" d="M243.7 382.3 247.9 387 248.1 386.3 247.3 379.9 244.8 376.4Z"/>
<path fill="#78b4fc" stroke="#78b4fc" d="M248.1 386.3 248.8 381 247.3 379.8Z"/>
<path fill="#fcfc5a" stroke="#fcfc5a" d="M247.9 387 248.5 387.5 248.1 386.3Z"/>
<path fill="#84c0fc" stroke="#84c0fc" d="M248.4 387.5 251.8 389.7 252.8 384.3 248.8 381 248.1 386.3Z"/>
<path fill="#96defc" stroke="#96defc" d="M251.8 389.7 255.8 392.2 256.8 387.4 252.8 384.3Z"/>
<path fill="#a2eafc" stroke="#a2eafc" d="M255.8 392.2 259.7 394.6 260.8 390.2 256.8 387.4Z"/>
<path fill="#a8f0fc" stroke="#a8f0fc" d="M259.7 394.6 263.5 396.8 264.8 392.7 260.8 390.2Z"/>
<path fill="#a8f6fc" stroke="#a8f6fc" d="M263.5 396.8 267.3 398.9 268.7 395 264.8 392.7ZM267.3 398.9 271 400.7 272.6 397.2 268.7 395ZM271 400.7 274.6 402.5 276.3 399.4 272.6 397.2Z"/>
<path fill="#a2f0fc" stroke="#a2f0fc" d="M274.6 402.5 278.1 404.2 280 401.4 276.3 399.4Z"/>
<path fill="#96e4fc" stroke="#96e4fc" d="M278.1 404.2 281.5 405.7 283.4 403.1 280 401.4Z"/>
<path fill="#90defc" stroke="#90defc" d="M281.5 405.7 283.3 406.9 286.5 404.6 283.4 403.1Z"/>
<path fill="#8ac02a" stroke="#8ac02a" d="M283.4 406.9 283.8 407.1 286.6 404.7 286.5 404.6ZM283.8 407.1 286.3 408.4 289.6 406 286.6 404.7ZM286.3 408.4 288.5 409.7 291.5 407.3 289.6 406ZM288.5 409.7 290.6 411 293.4 408.6 291.5 407.3ZM290.6 411 292.8 412.3 295.5 409.9 293.4 408.6ZM292.8 412.3 295.2 413.5 297.6 411.2 295.5 409.9Z"/>
<path fill="#84ba2a" stroke="#84ba2a" d="M295.2 413.5 295.3 413.6 298.6 413.9 299.9 412.5 297.6 411.2ZM302.2 413.7 299.9 412.5 298.6 413.9Z"/>
<path fill="#fc961e" stroke="#fc961e" d="M137.8 360.3 138.2 360.4 139.4 359.2ZM138.2 360.4 141 361.3 143 359.4 140.4 358.6 139.4 359.2Z"/>
<path fill="#fc9618" stroke="#fc9618" d="M141 361.3 143.9 362.1 145.8 360.2 143 359.4Z"/>
<path fill="#fc9018" stroke="#fc9018" d="M143.9 362.1 146.7 362.8 148.7 360.9 145.8 360.2Z"/>
<path fill="#f08412" stroke="#f08412" d="M146.7 362.8 149.5 363.3 151.5 361.4 148.7 360.9Z"/>
<path fill="#de7e12" stroke="#de7e12" d="M149.5 363.3 152.3 363.6 154.3 361.8 151.5 361.4Z"/>
<path fill="#cc720c" stroke="#cc720c" d="M152.3 363.6 155.1 363.7 157.1 361.9 154.3 361.8Z"/>
<path fill="#c0660c" stroke="#c0660c" d="M155.1 363.7 157.9 363.6 159.9 361.8 157.1 361.9Z"/>
<path fill="#b46006" stroke="#b46006" d="M157.9 363.6 160.7 363.3 162.6 361.3 159.9 361.8Z"/>
<path fill="#a25406" stroke="#a25406" d="M160.7 363.3 163.4 362.5 165.4 360.2 162.6 361.3Z"/>
<path fill="#8a4806" stroke="#8a4806" d="M163.4 362.5 166.1 361 168.1 358.6 165.4 360.2Z"/>
<path fill="#7e4200" stroke="#7e4200" d="M166.1 361 168.8 358.8 170.7 356.5 168.1 358.6Z"/>
<path fill="#723c00" stroke="#723c00" d="M168.8 358.8 171.5 356.1 173.4 353.9 170.7 356.5Z"/>
<path fill="#663600" stroke="#663600" d="M171.5 356.1 174.1 352.8 176 350.3 173.4 353.9Z"/>
<path fill="#603600" stroke="#603600" d="M174.1 352.8 176.7 348.7 178.5 345.3 176 350.3Z"/>
<path fill="#603000" stroke="#603000" d="M176.7 348.7 179.2 343.6 181 338.7 178.5 345.3ZM179.2 343.6 181.8 337.9 183.5 331.8 181 338.7Z"/>
<path fill="#663600" stroke="#663600" d="M181.8 337.9 184.4 332.6 186.2 325.7 183.5 331.8Z"/>
<path fill="#6c3600" stroke="#6c3600" d="M184.4 332.6 187.2 328.4 189 320.6 186.2 325.7Z"/>
<path fill="#6c3c06" stroke="#6c3c06" d="M187.2 328.4 190 324.8 191.9 315.5 189 320.6Z"/>
<path fill="#663600" stroke="#663600" d="M190 324.8 192.9 320.7 194.8 309.2 191.9 315.5ZM192.9 320.7 195.8 315.8 197.6 302.5 194.8 309.2Z"/>
<path fill="#663606" stroke="#663606" d="M195.8 315.8 198.7 311.9 200 297.6 197.6 302.5Z"/>
<path fill="#904e0c" stroke="#904e0c" d="M198.7 311.9 201.5 311.5 202.7 296.8 200 297.6Z"/>
<path fill="#c06c18" stroke="#c06c18" d="M201.5 311.5 204.5 315.4 205.6 299.9 202.7 296.8Z"/>
<path fill="#cc781e" stroke="#cc781e" d="M204.5 315.4 207.7 322.3 208.5 305.5 205.6 299.9ZM207.7 322.3 211.2 330 211.6 312.4 208.5 305.5Z"/>
<path fill="#d2781e" stroke="#d2781e" d="M211.2 330 214.8 337.4 215.2 321 211.6 312.4Z"/>
<path fill="#de8424" stroke="#de8424" d="M214.8 337.4 218.4 344.8 219.4 331 215.2 321Z"/>
<path fill="#f0902a" stroke="#f0902a" d="M218.4 344.8 221.7 352.4 223.5 341.2 219.4 331Z"/>
<path fill="#fc9c30" stroke="#fc9c30" d="M221.7 352.4 224.8 360 226.9 350.2 223.5 341.2Z"/>
<path fill="#fca230" stroke="#fca230" d="M224.8 360 228 366.9 229.9 357.6 226.9 350.2Z"/>
<path fill="#fca830" stroke="#fca830" d="M228 366.9 231.3 372.8 232.8 364 229.9 357.6Z"/>
<path fill="#fcae36" stroke="#fcae36" d="M231.3 372.8 234.9 378.1 236.1 370.3 232.8 364Z"/>
<path fill="#fcba3c" stroke="#fcba3c" d="M234.9 378.1 238.7 383.1 239.7 376.6 236.1 370.3Z"/>
<path fill="#fcd248" stroke="#fcd248" d="M238.7 383.1 242.7 387.7 243.7 382.3 239.7 376.6Z"/>
<path fill="#fcea54" stroke="#fcea54" d="M242.7 387.7 246.8 391.6 247.9 387 243.7 382.3Z"/>
<path fill="#fcfc5a" stroke="#fcfc5a" d="M246.8 391.6 249.5 393.7 248.5 387.5 247.9 387Z"/>
<path fill="#96d2fc" stroke="#96d2fc" d="M249.4 393.6 250.7 394.3 251.8 389.7 248.4 387.5Z"/>
<path fill="#9ce4fc" stroke="#9ce4fc" d="M250.7 394.3 254.5 396.3 255.8 392.2 251.8 389.7Z"/>
<path fill="#a8f0fc" stroke="#a8f0fc" d="M254.5 396.3 258.2 398.4 259.7 394.6 255.8 392.2ZM258.2 398.4 262 400.4 263.5 396.8 259.7 394.6Z"/>
<path fill="#a2f0fc" stroke="#a2f0fc" d="M262 400.4 265.6 402.2 267.3 398.9 263.5 396.8ZM265.6 402.2 269.2 403.9 271 400.7 267.3 398.9Z"/>
<path fill="#9ceafc" stroke="#9ceafc" d="M269.2 403.9 272.7 405.4 274.6 402.5 271 400.7Z"/>
<path fill="#96defc" stroke="#96defc" d="M272.7 405.4 276.1 406.8 278.1 404.2 274.6 402.5Z"/>
<path fill="#8ad8fc" stroke="#8ad8fc" d="M276.1 406.8 278.3 408.2 281.5 405.7 278.1 404.2Z"/>
<path fill="#84d2fc" stroke="#84d2fc" d="M278.3 408.2 280.3 409.4 283.3 406.9 281.5 405.7Z"/>
<path fill="#84ba2a" stroke="#84ba2a" d="M280.3 409.4 280.6 409.5 283.8 407.1 283.4 406.9ZM280.6 409.5 283.2 410.7 286.3 408.4 283.8 407.1Z"/>
<path fill="#8ac02a" stroke="#8ac02a" d="M283.2 410.7 285.6 412 288.5 409.7 286.3 408.4ZM285.6 412 287.9 413.3 290.6 411 288.5 409.7Z"/>
<path fill="#84c02a" stroke="#84c02a" d="M287.9 413.3 288.7 413.7 291.5 413.5 292.8 412.3 290.6 411Z"/>
<path fill="#84ba2a" stroke="#84ba2a" d="M295.2 413.5 295.2 413.5 292.8 412.3 291.5 413.5ZM295.3 413.6 295.2 413.5 295.2 413.5Z"/>
<path fill="#fc961e" stroke="#fc961e" d="M135.7 362.1 136.2 362.3 138.2 360.4 137.8 360.3ZM136.2 362.3 139 363.1 141 361.3 138.2 360.4Z"/>
<path fill="#fc9618" stroke="#fc9618" d="M139 363.1 141.9 363.9 143.9 362.1 141 361.3Z"/>
<path fill="#fc9018" stroke="#fc9018" d="M141.9 363.9 144.7 364.6 146.7 362.8 143.9 362.1Z"/>
<path fill="#f08412" stroke="#f08412" d="M144.7 364.6 147.5 365.2 149.5 363.3 146.7 362.8Z"/>
<path fill="#de7e12" stroke="#de7e12" d="M147.5 365.2 150.4 365.5 152.3 363.6 149.5 363.3Z"/>
<path fill="#d2720c" stroke="#d2720c" d="M150.4 365.5 153.2 365.7 155.1 363.7 152.3 363.6Z"/>
<path fill="#c66c0c" stroke="#c66c0c" d="M153.2 365.7 156 365.7 157.9 363.6 155.1 363.7Z"/>
<path fill="#ba660c" stroke="#ba660c" d="M156 365.7 158.8 365.5 160.7 363.3 157.9 363.6Z"/>
<path fill="#ae6006" stroke="#ae6006" d="M158.8 365.5 161.5 364.9 163.4 362.5 160.7 363.3Z"/>
<path fill="#964e06" stroke="#964e06" d="M161.5 364.9 164.3 363.7 166.1 361 163.4 362.5Z"/>
<path fill="#7e4200" stroke="#7e4200" d="M164.3 363.7 166.9 361.7 168.8 358.8 166.1 361Z"/>
<path fill="#723c00" stroke="#723c00" d="M166.9 361.7 169.6 359 171.5 356.1 168.8 358.8Z"/>
<path fill="#6c3600" stroke="#6c3600" d="M169.6 359 172.2 355.9 174.1 352.8 171.5 356.1ZM172.2 355.9 174.8 352.7 176.7 348.7 174.1 352.8Z"/>
<path fill="#663600" stroke="#663600" d="M174.8 352.7 177.5 349.2 179.2 343.6 176.7 348.7ZM177.5 349.2 180.1 345.2 181.8 337.9 179.2 343.6ZM180.1 345.2 182.8 340.9 184.4 332.6 181.8 337.9Z"/>
<path fill="#6c3c06" stroke="#6c3c06" d="M182.8 340.9 185.5 337.2 187.2 328.4 184.4 332.6ZM185.5 337.2 188.4 334.3 190 324.8 187.2 328.4Z"/>
<path fill="#723c06" stroke="#723c06" d="M188.4 334.3 191.2 331.9 192.9 320.7 190 324.8Z"/>
<path fill="#6c3c06" stroke="#6c3c06" d="M191.2 331.9 194.1 329.5 195.8 315.8 192.9 320.7Z"/>
<path fill="#724206" stroke="#724206" d="M194.1 329.5 197.1 327.7 198.7 311.9 195.8 315.8Z"/>
<path fill="#904e0c" stroke="#904e0c" d="M197.1 327.7 200.1 328.1 201.5 311.5 198.7 311.9Z"/>
<path fill="#b46c18" stroke="#b46c18" d="M200.1 328.1 203.3 331.7 204.5 315.4 201.5 311.5Z"/>
<path fill="#cc781e" stroke="#cc781e" d="M203.3 331.7 206.7 338.2 207.7 322.3 204.5 315.4Z"/>
<path fill="#d87e1e" stroke="#d87e1e" d="M206.7 338.2 210.1 345.4 211.2 330 207.7 322.3ZM210.1 345.4 213.5 351.8 214.8 337.4 211.2 330Z"/>
<path fill="#de8424" stroke="#de8424" d="M213.5 351.8 216.7 357.5 218.4 344.8 214.8 337.4Z"/>
<path fill="#f0902a" stroke="#f0902a" d="M216.7 357.5 219.9 363 221.7 352.4 218.4 344.8Z"/>
<path fill="#fc9c30" stroke="#fc9c30" d="M219.9 363 223.1 369 224.8 360 221.7 352.4Z"/>
<path fill="#fca836" stroke="#fca836" d="M223.1 369 226.5 375 228 366.9 224.8 360Z"/>
<path fill="#fcae36" stroke="#fcae36" d="M226.5 375 230.1 380.4 231.3 372.8 228 366.9Z"/>
<path fill="#fcb43c" stroke="#fcb43c" d="M230.1 380.4 233.9 385.1 234.9 378.1 231.3 372.8Z"/>
<path fill="#fcc642" stroke="#fcc642" d="M233.9 385.1 237.7 389 238.7 383.1 234.9 378.1Z"/>
<path fill="#fcd84e" stroke="#fcd84e" d="M237.7 389 241.6 392.5 242.7 387.7 238.7 383.1Z"/>
<path fill="#fcea5a" stroke="#fcea5a" d="M241.6 392.5 245.5 395.6 246.8 391.6 242.7 387.7Z"/>
<path fill="#fcfc5a" stroke="#fcfc5a" d="M245.5 395.6 249.4 398.2 249.6 397.6 249.5 393.7 246.8 391.6Z"/>
<path fill="#96defc" stroke="#96defc" d="M249.6 397.6 250.7 394.3 249.4 393.6Z"/>
<path fill="#fcf65a" stroke="#fcf65a" d="M249.4 398.2 250 398.6 249.6 397.6Z"/>
<path fill="#9ce4fc" stroke="#9ce4fc" d="M250 398.6 253 400 254.5 396.3 250.7 394.3 249.6 397.6Z"/>
<path fill="#a2eafc" stroke="#a2eafc" d="M253 400 256.6 401.7 258.2 398.4 254.5 396.3ZM256.6 401.7 260.2 403.5 262 400.4 258.2 398.4Z"/>
<path fill="#9ce4fc" stroke="#9ce4fc" d="M260.2 403.5 263.8 405.1 265.6 402.2 262 400.4Z"/>
<path fill="#96defc" stroke="#96defc" d="M263.8 405.1 267.3 406.6 269.2 403.9 265.6 402.2Z"/>
<path fill="#90d8fc" stroke="#90d8fc" d="M267.3 406.6 269.8 408 272.7 405.4 269.2 403.9Z"/>
<path fill="#8ad2fc" stroke="#8ad2fc" d="M269.8 408 272.5 409.2 276.1 406.8 272.7 405.4Z"/>
<path fill="#84ccfc" stroke="#84ccfc" d="M272.5 409.2 275.2 410.5 278.3 408.2 276.1 406.8Z"/>
<path fill="#7eccfc" stroke="#7eccfc" d="M275.2 410.5 277.7 411.8 279.4 410.4 280.3 409.4 278.3 408.2Z"/>
<path fill="#84ba2a" stroke="#84ba2a" d="M279.4 410.4 280.6 409.5 280.3 409.4Z"/>
<path fill="#7ec6fc" stroke="#7ec6fc" d="M277.7 411.8 278.6 412.2 279.4 410.4Z"/>
<path fill="#84ba2a" stroke="#84ba2a" d="M278.6 412.2 280.3 413 283.2 410.7 280.6 409.5 279.4 410.4ZM280.3 413 282.7 414.2 282.9 414.2 285.6 412 283.2 410.7ZM287.2 413.9 287.9 413.3 285.6 412 282.9 414.2ZM288.7 413.7 287.9 413.3 287.2 413.9Z"/>
<path fill="#fc961e" stroke="#fc961e" d="M133.9 364.1 134.2 364.2 136.2 362.3 135.7 362.1Z"/>
<path fill="#fc9618" stroke="#fc9618" d="M134.2 364.2 137.1 365 139 363.1 136.2 362.3Z"/>
<path fill="#fc9018" stroke="#fc9018" d="M137.1 365 139.9 365.8 141.9 363.9 139 363.1ZM139.9 365.8 142.7 366.5 144.7 364.6 141.9 363.9Z"/>
<path fill="#f08a18" stroke="#f08a18" d="M142.7 366.5 145.6 367.1 147.5 365.2 144.7 364.6Z"/>
<path fill="#e48412" stroke="#e48412" d="M145.6 367.1 148.4 367.6 150.4 365.5 147.5 365.2Z"/>
<path fill="#d87812" stroke="#d87812" d="M148.4 367.6 151.2 367.8 153.2 365.7 150.4 365.5Z"/>
<path fill="#d27212" stroke="#d27212" d="M151.2 367.8 154 367.9 156 365.7 153.2 365.7Z"/>
<path fill="#c66c0c" stroke="#c66c0c" d="M154 367.9 156.8 367.8 158.8 365.5 156 365.7Z"/>
<path fill="#ba660c" stroke="#ba660c" d="M156.8 367.8 159.6 367.5 161.5 364.9 158.8 365.5Z"/>
<path fill="#a25a06" stroke="#a25a06" d="M159.6 367.5 162.4 366.6 164.3 363.7 161.5 364.9Z"/>
<path fill="#844806" stroke="#844806" d="M162.4 366.6 165.1 365 166.9 361.7 164.3 363.7Z"/>
<path fill="#783c00" stroke="#783c00" d="M165.1 365 167.7 362.6 169.6 359 166.9 361.7Z"/>
<path fill="#723c00" stroke="#723c00" d="M167.7 362.6 170.4 359.8 172.2 355.9 169.6 359ZM170.4 359.8 173.1 357.2 174.8 352.7 172.2 355.9Z"/>
<path fill="#723c06" stroke="#723c06" d="M173.1 357.2 175.8 354.9 177.5 349.2 174.8 352.7ZM175.8 354.9 178.5 352.6 180.1 345.2 177.5 349.2Z"/>
<path fill="#6c3c06" stroke="#6c3c06" d="M178.5 352.6 181.3 349.7 182.8 340.9 180.1 345.2ZM181.3 349.7 184 346.6 185.5 337.2 182.8 340.9Z"/>
<path fill="#724206" stroke="#724206" d="M184 346.6 186.8 344.1 188.4 334.3 185.5 337.2Z"/>
<path fill="#84480c" stroke="#84480c" d="M186.8 344.1 189.7 342.7 191.2 331.9 188.4 334.3Z"/>
<path fill="#8a4e0c" stroke="#8a4e0c" d="M189.7 342.7 192.7 342.5 194.1 329.5 191.2 331.9ZM192.7 342.5 195.8 343.1 197.1 327.7 194.1 329.5Z"/>
<path fill="#96540c" stroke="#96540c" d="M195.8 343.1 198.9 344.6 200.1 328.1 197.1 327.7Z"/>
<path fill="#ae6612" stroke="#ae6612" d="M198.9 344.6 202.1 347.8 203.3 331.7 200.1 328.1Z"/>
<path fill="#cc781e" stroke="#cc781e" d="M202.1 347.8 205.3 352.6 206.7 338.2 203.3 331.7Z"/>
<path fill="#de8424" stroke="#de8424" d="M205.3 352.6 208.6 358.4 210.1 345.4 206.7 338.2Z"/>
<path fill="#e48a24" stroke="#e48a24" d="M208.6 358.4 211.9 363.8 213.5 351.8 210.1 345.4ZM211.9 363.8 215.1 368.4 216.7 357.5 213.5 351.8Z"/>
<path fill="#f0902a" stroke="#f0902a" d="M215.1 368.4 218.4 372.7 219.9 363 216.7 357.5Z"/>
<path fill="#fca230" stroke="#fca230" d="M218.4 372.7 221.8 377.3 223.1 369 219.9 363Z"/>
<path fill="#fcae3c" stroke="#fcae3c" d="M221.8 377.3 225.3 382.1 226.5 375 223.1 369Z"/>
<path fill="#fcba3c" stroke="#fcba3c" d="M225.3 382.1 229 386.8 230.1 380.4 226.5 375Z"/>
<path fill="#fcc648" stroke="#fcc648" d="M229 386.8 232.7 390.8 233.9 385.1 230.1 380.4Z"/>
<path fill="#fcd24e" stroke="#fcd24e" d="M232.7 390.8 236.5 394.1 237.7 389 233.9 385.1Z"/>
<path fill="#fce454" stroke="#fce454" d="M236.5 394.1 240.2 396.8 241.6 392.5 237.7 389Z"/>
<path fill="#fcf05a" stroke="#fcf05a" d="M240.2 396.8 244 399.2 245.5 395.6 241.6 392.5Z"/>
<path fill="#fcf054" stroke="#fcf054" d="M244 399.2 247.7 401.4 249.4 398.2 245.5 395.6Z"/>
<path fill="#fcea54" stroke="#fcea54" d="M247.7 401.4 250.8 403 250 398.6 249.4 398.2Z"/>
<path fill="#96defc" stroke="#96defc" d="M250.8 403 251.3 403.2 253 400 250 398.6ZM251.3 403.2 254.8 404.7 256.6 401.7 253 400ZM254.8 404.7 258.4 406.3 260.2 403.5 256.6 401.7Z"/>
<path fill="#90d8fc" stroke="#90d8fc" d="M258.4 406.3 261.5 407.7 263.8 405.1 260.2 403.5Z"/>
<path fill="#8ad2fc" stroke="#8ad2fc" d="M261.5 407.7 263.8 409.1 267.3 406.6 263.8 405.1Z"/>
<path fill="#84ccfc" stroke="#84ccfc" d="M263.8 409.1 266.5 410.4 269.8 408 267.3 406.6ZM266.5 410.4 268.1 411.1 270 411.1 272.5 409.2 269.8 408Z"/>
<path fill="#84ba24" stroke="#84ba24" d="M268.1 411.1 269.4 411.6 270 411.1Z"/>
<path fill="#7ec6fc" stroke="#7ec6fc" d="M272.3 412.8 275.2 410.5 272.5 409.2 270 411.1Z"/>
<path fill="#84ba24" stroke="#84ba24" d="M269.4 411.6 272.2 412.8 272.3 412.8 270 411.1Z"/>
<path fill="#7ec6fc" stroke="#7ec6fc" d="M272.4 412.9 275 414.1 277.7 411.8 275.2 410.5 272.3 412.8Z"/>
<path fill="#84ba2a" stroke="#84ba2a" d="M272.2 412.8 272.4 412.9 272.3 412.8Z"/>
<path fill="#7ec6fc" stroke="#7ec6fc" d="M275 414.1 275.7 414.4 278 414.1 278.6 412.2 277.7 411.8Z"/>
<path fill="#84ba2a" stroke="#84ba2a" d="M278.9 414.2 280.3 413 278.6 412.2 278 414.1ZM282.7 414.2 280.3 413 278.9 414.2Z"/>
<path fill="#fc961e" stroke="#fc961e" d="M132.1 366.1 132.2 366.1 134.2 364.2 133.9 364.1Z"/>
<path fill="#fc9618" stroke="#fc9618" d="M132.2 366.1 135.1 366.9 137.1 365 134.2 364.2Z"/>
<path fill="#fc9018" stroke="#fc9018" d="M135.1 366.9 137.9 367.6 139.9 365.8 137.1 365ZM137.9 367.6 140.8 368.4 142.7 366.5 139.9 365.8Z"/>
<path fill="#f68a18" stroke="#f68a18" d="M140.8 368.4 143.6 369 145.6 367.1 142.7 366.5Z"/>
<path fill="#f08a18" stroke="#f08a18" d="M143.6 369 146.4 369.6 148.4 367.6 145.6 367.1Z"/>
<path fill="#ea8418" stroke="#ea8418" d="M146.4 369.6 149.3 370.1 151.2 367.8 148.4 367.6Z"/>
<path fill="#de7e12" stroke="#de7e12" d="M149.3 370.1 152.1 370.3 154 367.9 151.2 367.8Z"/>
<path fill="#d27812" stroke="#d27812" d="M152.1 370.3 154.9 370.3 156.8 367.8 154 367.9Z"/>
<path fill="#c06c0c" stroke="#c06c0c" d="M154.9 370.3 157.7 370.1 159.6 367.5 156.8 367.8Z"/>
<path fill="#ae600c" stroke="#ae600c" d="M157.7 370.1 160.5 369.5 162.4 366.6 159.6 367.5Z"/>
<path fill="#964e06" stroke="#964e06" d="M160.5 369.5 163.2 368.4 165.1 365 162.4 366.6Z"/>
<path fill="#7e4806" stroke="#7e4806" d="M163.2 368.4 166 366.6 167.7 362.6 165.1 365Z"/>
<path fill="#784206" stroke="#784206" d="M166 366.6 168.6 364.5 170.4 359.8 167.7 362.6Z"/>
<path fill="#7e4206" stroke="#7e4206" d="M168.6 364.5 171.4 362.4 173.1 357.2 170.4 359.8Z"/>
<path fill="#844806" stroke="#844806" d="M171.4 362.4 174.1 360.9 175.8 354.9 173.1 357.2Z"/>
<path fill="#84480c" stroke="#84480c" d="M174.1 360.9 176.9 359.6 178.5 352.6 175.8 354.9Z"/>
<path fill="#784206" stroke="#784206" d="M176.9 359.6 179.7 358 181.3 349.7 178.5 352.6Z"/>
<path fill="#724206" stroke="#724206" d="M179.7 358 182.5 356 184 346.6 181.3 349.7Z"/>
<path fill="#784206" stroke="#784206" d="M182.5 356 185.4 354.1 186.8 344.1 184 346.6Z"/>
<path fill="#904e0c" stroke="#904e0c" d="M185.4 354.1 188.3 353.5 189.7 342.7 186.8 344.1Z"/>
<path fill="#a86012" stroke="#a86012" d="M188.3 353.5 191.3 354.4 192.7 342.5 189.7 342.7Z"/>
<path fill="#ae6612" stroke="#ae6612" d="M191.3 354.4 194.4 356.5 195.8 343.1 192.7 342.5ZM194.4 356.5 197.6 359.1 198.9 344.6 195.8 343.1Z"/>
<path fill="#b46c18" stroke="#b46c18" d="M197.6 359.1 200.7 361.9 202.1 347.8 198.9 344.6Z"/>
<path fill="#c6781e" stroke="#c6781e" d="M200.7 361.9 203.9 365.3 205.3 352.6 202.1 347.8Z"/>
<path fill="#de8424" stroke="#de8424" d="M203.9 365.3 207.2 369.3 208.6 358.4 205.3 352.6Z"/>
<path fill="#f0902a" stroke="#f0902a" d="M207.2 369.3 210.4 373.4 211.9 363.8 208.6 358.4Z"/>
<path fill="#f69630" stroke="#f69630" d="M210.4 373.4 213.7 377.4 215.1 368.4 211.9 363.8Z"/>
<path fill="#fc9c30" stroke="#fc9c30" d="M213.7 377.4 217.1 381.1 218.4 372.7 215.1 368.4Z"/>
<path fill="#fca236" stroke="#fca236" d="M217.1 381.1 220.5 384.8 221.8 377.3 218.4 372.7Z"/>
<path fill="#fcb43c" stroke="#fcb43c" d="M220.5 384.8 224 388.5 225.3 382.1 221.8 377.3Z"/>
<path fill="#fcc648" stroke="#fcc648" d="M224 388.5 227.7 392.2 229 386.8 225.3 382.1Z"/>
<path fill="#fcd84e" stroke="#fcd84e" d="M227.7 392.2 231.3 395.6 232.7 390.8 229 386.8Z"/>
<path fill="#fce454" stroke="#fce454" d="M231.3 395.6 235 398.3 236.5 394.1 232.7 390.8Z"/>
<path fill="#fcea54" stroke="#fcea54" d="M235 398.3 238.6 400.5 240.2 396.8 236.5 394.1ZM238.6 400.5 242.2 402.5 244 399.2 240.2 396.8Z"/>
<path fill="#fce44e" stroke="#fce44e" d="M242.2 402.5 245.8 404.3 247.7 401.4 244 399.2Z"/>
<path fill="#fcd842" stroke="#fcd842" d="M245.8 404.3 249.4 406 250.8 403.9 250.8 403 247.7 401.4Z"/>
<path fill="#90d8fc" stroke="#90d8fc" d="M250.9 403.9 251.3 403.2 250.8 403Z"/>
<path fill="#fcd23c" stroke="#fcd23c" d="M249.4 406 252.2 407.2 250.8 403.9Z"/>
<path fill="#8ad2fc" stroke="#8ad2fc" d="M252.2 407.2 252.9 407.5 254.8 404.7 251.3 403.2 250.9 403.9ZM252.9 407.5 255.6 408.8 258.4 406.3 254.8 404.7Z"/>
<path fill="#84ccfc" stroke="#84ccfc" d="M255.6 408.8 258.3 410.1 261.5 407.7 258.4 406.3Z"/>
<path fill="#7ec6fc" stroke="#7ec6fc" d="M258.3 410.1 261 411.4 263.8 409.1 261.5 407.7ZM261 411.4 263.7 412.7 266.5 410.4 263.8 409.1ZM263.7 412.7 264.6 413.1 268.1 411.1 266.5 410.4Z"/>
<path fill="#84b424" stroke="#84b424" d="M264.6 413.1 266.7 413.9 269.4 411.6 268.1 411.1Z"/>
<path fill="#84ba24" stroke="#84ba24" d="M266.7 413.9 268.9 414.8 270 414.8 272.2 412.8 269.4 411.6Z"/>
<path fill="#7ec6fc" stroke="#7ec6fc" d="M274.4 414.5 275 414.1 272.4 412.9 272.7 414.6Z"/>
<path fill="#84ba24" stroke="#84ba24" d="M272.7 414.6 272.4 412.9 272.2 412.8 270 414.8Z"/>
<path fill="#7ec6fc" stroke="#7ec6fc" d="M275.7 414.4 275 414.1 274.4 414.5Z"/>
<path fill="#fc961e" stroke="#fc961e" d="M130 368 130.2 368 132.2 366.1 132.1 366.1Z"/>
<path fill="#fc9618" stroke="#fc9618" d="M130.2 368 133.1 368.8 135.1 366.9 132.2 366.1Z"/>
<path fill="#fc9018" stroke="#fc9018" d="M133.1 368.8 135.9 369.6 137.9 367.6 135.1 366.9ZM135.9 369.6 138.8 370.3 140.8 368.4 137.9 367.6ZM138.8 370.3 141.6 371 143.6 369 140.8 368.4ZM141.6 371 144.5 371.8 146.4 369.6 143.6 369Z"/>
<path fill="#f69018" stroke="#f69018" d="M144.5 371.8 147.3 372.4 149.3 370.1 146.4 369.6Z"/>
<path fill="#ea8418" stroke="#ea8418" d="M147.3 372.4 150.2 372.8 152.1 370.3 149.3 370.1Z"/>
<path fill="#d87e12" stroke="#d87e12" d="M150.2 372.8 153 372.9 154.9 370.3 152.1 370.3Z"/>
<path fill="#c67212" stroke="#c67212" d="M153 372.9 155.8 372.7 157.7 370.1 154.9 370.3Z"/>
<path fill="#ba660c" stroke="#ba660c" d="M155.8 372.7 158.6 372.4 160.5 369.5 157.7 370.1Z"/>
<path fill="#a85a0c" stroke="#a85a0c" d="M158.6 372.4 161.4 371.7 163.2 368.4 160.5 369.5Z"/>
<path fill="#965406" stroke="#965406" d="M161.4 371.7 164.2 370.8 166 366.6 163.2 368.4Z"/>
<path fill="#8a4806" stroke="#8a4806" d="M164.2 370.8 166.9 369.4 168.6 364.5 166 366.6Z"/>
<path fill="#844806" stroke="#844806" d="M166.9 369.4 169.7 368 171.4 362.4 168.6 364.5Z"/>
<path fill="#904e0c" stroke="#904e0c" d="M169.7 368 172.5 366.9 174.1 360.9 171.4 362.4Z"/>
<path fill="#9c5a0c" stroke="#9c5a0c" d="M172.5 366.9 175.3 366.1 176.9 359.6 174.1 360.9Z"/>
<path fill="#96540c" stroke="#96540c" d="M175.3 366.1 178.2 365.4 179.7 358 176.9 359.6Z"/>
<path fill="#8a4e0c" stroke="#8a4e0c" d="M178.2 365.4 181 364.6 182.5 356 179.7 358ZM181 364.6 183.9 363.8 185.4 354.1 182.5 356Z"/>
<path fill="#9c5a0c" stroke="#9c5a0c" d="M183.9 363.8 186.9 363.7 188.3 353.5 185.4 354.1Z"/>
<path fill="#b46c18" stroke="#b46c18" d="M186.9 363.7 189.9 365 191.3 354.4 188.3 353.5Z"/>
<path fill="#c6781e" stroke="#c6781e" d="M189.9 365 193.1 367.6 194.4 356.5 191.3 354.4Z"/>
<path fill="#cc781e" stroke="#cc781e" d="M193.1 367.6 196.2 370.5 197.6 359.1 194.4 356.5Z"/>
<path fill="#c6781e" stroke="#c6781e" d="M196.2 370.5 199.4 373.3 200.7 361.9 197.6 359.1Z"/>
<path fill="#cc781e" stroke="#cc781e" d="M199.4 373.3 202.6 375.8 203.9 365.3 200.7 361.9Z"/>
<path fill="#de8424" stroke="#de8424" d="M202.6 375.8 205.8 378.4 207.2 369.3 203.9 365.3Z"/>
<path fill="#fc9630" stroke="#fc9630" d="M205.8 378.4 209 381.5 210.4 373.4 207.2 369.3Z"/>
<path fill="#fca836" stroke="#fca836" d="M209 381.5 212.4 384.8 213.7 377.4 210.4 373.4Z"/>
<path fill="#fcae3c" stroke="#fcae3c" d="M212.4 384.8 215.8 388 217.1 381.1 213.7 377.4Z"/>
<path fill="#fcb43c" stroke="#fcb43c" d="M215.8 388 219.2 391.1 220.5 384.8 217.1 381.1Z"/>
<path fill="#fcc042" stroke="#fcc042" d="M219.2 391.1 222.7 394.1 224 388.5 220.5 384.8Z"/>
<path fill="#fcd24e" stroke="#fcd24e" d="M222.7 394.1 226.2 396.9 227.7 392.2 224 388.5Z"/>
<path fill="#fce454" stroke="#fce454" d="M226.2 396.9 229.7 399.5 231.3 395.6 227.7 392.2Z"/>
<path fill="#fcea54" stroke="#fcea54" d="M229.7 399.5 233.3 401.8 235 398.3 231.3 395.6Z"/>
<path fill="#fce44e" stroke="#fce44e" d="M233.3 401.8 236.9 403.8 238.6 400.5 235 398.3Z"/>
<path fill="#fcd848" stroke="#fcd848" d="M236.9 403.8 240.4 405.4 242.2 402.5 238.6 400.5Z"/>
<path fill="#fcd242" stroke="#fcd242" d="M240.4 405.4 243.9 407 245.8 404.3 242.2 402.5Z"/>
<path fill="#fccc3c" stroke="#fccc3c" d="M243.9 407 247.3 408.5 249.4 406 245.8 404.3Z"/>
<path fill="#fcc636" stroke="#fcc636" d="M247.3 408.5 249.8 409.9 251.6 408.5 252.2 407.2 249.4 406Z"/>
<path fill="#84ccfc" stroke="#84ccfc" d="M251.6 408.5 252.9 407.5 252.2 407.2Z"/>
<path fill="#fcc030" stroke="#fcc030" d="M249.8 409.9 251 410.6 251.6 408.5Z"/>
<path fill="#7ec6fc" stroke="#7ec6fc" d="M251 410.6 252.6 411.2 255.6 408.8 252.9 407.5 251.6 408.5ZM252.6 411.2 255.5 412.5 258.3 410.1 255.6 408.8Z"/>
<path fill="#78c0fc" stroke="#78c0fc" d="M255.5 412.5 258.4 413.7 261 411.4 258.3 410.1ZM258.4 413.7 260.1 414.5 261.9 414.3 263.7 412.7 261 411.4Z"/>
<path fill="#78c6fc" stroke="#78c6fc" d="M264.2 414.1 264.6 413.1 263.7 412.7 261.9 414.3Z"/>
<path fill="#7eb424" stroke="#7eb424" d="M266 414.5 266.7 413.9 264.6 413.1 264.2 414.1Z"/>
<path fill="#84ba24" stroke="#84ba24" d="M268.9 414.8 266.7 413.9 266 414.5Z"/>
<path fill="#fc961e" stroke="#fc961e" d="M127.9 369.8 128.2 369.9 130.2 368 130 368Z"/>
<path fill="#fc9618" stroke="#fc9618" d="M128.2 369.9 131.1 370.8 133.1 368.8 130.2 368ZM131.1 370.8 133.9 371.6 135.9 369.6 133.1 368.8ZM133.9 371.6 136.8 372.3 138.8 370.3 135.9 369.6Z"/>
<path fill="#fc961e" stroke="#fc961e" d="M136.8 372.3 139.6 373.1 141.6 371 138.8 370.3ZM139.6 373.1 142.5 373.9 144.5 371.8 141.6 371ZM142.5 373.9 145.4 374.6 147.3 372.4 144.5 371.8Z"/>
<path fill="#f69018" stroke="#f69018" d="M145.4 374.6 148.2 375.2 150.2 372.8 147.3 372.4Z"/>
<path fill="#e48418" stroke="#e48418" d="M148.2 375.2 151.1 375.5 153 372.9 150.2 372.8Z"/>
<path fill="#d27812" stroke="#d27812" d="M151.1 375.5 153.9 375.5 155.8 372.7 153 372.9Z"/>
<path fill="#c06c12" stroke="#c06c12" d="M153.9 375.5 156.7 375.3 158.6 372.4 155.8 372.7Z"/>
<path fill="#ba6c12" stroke="#ba6c12" d="M156.7 375.3 159.5 375 161.4 371.7 158.6 372.4Z"/>
<path fill="#b46612" stroke="#b46612" d="M159.5 375 162.4 374.7 164.2 370.8 161.4 371.7Z"/>
<path fill="#a25a0c" stroke="#a25a0c" d="M162.4 374.7 165.2 374.2 166.9 369.4 164.2 370.8Z"/>
<path fill="#9c540c" stroke="#9c540c" d="M165.2 374.2 168 373.5 169.7 368 166.9 369.4Z"/>
<path fill="#9c5a0c" stroke="#9c5a0c" d="M168 373.5 170.8 372.7 172.5 366.9 169.7 368Z"/>
<path fill="#a86012" stroke="#a86012" d="M170.8 372.7 173.7 372.2 175.3 366.1 172.5 366.9Z"/>
<path fill="#b46612" stroke="#b46612" d="M173.7 372.2 176.6 372 178.2 365.4 175.3 366.1Z"/>
<path fill="#ae6612" stroke="#ae6612" d="M176.6 372 179.5 372.1 181 364.6 178.2 365.4Z"/>
<path fill="#a86012" stroke="#a86012" d="M179.5 372.1 182.5 372.4 183.9 363.8 181 364.6Z"/>
<path fill="#ae6612" stroke="#ae6612" d="M182.5 372.4 185.4 373 186.9 363.7 183.9 363.8Z"/>
<path fill="#c67218" stroke="#c67218" d="M185.4 373 188.5 374.4 189.9 365 186.9 363.7Z"/>
<path fill="#de8424" stroke="#de8424" d="M188.5 374.4 191.6 376.6 193.1 367.6 189.9 365Z"/>
<path fill="#ea8a2a" stroke="#ea8a2a" d="M191.6 376.6 194.8 379.3 196.2 370.5 193.1 367.6Z"/>
<path fill="#e48a2a" stroke="#e48a2a" d="M194.8 379.3 198 381.8 199.4 373.3 196.2 370.5Z"/>
<path fill="#e48a24" stroke="#e48a24" d="M198 381.8 201.2 383.9 202.6 375.8 199.4 373.3Z"/>
<path fill="#ea902a" stroke="#ea902a" d="M201.2 383.9 204.4 385.9 205.8 378.4 202.6 375.8Z"/>
<path fill="#fca236" stroke="#fca236" d="M204.4 385.9 207.6 388.2 209 381.5 205.8 378.4Z"/>
<path fill="#fcb43c" stroke="#fcb43c" d="M207.6 388.2 210.9 390.9 212.4 384.8 209 381.5Z"/>
<path fill="#fcc042" stroke="#fcc042" d="M210.9 390.9 214.3 393.7 215.8 388 212.4 384.8Z"/>
<path fill="#fcc648" stroke="#fcc648" d="M214.3 393.7 217.7 396.3 219.2 391.1 215.8 388Z"/>
<path fill="#fcd24e" stroke="#fcd24e" d="M217.7 396.3 221.1 398.7 222.7 394.1 219.2 391.1Z"/>
<path fill="#fcde54" stroke="#fcde54" d="M221.1 398.7 224.5 400.9 226.2 396.9 222.7 394.1Z"/>
<path fill="#fce454" stroke="#fce454" d="M224.5 400.9 228 402.9 229.7 399.5 226.2 396.9Z"/>
<path fill="#fcde4e" stroke="#fcde4e" d="M228 402.9 231.5 404.8 233.3 401.8 229.7 399.5Z"/>
<path fill="#fcd848" stroke="#fcd848" d="M231.5 404.8 235 406.6 236.9 403.8 233.3 401.8Z"/>
<path fill="#fccc3c" stroke="#fccc3c" d="M235 406.6 238.5 408.1 240.4 405.4 236.9 403.8Z"/>
<path fill="#fcc63c" stroke="#fcc63c" d="M238.5 408.1 241.6 409.6 243.9 407 240.4 405.4Z"/>
<path fill="#fcc036" stroke="#fcc036" d="M241.6 409.6 244.4 410.9 247.3 408.5 243.9 407Z"/>
<path fill="#fcc030" stroke="#fcc030" d="M244.4 410.9 247.1 412.3 249.8 409.9 247.3 408.5Z"/>
<path fill="#fcba30" stroke="#fcba30" d="M247.1 412.3 249.1 413.3 251 410.6 249.8 409.9Z"/>
<path fill="#78c0fc" stroke="#78c0fc" d="M249.1 413.3 249.8 413.6 252.6 411.2 251 410.6ZM249.8 413.6 251.9 414.4 253.1 414.5 255.5 412.5 252.6 411.2ZM257.2 414.8 258.4 413.7 255.5 412.5 253.1 414.5ZM260.1 414.5 258.4 413.7 257.2 414.8Z"/>
<path fill="#fc961e" stroke="#fc961e" d="M125.9 371.8 126.2 371.9 128.2 369.9 127.9 369.8ZM126.2 371.9 129.1 372.8 131.1 370.8 128.2 369.9ZM129.1 372.8 131.9 373.6 133.9 371.6 131.1 370.8ZM131.9 373.6 134.8 374.5 136.8 372.3 133.9 371.6ZM134.8 374.5 137.7 375.3 139.6 373.1 136.8 372.3ZM137.7 375.3 140.5 376 142.5 373.9 139.6 373.1ZM140.5 376 143.4 376.8 145.4 374.6 142.5 373.9Z"/>
<path fill="#fc901e" stroke="#fc901e" d="M143.4 376.8 146.3 377.5 148.2 375.2 145.4 374.6Z"/>
<path fill="#f08a18" stroke="#f08a18" d="M146.3 377.5 149.1 378 151.1 375.5 148.2 375.2Z"/>
<path fill="#de7e18" stroke="#de7e18" d="M149.1 378 152 378.2 153.9 375.5 151.1 375.5Z"/>
<path fill="#d27812" stroke="#d27812" d="M152 378.2 154.8 378.3 156.7 375.3 153.9 375.5Z"/>
<path fill="#d27818" stroke="#d27818" d="M154.8 378.3 157.7 378.3 159.5 375 156.7 375.3Z"/>
<path fill="#d87e18" stroke="#d87e18" d="M157.7 378.3 160.5 378.4 162.4 374.7 159.5 375Z"/>
<path fill="#d27818" stroke="#d27818" d="M160.5 378.4 163.4 378.5 165.2 374.2 162.4 374.7Z"/>
<path fill="#c06c18" stroke="#c06c18" d="M163.4 378.5 166.3 378.5 168 373.5 165.2 374.2Z"/>
<path fill="#b46612" stroke="#b46612" d="M166.3 378.5 169.1 378.2 170.8 372.7 168 373.5ZM169.1 378.2 172 378 173.7 372.2 170.8 372.7Z"/>
<path fill="#c07218" stroke="#c07218" d="M172 378 174.9 378 176.6 372 173.7 372.2Z"/>
<path fill="#cc781e" stroke="#cc781e" d="M174.9 378 177.9 378.6 179.5 372.1 176.6 372Z"/>
<path fill="#d27e1e" stroke="#d27e1e" d="M177.9 378.6 180.9 379.6 182.5 372.4 179.5 372.1Z"/>
<path fill="#cc781e" stroke="#cc781e" d="M180.9 379.6 183.9 380.7 185.4 373 182.5 372.4Z"/>
<path fill="#d87e24" stroke="#d87e24" d="M183.9 380.7 187 382.2 188.5 374.4 185.4 373Z"/>
<path fill="#ea902a" stroke="#ea902a" d="M187 382.2 190.1 384 191.6 376.6 188.5 374.4Z"/>
<path fill="#fc9c30" stroke="#fc9c30" d="M190.1 384 193.3 386.1 194.8 379.3 191.6 376.6Z"/>
<path fill="#fca836" stroke="#fca836" d="M193.3 386.1 196.4 388.3 198 381.8 194.8 379.3Z"/>
<path fill="#fca236" stroke="#fca236" d="M196.4 388.3 199.6 390.2 201.2 383.9 198 381.8ZM199.6 390.2 202.8 392 204.4 385.9 201.2 383.9Z"/>
<path fill="#fcae3c" stroke="#fcae3c" d="M202.8 392 206 393.9 207.6 388.2 204.4 385.9Z"/>
<path fill="#fcc042" stroke="#fcc042" d="M206 393.9 209.3 396 210.9 390.9 207.6 388.2Z"/>
<path fill="#fcd24e" stroke="#fcd24e" d="M209.3 396 212.6 398.3 214.3 393.7 210.9 390.9Z"/>
<path fill="#fcd854" stroke="#fcd854" d="M212.6 398.3 216 400.5 217.7 396.3 214.3 393.7Z"/>
<path fill="#fcde54" stroke="#fcde54" d="M216 400.5 219.4 402.6 221.1 398.7 217.7 396.3Z"/>
<path fill="#fcde4e" stroke="#fcde4e" d="M219.4 402.6 222.7 404.3 224.5 400.9 221.1 398.7Z"/>
<path fill="#fcd848" stroke="#fcd848" d="M222.7 404.3 226.1 406 228 402.9 224.5 400.9Z"/>
<path fill="#fcd242" stroke="#fcd242" d="M226.1 406 229.6 407.6 231.5 404.8 228 402.9Z"/>
<path fill="#fccc3c" stroke="#fccc3c" d="M229.6 407.6 233 409.2 235 406.6 231.5 404.8Z"/>
<path fill="#fcc636" stroke="#fcc636" d="M233 409.2 235.9 410.6 238.5 408.1 235 406.6Z"/>
<path fill="#fcc030" stroke="#fcc030" d="M235.9 410.6 238.8 412 241.6 409.6 238.5 408.1Z"/>
<path fill="#fcba30" stroke="#fcba30" d="M238.8 412 241.7 413.3 244.4 410.9 241.6 409.6ZM241.7 413.3 244.5 414.6 247.1 412.3 244.4 410.9Z"/>
<path fill="#fcb42a" stroke="#fcb42a" d="M244.5 414.6 244.8 414.7 248.3 414.2 249.1 413.3 247.1 412.3Z"/>
<path fill="#78bafc" stroke="#78bafc" d="M249.2 414.2 249.8 413.6 249.1 413.3 248.3 414.2ZM251.9 414.4 249.8 413.6 249.2 414.2Z"/>
<path fill="#fc961e" stroke="#fc961e" d="M125.2 372.9 126.2 371.9 125.9 371.8Z"/>
<path fill="#fc9c1e" stroke="#fc9c1e" d="M124.5 374 127.1 374.8 129.1 372.8 126.2 371.9 125.2 372.9ZM127.1 374.8 129.9 375.7 131.9 373.6 129.1 372.8ZM129.9 375.7 132.8 376.6 134.8 374.5 131.9 373.6ZM132.8 376.6 135.7 377.4 137.7 375.3 134.8 374.5ZM135.7 377.4 138.5 378.2 140.5 376 137.7 375.3Z"/>
<path fill="#fc961e" stroke="#fc961e" d="M138.5 378.2 141.4 379 143.4 376.8 140.5 376ZM141.4 379 144.3 379.7 146.3 377.5 143.4 376.8Z"/>
<path fill="#fc901e" stroke="#fc901e" d="M144.3 379.7 147.2 380.3 149.1 378 146.3 377.5Z"/>
<path fill="#f08a18" stroke="#f08a18" d="M147.2 380.3 150.1 380.8 152 378.2 149.1 378Z"/>
<path fill="#ea8418" stroke="#ea8418" d="M150.1 380.8 152.9 381.2 154.8 378.3 152 378.2Z"/>
<path fill="#ea8a1e" stroke="#ea8a1e" d="M152.9 381.2 155.8 381.5 157.7 378.3 154.8 378.3Z"/>
<path fill="#f09024" stroke="#f09024" d="M155.8 381.5 158.7 381.9 160.5 378.4 157.7 378.3ZM158.7 381.9 161.6 382.4 163.4 378.5 160.5 378.4Z"/>
<path fill="#ea8a24" stroke="#ea8a24" d="M161.6 382.4 164.5 382.8 166.3 378.5 163.4 378.5Z"/>
<path fill="#d27e1e" stroke="#d27e1e" d="M164.5 382.8 167.4 383 169.1 378.2 166.3 378.5Z"/>
<path fill="#cc7818" stroke="#cc7818" d="M167.4 383 170.3 383.1 172 378 169.1 378.2Z"/>
<path fill="#d27e1e" stroke="#d27e1e" d="M170.3 383.1 173.3 383.5 174.9 378 172 378Z"/>
<path fill="#ea8a24" stroke="#ea8a24" d="M173.3 383.5 176.2 384.2 177.9 378.6 174.9 378Z"/>
<path fill="#f69630" stroke="#f69630" d="M176.2 384.2 179.3 385.5 180.9 379.6 177.9 378.6Z"/>
<path fill="#fc9630" stroke="#fc9630" d="M179.3 385.5 182.3 386.9 183.9 380.7 180.9 379.6Z"/>
<path fill="#f69630" stroke="#f69630" d="M182.3 386.9 185.4 388.4 187 382.2 183.9 380.7Z"/>
<path fill="#fc9c30" stroke="#fc9c30" d="M185.4 388.4 188.5 389.9 190.1 384 187 382.2Z"/>
<path fill="#fcae3c" stroke="#fcae3c" d="M188.5 389.9 191.6 391.5 193.3 386.1 190.1 384Z"/>
<path fill="#fcba42" stroke="#fcba42" d="M191.6 391.5 194.8 393.3 196.4 388.3 193.3 386.1Z"/>
<path fill="#fcc042" stroke="#fcc042" d="M194.8 393.3 197.9 395.1 199.6 390.2 196.4 388.3ZM197.9 395.1 201.1 396.8 202.8 392 199.6 390.2ZM201.1 396.8 204.3 398.5 206 393.9 202.8 392Z"/>
<path fill="#fccc48" stroke="#fccc48" d="M204.3 398.5 207.6 400.3 209.3 396 206 393.9Z"/>
<path fill="#fcd84e" stroke="#fcd84e" d="M207.6 400.3 210.9 402.2 212.6 398.3 209.3 396Z"/>
<path fill="#fcde4e" stroke="#fcde4e" d="M210.9 402.2 214.2 404 216 400.5 212.6 398.3Z"/>
<path fill="#fcd84e" stroke="#fcd84e" d="M214.2 404 217.5 405.8 219.4 402.6 216 400.5Z"/>
<path fill="#fcd242" stroke="#fcd242" d="M217.5 405.8 220.9 407.3 222.7 404.3 219.4 402.6Z"/>
<path fill="#fccc3c" stroke="#fccc3c" d="M220.9 407.3 224.2 408.8 226.1 406 222.7 404.3Z"/>
<path fill="#fcc636" stroke="#fcc636" d="M224.2 408.8 227.6 410.2 229.6 407.6 226.1 406Z"/>
<path fill="#fcc036" stroke="#fcc036" d="M227.6 410.2 230.5 411.6 233 409.2 229.6 407.6Z"/>
<path fill="#fcba30" stroke="#fcba30" d="M230.5 411.6 233.4 413 235.9 410.6 233 409.2ZM233.4 413 236.3 414.3 238.8 412 235.9 410.6Z"/>
<path fill="#fcb42a" stroke="#fcb42a" d="M236.3 414.3 238.2 415.2 239.8 415 241.7 413.3 238.8 412ZM244.4 414.7 244.5 414.6 241.7 413.3 239.8 415ZM244.8 414.7 244.5 414.6 244.4 414.7Z"/>
<path fill="#fc9c1e" stroke="#fc9c1e" d="M124.2 376.5 125 376.8 127.1 374.8 124.5 374ZM125 376.8 127.9 377.7 129.9 375.7 127.1 374.8ZM127.9 377.7 130.8 378.7 132.8 376.6 129.9 375.7ZM130.8 378.7 133.7 379.6 135.7 377.4 132.8 376.6ZM133.7 379.6 136.6 380.4 138.5 378.2 135.7 377.4Z"/>
<path fill="#fc961e" stroke="#fc961e" d="M136.6 380.4 139.4 381.2 141.4 379 138.5 378.2ZM139.4 381.2 142.3 381.9 144.3 379.7 141.4 379ZM142.3 381.9 145.2 382.7 147.2 380.3 144.3 379.7ZM145.2 382.7 148.1 383.4 150.1 380.8 147.2 380.3ZM148.1 383.4 151 384 152.9 381.2 150.1 380.8Z"/>
<path fill="#fc9624" stroke="#fc9624" d="M151 384 153.9 384.6 155.8 381.5 152.9 381.2ZM153.9 384.6 156.8 385.2 158.7 381.9 155.8 381.5Z"/>
<path fill="#fc9c2a" stroke="#fc9c2a" d="M156.8 385.2 159.7 385.8 161.6 382.4 158.7 381.9ZM159.7 385.8 162.7 386.5 164.5 382.8 161.6 382.4Z"/>
<path fill="#fc962a" stroke="#fc962a" d="M162.7 386.5 165.6 387.1 167.4 383 164.5 382.8Z"/>
<path fill="#ea8a24" stroke="#ea8a24" d="M165.6 387.1 168.6 387.6 170.3 383.1 167.4 383Z"/>
<path fill="#f09024" stroke="#f09024" d="M168.6 387.6 171.5 388.2 173.3 383.5 170.3 383.1Z"/>
<path fill="#fc9c30" stroke="#fc9c30" d="M171.5 388.2 174.5 389.1 176.2 384.2 173.3 383.5Z"/>
<path fill="#fcae36" stroke="#fcae36" d="M174.5 389.1 177.5 390.3 179.3 385.5 176.2 384.2Z"/>
<path fill="#fcb43c" stroke="#fcb43c" d="M177.5 390.3 180.6 391.8 182.3 386.9 179.3 385.5ZM180.6 391.8 183.7 393.3 185.4 388.4 182.3 386.9ZM183.7 393.3 186.8 394.6 188.5 389.9 185.4 388.4Z"/>
<path fill="#fcba3c" stroke="#fcba3c" d="M186.8 394.6 189.9 396 191.6 391.5 188.5 389.9Z"/>
<path fill="#fcc642" stroke="#fcc642" d="M189.9 396 193 397.4 194.8 393.3 191.6 391.5Z"/>
<path fill="#fccc48" stroke="#fccc48" d="M193 397.4 196.2 399 197.9 395.1 194.8 393.3Z"/>
<path fill="#fcd248" stroke="#fcd248" d="M196.2 399 199.3 400.7 201.1 396.8 197.9 395.1ZM199.3 400.7 202.5 402.4 204.3 398.5 201.1 396.8ZM202.5 402.4 205.8 403.9 207.6 400.3 204.3 398.5ZM205.8 403.9 209 405.5 210.9 402.2 207.6 400.3ZM209 405.5 212.3 407.1 214.2 404 210.9 402.2Z"/>
<path fill="#fccc42" stroke="#fccc42" d="M212.3 407.1 215.6 408.6 217.5 405.8 214.2 404Z"/>
<path fill="#fcc63c" stroke="#fcc63c" d="M215.6 408.6 218.8 410 220.9 407.3 217.5 405.8Z"/>
<path fill="#fcc036" stroke="#fcc036" d="M218.8 410 221.9 411.3 224.2 408.8 220.9 407.3Z"/>
<path fill="#fcba30" stroke="#fcba30" d="M221.9 411.3 225 412.6 227.6 410.2 224.2 408.8ZM225 412.6 228.1 413.9 230.5 411.6 227.6 410.2Z"/>
<path fill="#fcb430" stroke="#fcb430" d="M228.1 413.9 231.1 415.3 233.4 413 230.5 411.6Z"/>
<path fill="#fcb42a" stroke="#fcb42a" d="M231.1 415.3 232.9 416.1 234.9 415.7 236.3 414.3 233.4 413ZM238.2 415.2 236.3 414.3 234.9 415.7Z"/>
<path fill="#fc9c1e" stroke="#fc9c1e" d="M124.3 377.5 125 376.8 124.2 376.5Z"/>
<path fill="#fca21e" stroke="#fca21e" d="M125.3 379.6 125.9 379.8 127.9 377.7 125 376.8 124.3 377.5ZM125.9 379.8 128.8 380.8 130.8 378.7 127.9 377.7Z"/>
<path fill="#fc9c1e" stroke="#fc9c1e" d="M128.8 380.8 131.7 381.8 133.7 379.6 130.8 378.7ZM131.7 381.8 134.6 382.6 136.6 380.4 133.7 379.6Z"/>
<path fill="#fc961e" stroke="#fc961e" d="M134.6 382.6 137.4 383.4 139.4 381.2 136.6 380.4ZM137.4 383.4 140.3 384.2 142.3 381.9 139.4 381.2ZM140.3 384.2 143.2 385 145.2 382.7 142.3 381.9Z"/>
<path fill="#fc9c24" stroke="#fc9c24" d="M143.2 385 146.1 385.8 148.1 383.4 145.2 382.7Z"/>
<path fill="#fca224" stroke="#fca224" d="M146.1 385.8 149.1 386.7 151 384 148.1 383.4ZM149.1 386.7 152 387.5 153.9 384.6 151 384Z"/>
<path fill="#fca22a" stroke="#fca22a" d="M152 387.5 154.9 388.2 156.8 385.2 153.9 384.6ZM154.9 388.2 157.8 389 159.7 385.8 156.8 385.2Z"/>
<path fill="#fca82a" stroke="#fca82a" d="M157.8 389 160.8 389.7 162.7 386.5 159.7 385.8Z"/>
<path fill="#fca830" stroke="#fca830" d="M160.8 389.7 163.8 390.6 165.6 387.1 162.7 386.5Z"/>
<path fill="#fca230" stroke="#fca230" d="M163.8 390.6 166.7 391.4 168.6 387.6 165.6 387.1ZM166.7 391.4 169.7 392.3 171.5 388.2 168.6 387.6Z"/>
<path fill="#fca836" stroke="#fca836" d="M169.7 392.3 172.7 393.3 174.5 389.1 171.5 388.2Z"/>
<path fill="#fcb43c" stroke="#fcb43c" d="M172.7 393.3 175.7 394.4 177.5 390.3 174.5 389.1Z"/>
<path fill="#fcc042" stroke="#fcc042" d="M175.7 394.4 178.8 395.7 180.6 391.8 177.5 390.3Z"/>
<path fill="#fcc642" stroke="#fcc642" d="M178.8 395.7 181.9 397.1 183.7 393.3 180.6 391.8Z"/>
<path fill="#fcc042" stroke="#fcc042" d="M181.9 397.1 185 398.4 186.8 394.6 183.7 393.3Z"/>
<path fill="#fcc03c" stroke="#fcc03c" d="M185 398.4 188.1 399.7 189.9 396 186.8 394.6Z"/>
<path fill="#fcc642" stroke="#fcc642" d="M188.1 399.7 191.2 401 193 397.4 189.9 396Z"/>
<path fill="#fccc48" stroke="#fccc48" d="M191.2 401 194.3 402.4 196.2 399 193 397.4Z"/>
<path fill="#fcd248" stroke="#fcd248" d="M194.3 402.4 197.5 404 199.3 400.7 196.2 399ZM197.5 404 200.7 405.5 202.5 402.4 199.3 400.7Z"/>
<path fill="#fccc42" stroke="#fccc42" d="M200.7 405.5 203.9 407 205.8 403.9 202.5 402.4Z"/>
<path fill="#fcc63c" stroke="#fcc63c" d="M203.9 407 207.1 408.4 209 405.5 205.8 403.9ZM207.1 408.4 210.3 409.8 212.3 407.1 209 405.5Z"/>
<path fill="#fcc036" stroke="#fcc036" d="M210.3 409.8 213.4 411.1 215.6 408.6 212.3 407.1Z"/>
<path fill="#fcba30" stroke="#fcba30" d="M213.4 411.1 216.5 412.5 218.8 410 215.6 408.6Z"/>
<path fill="#fcb430" stroke="#fcb430" d="M216.5 412.5 219.6 413.8 221.9 411.3 218.8 410Z"/>
<path fill="#fcb42a" stroke="#fcb42a" d="M219.6 413.8 222.7 415 225 412.6 221.9 411.3ZM222.7 415 225.7 416.3 228.1 413.9 225 412.6ZM225.7 416.3 227 416.8 229.6 416.7 231.1 415.3 228.1 413.9ZM232.9 416.1 231.1 415.3 229.6 416.7Z"/>
<path fill="#fca21e" stroke="#fca21e" d="M125.6 380.2 125.9 379.8 125.3 379.6ZM126.7 382.9 126.8 382.9 128.8 380.8 125.9 379.8 125.6 380.2Z"/>
<path fill="#fc9c1e" stroke="#fc9c1e" d="M126.8 382.9 129.7 383.8 131.7 381.8 128.8 380.8ZM129.7 383.8 132.5 384.8 134.6 382.6 131.7 381.8ZM132.5 384.8 135.4 385.6 137.4 383.4 134.6 382.6ZM135.4 385.6 138.3 386.4 140.3 384.2 137.4 383.4ZM138.3 386.4 141.2 387.3 143.2 385 140.3 384.2Z"/>
<path fill="#fca224" stroke="#fca224" d="M141.2 387.3 144.2 388.2 146.1 385.8 143.2 385Z"/>
<path fill="#fca824" stroke="#fca824" d="M144.2 388.2 147.1 389.2 149.1 386.7 146.1 385.8Z"/>
<path fill="#fca82a" stroke="#fca82a" d="M147.1 389.2 150 390.1 152 387.5 149.1 386.7ZM150 390.1 153 391 154.9 388.2 152 387.5Z"/>
<path fill="#fca22a" stroke="#fca22a" d="M153 391 155.9 391.9 157.8 389 154.9 388.2Z"/>
<path fill="#fca82a" stroke="#fca82a" d="M155.9 391.9 158.9 392.7 160.8 389.7 157.8 389Z"/>
<path fill="#fcae30" stroke="#fcae30" d="M158.9 392.7 161.9 393.6 163.8 390.6 160.8 389.7Z"/>
<path fill="#fcb436" stroke="#fcb436" d="M161.9 393.6 164.8 394.7 166.7 391.4 163.8 390.6ZM164.8 394.7 167.9 395.7 169.7 392.3 166.7 391.4ZM167.9 395.7 170.9 396.8 172.7 393.3 169.7 392.3Z"/>
<path fill="#fcba3c" stroke="#fcba3c" d="M170.9 396.8 173.9 397.9 175.7 394.4 172.7 393.3Z"/>
<path fill="#fcc03c" stroke="#fcc03c" d="M173.9 397.9 176.9 399.1 178.8 395.7 175.7 394.4ZM176.9 399.1 180 400.3 181.9 397.1 178.8 395.7ZM180 400.3 183.1 401.6 185 398.4 181.9 397.1ZM183.1 401.6 186.2 402.8 188.1 399.7 185 398.4ZM186.2 402.8 189.3 404.1 191.2 401 188.1 399.7Z"/>
<path fill="#fcc63c" stroke="#fcc63c" d="M189.3 404.1 192.4 405.4 194.3 402.4 191.2 401ZM192.4 405.4 195.6 406.8 197.5 404 194.3 402.4ZM195.6 406.8 198.7 408.3 200.7 405.5 197.5 404ZM198.7 408.3 201.9 409.7 203.9 407 200.7 405.5Z"/>
<path fill="#fcc036" stroke="#fcc036" d="M201.9 409.7 205 411.1 207.1 408.4 203.9 407Z"/>
<path fill="#fcba30" stroke="#fcba30" d="M205 411.1 208.1 412.3 210.3 409.8 207.1 408.4Z"/>
<path fill="#fcb430" stroke="#fcb430" d="M208.1 412.3 211.2 413.6 213.4 411.1 210.3 409.8Z"/>
<path fill="#fcb42a" stroke="#fcb42a" d="M211.2 413.6 214.3 414.8 216.5 412.5 213.4 411.1ZM214.3 414.8 217.4 416.1 219.6 413.8 216.5 412.5Z"/>
<path fill="#fcae2a" stroke="#fcae2a" d="M217.4 416.1 218.8 416.7 221.1 416.7 222.7 415 219.6 413.8ZM225.2 416.8 225.7 416.3 222.7 415 221.1 416.7ZM227 416.8 225.7 416.3 225.2 416.8Z"/>
<path fill="#fc9c1e" stroke="#fc9c1e" d="M126.8 382.9 126.8 382.9 126.7 382.9ZM127 385.7 127.6 385.9 129.7 383.8 126.8 382.9 126.8 382.9ZM127.6 385.9 130.5 386.9 132.5 384.8 129.7 383.8ZM130.5 386.9 133.4 387.8 135.4 385.6 132.5 384.8ZM133.4 387.8 136.3 388.7 138.3 386.4 135.4 385.6Z"/>
<path fill="#fca224" stroke="#fca224" d="M136.3 388.7 139.3 389.6 141.2 387.3 138.3 386.4ZM139.3 389.6 142.2 390.6 144.2 388.2 141.2 387.3Z"/>
<path fill="#fca82a" stroke="#fca82a" d="M142.2 390.6 145.1 391.6 147.1 389.2 144.2 388.2ZM145.1 391.6 148.1 392.6 150 390.1 147.1 389.2ZM148.1 392.6 151 393.6 153 391 150 390.1ZM151 393.6 154 394.5 155.9 391.9 153 391ZM154 394.5 156.9 395.4 158.9 392.7 155.9 391.9Z"/>
<path fill="#fcae30" stroke="#fcae30" d="M156.9 395.4 159.9 396.4 161.9 393.6 158.9 392.7Z"/>
<path fill="#fcb430" stroke="#fcb430" d="M159.9 396.4 162.9 397.5 164.8 394.7 161.9 393.6Z"/>
<path fill="#fcba36" stroke="#fcba36" d="M162.9 397.5 165.9 398.7 167.9 395.7 164.8 394.7ZM165.9 398.7 169 399.9 170.9 396.8 167.9 395.7Z"/>
<path fill="#fcb436" stroke="#fcb436" d="M169 399.9 172 400.9 173.9 397.9 170.9 396.8Z"/>
<path fill="#fcba36" stroke="#fcba36" d="M172 400.9 175 402 176.9 399.1 173.9 397.9ZM175 402 178.1 403.2 180 400.3 176.9 399.1ZM178.1 403.2 181.2 404.4 183.1 401.6 180 400.3ZM181.2 404.4 184.2 405.6 186.2 402.8 183.1 401.6ZM184.2 405.6 187.4 406.9 189.3 404.1 186.2 402.8ZM187.4 406.9 190.5 408.2 192.4 405.4 189.3 404.1Z"/>
<path fill="#fcc036" stroke="#fcc036" d="M190.5 408.2 193.6 409.5 195.6 406.8 192.4 405.4ZM193.6 409.5 196.7 410.9 198.7 408.3 195.6 406.8Z"/>
<path fill="#fcba30" stroke="#fcba30" d="M196.7 410.9 199.7 412.2 201.9 409.7 198.7 408.3Z"/>
<path fill="#fcb430" stroke="#fcb430" d="M199.7 412.2 202.8 413.5 205 411.1 201.9 409.7Z"/>
<path fill="#fcae2a" stroke="#fcae2a" d="M202.8 413.5 205.9 414.7 208.1 412.3 205 411.1ZM205.9 414.7 209 415.9 211.2 413.6 208.1 412.3ZM209 415.9 210.8 416.6 212.4 416.8 214.3 414.8 211.2 413.6ZM216.7 416.8 217.4 416.1 214.3 414.8 212.4 416.8ZM218.8 416.7 217.4 416.1 216.7 416.8Z"/>
<path fill="#fc9c1e" stroke="#fc9c1e" d="M127 386.6 127.6 385.9 127 385.7ZM127.2 388.5 128.5 389 130.5 386.9 127.6 385.9 127 386.6ZM128.5 389 131.4 390 133.4 387.8 130.5 386.9Z"/>
<path fill="#fca224" stroke="#fca224" d="M131.4 390 134.3 391 136.3 388.7 133.4 387.8ZM134.3 391 137.3 391.9 139.3 389.6 136.3 388.7ZM137.3 391.9 140.2 392.9 142.2 390.6 139.3 389.6Z"/>
<path fill="#fca824" stroke="#fca824" d="M140.2 392.9 143.1 393.9 145.1 391.6 142.2 390.6ZM143.1 393.9 146.1 394.9 148.1 392.6 145.1 391.6ZM146.1 394.9 149 396 151 393.6 148.1 392.6Z"/>
<path fill="#fca82a" stroke="#fca82a" d="M149 396 152 397 154 394.5 151 393.6ZM152 397 155 398 156.9 395.4 154 394.5Z"/>
<path fill="#fcae2a" stroke="#fcae2a" d="M155 398 158 399.1 159.9 396.4 156.9 395.4Z"/>
<path fill="#fcb430" stroke="#fcb430" d="M158 399.1 161 400.2 162.9 397.5 159.9 396.4ZM161 400.2 164 401.3 165.9 398.7 162.9 397.5ZM164 401.3 167 402.5 169 399.9 165.9 398.7ZM167 402.5 170 403.6 172 400.9 169 399.9Z"/>
<path fill="#fcae30" stroke="#fcae30" d="M170 403.6 173.1 404.7 175 402 172 400.9ZM173.1 404.7 176.1 405.8 178.1 403.2 175 402Z"/>
<path fill="#fcb430" stroke="#fcb430" d="M176.1 405.8 179.2 406.9 181.2 404.4 178.1 403.2ZM179.2 406.9 182.3 408.2 184.2 405.6 181.2 404.4ZM182.3 408.2 185.3 409.5 187.4 406.9 184.2 405.6Z"/>
<path fill="#fcba30" stroke="#fcba30" d="M185.3 409.5 188.4 410.7 190.5 408.2 187.4 406.9Z"/>
<path fill="#fcb430" stroke="#fcb430" d="M188.4 410.7 191.5 412 193.6 409.5 190.5 408.2ZM191.5 412 194.6 413.3 196.7 410.9 193.6 409.5Z"/>
<path fill="#fcb42a" stroke="#fcb42a" d="M194.6 413.3 197.7 414.5 199.7 412.2 196.7 410.9Z"/>
<path fill="#fcae2a" stroke="#fcae2a" d="M197.7 414.5 199.9 415.4 201.1 415.4 202.8 413.5 199.7 412.2ZM205 415.7 205.9 414.7 202.8 413.5 201.1 415.4ZM208.6 416.3 209 415.9 205.9 414.7 205 415.7ZM210.8 416.6 209 415.9 208.6 416.3Z"/>
<path fill="#fc9c1e" stroke="#fc9c1e" d="M127.6 390 128.5 389 127.2 388.5Z"/>
<path fill="#fca224" stroke="#fca224" d="M129.2 392.1 129.4 392.1 131.4 390 128.5 389 127.6 390ZM129.4 392.1 132.3 393.2 134.3 391 131.4 390ZM132.3 393.2 135.3 394.2 137.3 391.9 134.3 391ZM135.3 394.2 138.2 395.2 140.2 392.9 137.3 391.9ZM138.2 395.2 141.1 396.2 143.1 393.9 140.2 392.9ZM141.1 396.2 144.1 397.2 146.1 394.9 143.1 393.9Z"/>
<path fill="#fca824" stroke="#fca824" d="M144.1 397.2 147.1 398.3 149 396 146.1 394.9ZM147.1 398.3 150 399.4 152 397 149 396Z"/>
<path fill="#fca82a" stroke="#fca82a" d="M150 399.4 153 400.5 155 398 152 397ZM153 400.5 156 401.5 158 399.1 155 398Z"/>
<path fill="#fcae2a" stroke="#fcae2a" d="M156 401.5 159 402.6 161 400.2 158 399.1ZM159 402.6 162 403.8 164 401.3 161 400.2ZM162 403.8 165 405 167 402.5 164 401.3ZM165 405 168.1 406.1 170 403.6 167 402.5Z"/>
<path fill="#fca82a" stroke="#fca82a" d="M168.1 406.1 171.1 407.2 173.1 404.7 170 403.6Z"/>
<path fill="#fcae2a" stroke="#fcae2a" d="M171.1 407.2 174.1 408.3 176.1 405.8 173.1 404.7ZM174.1 408.3 177.2 409.4 179.2 406.9 176.1 405.8Z"/>
<path fill="#fcb42a" stroke="#fcb42a" d="M177.2 409.4 180.3 410.6 182.3 408.2 179.2 406.9Z"/>
<path fill="#fcb430" stroke="#fcb430" d="M180.3 410.6 183.3 411.9 185.3 409.5 182.3 408.2Z"/>
<path fill="#fcb42a" stroke="#fcb42a" d="M183.3 411.9 186.4 413.2 188.4 410.7 185.3 409.5Z"/>
<path fill="#fcae2a" stroke="#fcae2a" d="M186.4 413.2 189.5 414.4 191.5 412 188.4 410.7ZM189.5 414.4 190.4 414.8 192.9 415.2 194.6 413.3 191.5 412ZM196.8 415.6 197.7 414.5 194.6 413.3 192.9 415.2ZM199.9 415.4 197.7 414.5 196.8 415.6Z"/>
<path fill="#fca224" stroke="#fca224" d="M129.3 392.2 129.4 392.1 129.2 392.1ZM131.8 393.8 132.3 393.2 129.4 392.1 129.3 392.2ZM134.3 395.3 135.3 394.2 132.3 393.2 131.8 393.8ZM136.6 397 138.2 395.2 135.3 394.2 134.3 395.3ZM137.9 398.1 139.1 398.5 141.1 396.2 138.2 395.2 136.6 397ZM139.1 398.5 142.1 399.5 144.1 397.2 141.1 396.2ZM142.1 399.5 145 400.6 147.1 398.3 144.1 397.2Z"/>
<path fill="#fca824" stroke="#fca824" d="M145 400.6 148 401.7 150 399.4 147.1 398.3ZM148 401.7 151 402.8 153 400.5 150 399.4Z"/>
<path fill="#fca82a" stroke="#fca82a" d="M151 402.8 154 403.9 156 401.5 153 400.5ZM154 403.9 157 405 159 402.6 156 401.5ZM157 405 160 406.1 162 403.8 159 402.6ZM160 406.1 163 407.3 165 405 162 403.8Z"/>
<path fill="#fca824" stroke="#fca824" d="M163 407.3 166.1 408.4 168.1 406.1 165 405ZM166.1 408.4 169.1 409.6 171.1 407.2 168.1 406.1Z"/>
<path fill="#fca82a" stroke="#fca82a" d="M169.1 409.6 172.1 410.7 174.1 408.3 171.1 407.2Z"/>
<path fill="#fcae2a" stroke="#fcae2a" d="M172.1 410.7 175.2 411.9 177.2 409.4 174.1 408.3ZM175.2 411.9 178.2 413 180.3 410.6 177.2 409.4ZM178.2 413 180.5 414 181.5 414.1 183.3 411.9 180.3 410.6ZM185.5 414.3 186.4 413.2 183.3 411.9 181.5 414.1ZM189.3 414.6 189.5 414.4 186.4 413.2 185.5 414.3ZM190.4 414.8 189.5 414.4 189.3 414.6Z"/>
<path fill="#fca224" stroke="#fca224" d="M138.7 399 139.1 398.5 137.9 398.1ZM140.8 401 142.1 399.5 139.1 398.5 138.7 399ZM143.1 402.7 145 400.6 142.1 399.5 140.8 401Z"/>
<path fill="#fca824" stroke="#fca824" d="M144.3 403.3 146 403.9 148 401.7 145 400.6 143.1 402.7ZM146 403.9 147.1 404.3 149.2 404.9 151 402.8 148 401.7ZM152.5 405.7 154 403.9 151 402.8 149.2 404.9ZM155.5 406.8 157 405 154 403.9 152.5 405.7ZM158.3 408.1 160 406.1 157 405 155.5 406.8ZM161.1 409.4 163 407.3 160 406.1 158.3 408.1ZM164.3 410.4 166.1 408.4 163 407.3 161.1 409.4ZM167.7 411.2 169.1 409.6 166.1 408.4 164.3 410.4ZM171 412 172.1 410.7 169.1 409.6 167.7 411.2Z"/>
<path fill="#fcae2a" stroke="#fcae2a" d="M174.3 412.9 175.2 411.9 172.1 410.7 171 412ZM177.7 413.7 178.2 413 175.2 411.9 174.3 412.9ZM180.5 414 178.2 413 177.7 413.7Z"/>
<path fill="#fca824" stroke="#fca824" d="M145.9 404 146 403.9 144.3 403.3ZM147.1 404.3 146 403.9 145.9 404Z"/>
</g>
<defs><linearGradient id="cy" gradientUnits="userSpaceOnUse" x1="280" y1="388" x2="284" y2="418"><stop offset="0" stop-color="#8ad0ff"/><stop offset="1" stop-color="#62a8ff"/></linearGradient></defs><path fill="url(#cy)" d="M258.0 404.0 270.0 397.0 283.0 391.0 291.0 386.0 295.4 391.7 302.0 398.4 307.1 406.8 295.4 410.2 288.7 418.6 276.9 417.7 278.0 413.0 275.0 408.0 262.0 411.0 252.0 414.0 Z"/>
<path fill="#5b9fff" d="M204.0 430.0 211.0 423.0 218.0 421.0 228.0 420.0 236.0 422.0 243.0 418.0 250.0 416.0 245.0 423.0 254.0 428.0 255.0 434.0 256.0 441.5 252.0 447.0 243.4 451.0 232.7 453.0 222.0 452.0 211.0 449.0 203.0 447.0 204.0 440.0 Z"/>
<path fill="#ffa012" d="M250.0 416.0 262.0 411.0 275.0 408.0 278.0 413.0 273.0 419.0 263.0 425.0 258.0 432.0 255.0 434.0 254.0 428.0 245.0 423.0 Z"/>
<path fill="#7cb21e" d="M276.9 417.7 288.7 418.6 295.4 410.2 307.1 406.8 315.5 410.2 313.8 418.6 317.2 426.9 315.5 433.7 320.5 435.3 318.9 440.4 312.1 443.7 307.1 447.1 295.4 446.2 281.9 447.1 265.2 450.4 250.1 452.1 243.4 453.8 255.1 448.8 250.1 447.1 254.3 440.4 258.5 435.3 260.1 426.9 268.5 423.6 Z"/>
<path fill="#5b9fff" d="M315.5 410.2 320.0 409.7 327.9 407.7 337.8 413.7 345.8 421.6 353.7 426.6 351.7 431.5 345.8 437.5 339.8 441.4 331.9 445.4 320.5 442.0 318.9 440.4 320.5 435.3 315.5 433.7 317.2 426.9 313.8 418.6 Z"/>
<path fill="#f8562e" d="M337.8 413.7 345.8 421.6 353.7 426.6 367.6 424.6 379.5 423.6 389.4 419.6 395.3 415.7 388.0 412.0 378.0 407.0 370.0 403.0 360.0 402.0 340.0 406.0 Z"/>
<path fill="#a878ff" d="M366.0 399.0 375.0 395.0 395.0 395.0 404.0 399.0 403.2 419.6 395.3 422.6 385.4 429.5 371.5 432.5 359.6 431.5 353.7 426.6 367.6 424.6 379.5 423.6 389.4 419.6 395.3 415.7 388.0 412.0 378.0 407.0 370.0 403.0 Z"/>
<path class="m" d="M81.7 415.4 126.3 371.1 190.5 310.4M230.6 272.4 270.2 234.4M100.3 422.6 124.2 398.1 154.5 364.6 178.9 343.8M259.4 266.1 286.7 239.3M120.3 430.3 140.3 409.1 150 398.3 155.1 391.7 159.3 385.2 162.5 379 170.9 357.9 173.4 353.8 175.9 350.8M284.8 264.3 304.3 244.6M140.6 438.2 156 421.6 170 405.7 175 398.5 179 390.2 181.9 380.8 183.9 370.9 189.7 332.2 196.6 291.9M301 271.9 322.2 249.9M160.7 446 176.8 428.3 193.5 409.1 198.5 401.5 202.3 392.4 203.7 387.4 205.6 377.6 209.3 349.3 210.8 329.6 211.8 298.9 213.9 277.5 216.2 262.8 217 260.5 218.2 260.1 219.5 260.7 220.9 262M182.5 454.5 210.4 422.9 222.9 409.7 227.8 402 230.7 395.4 233 386.5 236.8 363.3 244.9 336.5 245.3 332.1 244.8 315.3 245.6 303.6 246.7 298.6 252.3 287.1 253.1 281.8 252.6 276.5 250.9 272.4 247.5 269.2 247.2 268.4 247.6 268.2 248.4 268.8M204.2 462.9 238.3 423.5 248.2 413.7 255.9 407.4 260.6 399.7 262.6 394.9 264 389 266.3 369.4 268.3 359.3 279.1 316.7 280.5 312.2 281.3 310.8 282.8 309.3 286.2 296.4 286.8 291.7 286.4 281 286.8 277.1 288 273.8 290.9 269.6 292.4 268.8 293.9 269.6M226.2 471.4 266.2 423.9 277.9 413.1 287.4 405.9 290.6 401.5 293.5 396.6 294.6 393.7 295.2 390.3 294.3 382.5 295 375.8 297.7 365.8 305.5 341.7 307.9 332.5 309.6 323.2 311.3 306.2 312.9 297.9 314.2 295 316.2 286.1 321.6 278.6 323.9 274.3 325.8 269.9 327.1 265.6 327.3 261.4 325.9 255 325.8 253.6 326.3 253.2M248 479.9 292.9 425.1 302.1 414.5 305.8 409.6 308.2 405.7 326.6 365.3 331.6 351.2 335.2 339.9 337.8 328.4 340.6 312.2 343.9 287.4 345.1 272.5 346 267.8 348 264.3 352.2 260.9 355.3 257.4 357 257.3M264.6 486.3 297.3 445.9 315.7 422.5 319.8 415.8 321.4 412 322.1 408.2 321.9 402.5 322.2 401.6 334.6 385.8 341.6 374.1 353.9 346.5 363.8 317.4 366 305.2 367.1 285.3 368.3 276.9 369.5 273.2 372.3 268 374.8 265 375.6 264.8 375.9 265M428.2 285 430.5 282.2M285.4 494.4 343.8 419.4 347.4 410.9 347.4 404.1 348.7 399.2 368.4 382.6 373.6 375.9 377.9 367.9 380.6 361.2 382.6 353.5 383.9 344.9 384.7 333.1 385.4 327.6 390.1 302.8 395 282.5 397.4 263.7 400.1 255.9 399.9 255 399.2 254.2 396.5 253.1M437.7 300.8 448.4 287.6M304.6 501.8 367.9 418.5 376.3 403.5 379.7 398.7 383 395.6 403.8 379.7 409.4 374.2 410.8 370.2 411.3 365.6 409.8 328.4 410 323 411.4 311.7 418.4 279.8 418.2 277 420.5 277.9 424.3 280.5M445.4 317.8 465.1 292.5M308.6 503.4 373.1 418 379.5 406.8 383.5 401.1 388.2 396.2 408.7 379.6 412.8 374.3 414.3 370.3 415.4 363.5 415.4 354.7 414.7 334.2 415.5 319.6 417.9 306.1 421.8 289.2 423 281.1 423.2 280.7 424.3 280.8 426.7 282.5 429.2 285.2 431.2 288.4M448 320.4 453 313.3 468.5 293.6M333.3 512.9 396.4 426.6 406.6 412.3 419.8 392 425.8 384.7 430 378.8 434 371.6 437.4 363.6 440.9 353.3 445.4 336.7 448.1 331.1 450.3 328.9 452.3 328.2 453.8 329.2 456.6 332.9 458.1 334 461.4 334.1 464.4 332.7 467.4 329.8 489.7 299.9M351.1 519.8 415.3 429.8 443.9 388.5 450 378.7 462.3 357 467.3 350.9 473.5 345.7 479.2 339.6 505.1 304.5M355.2 521.4 436.9 405.8 449 388.1 462.5 365.8 468.3 356.9 481.5 342.4 508.6 305.6M377.3 529.9 439.3 439.6 485.8 370.4 527.5 311.3M248.6 232.8 322.4 255M428.9 286.9 544.7 321.9M237.1 243.6 315.1 267.4M439.7 304.9 536 334.8M225.7 254.3 251 262.2M258 264.3 273.3 269.1M305.5 279 306.7 279.3M447.8 320 461.5 325.3 491.7 335.8 527.4 347.6M216.2 264.6 223.1 266.8M227.8 268.3 241.8 272.7M453.4 328.8 468.4 338.5 485 347.1 497.1 351.8 519.4 359.7M204.6 274.1 205.7 274.4M235 283.7 236.2 284.1M448.9 322.1 462.5 342.1 468.6 349 474.7 354.7 481.1 359 490.3 363.9 511.4 371.6M194 284 197.5 285.1M395 253 393.8 252.5 404.5 259.1 406.8 262 411.9 270.8 415.2 274.9 416.9 276.4 425 281.7 428.9 286.1 432.1 291.9 437.5 304.8 448 333.3 451.6 342.2 458.5 354.8 464.2 363.3 466.7 365.9 470.4 369 479.5 374.4 487.7 378.1 503.3 383.9M184.3 293 193.7 296M361.6 256.7 365 256.3 368 258 369.7 259.8 372.5 266.4 373.3 267.4 376.3 269.2 378 271.1 382.4 278.3 390.6 280.2 393.9 281.8 397 284.3 402.7 290 408.4 294.1 411.2 297.1 413.9 302.2 419.4 317.1 424.2 327.9 434.7 345.2 443.8 361.8 448 368.1 452.5 373.5 458.7 378.7 470.4 385.6 478.7 389.1 495.9 395.2M174.5 302 191.2 307.4M338.8 251.9 340.4 252.1 341.9 253.1 343.2 256 346.2 264.3 346.2 267 345.3 267.9 345.5 269.2 346.7 271.2 355.5 283 365.8 294.2 368.7 298.8 371.3 304.9 376.4 322.1 378.8 327.4 383.3 333.6 398.3 350.1 411.8 359.9 418.6 365.3 422.1 369.1 426.2 376.1 428.7 379.3 431.8 382 437.8 386 445.7 390.4 455.4 394.7 488.4 406.6M165.1 310.8 187.9 318.1M307.6 280 311.5 284.8 312.8 284.1 316.7 279.2 323.2 273.8 326.3 271.9 327.4 271.7 328.3 272.2 328.9 273.6 330.8 284.4 331.9 287.7 334.8 293.6 343.5 304.9 347 310.6 351.2 321.1 357.1 339.9 362.5 352.5 363.8 354.6 366.9 357.9 374.5 364.3 387.3 373.7 400.3 381.3 403.1 383.9 407.9 389.8 411.6 392.4 434.8 401.2 481.2 417.6M154.8 320.3 183.9 329.6M273.8 272.6 274.8 268.6 275.8 267 277 265.9 278.3 265.4 279.8 265.6 282.9 268.1 289.1 275.4 297.1 280.6 299 282.5 300.8 285.1 302.1 288 306.1 303.2 309.1 311.5 312.4 318.9 322.3 337.3 324.7 343.2 328 347.5 330 350.9 335.3 363.1 338.3 368 346.2 377.6 351.5 382.5 356 385.5 365.1 390.3 378.3 396.2 473.3 429.7M143.5 330.8 178.9 342.1M247.6 268.5 248.6 268.7 256.3 272.2 262.2 275.5 268.5 279.6 271.4 282.4 271 283.8 271.3 285.7 275.5 291.3 277.3 294.6 278.3 298 279.6 305.9 283.8 319.5 287.1 332.8 294.2 348.5 296.7 352.9 304.1 363.9 313.6 379.4 324.3 392.9 328.6 397.2 334 399.9 362.8 407.4 387.2 415.1 464.6 442.9M129.3 344.1 143.9 348.8 159.9 353.4 167.3 354.8 172.2 354.9M216.7 259.3 218 259.7 222.1 262.7 224.2 264.7 225.8 266.9 226.7 269.4 228.1 285.9 229.8 296.1 236 314.7 244.2 331.7 248.9 337.7 250.2 340 257.3 355.8 264.2 367.5 270.9 376.4 278.3 383.7 294.1 395.7 300.4 399.8 307.9 405.9 315.3 409.8 326.1 414 344 419.8 453.6 459.6M116.1 356.3 135.8 362.5 145.7 365.2 154.3 366 157.9 365.9 161.5 365.2 165.1 363.5 169.7 359 176.6 350.8 183.6 340.8 187.2 336.5 194.8 330.9 197.3 329.9 198.6 330 201.3 331.8 204.2 336 213 353.4 229 380 232.2 384.2 237.2 389.5 242.2 393.8 248.9 398.6 287.7 417.1 293.9 419.8 345.6 439.4 443.4 475M102.9 368.6 137.8 379.8 149.1 382.6 171.9 386.7 175.8 387.8 191.9 395.2 217.2 408.1 238.4 417.4 255.3 424.3 338.7 455.7 433.1 490.5M88.8 382.1 144.5 401.8 162.8 408.6 231.4 435.4 422.1 507.2M75.8 394.6 145 420.5 233.4 454.6 411.9 522.6"/>
<path class="b" d="M30.7 286.0 L413.3 418.0 M413.3 418.0 L573.3 196.8 M404.5 550.9 L413.3 418.0"/>
<clipPath id="tc"><rect x="0" y="0" width="451.2" height="30"/></clipPath>
<text x="182.0" y="15.8" font-size="16.21" clip-path="url(#tc)">Multiple Normal Distributions</text>
<text x="155.1" y="472.7" font-size="13.5" text-anchor="middle">0</text>
<text x="274.3" y="519.9" font-size="13.5" text-anchor="middle">5</text>
<text x="111.6" y="343.4" font-size="13.5" text-anchor="middle">0</text>
<text x="179.0" y="280.9" font-size="13.5" text-anchor="middle">5</text>
<text x="39.7" y="427.4" font-size="13.5" text-anchor="middle">0</text>
<text x="25.6" y="394.5" font-size="13.5" text-anchor="middle">200</text>
<text x="20.1" y="360.4" font-size="13.5" text-anchor="middle">400</text>
<text x="14.1" y="324.6" font-size="13.5" text-anchor="middle">600</text>
<defs><radialGradient id="g0" cx="0.72" cy="0.3" r="1.0"><stop offset="0.05" stop-color="#ffec30"/><stop offset="0.5" stop-color="#ffa010"/><stop offset="1" stop-color="#803800"/></radialGradient><radialGradient id="g1" cx="0.72" cy="0.3" r="1.0"><stop offset="0.05" stop-color="#a8f4ff"/><stop offset="0.5" stop-color="#5aa4ff"/><stop offset="1" stop-color="#1c3c9c"/></radialGradient><radialGradient id="g2" cx="0.72" cy="0.3" r="1.0"><stop offset="0.05" stop-color="#b0e828"/><stop offset="0.5" stop-color="#80b418"/><stop offset="1" stop-color="#3c5c08"/></radialGradient><radialGradient id="g3" cx="0.72" cy="0.3" r="1.0"><stop offset="0.05" stop-color="#ff8c68"/><stop offset="0.5" stop-color="#f04c28"/><stop offset="1" stop-color="#8c1808"/></radialGradient><radialGradient id="g4" cx="0.72" cy="0.3" r="1.0"><stop offset="0.05" stop-color="#f4a8ff"/><stop offset="0.5" stop-color="#b080ff"/><stop offset="1" stop-color="#5030b0"/></radialGradient><radialGradient id="g5" cx="0.72" cy="0.3" r="1.0"><stop offset="0.05" stop-color="#ffb858"/><stop offset="0.5" stop-color="#e07828"/><stop offset="1" stop-color="#7c3008"/></radialGradient></defs>
<rect x="614" y="207" width="12" height="12" fill="url(#g0)"/><rect x="633.5" y="202.5" width="17" height="24" rx="0.9" fill="#fff" stroke="#484e5c" stroke-width="1.05"/><text x="642.2" y="218.9" font-size="12" text-anchor="middle" style="fill:#4a4f59">1</text>
<rect x="614" y="239" width="12" height="12" fill="url(#g1)"/><rect x="633.5" y="234.5" width="17" height="24" rx="0.9" fill="#fff" stroke="#484e5c" stroke-width="1.05"/><text x="642.2" y="250.9" font-size="12" text-anchor="middle" style="fill:#4a4f59">2</text>
<rect x="614" y="271" width="12" height="12" fill="url(#g2)"/><rect x="633.5" y="266.5" width="17" height="24" rx="0.9" fill="#fff" stroke="#484e5c" stroke-width="1.05"/><text x="642.2" y="282.9" font-size="12" text-anchor="middle" style="fill:#4a4f59">3</text>
<rect x="614" y="303" width="12" height="12" fill="url(#g3)"/><rect x="633.5" y="298.5" width="17" height="24" rx="0.9" fill="#fff" stroke="#484e5c" stroke-width="1.05"/><text x="642.2" y="314.9" font-size="12" text-anchor="middle" style="fill:#4a4f59">4</text>
<rect x="614" y="335" width="12" height="12" fill="url(#g4)"/><rect x="633.5" y="330.5" width="17" height="24" rx="0.9" fill="#fff" stroke="#484e5c" stroke-width="1.05"/><text x="642.2" y="346.9" font-size="12" text-anchor="middle" style="fill:#4a4f59">5</text>
<rect x="614" y="367" width="12" height="12" fill="url(#g5)"/><rect x="633.5" y="362.5" width="17" height="24" rx="0.9" fill="#fff" stroke="#484e5c" stroke-width="1.05"/><text x="642.2" y="378.9" font-size="12" text-anchor="middle" style="fill:#4a4f59">6</text>


</svg>
</body></html>
